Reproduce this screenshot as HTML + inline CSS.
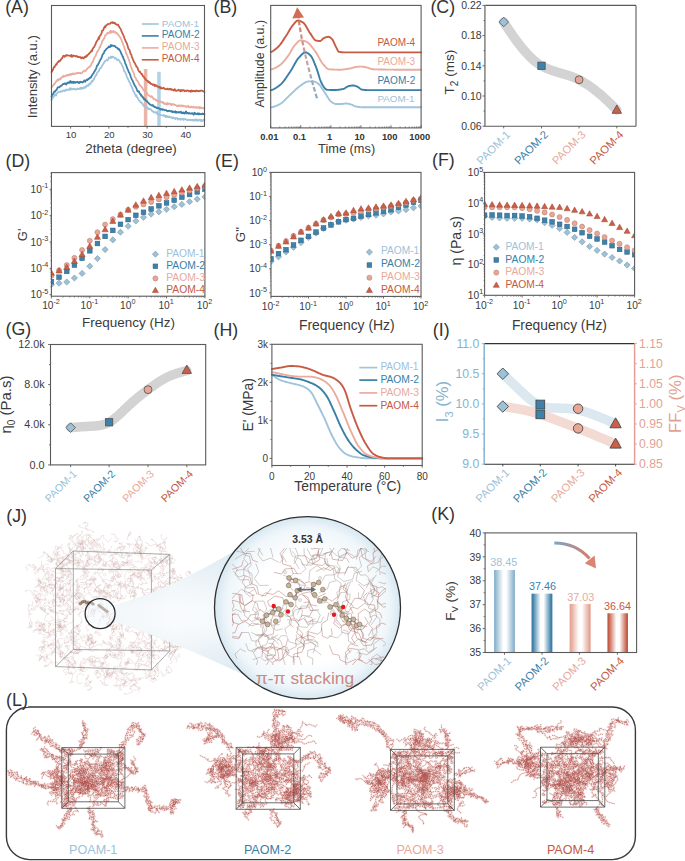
<!DOCTYPE html>
<html><head><meta charset="utf-8"><title>Figure</title>
<style>html,body{margin:0;padding:0;background:#fff;width:685px;height:861px;overflow:hidden;font-family:"Liberation Sans", sans-serif;}svg{display:block;}</style>
</head><body>
<svg width="685" height="861" viewBox="0 0 685 861" font-family='"Liberation Sans", sans-serif'>
<rect width="685" height="861" fill="#ffffff"/>
<text x="5.2" y="12.9" font-size="17.8" fill="#333" text-anchor="start">(A)</text>
<rect x="143.84" y="69" width="3.5" height="57" fill="#eab4a7"/>
<rect x="157.23" y="71.8" width="3.5" height="54" fill="#b1d2e4"/>
<path d="M51.5 100.42 L52.01 97.7 L52.52 98.39 L53.04 97.3 L53.55 96.73 L54.06 96.22 L54.57 94.82 L55.08 95.06 L55.59 94.24 L56.11 95.62 L56.62 93.76 L57.13 93.07 L57.64 92.71 L58.15 92.2 L58.66 91.74 L59.18 91.81 L59.69 92.01 L60.2 91.5 L60.71 91.85 L61.22 91.16 L61.73 91.1 L62.25 91.62 L62.76 91.03 L63.27 90.41 L63.78 90.42 L64.29 90.62 L64.8 91.13 L65.32 90.02 L65.83 89.92 L66.34 90.38 L66.85 89.44 L67.36 89.62 L67.87 90.06 L68.39 89.85 L68.9 89.55 L69.41 89.74 L69.92 88.11 L70.43 89.78 L70.94 88.83 L71.46 88.47 L71.97 89.3 L72.48 89.45 L72.99 88.9 L73.5 88.59 L74.02 89.06 L74.53 88.99 L75.04 89.63 L75.55 89.31 L76.06 89.04 L76.57 89.43 L77.09 88.81 L77.6 88.46 L78.11 89.11 L78.62 89.08 L79.13 88.69 L79.64 88.4 L80.16 88.81 L80.67 87.54 L81.18 88.92 L81.69 88.77 L82.2 87.75 L82.71 88.41 L83.23 87.81 L83.74 88.41 L84.25 86.93 L84.76 87.18 L85.27 87.63 L85.78 87.52 L86.3 85.7 L86.81 86.09 L87.32 86.09 L87.83 85.28 L88.34 85.86 L88.85 84.2 L89.37 84.48 L89.88 83.42 L90.39 84.05 L90.9 82.87 L91.41 82.11 L91.92 80.85 L92.44 81.68 L92.95 80.53 L93.46 79.75 L93.97 79.12 L94.48 77.94 L94.99 76.65 L95.51 75.73 L96.02 74.87 L96.53 74.99 L97.04 72.86 L97.55 72.42 L98.07 71.73 L98.58 71.18 L99.09 70.58 L99.6 69.02 L100.11 68.04 L100.62 68.02 L101.14 67.74 L101.65 66.71 L102.16 65.63 L102.67 64.57 L103.18 64.04 L103.69 63.02 L104.21 62.76 L104.72 61.34 L105.23 61.13 L105.74 60.46 L106.25 60.27 L106.76 59.73 L107.28 60.46 L107.79 59.68 L108.3 59.38 L108.81 57.51 L109.32 58 L109.83 57.64 L110.35 57.94 L110.86 56.49 L111.37 57.9 L111.88 57.75 L112.39 56.62 L112.9 56.76 L113.42 56.9 L113.93 57.4 L114.44 57.83 L114.95 58.68 L115.46 57.92 L115.97 58.64 L116.49 58.69 L117 59.75 L117.51 59.65 L118.02 60.31 L118.53 59.59 L119.05 60.46 L119.56 60.77 L120.07 62.51 L120.58 62.93 L121.09 63.39 L121.6 64.29 L122.12 65.75 L122.63 66.31 L123.14 67.35 L123.65 69.17 L124.16 71.27 L124.67 71.27 L125.19 72.36 L125.7 73.31 L126.21 74.44 L126.72 76.46 L127.23 77.75 L127.74 78.47 L128.26 79.68 L128.77 80.66 L129.28 81.79 L129.79 82.18 L130.3 83.81 L130.81 85.23 L131.33 85.98 L131.84 87.27 L132.35 88.26 L132.86 89.58 L133.37 91.2 L133.88 91.67 L134.4 92.77 L134.91 94.13 L135.42 94.92 L135.93 96.2 L136.44 95.27 L136.95 97.35 L137.47 97.48 L137.98 98.47 L138.49 99.48 L139 100.26 L139.51 100.88 L140.03 101.11 L140.54 102.37 L141.05 102.1 L141.56 102.72 L142.07 103.67 L142.58 103.58 L143.1 105.28 L143.61 105.24 L144.12 106.2 L144.63 105.64 L145.14 105.9 L145.65 106.55 L146.17 107.2 L146.68 106.98 L147.19 107.78 L147.7 107.95 L148.21 109.03 L148.72 108.34 L149.24 109.44 L149.75 108.99 L150.26 109.16 L150.77 109.58 L151.28 109.66 L151.79 110.56 L152.31 111.25 L152.82 111.15 L153.33 111.65 L153.84 112.39 L154.35 112.06 L154.86 112.31 L155.38 112.37 L155.89 112.04 L156.4 113.37 L156.91 112.49 L157.42 113.82 L157.93 113.77 L158.45 114.51 L158.96 114.2 L159.47 114.08 L159.98 114.82 L160.49 114.6 L161.01 114.96 L161.52 115.24 L162.03 115.32 L162.54 115.45 L163.05 115.31 L163.56 115.74 L164.08 115 L164.59 116.03 L165.1 115.7 L165.61 116.88 L166.12 117.08 L166.63 115.75 L167.15 116.82 L167.66 116.82 L168.17 116.53 L168.68 117.35 L169.19 117.02 L169.7 116.54 L170.22 117.32 L170.73 117.48 L171.24 117.69 L171.75 117.18 L172.26 118.11 L172.77 118.25 L173.29 117.49 L173.8 117.79 L174.31 118.13 L174.82 117.99 L175.33 119.1 L175.84 118.48 L176.36 117.99 L176.87 118.15 L177.38 118.54 L177.89 119.65 L178.4 118.59 L178.91 118.78 L179.43 119 L179.94 118.8 L180.45 119.9 L180.96 118.68 L181.47 119.31 L181.98 119.09 L182.5 119.35 L183.01 118.59 L183.52 119.96 L184.03 119.16 L184.54 119.27 L185.06 118.88 L185.57 119.02 L186.08 119.65 L186.59 119.88 L187.1 119.82 L187.61 120.07 L188.13 119.89 L188.64 119.62 L189.15 120.02 L189.66 119.95 L190.17 119.68 L190.68 120.09 L191.2 120.37 L191.71 119.94 L192.22 119.7 L192.73 120.22 L193.24 120.78 L193.75 119.87 L194.27 119.95 L194.78 119.96 L195.29 120.6 L195.8 119.25 L196.31 120.26 L196.82 120.66 L197.34 119.78 L197.85 120.83 L198.36 120.42 L198.87 119.95 L199.38 120.31 L199.89 119.54 L200.41 119.99 L200.92 121.08 L201.43 119.87 L201.94 121.11 L202.45 120.25 L202.96 120.74 L203.48 120.32 L203.99 119.29 L204.5 120.04" fill="none" stroke="#9fc4db" stroke-width="1.75" stroke-linejoin="round" stroke-linecap="round"/>
<path d="M51.5 96.59 L52.01 95.18 L52.52 94.3 L53.04 94.28 L53.55 93.06 L54.06 91.84 L54.57 91.57 L55.08 91.56 L55.59 90.29 L56.11 90.29 L56.62 89.96 L57.13 88.73 L57.64 87.7 L58.15 87.16 L58.66 87.32 L59.18 87.38 L59.69 86.78 L60.2 86.59 L60.71 85.83 L61.22 85.86 L61.73 85.21 L62.25 84.99 L62.76 84.27 L63.27 83.88 L63.78 84.11 L64.29 83.58 L64.8 83.41 L65.32 83.92 L65.83 83.37 L66.34 84.53 L66.85 83.46 L67.36 82.6 L67.87 83.09 L68.39 82.77 L68.9 82.2 L69.41 82.92 L69.92 82.01 L70.43 80.93 L70.94 82.64 L71.46 81.99 L71.97 82.91 L72.48 81.94 L72.99 81.68 L73.5 82.9 L74.02 81.71 L74.53 82.27 L75.04 82.83 L75.55 82.22 L76.06 82.12 L76.57 82.2 L77.09 82.52 L77.6 81.77 L78.11 82.4 L78.62 82.38 L79.13 83.16 L79.64 81.94 L80.16 81.67 L80.67 82.39 L81.18 81.86 L81.69 82.15 L82.2 82.05 L82.71 82.46 L83.23 81.54 L83.74 81.65 L84.25 80.36 L84.76 80.9 L85.27 81.74 L85.78 80.47 L86.3 80.16 L86.81 79.61 L87.32 80.07 L87.83 79.53 L88.34 78.54 L88.85 78.99 L89.37 78.42 L89.88 78.24 L90.39 77.14 L90.9 77.66 L91.41 76.43 L91.92 75.5 L92.44 74.55 L92.95 73.86 L93.46 73.49 L93.97 72.07 L94.48 71.73 L94.99 70.54 L95.51 69.89 L96.02 68.65 L96.53 67.25 L97.04 65.41 L97.55 65.4 L98.07 64.64 L98.58 63.4 L99.09 62.65 L99.6 61.27 L100.11 60.33 L100.62 59.03 L101.14 58.98 L101.65 57.32 L102.16 55.9 L102.67 54.39 L103.18 53.81 L103.69 53.47 L104.21 52.01 L104.72 50.53 L105.23 50.65 L105.74 49.9 L106.25 49.08 L106.76 48.5 L107.28 48.31 L107.79 47.69 L108.3 47.47 L108.81 46.46 L109.32 47.19 L109.83 46.36 L110.35 46.94 L110.86 44.91 L111.37 46 L111.88 46.01 L112.39 45.36 L112.9 45.71 L113.42 45.92 L113.93 45.98 L114.44 45.69 L114.95 46.14 L115.46 46.98 L115.97 47.46 L116.49 47.33 L117 47.75 L117.51 48.25 L118.02 49.09 L118.53 48.62 L119.05 49.05 L119.56 50.39 L120.07 50.64 L120.58 51.78 L121.09 53.08 L121.6 54.34 L122.12 54.79 L122.63 56.85 L123.14 56.95 L123.65 59.29 L124.16 59.66 L124.67 61.13 L125.19 63.34 L125.7 64.2 L126.21 65.34 L126.72 66.79 L127.23 68.44 L127.74 69.4 L128.26 70.56 L128.77 72.21 L129.28 72.59 L129.79 73.91 L130.3 75.1 L130.81 77.08 L131.33 78.21 L131.84 79.55 L132.35 80.15 L132.86 81.26 L133.37 82.85 L133.88 83.39 L134.4 85 L134.91 85.96 L135.42 86.28 L135.93 87.45 L136.44 88.31 L136.95 90 L137.47 91.22 L137.98 90.83 L138.49 91.68 L139 91.42 L139.51 93.3 L140.03 93.93 L140.54 94.16 L141.05 95.67 L141.56 95.27 L142.07 96.51 L142.58 97.27 L143.1 97.22 L143.61 98.71 L144.12 99.33 L144.63 98.75 L145.14 99.25 L145.65 100.65 L146.17 100.84 L146.68 100.77 L147.19 101.63 L147.7 102.14 L148.21 102.54 L148.72 103.37 L149.24 103.55 L149.75 104.53 L150.26 104.69 L150.77 104.7 L151.28 105.18 L151.79 105.58 L152.31 105.6 L152.82 105.01 L153.33 106.22 L153.84 106.14 L154.35 107.1 L154.86 106.67 L155.38 107.11 L155.89 107.26 L156.4 108.1 L156.91 107.65 L157.42 107.67 L157.93 108.14 L158.45 108.01 L158.96 108.48 L159.47 108.59 L159.98 108.89 L160.49 109.8 L161.01 108.92 L161.52 109.27 L162.03 109.31 L162.54 109.83 L163.05 109.13 L163.56 109.47 L164.08 109.89 L164.59 110.28 L165.1 110.13 L165.61 110.04 L166.12 109.99 L166.63 110.72 L167.15 111.24 L167.66 110.84 L168.17 110.88 L168.68 111.1 L169.19 110.57 L169.7 110.95 L170.22 111.06 L170.73 111.4 L171.24 111.34 L171.75 110.89 L172.26 112.02 L172.77 112.35 L173.29 111.55 L173.8 111.92 L174.31 111.93 L174.82 112.23 L175.33 111.27 L175.84 112.72 L176.36 111.85 L176.87 112.68 L177.38 112.2 L177.89 112.04 L178.4 112.2 L178.91 112.72 L179.43 111.98 L179.94 112.25 L180.45 112.25 L180.96 111.74 L181.47 113.15 L181.98 112.87 L182.5 112.65 L183.01 113.23 L183.52 112.32 L184.03 112.77 L184.54 113.62 L185.06 113.33 L185.57 111.93 L186.08 111.48 L186.59 112.56 L187.1 113.54 L187.61 112.9 L188.13 113.05 L188.64 113.46 L189.15 112.83 L189.66 113.37 L190.17 113.66 L190.68 113.56 L191.2 113.56 L191.71 113.15 L192.22 113.68 L192.73 113.29 L193.24 114.11 L193.75 114.71 L194.27 113.25 L194.78 112.63 L195.29 113.45 L195.8 113.83 L196.31 114.16 L196.82 114.2 L197.34 113.38 L197.85 113.4 L198.36 114.35 L198.87 113.31 L199.38 114.31 L199.89 113.73 L200.41 114.19 L200.92 114.18 L201.43 114.22 L201.94 114.25 L202.45 113.44 L202.96 114.03 L203.48 113.9 L203.99 114.04 L204.5 114.45" fill="none" stroke="#3a7fa8" stroke-width="1.75" stroke-linejoin="round" stroke-linecap="round"/>
<path d="M51.5 87.68 L52.01 86.74 L52.52 86.01 L53.04 85.47 L53.55 85.25 L54.06 83.85 L54.57 84.08 L55.08 83.04 L55.59 82.19 L56.11 81.11 L56.62 81.26 L57.13 80.94 L57.64 79.36 L58.15 80.25 L58.66 80.07 L59.18 79.14 L59.69 78.89 L60.2 79.46 L60.71 78.63 L61.22 77.39 L61.73 77.52 L62.25 77.2 L62.76 76.95 L63.27 75.71 L63.78 76.89 L64.29 76.04 L64.8 76.19 L65.32 75.85 L65.83 76.11 L66.34 75.4 L66.85 75 L67.36 75.43 L67.87 75.66 L68.39 74.73 L68.9 75.35 L69.41 74.71 L69.92 74.23 L70.43 75.03 L70.94 73.86 L71.46 74.58 L71.97 73.81 L72.48 74.15 L72.99 73.32 L73.5 73.42 L74.02 74.21 L74.53 73.76 L75.04 73.63 L75.55 73.36 L76.06 73.71 L76.57 72.82 L77.09 72.89 L77.6 73.26 L78.11 72.89 L78.62 72.88 L79.13 73.09 L79.64 72.98 L80.16 72.85 L80.67 73.6 L81.18 73.19 L81.69 73.16 L82.2 72.46 L82.71 72.06 L83.23 71.4 L83.74 71.61 L84.25 70.5 L84.76 70.81 L85.27 71 L85.78 70.95 L86.3 70.18 L86.81 68.85 L87.32 68.93 L87.83 67.81 L88.34 67.97 L88.85 66.98 L89.37 66.83 L89.88 67.01 L90.39 65.62 L90.9 65.53 L91.41 63.77 L91.92 62.69 L92.44 62.54 L92.95 61.77 L93.46 59.75 L93.97 59.02 L94.48 57.29 L94.99 56.78 L95.51 56.19 L96.02 54.66 L96.53 53.36 L97.04 51.9 L97.55 51.64 L98.07 50.78 L98.58 49.67 L99.09 48.53 L99.6 46.88 L100.11 47.23 L100.62 45.34 L101.14 44.19 L101.65 43.46 L102.16 41.03 L102.67 40.85 L103.18 39.72 L103.69 38.9 L104.21 38.34 L104.72 37.03 L105.23 35.15 L105.74 35.09 L106.25 34.72 L106.76 34.21 L107.28 33.21 L107.79 32.7 L108.3 33.37 L108.81 32.96 L109.32 32.51 L109.83 31.48 L110.35 32.83 L110.86 30.53 L111.37 31.52 L111.88 32.51 L112.39 31.44 L112.9 31.61 L113.42 31.05 L113.93 32.33 L114.44 31.35 L114.95 32.31 L115.46 32.57 L115.97 32.4 L116.49 33.67 L117 33.06 L117.51 33.84 L118.02 34.6 L118.53 34.91 L119.05 35.88 L119.56 36.81 L120.07 37.11 L120.58 37.96 L121.09 39.05 L121.6 40.28 L122.12 42.06 L122.63 42.92 L123.14 44.57 L123.65 45.77 L124.16 46.88 L124.67 49.13 L125.19 49.75 L125.7 51.7 L126.21 53.84 L126.72 54.11 L127.23 55.98 L127.74 56.64 L128.26 58.42 L128.77 59.32 L129.28 61.21 L129.79 62.56 L130.3 64.3 L130.81 66.41 L131.33 67.29 L131.84 68.91 L132.35 70.02 L132.86 71.33 L133.37 72.41 L133.88 73.28 L134.4 75.35 L134.91 77.21 L135.42 77.76 L135.93 78.29 L136.44 80.22 L136.95 80.19 L137.47 80.98 L137.98 81.57 L138.49 82.5 L139 83.62 L139.51 85.4 L140.03 85.15 L140.54 85.5 L141.05 86.39 L141.56 87.24 L142.07 87.22 L142.58 88.69 L143.1 89.57 L143.61 90.01 L144.12 90.73 L144.63 90.47 L145.14 90.87 L145.65 92.78 L146.17 93.25 L146.68 92.6 L147.19 93.91 L147.7 94.34 L148.21 95.05 L148.72 95.37 L149.24 95.49 L149.75 96.22 L150.26 96.59 L150.77 96.86 L151.28 96.38 L151.79 96.2 L152.31 97.51 L152.82 97.44 L153.33 98.6 L153.84 99.1 L154.35 99.19 L154.86 99.19 L155.38 99.66 L155.89 100.42 L156.4 99.82 L156.91 100.81 L157.42 100.95 L157.93 100.98 L158.45 101.74 L158.96 100.98 L159.47 101.93 L159.98 101.28 L160.49 101.54 L161.01 101.58 L161.52 102.43 L162.03 101.96 L162.54 102.56 L163.05 102.16 L163.56 103.29 L164.08 103.78 L164.59 103.18 L165.1 103.95 L165.61 103.59 L166.12 104.43 L166.63 103.62 L167.15 102.99 L167.66 104.48 L168.17 103.86 L168.68 103.56 L169.19 103.83 L169.7 103.5 L170.22 104.25 L170.73 103.94 L171.24 105.18 L171.75 104.91 L172.26 103.95 L172.77 104.1 L173.29 104.61 L173.8 104.08 L174.31 104.97 L174.82 105.08 L175.33 104.83 L175.84 105 L176.36 105.54 L176.87 106.03 L177.38 106.13 L177.89 105.54 L178.4 105.97 L178.91 105.32 L179.43 105.9 L179.94 105.35 L180.45 106.17 L180.96 105.35 L181.47 105.54 L181.98 106.03 L182.5 106.35 L183.01 105.51 L183.52 105.98 L184.03 106.34 L184.54 106.44 L185.06 106.02 L185.57 106.5 L186.08 106.4 L186.59 107.21 L187.1 106.88 L187.61 106.09 L188.13 105.76 L188.64 106.85 L189.15 107.39 L189.66 106.99 L190.17 107.36 L190.68 106.79 L191.2 106.45 L191.71 107.45 L192.22 107.2 L192.73 107.51 L193.24 106.63 L193.75 107.38 L194.27 107.06 L194.78 107.74 L195.29 107.16 L195.8 107.19 L196.31 107.24 L196.82 108.1 L197.34 107.58 L197.85 107.26 L198.36 107.18 L198.87 107.2 L199.38 108.36 L199.89 106.91 L200.41 107.37 L200.92 108.06 L201.43 108.33 L201.94 107.75 L202.45 108.19 L202.96 108.2 L203.48 108.32 L203.99 107.91 L204.5 108.64" fill="none" stroke="#e9ad9f" stroke-width="1.75" stroke-linejoin="round" stroke-linecap="round"/>
<path d="M51.5 72.1 L52.01 71.79 L52.52 69.71 L53.04 69.75 L53.55 67.91 L54.06 66.98 L54.57 67.07 L55.08 65.7 L55.59 65.52 L56.11 64.12 L56.62 64.64 L57.13 63.26 L57.64 62.13 L58.15 62.13 L58.66 61.9 L59.18 60.65 L59.69 60.73 L60.2 60.91 L60.71 59.87 L61.22 58.97 L61.73 58.22 L62.25 58.26 L62.76 56.86 L63.27 55.75 L63.78 56.43 L64.29 55.89 L64.8 56.87 L65.32 55.91 L65.83 55.22 L66.34 55.04 L66.85 55.75 L67.36 55.15 L67.87 55.27 L68.39 55.5 L68.9 55.59 L69.41 55.61 L69.92 55.64 L70.43 56.19 L70.94 56.39 L71.46 54.91 L71.97 56.84 L72.48 55.77 L72.99 56.3 L73.5 55.44 L74.02 55.95 L74.53 55.94 L75.04 55.95 L75.55 56.38 L76.06 56.42 L76.57 55.83 L77.09 56.41 L77.6 56.97 L78.11 57.15 L78.62 56.88 L79.13 57.09 L79.64 57.31 L80.16 57.04 L80.67 57.09 L81.18 58.47 L81.69 57.64 L82.2 57.88 L82.71 57.45 L83.23 58.26 L83.74 58.3 L84.25 57.2 L84.76 57.27 L85.27 56.39 L85.78 57.19 L86.3 56.44 L86.81 55.24 L87.32 55.76 L87.83 54.92 L88.34 54.49 L88.85 54 L89.37 53.08 L89.88 52.67 L90.39 52.67 L90.9 51.77 L91.41 50.69 L91.92 51.29 L92.44 49.49 L92.95 48.49 L93.46 47.54 L93.97 47.24 L94.48 46.42 L94.99 45.12 L95.51 44.42 L96.02 42.37 L96.53 41.89 L97.04 40.86 L97.55 40.12 L98.07 39.39 L98.58 37.35 L99.09 38.8 L99.6 36.16 L100.11 35.83 L100.62 35.13 L101.14 34.19 L101.65 32.96 L102.16 30.58 L102.67 30.45 L103.18 30.35 L103.69 28.71 L104.21 27.8 L104.72 26.42 L105.23 27.31 L105.74 26.36 L106.25 25.19 L106.76 25.1 L107.28 24.77 L107.79 23.99 L108.3 24.06 L108.81 24 L109.32 23.85 L109.83 23.92 L110.35 23.14 L110.86 22.73 L111.37 22.97 L111.88 22.4 L112.39 22.06 L112.9 23.13 L113.42 22.51 L113.93 22.88 L114.44 23.32 L114.95 22.79 L115.46 23.89 L115.97 24.16 L116.49 24.3 L117 24.93 L117.51 24.85 L118.02 24.65 L118.53 25.97 L119.05 26.23 L119.56 27.71 L120.07 28.23 L120.58 28.76 L121.09 30.01 L121.6 31.67 L122.12 32.71 L122.63 33.57 L123.14 34.85 L123.65 35.82 L124.16 37.21 L124.67 38.87 L125.19 39.9 L125.7 41.43 L126.21 42.12 L126.72 43.18 L127.23 44.43 L127.74 46.22 L128.26 48.19 L128.77 49.33 L129.28 49.59 L129.79 50.6 L130.3 52.95 L130.81 54.09 L131.33 54.56 L131.84 56.94 L132.35 57.81 L132.86 59.57 L133.37 60.35 L133.88 61.77 L134.4 62.64 L134.91 63.14 L135.42 64.47 L135.93 65.21 L136.44 66.81 L136.95 66.88 L137.47 67.52 L137.98 69.37 L138.49 70.41 L139 71.35 L139.51 71.97 L140.03 71.56 L140.54 72.66 L141.05 73.44 L141.56 74.36 L142.07 74.06 L142.58 75.66 L143.1 76.39 L143.61 76.43 L144.12 77.48 L144.63 78.53 L145.14 78.57 L145.65 79.56 L146.17 80.07 L146.68 80.31 L147.19 80.79 L147.7 80.92 L148.21 82.09 L148.72 81.75 L149.24 82.05 L149.75 83.06 L150.26 82.76 L150.77 83.59 L151.28 84.17 L151.79 84.01 L152.31 84.29 L152.82 84.92 L153.33 85.1 L153.84 84.32 L154.35 84.66 L154.86 86.08 L155.38 85.88 L155.89 84.99 L156.4 85.53 L156.91 86.35 L157.42 86.09 L157.93 86.92 L158.45 86.93 L158.96 87.28 L159.47 86.7 L159.98 87.66 L160.49 88.41 L161.01 87.31 L161.52 88.39 L162.03 88.36 L162.54 88.32 L163.05 88.12 L163.56 87.74 L164.08 87.97 L164.59 88.82 L165.1 89.02 L165.61 89.23 L166.12 89.22 L166.63 89.29 L167.15 88.78 L167.66 88.53 L168.17 89.26 L168.68 89.48 L169.19 89.38 L169.7 88.74 L170.22 89.27 L170.73 88.92 L171.24 89.72 L171.75 89.26 L172.26 89.72 L172.77 90.01 L173.29 89.99 L173.8 90.6 L174.31 89.54 L174.82 89.11 L175.33 90.57 L175.84 90.82 L176.36 90.87 L176.87 90.39 L177.38 90.54 L177.89 90.38 L178.4 89.77 L178.91 90.12 L179.43 90.63 L179.94 90.17 L180.45 91.31 L180.96 89.79 L181.47 90.31 L181.98 91.03 L182.5 90.28 L183.01 90.07 L183.52 89.99 L184.03 90.29 L184.54 91.32 L185.06 90.85 L185.57 90.92 L186.08 90.48 L186.59 91.11 L187.1 90.8 L187.61 90.36 L188.13 90.59 L188.64 90.9 L189.15 91.35 L189.66 90.82 L190.17 91.09 L190.68 91.79 L191.2 90.54 L191.71 90.35 L192.22 91.37 L192.73 91.14 L193.24 90.91 L193.75 91.09 L194.27 90.83 L194.78 91.23 L195.29 90.86 L195.8 91.38 L196.31 90.5 L196.82 90.67 L197.34 91.1 L197.85 90.85 L198.36 91.38 L198.87 91.06 L199.38 90.84 L199.89 91.18 L200.41 90.86 L200.92 90.4 L201.43 90.59 L201.94 90.75 L202.45 90.9 L202.96 91.16 L203.48 91.53 L203.99 91.37 L204.5 91.92" fill="none" stroke="#c75b43" stroke-width="1.75" stroke-linejoin="round" stroke-linecap="round"/>
<line x1="141.8" y1="24" x2="158.7" y2="24" stroke="#9fc4db" stroke-width="1.6"/>
<text x="161.81" y="26.5" font-size="9.9" fill="#9dc2d9" text-anchor="start">PAOM-1</text>
<line x1="141.8" y1="35.9" x2="158.7" y2="35.9" stroke="#3a7fa8" stroke-width="1.6"/>
<text x="161.79" y="38.4" font-size="10.08" fill="#3a7fa8" text-anchor="start">PAOM-2</text>
<line x1="141.8" y1="47.9" x2="158.7" y2="47.9" stroke="#e9ad9f" stroke-width="1.6"/>
<text x="161.8" y="50.4" font-size="10.05" fill="#e8aa9b" text-anchor="start">PAOM-3</text>
<line x1="141.8" y1="59.8" x2="158.7" y2="59.8" stroke="#c75b43" stroke-width="1.6"/>
<text x="161.8" y="62.3" font-size="10.03" fill="#c45a43" text-anchor="start">PAOM-4</text>
<rect x="51.5" y="5.5" width="153" height="120.9" fill="none" stroke="#5a5a5a" stroke-width="1.1"/>
<line x1="70.62" y1="126.4" x2="70.62" y2="128.6" stroke="#5a5a5a" stroke-width="0.9"/>
<text x="71.03" y="138.2" font-size="9.6" fill="#3a3a3a" text-anchor="middle">10</text>
<line x1="108.88" y1="126.4" x2="108.88" y2="128.6" stroke="#5a5a5a" stroke-width="0.9"/>
<text x="109.28" y="138.2" font-size="9.6" fill="#3a3a3a" text-anchor="middle">20</text>
<line x1="147.12" y1="126.4" x2="147.12" y2="128.6" stroke="#5a5a5a" stroke-width="0.9"/>
<text x="147.53" y="138.2" font-size="9.6" fill="#3a3a3a" text-anchor="middle">30</text>
<line x1="185.38" y1="126.4" x2="185.38" y2="128.6" stroke="#5a5a5a" stroke-width="0.9"/>
<text x="185.78" y="138.2" font-size="9.6" fill="#3a3a3a" text-anchor="middle">40</text>
<line x1="89.75" y1="126.4" x2="89.75" y2="127.9" stroke="#5a5a5a" stroke-width="0.8"/>
<line x1="128" y1="126.4" x2="128" y2="127.9" stroke="#5a5a5a" stroke-width="0.8"/>
<line x1="166.25" y1="126.4" x2="166.25" y2="127.9" stroke="#5a5a5a" stroke-width="0.8"/>
<text x="131.04" y="153.4" font-size="13.4" fill="#3a3a3a" text-anchor="middle">2theta (degree)</text>
<text transform="translate(36.8 76.64) rotate(-90)" font-size="13.11" fill="#3a3a3a" text-anchor="middle">Intensity (a.u.)</text>
<text x="213.5" y="12.9" font-size="17.8" fill="#333" text-anchor="start">(B)</text>
<path d="M270.7 107.4 L271.2 107.34 L271.71 107.25 L272.21 107.15 L272.71 107.03 L273.22 106.9 L273.72 106.75 L274.22 106.59 L274.72 106.41 L275.23 106.22 L275.73 106.02 L276.23 105.81 L276.74 105.59 L277.24 105.36 L277.74 105.13 L278.25 104.89 L278.75 104.64 L279.25 104.38 L279.75 104.13 L280.26 103.86 L280.76 103.56 L281.26 103.23 L281.77 102.87 L282.27 102.48 L282.77 102.06 L283.28 101.62 L283.78 101.16 L284.28 100.68 L284.78 100.19 L285.29 99.69 L285.79 99.18 L286.29 98.67 L286.8 98.15 L287.3 97.63 L287.8 97.12 L288.31 96.62 L288.81 96.12 L289.31 95.64 L289.81 95.17 L290.32 94.71 L290.82 94.25 L291.32 93.78 L291.83 93.3 L292.33 92.81 L292.83 92.33 L293.34 91.84 L293.84 91.35 L294.34 90.86 L294.84 90.38 L295.35 89.9 L295.85 89.43 L296.35 88.97 L296.86 88.51 L297.36 88.07 L297.86 87.64 L298.37 87.23 L298.87 86.83 L299.37 86.45 L299.87 86.09 L300.38 85.74 L300.88 85.38 L301.38 85.01 L301.89 84.63 L302.39 84.26 L302.89 83.9 L303.4 83.54 L303.9 83.2 L304.4 82.88 L304.9 82.58 L305.41 82.3 L305.91 82.06 L306.41 81.86 L306.92 81.69 L307.42 81.58 L307.92 81.51 L308.43 81.47 L308.93 81.44 L309.43 81.41 L309.93 81.38 L310.44 81.36 L310.94 81.34 L311.44 81.32 L311.95 81.31 L312.45 81.3 L312.95 81.3 L313.46 81.33 L313.96 81.42 L314.46 81.56 L314.96 81.75 L315.47 81.98 L315.97 82.24 L316.47 82.53 L316.98 82.84 L317.48 83.16 L317.98 83.49 L318.49 83.86 L318.99 84.32 L319.49 84.86 L319.99 85.47 L320.5 86.14 L321 86.85 L321.5 87.61 L322.01 88.39 L322.51 89.18 L323.01 89.99 L323.52 90.78 L324.02 91.56 L324.52 92.32 L325.03 93.03 L325.53 93.76 L326.03 94.54 L326.53 95.35 L327.04 96.17 L327.54 97 L328.04 97.81 L328.55 98.6 L329.05 99.33 L329.55 100.01 L330.06 100.62 L330.56 101.13 L331.06 101.54 L331.56 101.91 L332.07 102.27 L332.57 102.62 L333.07 102.95 L333.58 103.25 L334.08 103.51 L334.58 103.72 L335.09 103.88 L335.59 103.97 L336.09 104 L336.59 104 L337.1 104 L337.6 104 L338.1 104 L338.61 104 L339.11 104 L339.61 104 L340.12 104 L340.62 104 L341.12 104 L341.62 103.98 L342.13 103.94 L342.63 103.88 L343.13 103.8 L343.64 103.73 L344.14 103.66 L344.64 103.59 L345.15 103.54 L345.65 103.51 L346.15 103.5 L346.65 103.53 L347.16 103.58 L347.66 103.66 L348.16 103.76 L348.67 103.87 L349.17 104 L349.67 104.14 L350.18 104.27 L350.68 104.41 L351.18 104.55 L351.68 104.72 L352.19 104.93 L352.69 105.16 L353.19 105.4 L353.7 105.65 L354.2 105.88 L354.7 106.1 L355.21 106.29 L355.71 106.44 L356.21 106.54 L356.71 106.63 L357.22 106.72 L357.72 106.8 L358.22 106.88 L358.73 106.95 L359.23 107.02 L359.73 107.07 L360.24 107.12 L360.74 107.16 L361.24 107.18 L361.74 107.2 L362.25 107.2 L362.75 107.2 L363.25 107.2 L363.76 107.2 L364.26 107.2 L364.76 107.2 L365.27 107.2 L365.77 107.2 L366.27 107.2 L366.77 107.2 L367.28 107.2 L367.78 107.2 L368.28 107.2 L368.79 107.2 L369.29 107.2 L369.79 107.2 L370.3 107.2 L370.8 107.2 L371.3 107.2 L371.81 107.2 L372.31 107.2 L372.81 107.2 L373.31 107.2 L373.82 107.2 L374.32 107.2 L374.82 107.2 L375.33 107.2 L375.83 107.2 L376.33 107.2 L376.84 107.2 L377.34 107.2 L377.84 107.2 L378.34 107.2 L378.85 107.2 L379.35 107.2 L379.85 107.2 L380.36 107.2 L380.86 107.2 L381.36 107.2 L381.87 107.2 L382.37 107.2 L382.87 107.2 L383.37 107.2 L383.88 107.2 L384.38 107.2 L384.88 107.2 L385.39 107.2 L385.89 107.2 L386.39 107.2 L386.9 107.2 L387.4 107.2 L387.9 107.2 L388.4 107.2 L388.91 107.2 L389.41 107.2 L389.91 107.2 L390.42 107.2 L390.92 107.2 L391.42 107.2 L391.93 107.2 L392.43 107.2 L392.93 107.2 L393.43 107.2 L393.94 107.2 L394.44 107.2 L394.94 107.2 L395.45 107.2 L395.95 107.2 L396.45 107.2 L396.96 107.2 L397.46 107.2 L397.96 107.2 L398.46 107.2 L398.97 107.2 L399.47 107.2 L399.97 107.2 L400.48 107.2 L400.98 107.2 L401.48 107.2 L401.99 107.2 L402.49 107.2 L402.99 107.2 L403.49 107.2 L404 107.2 L404.5 107.2 L405 107.2 L405.51 107.2 L406.01 107.2 L406.51 107.2 L407.02 107.2 L407.52 107.2 L408.02 107.2 L408.52 107.2 L409.03 107.2 L409.53 107.2 L410.03 107.2 L410.54 107.2 L411.04 107.2 L411.54 107.2 L412.05 107.2 L412.55 107.2 L413.05 107.2 L413.55 107.2 L414.06 107.2 L414.56 107.2 L415.06 107.2 L415.57 107.2 L416.07 107.2 L416.57 107.2 L417.08 107.2 L417.58 107.2 L418.08 107.2 L418.58 107.2 L419.09 107.2 L419.59 107.2 L420.09 107.2 L420.6 107.2 L421.1 107.2" fill="none" stroke="#9fc4db" stroke-width="1.9" stroke-linejoin="round" stroke-linecap="round"/>
<path d="M270.7 90.2 L271.2 90.09 L271.71 89.94 L272.21 89.78 L272.71 89.59 L273.22 89.38 L273.72 89.15 L274.22 88.9 L274.72 88.63 L275.23 88.34 L275.73 88.04 L276.23 87.72 L276.74 87.39 L277.24 87.05 L277.74 86.69 L278.25 86.33 L278.75 85.96 L279.25 85.58 L279.75 85.19 L280.26 84.79 L280.76 84.36 L281.26 83.88 L281.77 83.37 L282.27 82.81 L282.77 82.23 L283.28 81.62 L283.78 80.98 L284.28 80.31 L284.78 79.63 L285.29 78.93 L285.79 78.21 L286.29 77.48 L286.8 76.74 L287.3 75.99 L287.8 75.24 L288.31 74.49 L288.81 73.75 L289.31 73 L289.81 72.27 L290.32 71.53 L290.82 70.75 L291.32 69.94 L291.83 69.08 L292.33 68.21 L292.83 67.31 L293.34 66.4 L293.84 65.49 L294.34 64.58 L294.84 63.68 L295.35 62.79 L295.85 61.93 L296.35 61.1 L296.86 60.3 L297.36 59.55 L297.86 58.85 L298.37 58.21 L298.87 57.64 L299.37 57.11 L299.87 56.57 L300.38 56.02 L300.88 55.48 L301.38 54.96 L301.89 54.45 L302.39 53.98 L302.89 53.55 L303.4 53.18 L303.9 52.87 L304.4 52.63 L304.9 52.47 L305.41 52.4 L305.91 52.43 L306.41 52.54 L306.92 52.73 L307.42 52.99 L307.92 53.3 L308.43 53.67 L308.93 54.07 L309.43 54.51 L309.93 54.97 L310.44 55.44 L310.94 55.99 L311.44 56.69 L311.95 57.54 L312.45 58.51 L312.95 59.58 L313.46 60.73 L313.96 61.94 L314.46 63.18 L314.96 64.44 L315.47 65.7 L315.97 66.93 L316.47 68.21 L316.98 69.63 L317.48 71.16 L317.98 72.76 L318.49 74.4 L318.99 76.05 L319.49 77.66 L319.99 79.2 L320.5 80.64 L321 81.95 L321.5 83.08 L322.01 84.01 L322.51 84.83 L323.01 85.66 L323.52 86.46 L324.02 87.21 L324.52 87.91 L325.03 88.53 L325.53 89.05 L326.03 89.44 L326.53 89.7 L327.04 89.8 L327.54 89.83 L328.04 89.85 L328.55 89.87 L329.05 89.89 L329.55 89.91 L330.06 89.93 L330.56 89.94 L331.06 89.95 L331.56 89.97 L332.07 89.98 L332.57 89.98 L333.07 89.99 L333.58 89.99 L334.08 90 L334.58 90 L335.09 90 L335.59 89.99 L336.09 89.98 L336.59 89.95 L337.1 89.91 L337.6 89.87 L338.1 89.82 L338.61 89.76 L339.11 89.69 L339.61 89.62 L340.12 89.54 L340.62 89.45 L341.12 89.37 L341.62 89.27 L342.13 89.18 L342.63 89.08 L343.13 88.97 L343.64 88.81 L344.14 88.6 L344.64 88.33 L345.15 88.04 L345.65 87.72 L346.15 87.39 L346.65 87.07 L347.16 86.76 L347.66 86.49 L348.16 86.26 L348.67 86.08 L349.17 85.97 L349.67 85.87 L350.18 85.78 L350.68 85.7 L351.18 85.63 L351.68 85.57 L352.19 85.53 L352.69 85.5 L353.19 85.5 L353.7 85.55 L354.2 85.63 L354.7 85.74 L355.21 85.89 L355.71 86.05 L356.21 86.22 L356.71 86.4 L357.22 86.59 L357.72 86.85 L358.22 87.18 L358.73 87.55 L359.23 87.96 L359.73 88.36 L360.24 88.74 L360.74 89.09 L361.24 89.36 L361.74 89.55 L362.25 89.64 L362.75 89.71 L363.25 89.77 L363.76 89.84 L364.26 89.89 L364.76 89.94 L365.27 89.99 L365.77 90.02 L366.27 90.05 L366.77 90.08 L367.28 90.09 L367.78 90.1 L368.28 90.1 L368.79 90.1 L369.29 90.1 L369.79 90.1 L370.3 90.1 L370.8 90.1 L371.3 90.1 L371.81 90.1 L372.31 90.1 L372.81 90.1 L373.31 90.1 L373.82 90.1 L374.32 90.1 L374.82 90.1 L375.33 90.1 L375.83 90.1 L376.33 90.1 L376.84 90.1 L377.34 90.1 L377.84 90.1 L378.34 90.1 L378.85 90.1 L379.35 90.1 L379.85 90.1 L380.36 90.1 L380.86 90.1 L381.36 90.1 L381.87 90.1 L382.37 90.1 L382.87 90.1 L383.37 90.1 L383.88 90.1 L384.38 90.1 L384.88 90.1 L385.39 90.1 L385.89 90.1 L386.39 90.1 L386.9 90.1 L387.4 90.1 L387.9 90.1 L388.4 90.1 L388.91 90.1 L389.41 90.1 L389.91 90.1 L390.42 90.1 L390.92 90.1 L391.42 90.1 L391.93 90.1 L392.43 90.1 L392.93 90.1 L393.43 90.1 L393.94 90.1 L394.44 90.1 L394.94 90.1 L395.45 90.1 L395.95 90.1 L396.45 90.1 L396.96 90.1 L397.46 90.1 L397.96 90.1 L398.46 90.1 L398.97 90.1 L399.47 90.1 L399.97 90.1 L400.48 90.1 L400.98 90.1 L401.48 90.1 L401.99 90.1 L402.49 90.1 L402.99 90.1 L403.49 90.1 L404 90.1 L404.5 90.1 L405 90.1 L405.51 90.1 L406.01 90.1 L406.51 90.1 L407.02 90.1 L407.52 90.1 L408.02 90.1 L408.52 90.1 L409.03 90.1 L409.53 90.1 L410.03 90.1 L410.54 90.1 L411.04 90.1 L411.54 90.1 L412.05 90.1 L412.55 90.1 L413.05 90.1 L413.55 90.1 L414.06 90.1 L414.56 90.1 L415.06 90.1 L415.57 90.1 L416.07 90.1 L416.57 90.1 L417.08 90.1 L417.58 90.1 L418.08 90.1 L418.58 90.1 L419.09 90.1 L419.59 90.1 L420.09 90.1 L420.6 90.1 L421.1 90.1" fill="none" stroke="#3a7fa8" stroke-width="1.9" stroke-linejoin="round" stroke-linecap="round"/>
<path d="M270.7 69.5 L271.2 69.42 L271.71 69.31 L272.21 69.18 L272.71 69.02 L273.22 68.84 L273.72 68.65 L274.22 68.43 L274.72 68.2 L275.23 67.95 L275.73 67.68 L276.23 67.4 L276.74 67.11 L277.24 66.81 L277.74 66.49 L278.25 66.17 L278.75 65.84 L279.25 65.51 L279.75 65.17 L280.26 64.82 L280.76 64.43 L281.26 64.01 L281.77 63.54 L282.27 63.05 L282.77 62.52 L283.28 61.97 L283.78 61.39 L284.28 60.8 L284.78 60.18 L285.29 59.55 L285.79 58.9 L286.29 58.25 L286.8 57.59 L287.3 56.92 L287.8 56.26 L288.31 55.58 L288.81 54.85 L289.31 54.06 L289.81 53.22 L290.32 52.36 L290.82 51.48 L291.32 50.59 L291.83 49.7 L292.33 48.83 L292.83 47.99 L293.34 47.2 L293.84 46.45 L294.34 45.77 L294.84 45.17 L295.35 44.63 L295.85 44.07 L296.35 43.51 L296.86 42.96 L297.36 42.42 L297.86 41.92 L298.37 41.46 L298.87 41.06 L299.37 40.73 L299.87 40.49 L300.38 40.34 L300.88 40.3 L301.38 40.32 L301.89 40.37 L302.39 40.45 L302.89 40.56 L303.4 40.69 L303.9 40.83 L304.4 41 L304.9 41.18 L305.41 41.37 L305.91 41.56 L306.41 41.76 L306.92 41.99 L307.42 42.28 L307.92 42.63 L308.43 43.03 L308.93 43.48 L309.43 43.98 L309.93 44.51 L310.44 45.08 L310.94 45.68 L311.44 46.3 L311.95 46.95 L312.45 47.6 L312.95 48.27 L313.46 48.95 L313.96 49.62 L314.46 50.29 L314.96 50.95 L315.47 51.64 L315.97 52.39 L316.47 53.19 L316.98 54.03 L317.48 54.91 L317.98 55.81 L318.49 56.73 L318.99 57.65 L319.49 58.57 L319.99 59.47 L320.5 60.35 L321 61.19 L321.5 61.99 L322.01 62.73 L322.51 63.41 L323.01 64.01 L323.52 64.59 L324.02 65.19 L324.52 65.78 L325.03 66.37 L325.53 66.94 L326.03 67.47 L326.53 67.96 L327.04 68.39 L327.54 68.75 L328.04 69.03 L328.55 69.22 L329.05 69.3 L329.55 69.34 L330.06 69.38 L330.56 69.41 L331.06 69.44 L331.56 69.47 L332.07 69.5 L332.57 69.52 L333.07 69.55 L333.58 69.57 L334.08 69.59 L334.58 69.61 L335.09 69.63 L335.59 69.64 L336.09 69.65 L336.59 69.66 L337.1 69.67 L337.6 69.68 L338.1 69.69 L338.61 69.69 L339.11 69.7 L339.61 69.7 L340.12 69.7 L340.62 69.69 L341.12 69.68 L341.62 69.65 L342.13 69.62 L342.63 69.58 L343.13 69.53 L343.64 69.48 L344.14 69.42 L344.64 69.36 L345.15 69.29 L345.65 69.22 L346.15 69.14 L346.65 69.06 L347.16 68.98 L347.66 68.9 L348.16 68.81 L348.67 68.73 L349.17 68.64 L349.67 68.55 L350.18 68.47 L350.68 68.37 L351.18 68.24 L351.68 68.11 L352.19 67.96 L352.69 67.81 L353.19 67.66 L353.7 67.51 L354.2 67.37 L354.7 67.24 L355.21 67.13 L355.71 67.04 L356.21 66.97 L356.71 66.92 L357.22 66.86 L357.72 66.8 L358.22 66.75 L358.73 66.71 L359.23 66.67 L359.73 66.64 L360.24 66.61 L360.74 66.6 L361.24 66.6 L361.74 66.62 L362.25 66.66 L362.75 66.71 L363.25 66.78 L363.76 66.86 L364.26 66.95 L364.76 67.04 L365.27 67.14 L365.77 67.25 L366.27 67.35 L366.77 67.45 L367.28 67.56 L367.78 67.7 L368.28 67.86 L368.79 68.05 L369.29 68.25 L369.79 68.45 L370.3 68.65 L370.8 68.83 L371.3 68.99 L371.81 69.13 L372.31 69.23 L372.81 69.29 L373.31 69.31 L373.82 69.32 L374.32 69.33 L374.82 69.35 L375.33 69.36 L375.83 69.37 L376.33 69.38 L376.84 69.4 L377.34 69.41 L377.84 69.42 L378.34 69.43 L378.85 69.44 L379.35 69.45 L379.85 69.46 L380.36 69.47 L380.86 69.48 L381.36 69.49 L381.87 69.5 L382.37 69.51 L382.87 69.52 L383.37 69.53 L383.88 69.54 L384.38 69.55 L384.88 69.56 L385.39 69.56 L385.89 69.57 L386.39 69.58 L386.9 69.59 L387.4 69.59 L387.9 69.6 L388.4 69.61 L388.91 69.62 L389.41 69.62 L389.91 69.63 L390.42 69.64 L390.92 69.64 L391.42 69.65 L391.93 69.66 L392.43 69.66 L392.93 69.67 L393.43 69.67 L393.94 69.68 L394.44 69.68 L394.94 69.69 L395.45 69.69 L395.95 69.7 L396.45 69.7 L396.96 69.71 L397.46 69.71 L397.96 69.72 L398.46 69.72 L398.97 69.73 L399.47 69.73 L399.97 69.73 L400.48 69.74 L400.98 69.74 L401.48 69.74 L401.99 69.75 L402.49 69.75 L402.99 69.75 L403.49 69.76 L404 69.76 L404.5 69.76 L405 69.76 L405.51 69.77 L406.01 69.77 L406.51 69.77 L407.02 69.77 L407.52 69.78 L408.02 69.78 L408.52 69.78 L409.03 69.78 L409.53 69.78 L410.03 69.78 L410.54 69.79 L411.04 69.79 L411.54 69.79 L412.05 69.79 L412.55 69.79 L413.05 69.79 L413.55 69.79 L414.06 69.79 L414.56 69.8 L415.06 69.8 L415.57 69.8 L416.07 69.8 L416.57 69.8 L417.08 69.8 L417.58 69.8 L418.08 69.8 L418.58 69.8 L419.09 69.8 L419.59 69.8 L420.09 69.8 L420.6 69.8 L421.1 69.8" fill="none" stroke="#e9ad9f" stroke-width="1.9" stroke-linejoin="round" stroke-linecap="round"/>
<path d="M270.7 52 L271.2 51.81 L271.71 51.58 L272.21 51.33 L272.71 51.06 L273.22 50.76 L273.72 50.44 L274.22 50.1 L274.72 49.73 L275.23 49.35 L275.73 48.96 L276.23 48.55 L276.74 48.12 L277.24 47.68 L277.74 47.23 L278.25 46.77 L278.75 46.26 L279.25 45.71 L279.75 45.11 L280.26 44.48 L280.76 43.81 L281.26 43.12 L281.77 42.4 L282.27 41.66 L282.77 40.91 L283.28 40.14 L283.78 39.37 L284.28 38.6 L284.78 37.83 L285.29 37.06 L285.79 36.31 L286.29 35.56 L286.8 34.78 L287.3 33.96 L287.8 33.12 L288.31 32.26 L288.81 31.39 L289.31 30.52 L289.81 29.67 L290.32 28.83 L290.82 28.01 L291.32 27.24 L291.83 26.5 L292.33 25.82 L292.83 25.19 L293.34 24.61 L293.84 24.01 L294.34 23.39 L294.84 22.79 L295.35 22.21 L295.85 21.69 L296.35 21.23 L296.86 20.87 L297.36 20.62 L297.86 20.51 L298.37 20.52 L298.87 20.58 L299.37 20.7 L299.87 20.86 L300.38 21.06 L300.88 21.3 L301.38 21.56 L301.89 21.84 L302.39 22.13 L302.89 22.43 L303.4 22.78 L303.9 23.26 L304.4 23.84 L304.9 24.51 L305.41 25.27 L305.91 26.08 L306.41 26.94 L306.92 27.83 L307.42 28.74 L307.92 29.64 L308.43 30.53 L308.93 31.38 L309.43 32.18 L309.93 32.91 L310.44 33.62 L310.94 34.38 L311.44 35.17 L311.95 35.97 L312.45 36.77 L312.95 37.54 L313.46 38.26 L313.96 38.92 L314.46 39.49 L314.96 39.96 L315.47 40.3 L315.97 40.49 L316.47 40.6 L316.98 40.7 L317.48 40.78 L317.98 40.86 L318.49 40.92 L318.99 40.96 L319.49 40.99 L319.99 41 L320.5 40.89 L321 40.6 L321.5 40.19 L322.01 39.69 L322.51 39.17 L323.01 38.68 L323.52 38.27 L324.02 37.99 L324.52 37.79 L325.03 37.6 L325.53 37.41 L326.03 37.24 L326.53 37.09 L327.04 36.97 L327.54 36.88 L328.04 36.82 L328.55 36.8 L329.05 36.88 L329.55 37.07 L330.06 37.35 L330.56 37.72 L331.06 38.13 L331.56 38.59 L332.07 39.07 L332.57 39.71 L333.07 40.59 L333.58 41.63 L334.08 42.77 L334.58 43.96 L335.09 45.13 L335.59 46.21 L336.09 47.16 L336.59 48.15 L337.1 49.18 L337.6 50.17 L338.1 51.01 L338.61 51.59 L339.11 51.82 L339.61 51.92 L340.12 52.01 L340.62 52.09 L341.12 52.16 L341.62 52.22 L342.13 52.27 L342.63 52.31 L343.13 52.35 L343.64 52.37 L344.14 52.39 L344.64 52.4 L345.15 52.4 L345.65 52.4 L346.15 52.4 L346.65 52.4 L347.16 52.4 L347.66 52.4 L348.16 52.4 L348.67 52.4 L349.17 52.4 L349.67 52.4 L350.18 52.4 L350.68 52.4 L351.18 52.4 L351.68 52.4 L352.19 52.4 L352.69 52.4 L353.19 52.4 L353.7 52.4 L354.2 52.4 L354.7 52.4 L355.21 52.4 L355.71 52.4 L356.21 52.4 L356.71 52.4 L357.22 52.4 L357.72 52.4 L358.22 52.4 L358.73 52.4 L359.23 52.4 L359.73 52.4 L360.24 52.4 L360.74 52.4 L361.24 52.4 L361.74 52.4 L362.25 52.4 L362.75 52.4 L363.25 52.4 L363.76 52.4 L364.26 52.4 L364.76 52.4 L365.27 52.4 L365.77 52.4 L366.27 52.4 L366.77 52.4 L367.28 52.4 L367.78 52.4 L368.28 52.4 L368.79 52.4 L369.29 52.4 L369.79 52.4 L370.3 52.4 L370.8 52.4 L371.3 52.4 L371.81 52.4 L372.31 52.4 L372.81 52.4 L373.31 52.4 L373.82 52.4 L374.32 52.4 L374.82 52.4 L375.33 52.4 L375.83 52.4 L376.33 52.4 L376.84 52.4 L377.34 52.4 L377.84 52.4 L378.34 52.4 L378.85 52.4 L379.35 52.4 L379.85 52.4 L380.36 52.4 L380.86 52.4 L381.36 52.4 L381.87 52.4 L382.37 52.4 L382.87 52.4 L383.37 52.4 L383.88 52.4 L384.38 52.4 L384.88 52.4 L385.39 52.4 L385.89 52.4 L386.39 52.4 L386.9 52.4 L387.4 52.4 L387.9 52.4 L388.4 52.4 L388.91 52.4 L389.41 52.4 L389.91 52.4 L390.42 52.4 L390.92 52.4 L391.42 52.4 L391.93 52.4 L392.43 52.4 L392.93 52.4 L393.43 52.4 L393.94 52.4 L394.44 52.4 L394.94 52.4 L395.45 52.4 L395.95 52.4 L396.45 52.4 L396.96 52.4 L397.46 52.4 L397.96 52.4 L398.46 52.4 L398.97 52.4 L399.47 52.4 L399.97 52.4 L400.48 52.4 L400.98 52.4 L401.48 52.4 L401.99 52.4 L402.49 52.4 L402.99 52.4 L403.49 52.4 L404 52.4 L404.5 52.4 L405 52.4 L405.51 52.4 L406.01 52.4 L406.51 52.4 L407.02 52.4 L407.52 52.4 L408.02 52.4 L408.52 52.4 L409.03 52.4 L409.53 52.4 L410.03 52.4 L410.54 52.4 L411.04 52.4 L411.54 52.4 L412.05 52.4 L412.55 52.4 L413.05 52.4 L413.55 52.4 L414.06 52.4 L414.56 52.4 L415.06 52.4 L415.57 52.4 L416.07 52.4 L416.57 52.4 L417.08 52.4 L417.58 52.4 L418.08 52.4 L418.58 52.4 L419.09 52.4 L419.59 52.4 L420.09 52.4 L420.6 52.4 L421.1 52.4" fill="none" stroke="#c75b43" stroke-width="1.9" stroke-linejoin="round" stroke-linecap="round"/>
<defs><linearGradient id="gB" x1="0" y1="1" x2="0" y2="0"><stop offset="0" stop-color="#86a9c4"/><stop offset="0.5" stop-color="#c7a6a3"/><stop offset="1" stop-color="#d27a66"/></linearGradient></defs>
<path d="M317 98.3 Q302.5 50 298.6 18.5" stroke="url(#gB)" stroke-width="2.2" stroke-dasharray="4.6 2.2" fill="none"/>
<path d="M297.2 7.2 L304 17.4 L292.4 18.4 Z" fill="#cf6d55"/>
<text x="377.41" y="101.9" font-size="9.9" fill="#9dc2d9" text-anchor="start">PAOM-1</text>
<text x="377.39" y="83.6" font-size="10.08" fill="#3a7fa8" text-anchor="start">PAOM-2</text>
<text x="377.4" y="64.8" font-size="10.05" fill="#e8aa9b" text-anchor="start">PAOM-3</text>
<text x="377.4" y="45.7" font-size="10.03" fill="#c45a43" text-anchor="start">PAOM-4</text>
<rect x="270.7" y="5.4" width="150.4" height="122.5" fill="none" stroke="#5a5a5a" stroke-width="1.1"/>
<line x1="270.7" y1="127.9" x2="270.7" y2="125.3" stroke="#5a5a5a" stroke-width="0.9"/>
<text x="269.4" y="140.2" font-size="9.4" fill="#333" text-anchor="middle" font-weight="bold">0.01</text>
<line x1="279.75" y1="127.9" x2="279.75" y2="126.4" stroke="#5a5a5a" stroke-width="0.7"/>
<line x1="285.05" y1="127.9" x2="285.05" y2="126.4" stroke="#5a5a5a" stroke-width="0.7"/>
<line x1="288.81" y1="127.9" x2="288.81" y2="126.4" stroke="#5a5a5a" stroke-width="0.7"/>
<line x1="291.73" y1="127.9" x2="291.73" y2="126.4" stroke="#5a5a5a" stroke-width="0.7"/>
<line x1="294.11" y1="127.9" x2="294.11" y2="126.4" stroke="#5a5a5a" stroke-width="0.7"/>
<line x1="296.12" y1="127.9" x2="296.12" y2="126.4" stroke="#5a5a5a" stroke-width="0.7"/>
<line x1="297.86" y1="127.9" x2="297.86" y2="126.4" stroke="#5a5a5a" stroke-width="0.7"/>
<line x1="299.4" y1="127.9" x2="299.4" y2="126.4" stroke="#5a5a5a" stroke-width="0.7"/>
<line x1="300.78" y1="127.9" x2="300.78" y2="125.3" stroke="#5a5a5a" stroke-width="0.9"/>
<text x="299.48" y="140.2" font-size="9.4" fill="#333" text-anchor="middle" font-weight="bold">0.1</text>
<line x1="309.83" y1="127.9" x2="309.83" y2="126.4" stroke="#5a5a5a" stroke-width="0.7"/>
<line x1="315.13" y1="127.9" x2="315.13" y2="126.4" stroke="#5a5a5a" stroke-width="0.7"/>
<line x1="318.89" y1="127.9" x2="318.89" y2="126.4" stroke="#5a5a5a" stroke-width="0.7"/>
<line x1="321.81" y1="127.9" x2="321.81" y2="126.4" stroke="#5a5a5a" stroke-width="0.7"/>
<line x1="324.19" y1="127.9" x2="324.19" y2="126.4" stroke="#5a5a5a" stroke-width="0.7"/>
<line x1="326.2" y1="127.9" x2="326.2" y2="126.4" stroke="#5a5a5a" stroke-width="0.7"/>
<line x1="327.94" y1="127.9" x2="327.94" y2="126.4" stroke="#5a5a5a" stroke-width="0.7"/>
<line x1="329.48" y1="127.9" x2="329.48" y2="126.4" stroke="#5a5a5a" stroke-width="0.7"/>
<line x1="330.86" y1="127.9" x2="330.86" y2="125.3" stroke="#5a5a5a" stroke-width="0.9"/>
<text x="329.56" y="140.2" font-size="9.4" fill="#333" text-anchor="middle" font-weight="bold">1</text>
<line x1="339.91" y1="127.9" x2="339.91" y2="126.4" stroke="#5a5a5a" stroke-width="0.7"/>
<line x1="345.21" y1="127.9" x2="345.21" y2="126.4" stroke="#5a5a5a" stroke-width="0.7"/>
<line x1="348.97" y1="127.9" x2="348.97" y2="126.4" stroke="#5a5a5a" stroke-width="0.7"/>
<line x1="351.89" y1="127.9" x2="351.89" y2="126.4" stroke="#5a5a5a" stroke-width="0.7"/>
<line x1="354.27" y1="127.9" x2="354.27" y2="126.4" stroke="#5a5a5a" stroke-width="0.7"/>
<line x1="356.28" y1="127.9" x2="356.28" y2="126.4" stroke="#5a5a5a" stroke-width="0.7"/>
<line x1="358.02" y1="127.9" x2="358.02" y2="126.4" stroke="#5a5a5a" stroke-width="0.7"/>
<line x1="359.56" y1="127.9" x2="359.56" y2="126.4" stroke="#5a5a5a" stroke-width="0.7"/>
<line x1="360.94" y1="127.9" x2="360.94" y2="125.3" stroke="#5a5a5a" stroke-width="0.9"/>
<text x="359.64" y="140.2" font-size="9.4" fill="#333" text-anchor="middle" font-weight="bold">10</text>
<line x1="369.99" y1="127.9" x2="369.99" y2="126.4" stroke="#5a5a5a" stroke-width="0.7"/>
<line x1="375.29" y1="127.9" x2="375.29" y2="126.4" stroke="#5a5a5a" stroke-width="0.7"/>
<line x1="379.05" y1="127.9" x2="379.05" y2="126.4" stroke="#5a5a5a" stroke-width="0.7"/>
<line x1="381.97" y1="127.9" x2="381.97" y2="126.4" stroke="#5a5a5a" stroke-width="0.7"/>
<line x1="384.35" y1="127.9" x2="384.35" y2="126.4" stroke="#5a5a5a" stroke-width="0.7"/>
<line x1="386.36" y1="127.9" x2="386.36" y2="126.4" stroke="#5a5a5a" stroke-width="0.7"/>
<line x1="388.1" y1="127.9" x2="388.1" y2="126.4" stroke="#5a5a5a" stroke-width="0.7"/>
<line x1="389.64" y1="127.9" x2="389.64" y2="126.4" stroke="#5a5a5a" stroke-width="0.7"/>
<line x1="391.02" y1="127.9" x2="391.02" y2="125.3" stroke="#5a5a5a" stroke-width="0.9"/>
<text x="389.72" y="140.2" font-size="9.4" fill="#333" text-anchor="middle" font-weight="bold">100</text>
<line x1="400.07" y1="127.9" x2="400.07" y2="126.4" stroke="#5a5a5a" stroke-width="0.7"/>
<line x1="405.37" y1="127.9" x2="405.37" y2="126.4" stroke="#5a5a5a" stroke-width="0.7"/>
<line x1="409.13" y1="127.9" x2="409.13" y2="126.4" stroke="#5a5a5a" stroke-width="0.7"/>
<line x1="412.05" y1="127.9" x2="412.05" y2="126.4" stroke="#5a5a5a" stroke-width="0.7"/>
<line x1="414.43" y1="127.9" x2="414.43" y2="126.4" stroke="#5a5a5a" stroke-width="0.7"/>
<line x1="416.44" y1="127.9" x2="416.44" y2="126.4" stroke="#5a5a5a" stroke-width="0.7"/>
<line x1="418.18" y1="127.9" x2="418.18" y2="126.4" stroke="#5a5a5a" stroke-width="0.7"/>
<line x1="419.72" y1="127.9" x2="419.72" y2="126.4" stroke="#5a5a5a" stroke-width="0.7"/>
<line x1="421.1" y1="127.9" x2="421.1" y2="125.3" stroke="#5a5a5a" stroke-width="0.9"/>
<text x="419.8" y="140.2" font-size="9.4" fill="#333" text-anchor="middle" font-weight="bold">1000</text>
<text x="346.62" y="153" font-size="12.81" fill="#3a3a3a" text-anchor="middle">Time (ms)</text>
<text transform="translate(264.1 63.75) rotate(-90)" font-size="12.42" fill="#3a3a3a" text-anchor="middle">Amplitude (a.u.)</text>
<text x="430.4" y="12.9" font-size="17.8" fill="#333" text-anchor="start">(C)</text>
<path d="M503.7 22.01 L504.27 22.89 L504.84 23.77 L505.41 24.64 L505.97 25.51 L506.54 26.38 L507.11 27.24 L507.68 28.1 L508.25 28.95 L508.82 29.8 L509.38 30.65 L509.95 31.49 L510.52 32.32 L511.09 33.15 L511.66 33.97 L512.23 34.79 L512.79 35.6 L513.36 36.41 L513.93 37.21 L514.5 38.01 L515.07 38.8 L515.64 39.58 L516.2 40.35 L516.77 41.12 L517.34 41.89 L517.91 42.64 L518.48 43.39 L519.05 44.13 L519.61 44.86 L520.18 45.59 L520.75 46.31 L521.32 47.02 L521.89 47.72 L522.46 48.41 L523.02 49.1 L523.59 49.77 L524.16 50.44 L524.73 51.1 L525.3 51.75 L525.87 52.39 L526.43 53.02 L527 53.64 L527.57 54.25 L528.14 54.86 L528.71 55.45 L529.28 56.03 L529.84 56.6 L530.41 57.16 L530.98 57.71 L531.55 58.25 L532.12 58.78 L532.69 59.3 L533.25 59.81 L533.82 60.3 L534.39 60.79 L534.96 61.26 L535.53 61.72 L536.1 62.17 L536.66 62.6 L537.23 63.03 L537.8 63.44 L538.37 63.84 L538.94 64.22 L539.51 64.6 L540.07 64.96 L540.64 65.3 L541.21 65.64 L541.78 65.96 L542.35 66.27 L542.92 66.57 L543.48 66.86 L544.05 67.15 L544.62 67.43 L545.19 67.7 L545.76 67.96 L546.33 68.22 L546.89 68.47 L547.46 68.71 L548.03 68.95 L548.6 69.18 L549.17 69.41 L549.74 69.63 L550.3 69.84 L550.87 70.05 L551.44 70.26 L552.01 70.46 L552.58 70.65 L553.15 70.85 L553.71 71.04 L554.28 71.22 L554.85 71.4 L555.42 71.58 L555.99 71.76 L556.56 71.93 L557.12 72.11 L557.69 72.28 L558.26 72.45 L558.83 72.61 L559.4 72.78 L559.97 72.94 L560.53 73.11 L561.1 73.27 L561.67 73.44 L562.24 73.6 L562.81 73.77 L563.38 73.93 L563.94 74.1 L564.51 74.27 L565.08 74.44 L565.65 74.61 L566.22 74.78 L566.79 74.95 L567.35 75.13 L567.92 75.31 L568.49 75.49 L569.06 75.68 L569.63 75.87 L570.2 76.06 L570.76 76.26 L571.33 76.46 L571.9 76.67 L572.47 76.88 L573.04 77.09 L573.61 77.31 L574.17 77.54 L574.74 77.77 L575.31 78.01 L575.88 78.25 L576.45 78.5 L577.02 78.76 L577.58 79.03 L578.15 79.3 L578.72 79.58 L579.29 79.86 L579.86 80.16 L580.43 80.46 L580.99 80.76 L581.56 81.08 L582.13 81.39 L582.7 81.72 L583.27 82.05 L583.84 82.39 L584.4 82.73 L584.97 83.08 L585.54 83.43 L586.11 83.79 L586.68 84.16 L587.25 84.53 L587.81 84.9 L588.38 85.28 L588.95 85.67 L589.52 86.06 L590.09 86.46 L590.66 86.86 L591.22 87.27 L591.79 87.69 L592.36 88.1 L592.93 88.53 L593.5 88.96 L594.07 89.39 L594.63 89.83 L595.2 90.27 L595.77 90.72 L596.34 91.17 L596.91 91.62 L597.48 92.08 L598.04 92.55 L598.61 93.02 L599.18 93.49 L599.75 93.97 L600.32 94.45 L600.89 94.94 L601.45 95.43 L602.02 95.92 L602.59 96.42 L603.16 96.92 L603.73 97.43 L604.3 97.94 L604.86 98.45 L605.43 98.97 L606 99.49 L606.57 100.01 L607.14 100.54 L607.71 101.07 L608.27 101.6 L608.84 102.14 L609.41 102.68 L609.98 103.22 L610.55 103.77 L611.12 104.32 L611.68 104.87 L612.25 105.43 L612.82 105.99 L613.39 106.55 L613.96 107.11 L614.53 107.68 L615.09 108.25 L615.66 108.82 L616.23 109.39 L616.8 109.97" fill="none" stroke="#d3d3d3" stroke-width="9.5" stroke-linejoin="round" stroke-linecap="round"/>
<path d="M503.7 17.2l4.81 4.81l-4.81 4.81l-4.81 -4.81z" fill="#9cc2da" stroke="#505050" stroke-width="0.8"/>
<rect x="537.86" y="62.16" width="7.29" height="7.29" fill="#3d82ab" stroke="#505050" stroke-width="0.8"/>
<circle cx="579.1" cy="79.77" r="3.95" fill="#e8a696" stroke="#505050" stroke-width="0.8"/>
<path d="M616.8 104.95l4.73 8.37h-9.46z" fill="#cd5f46" stroke="#505050" stroke-width="0.8"/>
<line x1="484.9" y1="5.4" x2="636" y2="5.4" stroke="#5a5a5a" stroke-width="1.1"/>
<line x1="636" y1="5.4" x2="636" y2="126.2" stroke="#5a5a5a" stroke-width="1.1"/>
<line x1="484.9" y1="126.2" x2="636" y2="126.2" stroke="#5a5a5a" stroke-width="1.1"/>
<line x1="484.9" y1="4.9" x2="484.9" y2="126.7" stroke="#8f8f8f" stroke-width="1.7"/>
<line x1="482.5" y1="5.4" x2="484.9" y2="5.4" stroke="#5a5a5a" stroke-width="0.9"/>
<text x="481.6" y="9.1" font-size="10.5" fill="#3a3a3a" text-anchor="end">0.22</text>
<line x1="482.5" y1="35.6" x2="484.9" y2="35.6" stroke="#5a5a5a" stroke-width="0.9"/>
<text x="481.6" y="39.3" font-size="10.5" fill="#3a3a3a" text-anchor="end">0.18</text>
<line x1="482.5" y1="65.8" x2="484.9" y2="65.8" stroke="#5a5a5a" stroke-width="0.9"/>
<text x="481.6" y="69.5" font-size="10.5" fill="#3a3a3a" text-anchor="end">0.14</text>
<line x1="482.5" y1="96" x2="484.9" y2="96" stroke="#5a5a5a" stroke-width="0.9"/>
<text x="481.6" y="99.7" font-size="10.5" fill="#3a3a3a" text-anchor="end">0.10</text>
<line x1="482.5" y1="126.2" x2="484.9" y2="126.2" stroke="#5a5a5a" stroke-width="0.9"/>
<text x="481.6" y="129.9" font-size="10.5" fill="#3a3a3a" text-anchor="end">0.06</text>
<line x1="483.4" y1="20.5" x2="484.9" y2="20.5" stroke="#5a5a5a" stroke-width="0.8"/>
<line x1="483.4" y1="50.7" x2="484.9" y2="50.7" stroke="#5a5a5a" stroke-width="0.8"/>
<line x1="483.4" y1="80.9" x2="484.9" y2="80.9" stroke="#5a5a5a" stroke-width="0.8"/>
<line x1="483.4" y1="111.1" x2="484.9" y2="111.1" stroke="#5a5a5a" stroke-width="0.8"/>
<line x1="503.7" y1="126.2" x2="503.7" y2="128.4" stroke="#5a5a5a" stroke-width="0.9"/>
<line x1="541.5" y1="126.2" x2="541.5" y2="128.4" stroke="#5a5a5a" stroke-width="0.9"/>
<line x1="579.1" y1="126.2" x2="579.1" y2="128.4" stroke="#5a5a5a" stroke-width="0.9"/>
<line x1="616.8" y1="126.2" x2="616.8" y2="128.4" stroke="#5a5a5a" stroke-width="0.9"/>
<text transform="translate(511 135.4) rotate(-45)" font-size="11.2" fill="#9dc2d9" text-anchor="end">PAOM-1</text>
<text transform="translate(548.8 135.4) rotate(-45)" font-size="11.2" fill="#3a7fa8" text-anchor="end">PAOM-2</text>
<text transform="translate(586.4 135.4) rotate(-45)" font-size="11.2" fill="#e8aa9b" text-anchor="end">PAOM-3</text>
<text transform="translate(624.1 135.4) rotate(-45)" font-size="11.2" fill="#c45a43" text-anchor="end">PAOM-4</text>
<text transform="translate(453.7 72.1) rotate(-90)" font-size="13.5" fill="#3a3a3a" text-anchor="middle"><tspan>T</tspan><tspan font-size="10" dy="3.8">2</tspan><tspan dy="-3.8"> (ms)</tspan></text>
<text x="5.5" y="166.7" font-size="17.8" fill="#333" text-anchor="start">(D)</text>
<clipPath id="clipD"><rect x="51.4" y="172.6" width="153.5" height="123.6"/></clipPath>
<g clip-path="url(#clipD)">
<path d="M51.4 281.6l3.1 3.1l-3.1 3.1l-3.1 -3.1z" fill="#9cc2da" stroke="#6f8797" stroke-width="0.5"/>
<path d="M59.07 280.1l3.1 3.1l-3.1 3.1l-3.1 -3.1z" fill="#9cc2da" stroke="#6f8797" stroke-width="0.5"/>
<path d="M66.75 278.9l3.1 3.1l-3.1 3.1l-3.1 -3.1z" fill="#9cc2da" stroke="#6f8797" stroke-width="0.5"/>
<path d="M74.42 274.9l3.1 3.1l-3.1 3.1l-3.1 -3.1z" fill="#9cc2da" stroke="#6f8797" stroke-width="0.5"/>
<path d="M82.1 270.3l3.1 3.1l-3.1 3.1l-3.1 -3.1z" fill="#9cc2da" stroke="#6f8797" stroke-width="0.5"/>
<path d="M89.78 263.1l3.1 3.1l-3.1 3.1l-3.1 -3.1z" fill="#9cc2da" stroke="#6f8797" stroke-width="0.5"/>
<path d="M97.45 255.5l3.1 3.1l-3.1 3.1l-3.1 -3.1z" fill="#9cc2da" stroke="#6f8797" stroke-width="0.5"/>
<path d="M105.12 246.5l3.1 3.1l-3.1 3.1l-3.1 -3.1z" fill="#9cc2da" stroke="#6f8797" stroke-width="0.5"/>
<path d="M112.8 236.8l3.1 3.1l-3.1 3.1l-3.1 -3.1z" fill="#9cc2da" stroke="#6f8797" stroke-width="0.5"/>
<path d="M120.47 229.1l3.1 3.1l-3.1 3.1l-3.1 -3.1z" fill="#9cc2da" stroke="#6f8797" stroke-width="0.5"/>
<path d="M128.15 223.1l3.1 3.1l-3.1 3.1l-3.1 -3.1z" fill="#9cc2da" stroke="#6f8797" stroke-width="0.5"/>
<path d="M135.82 217.9l3.1 3.1l-3.1 3.1l-3.1 -3.1z" fill="#9cc2da" stroke="#6f8797" stroke-width="0.5"/>
<path d="M143.5 214.2l3.1 3.1l-3.1 3.1l-3.1 -3.1z" fill="#9cc2da" stroke="#6f8797" stroke-width="0.5"/>
<path d="M151.18 211l3.1 3.1l-3.1 3.1l-3.1 -3.1z" fill="#9cc2da" stroke="#6f8797" stroke-width="0.5"/>
<path d="M158.85 208.7l3.1 3.1l-3.1 3.1l-3.1 -3.1z" fill="#9cc2da" stroke="#6f8797" stroke-width="0.5"/>
<path d="M166.53 206.2l3.1 3.1l-3.1 3.1l-3.1 -3.1z" fill="#9cc2da" stroke="#6f8797" stroke-width="0.5"/>
<path d="M174.2 203.6l3.1 3.1l-3.1 3.1l-3.1 -3.1z" fill="#9cc2da" stroke="#6f8797" stroke-width="0.5"/>
<path d="M181.88 201.3l3.1 3.1l-3.1 3.1l-3.1 -3.1z" fill="#9cc2da" stroke="#6f8797" stroke-width="0.5"/>
<path d="M189.55 198.6l3.1 3.1l-3.1 3.1l-3.1 -3.1z" fill="#9cc2da" stroke="#6f8797" stroke-width="0.5"/>
<path d="M197.22 196l3.1 3.1l-3.1 3.1l-3.1 -3.1z" fill="#9cc2da" stroke="#6f8797" stroke-width="0.5"/>
<path d="M204.9 193.8l3.1 3.1l-3.1 3.1l-3.1 -3.1z" fill="#9cc2da" stroke="#6f8797" stroke-width="0.5"/>
<rect x="49.05" y="279.35" width="4.7" height="4.7" fill="#3d82ab" stroke="#2d5f80" stroke-width="0.5"/>
<rect x="56.72" y="274.85" width="4.7" height="4.7" fill="#3d82ab" stroke="#2d5f80" stroke-width="0.5"/>
<rect x="64.4" y="269.05" width="4.7" height="4.7" fill="#3d82ab" stroke="#2d5f80" stroke-width="0.5"/>
<rect x="72.08" y="262.75" width="4.7" height="4.7" fill="#3d82ab" stroke="#2d5f80" stroke-width="0.5"/>
<rect x="79.75" y="255.95" width="4.7" height="4.7" fill="#3d82ab" stroke="#2d5f80" stroke-width="0.5"/>
<rect x="87.43" y="248.45" width="4.7" height="4.7" fill="#3d82ab" stroke="#2d5f80" stroke-width="0.5"/>
<rect x="95.1" y="241.15" width="4.7" height="4.7" fill="#3d82ab" stroke="#2d5f80" stroke-width="0.5"/>
<rect x="102.78" y="234.05" width="4.7" height="4.7" fill="#3d82ab" stroke="#2d5f80" stroke-width="0.5"/>
<rect x="110.45" y="228.05" width="4.7" height="4.7" fill="#3d82ab" stroke="#2d5f80" stroke-width="0.5"/>
<rect x="118.12" y="221.95" width="4.7" height="4.7" fill="#3d82ab" stroke="#2d5f80" stroke-width="0.5"/>
<rect x="125.8" y="217.25" width="4.7" height="4.7" fill="#3d82ab" stroke="#2d5f80" stroke-width="0.5"/>
<rect x="133.47" y="212.95" width="4.7" height="4.7" fill="#3d82ab" stroke="#2d5f80" stroke-width="0.5"/>
<rect x="141.15" y="209.95" width="4.7" height="4.7" fill="#3d82ab" stroke="#2d5f80" stroke-width="0.5"/>
<rect x="148.83" y="206.65" width="4.7" height="4.7" fill="#3d82ab" stroke="#2d5f80" stroke-width="0.5"/>
<rect x="156.5" y="203.45" width="4.7" height="4.7" fill="#3d82ab" stroke="#2d5f80" stroke-width="0.5"/>
<rect x="164.18" y="200.55" width="4.7" height="4.7" fill="#3d82ab" stroke="#2d5f80" stroke-width="0.5"/>
<rect x="171.85" y="197.85" width="4.7" height="4.7" fill="#3d82ab" stroke="#2d5f80" stroke-width="0.5"/>
<rect x="179.53" y="194.85" width="4.7" height="4.7" fill="#3d82ab" stroke="#2d5f80" stroke-width="0.5"/>
<rect x="187.2" y="192.15" width="4.7" height="4.7" fill="#3d82ab" stroke="#2d5f80" stroke-width="0.5"/>
<rect x="194.88" y="189.55" width="4.7" height="4.7" fill="#3d82ab" stroke="#2d5f80" stroke-width="0.5"/>
<rect x="202.55" y="186.95" width="4.7" height="4.7" fill="#3d82ab" stroke="#2d5f80" stroke-width="0.5"/>
<circle cx="51.4" cy="275.7" r="2.55" fill="#e8a696" stroke="#b57a6e" stroke-width="0.5"/>
<circle cx="59.07" cy="270.4" r="2.55" fill="#e8a696" stroke="#b57a6e" stroke-width="0.5"/>
<circle cx="66.75" cy="265.1" r="2.55" fill="#e8a696" stroke="#b57a6e" stroke-width="0.5"/>
<circle cx="74.42" cy="257.9" r="2.55" fill="#e8a696" stroke="#b57a6e" stroke-width="0.5"/>
<circle cx="82.1" cy="250" r="2.55" fill="#e8a696" stroke="#b57a6e" stroke-width="0.5"/>
<circle cx="89.78" cy="240.7" r="2.55" fill="#e8a696" stroke="#b57a6e" stroke-width="0.5"/>
<circle cx="97.45" cy="232.2" r="2.55" fill="#e8a696" stroke="#b57a6e" stroke-width="0.5"/>
<circle cx="105.12" cy="224.6" r="2.55" fill="#e8a696" stroke="#b57a6e" stroke-width="0.5"/>
<circle cx="112.8" cy="219.1" r="2.55" fill="#e8a696" stroke="#b57a6e" stroke-width="0.5"/>
<circle cx="120.47" cy="214.5" r="2.55" fill="#e8a696" stroke="#b57a6e" stroke-width="0.5"/>
<circle cx="128.15" cy="209.8" r="2.55" fill="#e8a696" stroke="#b57a6e" stroke-width="0.5"/>
<circle cx="135.82" cy="206.7" r="2.55" fill="#e8a696" stroke="#b57a6e" stroke-width="0.5"/>
<circle cx="143.5" cy="204.4" r="2.55" fill="#e8a696" stroke="#b57a6e" stroke-width="0.5"/>
<circle cx="151.18" cy="202" r="2.55" fill="#e8a696" stroke="#b57a6e" stroke-width="0.5"/>
<circle cx="158.85" cy="199.4" r="2.55" fill="#e8a696" stroke="#b57a6e" stroke-width="0.5"/>
<circle cx="166.53" cy="197.2" r="2.55" fill="#e8a696" stroke="#b57a6e" stroke-width="0.5"/>
<circle cx="174.2" cy="194.9" r="2.55" fill="#e8a696" stroke="#b57a6e" stroke-width="0.5"/>
<circle cx="181.88" cy="192.6" r="2.55" fill="#e8a696" stroke="#b57a6e" stroke-width="0.5"/>
<circle cx="189.55" cy="190.4" r="2.55" fill="#e8a696" stroke="#b57a6e" stroke-width="0.5"/>
<circle cx="197.22" cy="188.1" r="2.55" fill="#e8a696" stroke="#b57a6e" stroke-width="0.5"/>
<circle cx="204.9" cy="186.2" r="2.55" fill="#e8a696" stroke="#b57a6e" stroke-width="0.5"/>
<path d="M51.4 269.86l3.05 5.4h-6.1z" fill="#cd5f46" stroke="#9a4634" stroke-width="0.5"/>
<path d="M59.07 267.56l3.05 5.4h-6.1z" fill="#cd5f46" stroke="#9a4634" stroke-width="0.5"/>
<path d="M66.75 264.16l3.05 5.4h-6.1z" fill="#cd5f46" stroke="#9a4634" stroke-width="0.5"/>
<path d="M74.42 258.06l3.05 5.4h-6.1z" fill="#cd5f46" stroke="#9a4634" stroke-width="0.5"/>
<path d="M82.1 251.26l3.05 5.4h-6.1z" fill="#cd5f46" stroke="#9a4634" stroke-width="0.5"/>
<path d="M89.78 242.96l3.05 5.4h-6.1z" fill="#cd5f46" stroke="#9a4634" stroke-width="0.5"/>
<path d="M97.45 233.96l3.05 5.4h-6.1z" fill="#cd5f46" stroke="#9a4634" stroke-width="0.5"/>
<path d="M105.12 226.36l3.05 5.4h-6.1z" fill="#cd5f46" stroke="#9a4634" stroke-width="0.5"/>
<path d="M112.8 218.06l3.05 5.4h-6.1z" fill="#cd5f46" stroke="#9a4634" stroke-width="0.5"/>
<path d="M120.47 211.76l3.05 5.4h-6.1z" fill="#cd5f46" stroke="#9a4634" stroke-width="0.5"/>
<path d="M128.15 206.76l3.05 5.4h-6.1z" fill="#cd5f46" stroke="#9a4634" stroke-width="0.5"/>
<path d="M135.82 201.76l3.05 5.4h-6.1z" fill="#cd5f46" stroke="#9a4634" stroke-width="0.5"/>
<path d="M143.5 197.76l3.05 5.4h-6.1z" fill="#cd5f46" stroke="#9a4634" stroke-width="0.5"/>
<path d="M151.18 194.36l3.05 5.4h-6.1z" fill="#cd5f46" stroke="#9a4634" stroke-width="0.5"/>
<path d="M158.85 192.16l3.05 5.4h-6.1z" fill="#cd5f46" stroke="#9a4634" stroke-width="0.5"/>
<path d="M166.53 190.16l3.05 5.4h-6.1z" fill="#cd5f46" stroke="#9a4634" stroke-width="0.5"/>
<path d="M174.2 188.36l3.05 5.4h-6.1z" fill="#cd5f46" stroke="#9a4634" stroke-width="0.5"/>
<path d="M181.88 186.66l3.05 5.4h-6.1z" fill="#cd5f46" stroke="#9a4634" stroke-width="0.5"/>
<path d="M189.55 184.86l3.05 5.4h-6.1z" fill="#cd5f46" stroke="#9a4634" stroke-width="0.5"/>
<path d="M197.22 183.36l3.05 5.4h-6.1z" fill="#cd5f46" stroke="#9a4634" stroke-width="0.5"/>
<path d="M204.9 181.86l3.05 5.4h-6.1z" fill="#cd5f46" stroke="#9a4634" stroke-width="0.5"/>
</g>
<rect x="51.4" y="172.6" width="153.5" height="123.6" fill="none" stroke="#5a5a5a" stroke-width="1.1"/>
<line x1="51.4" y1="296.2" x2="51.4" y2="298.4" stroke="#5a5a5a" stroke-width="0.9"/>
<text x="51" y="308.8" font-size="10.2" fill="#3a3a3a" text-anchor="middle">10<tspan font-size="7.2" dy="-4.6">-2</tspan></text>
<line x1="62.95" y1="296.2" x2="62.95" y2="297.6" stroke="#5a5a5a" stroke-width="0.7"/>
<line x1="69.71" y1="296.2" x2="69.71" y2="297.6" stroke="#5a5a5a" stroke-width="0.7"/>
<line x1="74.5" y1="296.2" x2="74.5" y2="297.6" stroke="#5a5a5a" stroke-width="0.7"/>
<line x1="78.22" y1="296.2" x2="78.22" y2="297.6" stroke="#5a5a5a" stroke-width="0.7"/>
<line x1="81.26" y1="296.2" x2="81.26" y2="297.6" stroke="#5a5a5a" stroke-width="0.7"/>
<line x1="83.83" y1="296.2" x2="83.83" y2="297.6" stroke="#5a5a5a" stroke-width="0.7"/>
<line x1="86.06" y1="296.2" x2="86.06" y2="297.6" stroke="#5a5a5a" stroke-width="0.7"/>
<line x1="88.02" y1="296.2" x2="88.02" y2="297.6" stroke="#5a5a5a" stroke-width="0.7"/>
<line x1="89.78" y1="296.2" x2="89.78" y2="298.4" stroke="#5a5a5a" stroke-width="0.9"/>
<text x="89.38" y="308.8" font-size="10.2" fill="#3a3a3a" text-anchor="middle">10<tspan font-size="7.2" dy="-4.6">-1</tspan></text>
<line x1="101.33" y1="296.2" x2="101.33" y2="297.6" stroke="#5a5a5a" stroke-width="0.7"/>
<line x1="108.08" y1="296.2" x2="108.08" y2="297.6" stroke="#5a5a5a" stroke-width="0.7"/>
<line x1="112.88" y1="296.2" x2="112.88" y2="297.6" stroke="#5a5a5a" stroke-width="0.7"/>
<line x1="116.6" y1="296.2" x2="116.6" y2="297.6" stroke="#5a5a5a" stroke-width="0.7"/>
<line x1="119.64" y1="296.2" x2="119.64" y2="297.6" stroke="#5a5a5a" stroke-width="0.7"/>
<line x1="122.21" y1="296.2" x2="122.21" y2="297.6" stroke="#5a5a5a" stroke-width="0.7"/>
<line x1="124.43" y1="296.2" x2="124.43" y2="297.6" stroke="#5a5a5a" stroke-width="0.7"/>
<line x1="126.39" y1="296.2" x2="126.39" y2="297.6" stroke="#5a5a5a" stroke-width="0.7"/>
<line x1="128.15" y1="296.2" x2="128.15" y2="298.4" stroke="#5a5a5a" stroke-width="0.9"/>
<text x="127.75" y="308.8" font-size="10.2" fill="#3a3a3a" text-anchor="middle">10<tspan font-size="7.2" dy="-4.6">0</tspan></text>
<line x1="139.7" y1="296.2" x2="139.7" y2="297.6" stroke="#5a5a5a" stroke-width="0.7"/>
<line x1="146.46" y1="296.2" x2="146.46" y2="297.6" stroke="#5a5a5a" stroke-width="0.7"/>
<line x1="151.25" y1="296.2" x2="151.25" y2="297.6" stroke="#5a5a5a" stroke-width="0.7"/>
<line x1="154.97" y1="296.2" x2="154.97" y2="297.6" stroke="#5a5a5a" stroke-width="0.7"/>
<line x1="158.01" y1="296.2" x2="158.01" y2="297.6" stroke="#5a5a5a" stroke-width="0.7"/>
<line x1="160.58" y1="296.2" x2="160.58" y2="297.6" stroke="#5a5a5a" stroke-width="0.7"/>
<line x1="162.81" y1="296.2" x2="162.81" y2="297.6" stroke="#5a5a5a" stroke-width="0.7"/>
<line x1="164.77" y1="296.2" x2="164.77" y2="297.6" stroke="#5a5a5a" stroke-width="0.7"/>
<line x1="166.53" y1="296.2" x2="166.53" y2="298.4" stroke="#5a5a5a" stroke-width="0.9"/>
<text x="166.12" y="308.8" font-size="10.2" fill="#3a3a3a" text-anchor="middle">10<tspan font-size="7.2" dy="-4.6">1</tspan></text>
<line x1="178.08" y1="296.2" x2="178.08" y2="297.6" stroke="#5a5a5a" stroke-width="0.7"/>
<line x1="184.83" y1="296.2" x2="184.83" y2="297.6" stroke="#5a5a5a" stroke-width="0.7"/>
<line x1="189.63" y1="296.2" x2="189.63" y2="297.6" stroke="#5a5a5a" stroke-width="0.7"/>
<line x1="193.35" y1="296.2" x2="193.35" y2="297.6" stroke="#5a5a5a" stroke-width="0.7"/>
<line x1="196.39" y1="296.2" x2="196.39" y2="297.6" stroke="#5a5a5a" stroke-width="0.7"/>
<line x1="198.96" y1="296.2" x2="198.96" y2="297.6" stroke="#5a5a5a" stroke-width="0.7"/>
<line x1="201.18" y1="296.2" x2="201.18" y2="297.6" stroke="#5a5a5a" stroke-width="0.7"/>
<line x1="203.14" y1="296.2" x2="203.14" y2="297.6" stroke="#5a5a5a" stroke-width="0.7"/>
<line x1="204.9" y1="296.2" x2="204.9" y2="298.4" stroke="#5a5a5a" stroke-width="0.9"/>
<text x="204.5" y="308.8" font-size="10.2" fill="#3a3a3a" text-anchor="middle">10<tspan font-size="7.2" dy="-4.6">2</tspan></text>
<line x1="49.6" y1="189.3" x2="51.4" y2="189.3" stroke="#5a5a5a" stroke-width="0.9"/>
<text x="48.3" y="193" font-size="10.2" fill="#3a3a3a" text-anchor="end">10<tspan font-size="7.2" dy="-4.6">-1</tspan></text>
<line x1="50.3" y1="181.37" x2="51.4" y2="181.37" stroke="#5a5a5a" stroke-width="0.6"/>
<line x1="50.3" y1="176.73" x2="51.4" y2="176.73" stroke="#5a5a5a" stroke-width="0.6"/>
<line x1="50.3" y1="173.44" x2="51.4" y2="173.44" stroke="#5a5a5a" stroke-width="0.6"/>
<line x1="49.6" y1="215.65" x2="51.4" y2="215.65" stroke="#5a5a5a" stroke-width="0.9"/>
<text x="48.3" y="219.35" font-size="10.2" fill="#3a3a3a" text-anchor="end">10<tspan font-size="7.2" dy="-4.6">-2</tspan></text>
<line x1="50.3" y1="207.72" x2="51.4" y2="207.72" stroke="#5a5a5a" stroke-width="0.6"/>
<line x1="50.3" y1="203.08" x2="51.4" y2="203.08" stroke="#5a5a5a" stroke-width="0.6"/>
<line x1="50.3" y1="199.79" x2="51.4" y2="199.79" stroke="#5a5a5a" stroke-width="0.6"/>
<line x1="50.3" y1="197.23" x2="51.4" y2="197.23" stroke="#5a5a5a" stroke-width="0.6"/>
<line x1="50.3" y1="195.15" x2="51.4" y2="195.15" stroke="#5a5a5a" stroke-width="0.6"/>
<line x1="50.3" y1="193.38" x2="51.4" y2="193.38" stroke="#5a5a5a" stroke-width="0.6"/>
<line x1="50.3" y1="191.85" x2="51.4" y2="191.85" stroke="#5a5a5a" stroke-width="0.6"/>
<line x1="50.3" y1="190.51" x2="51.4" y2="190.51" stroke="#5a5a5a" stroke-width="0.6"/>
<line x1="49.6" y1="242" x2="51.4" y2="242" stroke="#5a5a5a" stroke-width="0.9"/>
<text x="48.3" y="245.7" font-size="10.2" fill="#3a3a3a" text-anchor="end">10<tspan font-size="7.2" dy="-4.6">-3</tspan></text>
<line x1="50.3" y1="234.07" x2="51.4" y2="234.07" stroke="#5a5a5a" stroke-width="0.6"/>
<line x1="50.3" y1="229.43" x2="51.4" y2="229.43" stroke="#5a5a5a" stroke-width="0.6"/>
<line x1="50.3" y1="226.14" x2="51.4" y2="226.14" stroke="#5a5a5a" stroke-width="0.6"/>
<line x1="50.3" y1="223.58" x2="51.4" y2="223.58" stroke="#5a5a5a" stroke-width="0.6"/>
<line x1="50.3" y1="221.5" x2="51.4" y2="221.5" stroke="#5a5a5a" stroke-width="0.6"/>
<line x1="50.3" y1="219.73" x2="51.4" y2="219.73" stroke="#5a5a5a" stroke-width="0.6"/>
<line x1="50.3" y1="218.2" x2="51.4" y2="218.2" stroke="#5a5a5a" stroke-width="0.6"/>
<line x1="50.3" y1="216.86" x2="51.4" y2="216.86" stroke="#5a5a5a" stroke-width="0.6"/>
<line x1="49.6" y1="268.35" x2="51.4" y2="268.35" stroke="#5a5a5a" stroke-width="0.9"/>
<text x="48.3" y="272.05" font-size="10.2" fill="#3a3a3a" text-anchor="end">10<tspan font-size="7.2" dy="-4.6">-4</tspan></text>
<line x1="50.3" y1="260.42" x2="51.4" y2="260.42" stroke="#5a5a5a" stroke-width="0.6"/>
<line x1="50.3" y1="255.78" x2="51.4" y2="255.78" stroke="#5a5a5a" stroke-width="0.6"/>
<line x1="50.3" y1="252.49" x2="51.4" y2="252.49" stroke="#5a5a5a" stroke-width="0.6"/>
<line x1="50.3" y1="249.93" x2="51.4" y2="249.93" stroke="#5a5a5a" stroke-width="0.6"/>
<line x1="50.3" y1="247.85" x2="51.4" y2="247.85" stroke="#5a5a5a" stroke-width="0.6"/>
<line x1="50.3" y1="246.08" x2="51.4" y2="246.08" stroke="#5a5a5a" stroke-width="0.6"/>
<line x1="50.3" y1="244.55" x2="51.4" y2="244.55" stroke="#5a5a5a" stroke-width="0.6"/>
<line x1="50.3" y1="243.21" x2="51.4" y2="243.21" stroke="#5a5a5a" stroke-width="0.6"/>
<line x1="49.6" y1="294.7" x2="51.4" y2="294.7" stroke="#5a5a5a" stroke-width="0.9"/>
<text x="48.3" y="298.4" font-size="10.2" fill="#3a3a3a" text-anchor="end">10<tspan font-size="7.2" dy="-4.6">-5</tspan></text>
<line x1="50.3" y1="286.77" x2="51.4" y2="286.77" stroke="#5a5a5a" stroke-width="0.6"/>
<line x1="50.3" y1="282.13" x2="51.4" y2="282.13" stroke="#5a5a5a" stroke-width="0.6"/>
<line x1="50.3" y1="278.84" x2="51.4" y2="278.84" stroke="#5a5a5a" stroke-width="0.6"/>
<line x1="50.3" y1="276.28" x2="51.4" y2="276.28" stroke="#5a5a5a" stroke-width="0.6"/>
<line x1="50.3" y1="274.2" x2="51.4" y2="274.2" stroke="#5a5a5a" stroke-width="0.6"/>
<line x1="50.3" y1="272.43" x2="51.4" y2="272.43" stroke="#5a5a5a" stroke-width="0.6"/>
<line x1="50.3" y1="270.9" x2="51.4" y2="270.9" stroke="#5a5a5a" stroke-width="0.6"/>
<line x1="50.3" y1="269.56" x2="51.4" y2="269.56" stroke="#5a5a5a" stroke-width="0.6"/>
<path d="M155.4 251.1l3.1 3.1l-3.1 3.1l-3.1 -3.1z" fill="#9cc2da" stroke="#6f8797" stroke-width="0.5"/>
<text x="166.19" y="256.7" font-size="10.18" fill="#9dc2d9" text-anchor="start">PAOM-1</text>
<rect x="153.05" y="263.95" width="4.7" height="4.7" fill="#3d82ab" stroke="#2d5f80" stroke-width="0.5"/>
<text x="166.17" y="268.8" font-size="10.36" fill="#3a7fa8" text-anchor="start">PAOM-2</text>
<circle cx="155.4" cy="278.4" r="2.55" fill="#e8a696" stroke="#b57a6e" stroke-width="0.5"/>
<text x="166.17" y="281" font-size="10.33" fill="#e8aa9b" text-anchor="start">PAOM-3</text>
<path d="M155.4 287.16l3.05 5.4h-6.1z" fill="#cd5f46" stroke="#9a4634" stroke-width="0.5"/>
<text x="166.18" y="293" font-size="10.3" fill="#c45a43" text-anchor="start">PAOM-4</text>
<text x="128.47" y="327.2" font-size="13.51" fill="#3a3a3a" text-anchor="middle">Frequency (Hz)</text>
<text transform="translate(27 234.86) rotate(-90)" font-size="12.99" fill="#3a3a3a" text-anchor="middle">G'</text>
<text x="215.1" y="166.7" font-size="17.8" fill="#333" text-anchor="start">(E)</text>
<clipPath id="clipE"><rect x="271" y="172.4" width="150" height="124"/></clipPath>
<g clip-path="url(#clipE)">
<path d="M271 258.4l3.1 3.1l-3.1 3.1l-3.1 -3.1z" fill="#9cc2da" stroke="#6f8797" stroke-width="0.5"/>
<path d="M278.5 253.7l3.1 3.1l-3.1 3.1l-3.1 -3.1z" fill="#9cc2da" stroke="#6f8797" stroke-width="0.5"/>
<path d="M286 248.9l3.1 3.1l-3.1 3.1l-3.1 -3.1z" fill="#9cc2da" stroke="#6f8797" stroke-width="0.5"/>
<path d="M293.5 244.2l3.1 3.1l-3.1 3.1l-3.1 -3.1z" fill="#9cc2da" stroke="#6f8797" stroke-width="0.5"/>
<path d="M301 239.5l3.1 3.1l-3.1 3.1l-3.1 -3.1z" fill="#9cc2da" stroke="#6f8797" stroke-width="0.5"/>
<path d="M308.5 234.4l3.1 3.1l-3.1 3.1l-3.1 -3.1z" fill="#9cc2da" stroke="#6f8797" stroke-width="0.5"/>
<path d="M316 230.1l3.1 3.1l-3.1 3.1l-3.1 -3.1z" fill="#9cc2da" stroke="#6f8797" stroke-width="0.5"/>
<path d="M323.5 225.4l3.1 3.1l-3.1 3.1l-3.1 -3.1z" fill="#9cc2da" stroke="#6f8797" stroke-width="0.5"/>
<path d="M331 221.5l3.1 3.1l-3.1 3.1l-3.1 -3.1z" fill="#9cc2da" stroke="#6f8797" stroke-width="0.5"/>
<path d="M338.5 218.4l3.1 3.1l-3.1 3.1l-3.1 -3.1z" fill="#9cc2da" stroke="#6f8797" stroke-width="0.5"/>
<path d="M346 217.1l3.1 3.1l-3.1 3.1l-3.1 -3.1z" fill="#9cc2da" stroke="#6f8797" stroke-width="0.5"/>
<path d="M353.5 216l3.1 3.1l-3.1 3.1l-3.1 -3.1z" fill="#9cc2da" stroke="#6f8797" stroke-width="0.5"/>
<path d="M361 214.4l3.1 3.1l-3.1 3.1l-3.1 -3.1z" fill="#9cc2da" stroke="#6f8797" stroke-width="0.5"/>
<path d="M368.5 212.9l3.1 3.1l-3.1 3.1l-3.1 -3.1z" fill="#9cc2da" stroke="#6f8797" stroke-width="0.5"/>
<path d="M376 212.1l3.1 3.1l-3.1 3.1l-3.1 -3.1z" fill="#9cc2da" stroke="#6f8797" stroke-width="0.5"/>
<path d="M383.5 210.8l3.1 3.1l-3.1 3.1l-3.1 -3.1z" fill="#9cc2da" stroke="#6f8797" stroke-width="0.5"/>
<path d="M391 208.9l3.1 3.1l-3.1 3.1l-3.1 -3.1z" fill="#9cc2da" stroke="#6f8797" stroke-width="0.5"/>
<path d="M398.5 207.9l3.1 3.1l-3.1 3.1l-3.1 -3.1z" fill="#9cc2da" stroke="#6f8797" stroke-width="0.5"/>
<path d="M406 206.6l3.1 3.1l-3.1 3.1l-3.1 -3.1z" fill="#9cc2da" stroke="#6f8797" stroke-width="0.5"/>
<path d="M413.5 204.7l3.1 3.1l-3.1 3.1l-3.1 -3.1z" fill="#9cc2da" stroke="#6f8797" stroke-width="0.5"/>
<path d="M421 203l3.1 3.1l-3.1 3.1l-3.1 -3.1z" fill="#9cc2da" stroke="#6f8797" stroke-width="0.5"/>
<rect x="268.65" y="256.45" width="4.7" height="4.7" fill="#3d82ab" stroke="#2d5f80" stroke-width="0.5"/>
<rect x="276.15" y="251.25" width="4.7" height="4.7" fill="#3d82ab" stroke="#2d5f80" stroke-width="0.5"/>
<rect x="283.65" y="247.35" width="4.7" height="4.7" fill="#3d82ab" stroke="#2d5f80" stroke-width="0.5"/>
<rect x="291.15" y="242.65" width="4.7" height="4.7" fill="#3d82ab" stroke="#2d5f80" stroke-width="0.5"/>
<rect x="298.65" y="237.95" width="4.7" height="4.7" fill="#3d82ab" stroke="#2d5f80" stroke-width="0.5"/>
<rect x="306.15" y="234.05" width="4.7" height="4.7" fill="#3d82ab" stroke="#2d5f80" stroke-width="0.5"/>
<rect x="313.65" y="229.75" width="4.7" height="4.7" fill="#3d82ab" stroke="#2d5f80" stroke-width="0.5"/>
<rect x="321.15" y="225.65" width="4.7" height="4.7" fill="#3d82ab" stroke="#2d5f80" stroke-width="0.5"/>
<rect x="328.65" y="222.55" width="4.7" height="4.7" fill="#3d82ab" stroke="#2d5f80" stroke-width="0.5"/>
<rect x="336.15" y="219.45" width="4.7" height="4.7" fill="#3d82ab" stroke="#2d5f80" stroke-width="0.5"/>
<rect x="343.65" y="217.25" width="4.7" height="4.7" fill="#3d82ab" stroke="#2d5f80" stroke-width="0.5"/>
<rect x="351.15" y="215.95" width="4.7" height="4.7" fill="#3d82ab" stroke="#2d5f80" stroke-width="0.5"/>
<rect x="358.65" y="213.65" width="4.7" height="4.7" fill="#3d82ab" stroke="#2d5f80" stroke-width="0.5"/>
<rect x="366.15" y="212.05" width="4.7" height="4.7" fill="#3d82ab" stroke="#2d5f80" stroke-width="0.5"/>
<rect x="373.65" y="210.45" width="4.7" height="4.7" fill="#3d82ab" stroke="#2d5f80" stroke-width="0.5"/>
<rect x="381.15" y="208.95" width="4.7" height="4.7" fill="#3d82ab" stroke="#2d5f80" stroke-width="0.5"/>
<rect x="388.65" y="207.35" width="4.7" height="4.7" fill="#3d82ab" stroke="#2d5f80" stroke-width="0.5"/>
<rect x="396.15" y="204.95" width="4.7" height="4.7" fill="#3d82ab" stroke="#2d5f80" stroke-width="0.5"/>
<rect x="403.65" y="202.65" width="4.7" height="4.7" fill="#3d82ab" stroke="#2d5f80" stroke-width="0.5"/>
<rect x="411.15" y="199.95" width="4.7" height="4.7" fill="#3d82ab" stroke="#2d5f80" stroke-width="0.5"/>
<rect x="418.65" y="197.95" width="4.7" height="4.7" fill="#3d82ab" stroke="#2d5f80" stroke-width="0.5"/>
<circle cx="271" cy="250.5" r="2.55" fill="#e8a696" stroke="#b57a6e" stroke-width="0.5"/>
<circle cx="278.5" cy="245.8" r="2.55" fill="#e8a696" stroke="#b57a6e" stroke-width="0.5"/>
<circle cx="286" cy="241.1" r="2.55" fill="#e8a696" stroke="#b57a6e" stroke-width="0.5"/>
<circle cx="293.5" cy="235.9" r="2.55" fill="#e8a696" stroke="#b57a6e" stroke-width="0.5"/>
<circle cx="301" cy="231.7" r="2.55" fill="#e8a696" stroke="#b57a6e" stroke-width="0.5"/>
<circle cx="308.5" cy="227.7" r="2.55" fill="#e8a696" stroke="#b57a6e" stroke-width="0.5"/>
<circle cx="316" cy="223.8" r="2.55" fill="#e8a696" stroke="#b57a6e" stroke-width="0.5"/>
<circle cx="323.5" cy="219.9" r="2.55" fill="#e8a696" stroke="#b57a6e" stroke-width="0.5"/>
<circle cx="331" cy="217.5" r="2.55" fill="#e8a696" stroke="#b57a6e" stroke-width="0.5"/>
<circle cx="338.5" cy="214.4" r="2.55" fill="#e8a696" stroke="#b57a6e" stroke-width="0.5"/>
<circle cx="346" cy="214" r="2.55" fill="#e8a696" stroke="#b57a6e" stroke-width="0.5"/>
<circle cx="353.5" cy="212.8" r="2.55" fill="#e8a696" stroke="#b57a6e" stroke-width="0.5"/>
<circle cx="361" cy="211.3" r="2.55" fill="#e8a696" stroke="#b57a6e" stroke-width="0.5"/>
<circle cx="368.5" cy="209.7" r="2.55" fill="#e8a696" stroke="#b57a6e" stroke-width="0.5"/>
<circle cx="376" cy="208.6" r="2.55" fill="#e8a696" stroke="#b57a6e" stroke-width="0.5"/>
<circle cx="383.5" cy="207.3" r="2.55" fill="#e8a696" stroke="#b57a6e" stroke-width="0.5"/>
<circle cx="391" cy="206.1" r="2.55" fill="#e8a696" stroke="#b57a6e" stroke-width="0.5"/>
<circle cx="398.5" cy="204.5" r="2.55" fill="#e8a696" stroke="#b57a6e" stroke-width="0.5"/>
<circle cx="406" cy="202.6" r="2.55" fill="#e8a696" stroke="#b57a6e" stroke-width="0.5"/>
<circle cx="413.5" cy="200.3" r="2.55" fill="#e8a696" stroke="#b57a6e" stroke-width="0.5"/>
<circle cx="421" cy="198.7" r="2.55" fill="#e8a696" stroke="#b57a6e" stroke-width="0.5"/>
<path d="M271 247.76l3.05 5.4h-6.1z" fill="#cd5f46" stroke="#9a4634" stroke-width="0.5"/>
<path d="M278.5 242.96l3.05 5.4h-6.1z" fill="#cd5f46" stroke="#9a4634" stroke-width="0.5"/>
<path d="M286 238.66l3.05 5.4h-6.1z" fill="#cd5f46" stroke="#9a4634" stroke-width="0.5"/>
<path d="M293.5 233.56l3.05 5.4h-6.1z" fill="#cd5f46" stroke="#9a4634" stroke-width="0.5"/>
<path d="M301 228.86l3.05 5.4h-6.1z" fill="#cd5f46" stroke="#9a4634" stroke-width="0.5"/>
<path d="M308.5 224.76l3.05 5.4h-6.1z" fill="#cd5f46" stroke="#9a4634" stroke-width="0.5"/>
<path d="M316 220.56l3.05 5.4h-6.1z" fill="#cd5f46" stroke="#9a4634" stroke-width="0.5"/>
<path d="M323.5 216.66l3.05 5.4h-6.1z" fill="#cd5f46" stroke="#9a4634" stroke-width="0.5"/>
<path d="M331 213.16l3.05 5.4h-6.1z" fill="#cd5f46" stroke="#9a4634" stroke-width="0.5"/>
<path d="M338.5 210.36l3.05 5.4h-6.1z" fill="#cd5f46" stroke="#9a4634" stroke-width="0.5"/>
<path d="M346 209.76l3.05 5.4h-6.1z" fill="#cd5f46" stroke="#9a4634" stroke-width="0.5"/>
<path d="M353.5 207.26l3.05 5.4h-6.1z" fill="#cd5f46" stroke="#9a4634" stroke-width="0.5"/>
<path d="M361 205.66l3.05 5.4h-6.1z" fill="#cd5f46" stroke="#9a4634" stroke-width="0.5"/>
<path d="M368.5 204.86l3.05 5.4h-6.1z" fill="#cd5f46" stroke="#9a4634" stroke-width="0.5"/>
<path d="M376 203.76l3.05 5.4h-6.1z" fill="#cd5f46" stroke="#9a4634" stroke-width="0.5"/>
<path d="M383.5 202.86l3.05 5.4h-6.1z" fill="#cd5f46" stroke="#9a4634" stroke-width="0.5"/>
<path d="M391 201.76l3.05 5.4h-6.1z" fill="#cd5f46" stroke="#9a4634" stroke-width="0.5"/>
<path d="M398.5 200.16l3.05 5.4h-6.1z" fill="#cd5f46" stroke="#9a4634" stroke-width="0.5"/>
<path d="M406 198.16l3.05 5.4h-6.1z" fill="#cd5f46" stroke="#9a4634" stroke-width="0.5"/>
<path d="M413.5 196.56l3.05 5.4h-6.1z" fill="#cd5f46" stroke="#9a4634" stroke-width="0.5"/>
<path d="M421 194.66l3.05 5.4h-6.1z" fill="#cd5f46" stroke="#9a4634" stroke-width="0.5"/>
</g>
<rect x="271" y="172.4" width="150" height="124" fill="none" stroke="#5a5a5a" stroke-width="1.1"/>
<line x1="271" y1="296.4" x2="271" y2="298.6" stroke="#5a5a5a" stroke-width="0.9"/>
<text x="270.6" y="310.4" font-size="10.2" fill="#3a3a3a" text-anchor="middle">10<tspan font-size="7.2" dy="-4.6">-2</tspan></text>
<line x1="282.29" y1="296.4" x2="282.29" y2="297.8" stroke="#5a5a5a" stroke-width="0.7"/>
<line x1="288.89" y1="296.4" x2="288.89" y2="297.8" stroke="#5a5a5a" stroke-width="0.7"/>
<line x1="293.58" y1="296.4" x2="293.58" y2="297.8" stroke="#5a5a5a" stroke-width="0.7"/>
<line x1="297.21" y1="296.4" x2="297.21" y2="297.8" stroke="#5a5a5a" stroke-width="0.7"/>
<line x1="300.18" y1="296.4" x2="300.18" y2="297.8" stroke="#5a5a5a" stroke-width="0.7"/>
<line x1="302.69" y1="296.4" x2="302.69" y2="297.8" stroke="#5a5a5a" stroke-width="0.7"/>
<line x1="304.87" y1="296.4" x2="304.87" y2="297.8" stroke="#5a5a5a" stroke-width="0.7"/>
<line x1="306.78" y1="296.4" x2="306.78" y2="297.8" stroke="#5a5a5a" stroke-width="0.7"/>
<line x1="308.5" y1="296.4" x2="308.5" y2="298.6" stroke="#5a5a5a" stroke-width="0.9"/>
<text x="308.1" y="310.4" font-size="10.2" fill="#3a3a3a" text-anchor="middle">10<tspan font-size="7.2" dy="-4.6">-1</tspan></text>
<line x1="319.79" y1="296.4" x2="319.79" y2="297.8" stroke="#5a5a5a" stroke-width="0.7"/>
<line x1="326.39" y1="296.4" x2="326.39" y2="297.8" stroke="#5a5a5a" stroke-width="0.7"/>
<line x1="331.08" y1="296.4" x2="331.08" y2="297.8" stroke="#5a5a5a" stroke-width="0.7"/>
<line x1="334.71" y1="296.4" x2="334.71" y2="297.8" stroke="#5a5a5a" stroke-width="0.7"/>
<line x1="337.68" y1="296.4" x2="337.68" y2="297.8" stroke="#5a5a5a" stroke-width="0.7"/>
<line x1="340.19" y1="296.4" x2="340.19" y2="297.8" stroke="#5a5a5a" stroke-width="0.7"/>
<line x1="342.37" y1="296.4" x2="342.37" y2="297.8" stroke="#5a5a5a" stroke-width="0.7"/>
<line x1="344.28" y1="296.4" x2="344.28" y2="297.8" stroke="#5a5a5a" stroke-width="0.7"/>
<line x1="346" y1="296.4" x2="346" y2="298.6" stroke="#5a5a5a" stroke-width="0.9"/>
<text x="345.6" y="310.4" font-size="10.2" fill="#3a3a3a" text-anchor="middle">10<tspan font-size="7.2" dy="-4.6">0</tspan></text>
<line x1="357.29" y1="296.4" x2="357.29" y2="297.8" stroke="#5a5a5a" stroke-width="0.7"/>
<line x1="363.89" y1="296.4" x2="363.89" y2="297.8" stroke="#5a5a5a" stroke-width="0.7"/>
<line x1="368.58" y1="296.4" x2="368.58" y2="297.8" stroke="#5a5a5a" stroke-width="0.7"/>
<line x1="372.21" y1="296.4" x2="372.21" y2="297.8" stroke="#5a5a5a" stroke-width="0.7"/>
<line x1="375.18" y1="296.4" x2="375.18" y2="297.8" stroke="#5a5a5a" stroke-width="0.7"/>
<line x1="377.69" y1="296.4" x2="377.69" y2="297.8" stroke="#5a5a5a" stroke-width="0.7"/>
<line x1="379.87" y1="296.4" x2="379.87" y2="297.8" stroke="#5a5a5a" stroke-width="0.7"/>
<line x1="381.78" y1="296.4" x2="381.78" y2="297.8" stroke="#5a5a5a" stroke-width="0.7"/>
<line x1="383.5" y1="296.4" x2="383.5" y2="298.6" stroke="#5a5a5a" stroke-width="0.9"/>
<text x="383.1" y="310.4" font-size="10.2" fill="#3a3a3a" text-anchor="middle">10<tspan font-size="7.2" dy="-4.6">1</tspan></text>
<line x1="394.79" y1="296.4" x2="394.79" y2="297.8" stroke="#5a5a5a" stroke-width="0.7"/>
<line x1="401.39" y1="296.4" x2="401.39" y2="297.8" stroke="#5a5a5a" stroke-width="0.7"/>
<line x1="406.08" y1="296.4" x2="406.08" y2="297.8" stroke="#5a5a5a" stroke-width="0.7"/>
<line x1="409.71" y1="296.4" x2="409.71" y2="297.8" stroke="#5a5a5a" stroke-width="0.7"/>
<line x1="412.68" y1="296.4" x2="412.68" y2="297.8" stroke="#5a5a5a" stroke-width="0.7"/>
<line x1="415.19" y1="296.4" x2="415.19" y2="297.8" stroke="#5a5a5a" stroke-width="0.7"/>
<line x1="417.37" y1="296.4" x2="417.37" y2="297.8" stroke="#5a5a5a" stroke-width="0.7"/>
<line x1="419.28" y1="296.4" x2="419.28" y2="297.8" stroke="#5a5a5a" stroke-width="0.7"/>
<line x1="421" y1="296.4" x2="421" y2="298.6" stroke="#5a5a5a" stroke-width="0.9"/>
<text x="420.6" y="310.4" font-size="10.2" fill="#3a3a3a" text-anchor="middle">10<tspan font-size="7.2" dy="-4.6">2</tspan></text>
<line x1="269.2" y1="172.4" x2="271" y2="172.4" stroke="#5a5a5a" stroke-width="0.9"/>
<text x="267" y="176.1" font-size="10.2" fill="#3a3a3a" text-anchor="end">10<tspan font-size="7.2" dy="-4.6">0</tspan></text>
<line x1="269.2" y1="196.48" x2="271" y2="196.48" stroke="#5a5a5a" stroke-width="0.9"/>
<text x="267" y="200.18" font-size="10.2" fill="#3a3a3a" text-anchor="end">10<tspan font-size="7.2" dy="-4.6">-1</tspan></text>
<line x1="269.9" y1="189.23" x2="271" y2="189.23" stroke="#5a5a5a" stroke-width="0.6"/>
<line x1="269.9" y1="184.99" x2="271" y2="184.99" stroke="#5a5a5a" stroke-width="0.6"/>
<line x1="269.9" y1="181.98" x2="271" y2="181.98" stroke="#5a5a5a" stroke-width="0.6"/>
<line x1="269.9" y1="179.65" x2="271" y2="179.65" stroke="#5a5a5a" stroke-width="0.6"/>
<line x1="269.9" y1="177.74" x2="271" y2="177.74" stroke="#5a5a5a" stroke-width="0.6"/>
<line x1="269.9" y1="176.13" x2="271" y2="176.13" stroke="#5a5a5a" stroke-width="0.6"/>
<line x1="269.9" y1="174.73" x2="271" y2="174.73" stroke="#5a5a5a" stroke-width="0.6"/>
<line x1="269.9" y1="173.5" x2="271" y2="173.5" stroke="#5a5a5a" stroke-width="0.6"/>
<line x1="269.2" y1="220.56" x2="271" y2="220.56" stroke="#5a5a5a" stroke-width="0.9"/>
<text x="267" y="224.26" font-size="10.2" fill="#3a3a3a" text-anchor="end">10<tspan font-size="7.2" dy="-4.6">-2</tspan></text>
<line x1="269.9" y1="213.31" x2="271" y2="213.31" stroke="#5a5a5a" stroke-width="0.6"/>
<line x1="269.9" y1="209.07" x2="271" y2="209.07" stroke="#5a5a5a" stroke-width="0.6"/>
<line x1="269.9" y1="206.06" x2="271" y2="206.06" stroke="#5a5a5a" stroke-width="0.6"/>
<line x1="269.9" y1="203.73" x2="271" y2="203.73" stroke="#5a5a5a" stroke-width="0.6"/>
<line x1="269.9" y1="201.82" x2="271" y2="201.82" stroke="#5a5a5a" stroke-width="0.6"/>
<line x1="269.9" y1="200.21" x2="271" y2="200.21" stroke="#5a5a5a" stroke-width="0.6"/>
<line x1="269.9" y1="198.81" x2="271" y2="198.81" stroke="#5a5a5a" stroke-width="0.6"/>
<line x1="269.9" y1="197.58" x2="271" y2="197.58" stroke="#5a5a5a" stroke-width="0.6"/>
<line x1="269.2" y1="244.64" x2="271" y2="244.64" stroke="#5a5a5a" stroke-width="0.9"/>
<text x="267" y="248.34" font-size="10.2" fill="#3a3a3a" text-anchor="end">10<tspan font-size="7.2" dy="-4.6">-3</tspan></text>
<line x1="269.9" y1="237.39" x2="271" y2="237.39" stroke="#5a5a5a" stroke-width="0.6"/>
<line x1="269.9" y1="233.15" x2="271" y2="233.15" stroke="#5a5a5a" stroke-width="0.6"/>
<line x1="269.9" y1="230.14" x2="271" y2="230.14" stroke="#5a5a5a" stroke-width="0.6"/>
<line x1="269.9" y1="227.81" x2="271" y2="227.81" stroke="#5a5a5a" stroke-width="0.6"/>
<line x1="269.9" y1="225.9" x2="271" y2="225.9" stroke="#5a5a5a" stroke-width="0.6"/>
<line x1="269.9" y1="224.29" x2="271" y2="224.29" stroke="#5a5a5a" stroke-width="0.6"/>
<line x1="269.9" y1="222.89" x2="271" y2="222.89" stroke="#5a5a5a" stroke-width="0.6"/>
<line x1="269.9" y1="221.66" x2="271" y2="221.66" stroke="#5a5a5a" stroke-width="0.6"/>
<line x1="269.2" y1="268.72" x2="271" y2="268.72" stroke="#5a5a5a" stroke-width="0.9"/>
<text x="267" y="272.42" font-size="10.2" fill="#3a3a3a" text-anchor="end">10<tspan font-size="7.2" dy="-4.6">-4</tspan></text>
<line x1="269.9" y1="261.47" x2="271" y2="261.47" stroke="#5a5a5a" stroke-width="0.6"/>
<line x1="269.9" y1="257.23" x2="271" y2="257.23" stroke="#5a5a5a" stroke-width="0.6"/>
<line x1="269.9" y1="254.22" x2="271" y2="254.22" stroke="#5a5a5a" stroke-width="0.6"/>
<line x1="269.9" y1="251.89" x2="271" y2="251.89" stroke="#5a5a5a" stroke-width="0.6"/>
<line x1="269.9" y1="249.98" x2="271" y2="249.98" stroke="#5a5a5a" stroke-width="0.6"/>
<line x1="269.9" y1="248.37" x2="271" y2="248.37" stroke="#5a5a5a" stroke-width="0.6"/>
<line x1="269.9" y1="246.97" x2="271" y2="246.97" stroke="#5a5a5a" stroke-width="0.6"/>
<line x1="269.9" y1="245.74" x2="271" y2="245.74" stroke="#5a5a5a" stroke-width="0.6"/>
<line x1="269.2" y1="292.8" x2="271" y2="292.8" stroke="#5a5a5a" stroke-width="0.9"/>
<text x="267" y="296.5" font-size="10.2" fill="#3a3a3a" text-anchor="end">10<tspan font-size="7.2" dy="-4.6">-5</tspan></text>
<line x1="269.9" y1="285.55" x2="271" y2="285.55" stroke="#5a5a5a" stroke-width="0.6"/>
<line x1="269.9" y1="281.31" x2="271" y2="281.31" stroke="#5a5a5a" stroke-width="0.6"/>
<line x1="269.9" y1="278.3" x2="271" y2="278.3" stroke="#5a5a5a" stroke-width="0.6"/>
<line x1="269.9" y1="275.97" x2="271" y2="275.97" stroke="#5a5a5a" stroke-width="0.6"/>
<line x1="269.9" y1="274.06" x2="271" y2="274.06" stroke="#5a5a5a" stroke-width="0.6"/>
<line x1="269.9" y1="272.45" x2="271" y2="272.45" stroke="#5a5a5a" stroke-width="0.6"/>
<line x1="269.9" y1="271.05" x2="271" y2="271.05" stroke="#5a5a5a" stroke-width="0.6"/>
<line x1="269.9" y1="269.82" x2="271" y2="269.82" stroke="#5a5a5a" stroke-width="0.6"/>
<path d="M369.4 249l3.1 3.1l-3.1 3.1l-3.1 -3.1z" fill="#9cc2da" stroke="#6f8797" stroke-width="0.5"/>
<text x="380.99" y="253.9" font-size="10.18" fill="#9dc2d9" text-anchor="start">PAOM-1</text>
<rect x="367.05" y="262.75" width="4.7" height="4.7" fill="#3d82ab" stroke="#2d5f80" stroke-width="0.5"/>
<text x="380.97" y="267" font-size="10.36" fill="#3a7fa8" text-anchor="start">PAOM-2</text>
<circle cx="369.4" cy="277.7" r="2.55" fill="#e8a696" stroke="#b57a6e" stroke-width="0.5"/>
<text x="380.97" y="279.9" font-size="10.33" fill="#e8aa9b" text-anchor="start">PAOM-3</text>
<path d="M369.4 287.06l3.05 5.4h-6.1z" fill="#cd5f46" stroke="#9a4634" stroke-width="0.5"/>
<text x="380.98" y="292.7" font-size="10.3" fill="#c45a43" text-anchor="start">PAOM-4</text>
<text x="346.77" y="329.8" font-size="13.9" fill="#3a3a3a" text-anchor="middle">Frequency (Hz)</text>
<text transform="translate(245 234.63) rotate(-90)" font-size="13.3" fill="#3a3a3a" text-anchor="middle">G"</text>
<text x="432" y="166.3" font-size="17.8" fill="#333" text-anchor="start">(F)</text>
<clipPath id="clipF"><rect x="484.6" y="172.4" width="150" height="122.9"/></clipPath>
<g clip-path="url(#clipF)">
<path d="M484.6 213.3l3.1 3.1l-3.1 3.1l-3.1 -3.1z" fill="#9cc2da" stroke="#6f8797" stroke-width="0.5"/>
<path d="M492.1 214.4l3.1 3.1l-3.1 3.1l-3.1 -3.1z" fill="#9cc2da" stroke="#6f8797" stroke-width="0.5"/>
<path d="M499.6 214.9l3.1 3.1l-3.1 3.1l-3.1 -3.1z" fill="#9cc2da" stroke="#6f8797" stroke-width="0.5"/>
<path d="M507.1 215.2l3.1 3.1l-3.1 3.1l-3.1 -3.1z" fill="#9cc2da" stroke="#6f8797" stroke-width="0.5"/>
<path d="M514.6 215.2l3.1 3.1l-3.1 3.1l-3.1 -3.1z" fill="#9cc2da" stroke="#6f8797" stroke-width="0.5"/>
<path d="M522.1 215.2l3.1 3.1l-3.1 3.1l-3.1 -3.1z" fill="#9cc2da" stroke="#6f8797" stroke-width="0.5"/>
<path d="M529.6 216l3.1 3.1l-3.1 3.1l-3.1 -3.1z" fill="#9cc2da" stroke="#6f8797" stroke-width="0.5"/>
<path d="M537.1 216.8l3.1 3.1l-3.1 3.1l-3.1 -3.1z" fill="#9cc2da" stroke="#6f8797" stroke-width="0.5"/>
<path d="M544.6 219.6l3.1 3.1l-3.1 3.1l-3.1 -3.1z" fill="#9cc2da" stroke="#6f8797" stroke-width="0.5"/>
<path d="M552.1 222.3l3.1 3.1l-3.1 3.1l-3.1 -3.1z" fill="#9cc2da" stroke="#6f8797" stroke-width="0.5"/>
<path d="M559.6 225.4l3.1 3.1l-3.1 3.1l-3.1 -3.1z" fill="#9cc2da" stroke="#6f8797" stroke-width="0.5"/>
<path d="M567.1 229.3l3.1 3.1l-3.1 3.1l-3.1 -3.1z" fill="#9cc2da" stroke="#6f8797" stroke-width="0.5"/>
<path d="M574.6 234.3l3.1 3.1l-3.1 3.1l-3.1 -3.1z" fill="#9cc2da" stroke="#6f8797" stroke-width="0.5"/>
<path d="M582.1 238.7l3.1 3.1l-3.1 3.1l-3.1 -3.1z" fill="#9cc2da" stroke="#6f8797" stroke-width="0.5"/>
<path d="M589.6 243.4l3.1 3.1l-3.1 3.1l-3.1 -3.1z" fill="#9cc2da" stroke="#6f8797" stroke-width="0.5"/>
<path d="M597.1 247.3l3.1 3.1l-3.1 3.1l-3.1 -3.1z" fill="#9cc2da" stroke="#6f8797" stroke-width="0.5"/>
<path d="M604.6 251l3.1 3.1l-3.1 3.1l-3.1 -3.1z" fill="#9cc2da" stroke="#6f8797" stroke-width="0.5"/>
<path d="M612.1 254.4l3.1 3.1l-3.1 3.1l-3.1 -3.1z" fill="#9cc2da" stroke="#6f8797" stroke-width="0.5"/>
<path d="M619.6 257.9l3.1 3.1l-3.1 3.1l-3.1 -3.1z" fill="#9cc2da" stroke="#6f8797" stroke-width="0.5"/>
<path d="M627.1 261.9l3.1 3.1l-3.1 3.1l-3.1 -3.1z" fill="#9cc2da" stroke="#6f8797" stroke-width="0.5"/>
<path d="M634.6 265.4l3.1 3.1l-3.1 3.1l-3.1 -3.1z" fill="#9cc2da" stroke="#6f8797" stroke-width="0.5"/>
<rect x="482.25" y="212.85" width="4.7" height="4.7" fill="#3d82ab" stroke="#2d5f80" stroke-width="0.5"/>
<rect x="489.75" y="212.55" width="4.7" height="4.7" fill="#3d82ab" stroke="#2d5f80" stroke-width="0.5"/>
<rect x="497.25" y="212.85" width="4.7" height="4.7" fill="#3d82ab" stroke="#2d5f80" stroke-width="0.5"/>
<rect x="504.75" y="213.15" width="4.7" height="4.7" fill="#3d82ab" stroke="#2d5f80" stroke-width="0.5"/>
<rect x="512.25" y="213.15" width="4.7" height="4.7" fill="#3d82ab" stroke="#2d5f80" stroke-width="0.5"/>
<rect x="519.75" y="213.65" width="4.7" height="4.7" fill="#3d82ab" stroke="#2d5f80" stroke-width="0.5"/>
<rect x="527.25" y="214.35" width="4.7" height="4.7" fill="#3d82ab" stroke="#2d5f80" stroke-width="0.5"/>
<rect x="534.75" y="215.95" width="4.7" height="4.7" fill="#3d82ab" stroke="#2d5f80" stroke-width="0.5"/>
<rect x="542.25" y="217.85" width="4.7" height="4.7" fill="#3d82ab" stroke="#2d5f80" stroke-width="0.5"/>
<rect x="549.75" y="219.45" width="4.7" height="4.7" fill="#3d82ab" stroke="#2d5f80" stroke-width="0.5"/>
<rect x="557.25" y="221.95" width="4.7" height="4.7" fill="#3d82ab" stroke="#2d5f80" stroke-width="0.5"/>
<rect x="564.75" y="224.15" width="4.7" height="4.7" fill="#3d82ab" stroke="#2d5f80" stroke-width="0.5"/>
<rect x="572.25" y="226.95" width="4.7" height="4.7" fill="#3d82ab" stroke="#2d5f80" stroke-width="0.5"/>
<rect x="579.75" y="230.35" width="4.7" height="4.7" fill="#3d82ab" stroke="#2d5f80" stroke-width="0.5"/>
<rect x="587.25" y="233.95" width="4.7" height="4.7" fill="#3d82ab" stroke="#2d5f80" stroke-width="0.5"/>
<rect x="594.75" y="236.65" width="4.7" height="4.7" fill="#3d82ab" stroke="#2d5f80" stroke-width="0.5"/>
<rect x="602.25" y="239.75" width="4.7" height="4.7" fill="#3d82ab" stroke="#2d5f80" stroke-width="0.5"/>
<rect x="609.75" y="243.35" width="4.7" height="4.7" fill="#3d82ab" stroke="#2d5f80" stroke-width="0.5"/>
<rect x="617.25" y="247.05" width="4.7" height="4.7" fill="#3d82ab" stroke="#2d5f80" stroke-width="0.5"/>
<rect x="624.75" y="249.65" width="4.7" height="4.7" fill="#3d82ab" stroke="#2d5f80" stroke-width="0.5"/>
<rect x="632.25" y="252.35" width="4.7" height="4.7" fill="#3d82ab" stroke="#2d5f80" stroke-width="0.5"/>
<circle cx="484.6" cy="207" r="2.55" fill="#e8a696" stroke="#b57a6e" stroke-width="0.5"/>
<circle cx="492.1" cy="207.3" r="2.55" fill="#e8a696" stroke="#b57a6e" stroke-width="0.5"/>
<circle cx="499.6" cy="207.3" r="2.55" fill="#e8a696" stroke="#b57a6e" stroke-width="0.5"/>
<circle cx="507.1" cy="207.3" r="2.55" fill="#e8a696" stroke="#b57a6e" stroke-width="0.5"/>
<circle cx="514.6" cy="207.3" r="2.55" fill="#e8a696" stroke="#b57a6e" stroke-width="0.5"/>
<circle cx="522.1" cy="208.1" r="2.55" fill="#e8a696" stroke="#b57a6e" stroke-width="0.5"/>
<circle cx="529.6" cy="209.2" r="2.55" fill="#e8a696" stroke="#b57a6e" stroke-width="0.5"/>
<circle cx="537.1" cy="210.8" r="2.55" fill="#e8a696" stroke="#b57a6e" stroke-width="0.5"/>
<circle cx="544.6" cy="212.4" r="2.55" fill="#e8a696" stroke="#b57a6e" stroke-width="0.5"/>
<circle cx="552.1" cy="214.5" r="2.55" fill="#e8a696" stroke="#b57a6e" stroke-width="0.5"/>
<circle cx="559.6" cy="217.1" r="2.55" fill="#e8a696" stroke="#b57a6e" stroke-width="0.5"/>
<circle cx="567.1" cy="219.9" r="2.55" fill="#e8a696" stroke="#b57a6e" stroke-width="0.5"/>
<circle cx="574.6" cy="223.3" r="2.55" fill="#e8a696" stroke="#b57a6e" stroke-width="0.5"/>
<circle cx="582.1" cy="226.6" r="2.55" fill="#e8a696" stroke="#b57a6e" stroke-width="0.5"/>
<circle cx="589.6" cy="230.1" r="2.55" fill="#e8a696" stroke="#b57a6e" stroke-width="0.5"/>
<circle cx="597.1" cy="233.5" r="2.55" fill="#e8a696" stroke="#b57a6e" stroke-width="0.5"/>
<circle cx="604.6" cy="237.1" r="2.55" fill="#e8a696" stroke="#b57a6e" stroke-width="0.5"/>
<circle cx="612.1" cy="240.6" r="2.55" fill="#e8a696" stroke="#b57a6e" stroke-width="0.5"/>
<circle cx="619.6" cy="243.7" r="2.55" fill="#e8a696" stroke="#b57a6e" stroke-width="0.5"/>
<circle cx="627.1" cy="247.3" r="2.55" fill="#e8a696" stroke="#b57a6e" stroke-width="0.5"/>
<circle cx="634.6" cy="250.4" r="2.55" fill="#e8a696" stroke="#b57a6e" stroke-width="0.5"/>
<path d="M484.6 200.96l3.05 5.4h-6.1z" fill="#cd5f46" stroke="#9a4634" stroke-width="0.5"/>
<path d="M492.1 201.46l3.05 5.4h-6.1z" fill="#cd5f46" stroke="#9a4634" stroke-width="0.5"/>
<path d="M499.6 201.76l3.05 5.4h-6.1z" fill="#cd5f46" stroke="#9a4634" stroke-width="0.5"/>
<path d="M507.1 201.96l3.05 5.4h-6.1z" fill="#cd5f46" stroke="#9a4634" stroke-width="0.5"/>
<path d="M514.6 202.06l3.05 5.4h-6.1z" fill="#cd5f46" stroke="#9a4634" stroke-width="0.5"/>
<path d="M522.1 202.26l3.05 5.4h-6.1z" fill="#cd5f46" stroke="#9a4634" stroke-width="0.5"/>
<path d="M529.6 202.56l3.05 5.4h-6.1z" fill="#cd5f46" stroke="#9a4634" stroke-width="0.5"/>
<path d="M537.1 202.86l3.05 5.4h-6.1z" fill="#cd5f46" stroke="#9a4634" stroke-width="0.5"/>
<path d="M544.6 203.26l3.05 5.4h-6.1z" fill="#cd5f46" stroke="#9a4634" stroke-width="0.5"/>
<path d="M552.1 203.76l3.05 5.4h-6.1z" fill="#cd5f46" stroke="#9a4634" stroke-width="0.5"/>
<path d="M559.6 204.06l3.05 5.4h-6.1z" fill="#cd5f46" stroke="#9a4634" stroke-width="0.5"/>
<path d="M567.1 205.36l3.05 5.4h-6.1z" fill="#cd5f46" stroke="#9a4634" stroke-width="0.5"/>
<path d="M574.6 206.96l3.05 5.4h-6.1z" fill="#cd5f46" stroke="#9a4634" stroke-width="0.5"/>
<path d="M582.1 208.46l3.05 5.4h-6.1z" fill="#cd5f46" stroke="#9a4634" stroke-width="0.5"/>
<path d="M589.6 210.66l3.05 5.4h-6.1z" fill="#cd5f46" stroke="#9a4634" stroke-width="0.5"/>
<path d="M597.1 213.16l3.05 5.4h-6.1z" fill="#cd5f46" stroke="#9a4634" stroke-width="0.5"/>
<path d="M604.6 216.36l3.05 5.4h-6.1z" fill="#cd5f46" stroke="#9a4634" stroke-width="0.5"/>
<path d="M612.1 220.06l3.05 5.4h-6.1z" fill="#cd5f46" stroke="#9a4634" stroke-width="0.5"/>
<path d="M619.6 224.16l3.05 5.4h-6.1z" fill="#cd5f46" stroke="#9a4634" stroke-width="0.5"/>
<path d="M627.1 227.96l3.05 5.4h-6.1z" fill="#cd5f46" stroke="#9a4634" stroke-width="0.5"/>
<path d="M634.6 232.36l3.05 5.4h-6.1z" fill="#cd5f46" stroke="#9a4634" stroke-width="0.5"/>
</g>
<rect x="484.6" y="172.4" width="150" height="122.9" fill="none" stroke="#5a5a5a" stroke-width="1.1"/>
<line x1="484.6" y1="295.3" x2="484.6" y2="297.5" stroke="#5a5a5a" stroke-width="0.9"/>
<text x="484.2" y="309" font-size="10.2" fill="#3a3a3a" text-anchor="middle">10<tspan font-size="7.2" dy="-4.6">-2</tspan></text>
<line x1="495.89" y1="295.3" x2="495.89" y2="296.7" stroke="#5a5a5a" stroke-width="0.7"/>
<line x1="502.49" y1="295.3" x2="502.49" y2="296.7" stroke="#5a5a5a" stroke-width="0.7"/>
<line x1="507.18" y1="295.3" x2="507.18" y2="296.7" stroke="#5a5a5a" stroke-width="0.7"/>
<line x1="510.81" y1="295.3" x2="510.81" y2="296.7" stroke="#5a5a5a" stroke-width="0.7"/>
<line x1="513.78" y1="295.3" x2="513.78" y2="296.7" stroke="#5a5a5a" stroke-width="0.7"/>
<line x1="516.29" y1="295.3" x2="516.29" y2="296.7" stroke="#5a5a5a" stroke-width="0.7"/>
<line x1="518.47" y1="295.3" x2="518.47" y2="296.7" stroke="#5a5a5a" stroke-width="0.7"/>
<line x1="520.38" y1="295.3" x2="520.38" y2="296.7" stroke="#5a5a5a" stroke-width="0.7"/>
<line x1="522.1" y1="295.3" x2="522.1" y2="297.5" stroke="#5a5a5a" stroke-width="0.9"/>
<text x="521.7" y="309" font-size="10.2" fill="#3a3a3a" text-anchor="middle">10<tspan font-size="7.2" dy="-4.6">-1</tspan></text>
<line x1="533.39" y1="295.3" x2="533.39" y2="296.7" stroke="#5a5a5a" stroke-width="0.7"/>
<line x1="539.99" y1="295.3" x2="539.99" y2="296.7" stroke="#5a5a5a" stroke-width="0.7"/>
<line x1="544.68" y1="295.3" x2="544.68" y2="296.7" stroke="#5a5a5a" stroke-width="0.7"/>
<line x1="548.31" y1="295.3" x2="548.31" y2="296.7" stroke="#5a5a5a" stroke-width="0.7"/>
<line x1="551.28" y1="295.3" x2="551.28" y2="296.7" stroke="#5a5a5a" stroke-width="0.7"/>
<line x1="553.79" y1="295.3" x2="553.79" y2="296.7" stroke="#5a5a5a" stroke-width="0.7"/>
<line x1="555.97" y1="295.3" x2="555.97" y2="296.7" stroke="#5a5a5a" stroke-width="0.7"/>
<line x1="557.88" y1="295.3" x2="557.88" y2="296.7" stroke="#5a5a5a" stroke-width="0.7"/>
<line x1="559.6" y1="295.3" x2="559.6" y2="297.5" stroke="#5a5a5a" stroke-width="0.9"/>
<text x="559.2" y="309" font-size="10.2" fill="#3a3a3a" text-anchor="middle">10<tspan font-size="7.2" dy="-4.6">0</tspan></text>
<line x1="570.89" y1="295.3" x2="570.89" y2="296.7" stroke="#5a5a5a" stroke-width="0.7"/>
<line x1="577.49" y1="295.3" x2="577.49" y2="296.7" stroke="#5a5a5a" stroke-width="0.7"/>
<line x1="582.18" y1="295.3" x2="582.18" y2="296.7" stroke="#5a5a5a" stroke-width="0.7"/>
<line x1="585.81" y1="295.3" x2="585.81" y2="296.7" stroke="#5a5a5a" stroke-width="0.7"/>
<line x1="588.78" y1="295.3" x2="588.78" y2="296.7" stroke="#5a5a5a" stroke-width="0.7"/>
<line x1="591.29" y1="295.3" x2="591.29" y2="296.7" stroke="#5a5a5a" stroke-width="0.7"/>
<line x1="593.47" y1="295.3" x2="593.47" y2="296.7" stroke="#5a5a5a" stroke-width="0.7"/>
<line x1="595.38" y1="295.3" x2="595.38" y2="296.7" stroke="#5a5a5a" stroke-width="0.7"/>
<line x1="597.1" y1="295.3" x2="597.1" y2="297.5" stroke="#5a5a5a" stroke-width="0.9"/>
<text x="596.7" y="309" font-size="10.2" fill="#3a3a3a" text-anchor="middle">10<tspan font-size="7.2" dy="-4.6">1</tspan></text>
<line x1="608.39" y1="295.3" x2="608.39" y2="296.7" stroke="#5a5a5a" stroke-width="0.7"/>
<line x1="614.99" y1="295.3" x2="614.99" y2="296.7" stroke="#5a5a5a" stroke-width="0.7"/>
<line x1="619.68" y1="295.3" x2="619.68" y2="296.7" stroke="#5a5a5a" stroke-width="0.7"/>
<line x1="623.31" y1="295.3" x2="623.31" y2="296.7" stroke="#5a5a5a" stroke-width="0.7"/>
<line x1="626.28" y1="295.3" x2="626.28" y2="296.7" stroke="#5a5a5a" stroke-width="0.7"/>
<line x1="628.79" y1="295.3" x2="628.79" y2="296.7" stroke="#5a5a5a" stroke-width="0.7"/>
<line x1="630.97" y1="295.3" x2="630.97" y2="296.7" stroke="#5a5a5a" stroke-width="0.7"/>
<line x1="632.88" y1="295.3" x2="632.88" y2="296.7" stroke="#5a5a5a" stroke-width="0.7"/>
<line x1="634.6" y1="295.3" x2="634.6" y2="297.5" stroke="#5a5a5a" stroke-width="0.9"/>
<text x="634.2" y="309" font-size="10.2" fill="#3a3a3a" text-anchor="middle">10<tspan font-size="7.2" dy="-4.6">2</tspan></text>
<line x1="482.8" y1="172.4" x2="484.6" y2="172.4" stroke="#5a5a5a" stroke-width="0.9"/>
<text x="483.2" y="176.1" font-size="10.2" fill="#3a3a3a" text-anchor="end">10<tspan font-size="7.2" dy="-4.6">5</tspan></text>
<line x1="482.8" y1="203.1" x2="484.6" y2="203.1" stroke="#5a5a5a" stroke-width="0.9"/>
<text x="483.2" y="206.8" font-size="10.2" fill="#3a3a3a" text-anchor="end">10<tspan font-size="7.2" dy="-4.6">4</tspan></text>
<line x1="483.5" y1="193.86" x2="484.6" y2="193.86" stroke="#5a5a5a" stroke-width="0.6"/>
<line x1="483.5" y1="188.45" x2="484.6" y2="188.45" stroke="#5a5a5a" stroke-width="0.6"/>
<line x1="483.5" y1="184.62" x2="484.6" y2="184.62" stroke="#5a5a5a" stroke-width="0.6"/>
<line x1="483.5" y1="181.64" x2="484.6" y2="181.64" stroke="#5a5a5a" stroke-width="0.6"/>
<line x1="483.5" y1="179.21" x2="484.6" y2="179.21" stroke="#5a5a5a" stroke-width="0.6"/>
<line x1="483.5" y1="177.16" x2="484.6" y2="177.16" stroke="#5a5a5a" stroke-width="0.6"/>
<line x1="483.5" y1="175.38" x2="484.6" y2="175.38" stroke="#5a5a5a" stroke-width="0.6"/>
<line x1="483.5" y1="173.8" x2="484.6" y2="173.8" stroke="#5a5a5a" stroke-width="0.6"/>
<line x1="482.8" y1="233.8" x2="484.6" y2="233.8" stroke="#5a5a5a" stroke-width="0.9"/>
<text x="483.2" y="237.5" font-size="10.2" fill="#3a3a3a" text-anchor="end">10<tspan font-size="7.2" dy="-4.6">3</tspan></text>
<line x1="483.5" y1="224.56" x2="484.6" y2="224.56" stroke="#5a5a5a" stroke-width="0.6"/>
<line x1="483.5" y1="219.15" x2="484.6" y2="219.15" stroke="#5a5a5a" stroke-width="0.6"/>
<line x1="483.5" y1="215.32" x2="484.6" y2="215.32" stroke="#5a5a5a" stroke-width="0.6"/>
<line x1="483.5" y1="212.34" x2="484.6" y2="212.34" stroke="#5a5a5a" stroke-width="0.6"/>
<line x1="483.5" y1="209.91" x2="484.6" y2="209.91" stroke="#5a5a5a" stroke-width="0.6"/>
<line x1="483.5" y1="207.86" x2="484.6" y2="207.86" stroke="#5a5a5a" stroke-width="0.6"/>
<line x1="483.5" y1="206.08" x2="484.6" y2="206.08" stroke="#5a5a5a" stroke-width="0.6"/>
<line x1="483.5" y1="204.5" x2="484.6" y2="204.5" stroke="#5a5a5a" stroke-width="0.6"/>
<line x1="482.8" y1="264.5" x2="484.6" y2="264.5" stroke="#5a5a5a" stroke-width="0.9"/>
<text x="483.2" y="268.2" font-size="10.2" fill="#3a3a3a" text-anchor="end">10<tspan font-size="7.2" dy="-4.6">2</tspan></text>
<line x1="483.5" y1="255.26" x2="484.6" y2="255.26" stroke="#5a5a5a" stroke-width="0.6"/>
<line x1="483.5" y1="249.85" x2="484.6" y2="249.85" stroke="#5a5a5a" stroke-width="0.6"/>
<line x1="483.5" y1="246.02" x2="484.6" y2="246.02" stroke="#5a5a5a" stroke-width="0.6"/>
<line x1="483.5" y1="243.04" x2="484.6" y2="243.04" stroke="#5a5a5a" stroke-width="0.6"/>
<line x1="483.5" y1="240.61" x2="484.6" y2="240.61" stroke="#5a5a5a" stroke-width="0.6"/>
<line x1="483.5" y1="238.56" x2="484.6" y2="238.56" stroke="#5a5a5a" stroke-width="0.6"/>
<line x1="483.5" y1="236.78" x2="484.6" y2="236.78" stroke="#5a5a5a" stroke-width="0.6"/>
<line x1="483.5" y1="235.2" x2="484.6" y2="235.2" stroke="#5a5a5a" stroke-width="0.6"/>
<line x1="482.8" y1="295.2" x2="484.6" y2="295.2" stroke="#5a5a5a" stroke-width="0.9"/>
<text x="483.2" y="298.9" font-size="10.2" fill="#3a3a3a" text-anchor="end">10<tspan font-size="7.2" dy="-4.6">1</tspan></text>
<line x1="483.5" y1="285.96" x2="484.6" y2="285.96" stroke="#5a5a5a" stroke-width="0.6"/>
<line x1="483.5" y1="280.55" x2="484.6" y2="280.55" stroke="#5a5a5a" stroke-width="0.6"/>
<line x1="483.5" y1="276.72" x2="484.6" y2="276.72" stroke="#5a5a5a" stroke-width="0.6"/>
<line x1="483.5" y1="273.74" x2="484.6" y2="273.74" stroke="#5a5a5a" stroke-width="0.6"/>
<line x1="483.5" y1="271.31" x2="484.6" y2="271.31" stroke="#5a5a5a" stroke-width="0.6"/>
<line x1="483.5" y1="269.26" x2="484.6" y2="269.26" stroke="#5a5a5a" stroke-width="0.6"/>
<line x1="483.5" y1="267.48" x2="484.6" y2="267.48" stroke="#5a5a5a" stroke-width="0.6"/>
<line x1="483.5" y1="265.9" x2="484.6" y2="265.9" stroke="#5a5a5a" stroke-width="0.6"/>
<path d="M496.3 244.1l3.1 3.1l-3.1 3.1l-3.1 -3.1z" fill="#9cc2da" stroke="#6f8797" stroke-width="0.5"/>
<text x="505.39" y="249.7" font-size="10.18" fill="#9dc2d9" text-anchor="start">PAOM-1</text>
<rect x="493.95" y="257.65" width="4.7" height="4.7" fill="#3d82ab" stroke="#2d5f80" stroke-width="0.5"/>
<text x="505.37" y="262.5" font-size="10.36" fill="#3a7fa8" text-anchor="start">PAOM-2</text>
<circle cx="496.3" cy="272.6" r="2.55" fill="#e8a696" stroke="#b57a6e" stroke-width="0.5"/>
<text x="505.37" y="275.2" font-size="10.33" fill="#e8aa9b" text-anchor="start">PAOM-3</text>
<path d="M496.3 281.96l3.05 5.4h-6.1z" fill="#cd5f46" stroke="#9a4634" stroke-width="0.5"/>
<text x="505.38" y="288" font-size="10.3" fill="#c45a43" text-anchor="start">PAOM-4</text>
<text x="559.42" y="330" font-size="13.79" fill="#3a3a3a" text-anchor="middle">Frequency (Hz)</text>
<text transform="translate(461.3 240.82) rotate(-90)" font-size="14.1" fill="#3a3a3a" text-anchor="middle">η (Pa.s)</text>
<text x="5.5" y="335.1" font-size="17.8" fill="#333" text-anchor="start">(G)</text>
<path d="M70.6 427.58 L71.18 427.53 L71.77 427.49 L72.35 427.44 L72.94 427.4 L73.52 427.35 L74.1 427.31 L74.69 427.27 L75.27 427.22 L75.86 427.18 L76.44 427.14 L77.02 427.09 L77.61 427.05 L78.19 427.01 L78.77 426.97 L79.36 426.93 L79.94 426.88 L80.53 426.84 L81.11 426.8 L81.69 426.76 L82.28 426.72 L82.86 426.69 L83.45 426.65 L84.03 426.61 L84.61 426.57 L85.2 426.54 L85.78 426.5 L86.37 426.47 L86.95 426.43 L87.53 426.4 L88.12 426.36 L88.7 426.33 L89.29 426.3 L89.87 426.27 L90.45 426.24 L91.04 426.21 L91.62 426.18 L92.21 426.15 L92.79 426.12 L93.37 426.09 L93.96 426.05 L94.54 426.01 L95.12 425.96 L95.71 425.92 L96.29 425.86 L96.88 425.8 L97.46 425.74 L98.04 425.67 L98.63 425.59 L99.21 425.5 L99.8 425.4 L100.38 425.3 L100.96 425.19 L101.55 425.06 L102.13 424.92 L102.72 424.78 L103.3 424.62 L103.88 424.45 L104.47 424.26 L105.05 424.06 L105.64 423.85 L106.22 423.62 L106.8 423.38 L107.39 423.12 L107.97 422.84 L108.55 422.55 L109.14 422.24 L109.72 421.91 L110.31 421.56 L110.89 421.2 L111.47 420.81 L112.06 420.42 L112.64 420.01 L113.23 419.58 L113.81 419.14 L114.39 418.69 L114.98 418.23 L115.56 417.75 L116.15 417.27 L116.73 416.77 L117.31 416.26 L117.9 415.75 L118.48 415.23 L119.07 414.7 L119.65 414.17 L120.23 413.62 L120.82 413.08 L121.4 412.53 L121.98 411.97 L122.57 411.42 L123.15 410.86 L123.74 410.3 L124.32 409.73 L124.9 409.17 L125.49 408.61 L126.07 408.05 L126.66 407.49 L127.24 406.94 L127.82 406.38 L128.41 405.84 L128.99 405.29 L129.58 404.75 L130.16 404.22 L130.74 403.69 L131.33 403.16 L131.91 402.64 L132.5 402.13 L133.08 401.62 L133.66 401.11 L134.25 400.6 L134.83 400.1 L135.42 399.61 L136 399.12 L136.58 398.63 L137.17 398.14 L137.75 397.66 L138.33 397.18 L138.92 396.71 L139.5 396.23 L140.09 395.76 L140.67 395.3 L141.25 394.83 L141.84 394.37 L142.42 393.92 L143.01 393.46 L143.59 393.01 L144.17 392.56 L144.76 392.11 L145.34 391.66 L145.93 391.22 L146.51 390.77 L147.09 390.33 L147.68 389.89 L148.26 389.45 L148.85 389.02 L149.43 388.58 L150.01 388.15 L150.6 387.72 L151.18 387.29 L151.76 386.87 L152.35 386.45 L152.93 386.03 L153.52 385.61 L154.1 385.2 L154.68 384.79 L155.27 384.38 L155.85 383.98 L156.44 383.58 L157.02 383.19 L157.6 382.8 L158.19 382.41 L158.77 382.03 L159.36 381.66 L159.94 381.29 L160.52 380.93 L161.11 380.57 L161.69 380.21 L162.28 379.87 L162.86 379.53 L163.44 379.19 L164.03 378.86 L164.61 378.54 L165.19 378.23 L165.78 377.92 L166.36 377.62 L166.95 377.33 L167.53 377.05 L168.11 376.77 L168.7 376.5 L169.28 376.24 L169.87 375.98 L170.45 375.73 L171.03 375.49 L171.62 375.26 L172.2 375.03 L172.79 374.8 L173.37 374.58 L173.95 374.37 L174.54 374.16 L175.12 373.96 L175.71 373.76 L176.29 373.57 L176.87 373.38 L177.46 373.2 L178.04 373.02 L178.63 372.84 L179.21 372.66 L179.79 372.49 L180.38 372.32 L180.96 372.16 L181.54 371.99 L182.13 371.83 L182.71 371.67 L183.3 371.51 L183.88 371.36 L184.46 371.2 L185.05 371.05 L185.63 370.89 L186.22 370.74 L186.8 370.59" fill="none" stroke="#d3d3d3" stroke-width="9.5" stroke-linejoin="round" stroke-linecap="round"/>
<path d="M70.6 422.77l4.81 4.81l-4.81 4.81l-4.81 -4.81z" fill="#9cc2da" stroke="#505050" stroke-width="0.8"/>
<rect x="105.46" y="418.62" width="7.29" height="7.29" fill="#3d82ab" stroke="#505050" stroke-width="0.8"/>
<circle cx="148" cy="389.65" r="3.95" fill="#e8a696" stroke="#505050" stroke-width="0.8"/>
<path d="M186.8 365.06l4.73 8.37h-9.46z" fill="#cd5f46" stroke="#505050" stroke-width="0.8"/>
<rect x="50.5" y="344.5" width="155.2" height="120.4" fill="none" stroke="#5a5a5a" stroke-width="1.1"/>
<line x1="48.1" y1="464.9" x2="50.5" y2="464.9" stroke="#5a5a5a" stroke-width="0.9"/>
<text x="44.6" y="468.6" font-size="10.8" fill="#3a3a3a" text-anchor="end">0.0</text>
<line x1="48.1" y1="424.77" x2="50.5" y2="424.77" stroke="#5a5a5a" stroke-width="0.9"/>
<text x="44.6" y="428.47" font-size="10.8" fill="#3a3a3a" text-anchor="end">4.0k</text>
<line x1="48.1" y1="384.63" x2="50.5" y2="384.63" stroke="#5a5a5a" stroke-width="0.9"/>
<text x="44.6" y="388.33" font-size="10.8" fill="#3a3a3a" text-anchor="end">8.0k</text>
<line x1="48.1" y1="344.5" x2="50.5" y2="344.5" stroke="#5a5a5a" stroke-width="0.9"/>
<text x="44.6" y="348.2" font-size="10.8" fill="#3a3a3a" text-anchor="end">12.0k</text>
<line x1="49" y1="444.83" x2="50.5" y2="444.83" stroke="#5a5a5a" stroke-width="0.8"/>
<line x1="49" y1="404.7" x2="50.5" y2="404.7" stroke="#5a5a5a" stroke-width="0.8"/>
<line x1="49" y1="364.57" x2="50.5" y2="364.57" stroke="#5a5a5a" stroke-width="0.8"/>
<line x1="70.6" y1="464.9" x2="70.6" y2="467.1" stroke="#5a5a5a" stroke-width="0.9"/>
<line x1="109.1" y1="464.9" x2="109.1" y2="467.1" stroke="#5a5a5a" stroke-width="0.9"/>
<line x1="148" y1="464.9" x2="148" y2="467.1" stroke="#5a5a5a" stroke-width="0.9"/>
<line x1="186.8" y1="464.9" x2="186.8" y2="467.1" stroke="#5a5a5a" stroke-width="0.9"/>
<text transform="translate(77.4 474.5) rotate(-45)" font-size="10.6" fill="#9dc2d9" text-anchor="end">PAOM-1</text>
<text transform="translate(115.9 474.5) rotate(-45)" font-size="10.6" fill="#3a7fa8" text-anchor="end">PAOM-2</text>
<text transform="translate(154.8 474.5) rotate(-45)" font-size="10.6" fill="#e8aa9b" text-anchor="end">PAOM-3</text>
<text transform="translate(193.6 474.5) rotate(-45)" font-size="10.6" fill="#c45a43" text-anchor="end">PAOM-4</text>
<text transform="translate(11.3 404.5) rotate(-90)" font-size="15" fill="#3a3a3a" text-anchor="middle"><tspan>η</tspan><tspan font-size="10" dy="3.8">0</tspan><tspan dy="-3.8"> (Pa.s)</tspan></text>
<text x="213.6" y="335.7" font-size="17.8" fill="#333" text-anchor="start">(H)</text>
<path d="M271.9 374.73 L272.4 375.12 L272.91 375.5 L273.41 375.87 L273.91 376.23 L274.41 376.59 L274.92 376.94 L275.42 377.28 L275.92 377.61 L276.42 377.93 L276.93 378.24 L277.43 378.54 L277.93 378.83 L278.43 379.11 L278.94 379.37 L279.44 379.62 L279.94 379.86 L280.45 380.09 L280.95 380.3 L281.45 380.5 L281.95 380.69 L282.46 380.86 L282.96 381.03 L283.46 381.19 L283.96 381.35 L284.47 381.5 L284.97 381.64 L285.47 381.78 L285.97 381.91 L286.48 382.04 L286.98 382.17 L287.48 382.3 L287.99 382.42 L288.49 382.55 L288.99 382.67 L289.49 382.8 L290 382.92 L290.5 383.05 L291 383.18 L291.5 383.31 L292.01 383.43 L292.51 383.55 L293.01 383.66 L293.52 383.77 L294.02 383.88 L294.52 383.99 L295.02 384.1 L295.53 384.22 L296.03 384.33 L296.53 384.44 L297.03 384.56 L297.54 384.68 L298.04 384.81 L298.54 384.94 L299.04 385.08 L299.55 385.22 L300.05 385.37 L300.55 385.53 L301.06 385.69 L301.56 385.86 L302.06 386.04 L302.56 386.22 L303.07 386.42 L303.57 386.62 L304.07 386.84 L304.57 387.08 L305.08 387.32 L305.58 387.59 L306.08 387.87 L306.58 388.19 L307.09 388.53 L307.59 388.9 L308.09 389.3 L308.6 389.73 L309.1 390.19 L309.6 390.68 L310.1 391.2 L310.61 391.74 L311.11 392.32 L311.61 392.93 L312.11 393.65 L312.62 394.46 L313.12 395.34 L313.62 396.3 L314.12 397.31 L314.63 398.35 L315.13 399.41 L315.63 400.47 L316.14 401.53 L316.64 402.56 L317.14 403.55 L317.64 404.53 L318.15 405.52 L318.65 406.51 L319.15 407.5 L319.65 408.5 L320.16 409.5 L320.66 410.51 L321.16 411.52 L321.66 412.54 L322.17 413.57 L322.67 414.61 L323.17 415.65 L323.68 416.71 L324.18 417.77 L324.68 418.85 L325.18 419.96 L325.69 421.1 L326.19 422.27 L326.69 423.46 L327.19 424.66 L327.7 425.87 L328.2 427.08 L328.7 428.28 L329.21 429.47 L329.71 430.64 L330.21 431.78 L330.71 432.89 L331.22 433.96 L331.72 434.99 L332.22 435.97 L332.72 436.94 L333.23 437.9 L333.73 438.86 L334.23 439.8 L334.73 440.73 L335.24 441.65 L335.74 442.53 L336.24 443.4 L336.75 444.23 L337.25 445.03 L337.75 445.79 L338.25 446.51 L338.76 447.18 L339.26 447.81 L339.76 448.39 L340.26 448.95 L340.77 449.5 L341.27 450.04 L341.77 450.56 L342.27 451.06 L342.78 451.55 L343.28 452.01 L343.78 452.45 L344.29 452.87 L344.79 453.25 L345.29 453.61 L345.79 453.94 L346.3 454.23 L346.8 454.48 L347.3 454.71 L347.8 454.92 L348.31 455.12 L348.81 455.31 L349.31 455.5 L349.81 455.67 L350.32 455.84 L350.82 456 L351.32 456.15 L351.83 456.3 L352.33 456.44 L352.83 456.56 L353.33 456.69 L353.84 456.8 L354.34 456.9 L354.84 457 L355.34 457.09 L355.85 457.17 L356.35 457.25 L356.85 457.31 L357.35 457.38 L357.86 457.45 L358.36 457.52 L358.86 457.58 L359.37 457.64 L359.87 457.71 L360.37 457.77 L360.87 457.83 L361.38 457.88 L361.88 457.94 L362.38 457.99 L362.88 458.04 L363.39 458.09 L363.89 458.13 L364.39 458.18 L364.89 458.21 L365.4 458.25 L365.9 458.28 L366.4 458.31 L366.91 458.34 L367.41 458.36 L367.91 458.37 L368.41 458.39 L368.92 458.4 L369.42 458.4 L369.92 458.4 L370.42 458.4 L370.93 458.4 L371.43 458.4 L371.93 458.4 L372.44 458.4 L372.94 458.4 L373.44 458.4 L373.94 458.4 L374.45 458.4 L374.95 458.4 L375.45 458.4 L375.95 458.4 L376.46 458.4 L376.96 458.4 L377.46 458.4 L377.96 458.4 L378.47 458.4 L378.97 458.4 L379.47 458.4 L379.98 458.4 L380.48 458.4 L380.98 458.4 L381.48 458.4 L381.99 458.4 L382.49 458.4 L382.99 458.4 L383.49 458.4 L384 458.4 L384.5 458.4 L385 458.4 L385.5 458.4 L386.01 458.4 L386.51 458.4 L387.01 458.4 L387.52 458.4 L388.02 458.4 L388.52 458.4 L389.02 458.4 L389.53 458.4 L390.03 458.4 L390.53 458.4 L391.03 458.4 L391.54 458.4 L392.04 458.4 L392.54 458.4 L393.04 458.4 L393.55 458.4 L394.05 458.4 L394.55 458.4 L395.06 458.4 L395.56 458.4 L396.06 458.4 L396.56 458.4 L397.07 458.4 L397.57 458.4 L398.07 458.4 L398.57 458.4 L399.08 458.4 L399.58 458.4 L400.08 458.4 L400.58 458.4 L401.09 458.4 L401.59 458.4 L402.09 458.4 L402.6 458.4 L403.1 458.4 L403.6 458.4 L404.1 458.4 L404.61 458.4 L405.11 458.4 L405.61 458.4 L406.11 458.4 L406.62 458.4 L407.12 458.4 L407.62 458.4 L408.13 458.4 L408.63 458.4 L409.13 458.4 L409.63 458.4 L410.14 458.4 L410.64 458.4 L411.14 458.4 L411.64 458.4 L412.15 458.4 L412.65 458.4 L413.15 458.4 L413.65 458.4 L414.16 458.4 L414.66 458.4 L415.16 458.4 L415.67 458.4 L416.17 458.4 L416.67 458.4 L417.17 458.4 L417.68 458.4 L418.18 458.4 L418.68 458.4 L419.18 458.4 L419.69 458.4 L420.19 458.4 L420.69 458.4 L421.19 458.4 L421.7 458.4 L422.2 458.4" fill="none" stroke="#9fc4db" stroke-width="1.9" stroke-linejoin="round" stroke-linecap="round"/>
<path d="M271.9 374.73 L272.4 374.82 L272.91 374.91 L273.41 375 L273.91 375.09 L274.41 375.18 L274.92 375.26 L275.42 375.35 L275.92 375.44 L276.42 375.52 L276.93 375.61 L277.43 375.69 L277.93 375.78 L278.43 375.86 L278.94 375.95 L279.44 376.03 L279.94 376.11 L280.45 376.2 L280.95 376.28 L281.45 376.36 L281.95 376.44 L282.46 376.52 L282.96 376.6 L283.46 376.68 L283.96 376.76 L284.47 376.84 L284.97 376.91 L285.47 376.99 L285.97 377.07 L286.48 377.14 L286.98 377.22 L287.48 377.29 L287.99 377.37 L288.49 377.44 L288.99 377.52 L289.49 377.59 L290 377.67 L290.5 377.75 L291 377.83 L291.5 377.9 L292.01 377.98 L292.51 378.05 L293.01 378.12 L293.52 378.19 L294.02 378.27 L294.52 378.34 L295.02 378.41 L295.53 378.49 L296.03 378.57 L296.53 378.64 L297.03 378.73 L297.54 378.81 L298.04 378.9 L298.54 378.99 L299.04 379.08 L299.55 379.19 L300.05 379.29 L300.55 379.4 L301.06 379.52 L301.56 379.65 L302.06 379.78 L302.56 379.92 L303.07 380.06 L303.57 380.22 L304.07 380.37 L304.57 380.53 L305.08 380.7 L305.58 380.87 L306.08 381.05 L306.58 381.23 L307.09 381.42 L307.59 381.6 L308.09 381.8 L308.6 381.99 L309.1 382.19 L309.6 382.39 L310.1 382.59 L310.61 382.8 L311.11 383.01 L311.61 383.23 L312.11 383.45 L312.62 383.68 L313.12 383.92 L313.62 384.16 L314.12 384.41 L314.63 384.67 L315.13 384.94 L315.63 385.21 L316.14 385.5 L316.64 385.8 L317.14 386.11 L317.64 386.44 L318.15 386.78 L318.65 387.13 L319.15 387.49 L319.65 387.89 L320.16 388.31 L320.66 388.77 L321.16 389.25 L321.66 389.76 L322.17 390.29 L322.67 390.85 L323.17 391.43 L323.68 392.03 L324.18 392.66 L324.68 393.31 L325.18 393.98 L325.69 394.67 L326.19 395.37 L326.69 396.11 L327.19 396.9 L327.7 397.76 L328.2 398.67 L328.7 399.63 L329.21 400.64 L329.71 401.67 L330.21 402.74 L330.71 403.83 L331.22 404.94 L331.72 406.05 L332.22 407.18 L332.72 408.29 L333.23 409.4 L333.73 410.5 L334.23 411.58 L334.73 412.7 L335.24 413.84 L335.74 415.01 L336.24 416.19 L336.75 417.39 L337.25 418.59 L337.75 419.79 L338.25 420.98 L338.76 422.16 L339.26 423.32 L339.76 424.46 L340.26 425.57 L340.77 426.65 L341.27 427.69 L341.77 428.69 L342.27 429.68 L342.78 430.67 L343.28 431.64 L343.78 432.61 L344.29 433.55 L344.79 434.49 L345.29 435.4 L345.79 436.29 L346.3 437.16 L346.8 438.01 L347.3 438.83 L347.8 439.62 L348.31 440.39 L348.81 441.12 L349.31 441.82 L349.81 442.51 L350.32 443.18 L350.82 443.84 L351.32 444.49 L351.83 445.12 L352.33 445.73 L352.83 446.32 L353.33 446.9 L353.84 447.46 L354.34 447.99 L354.84 448.51 L355.34 449.01 L355.85 449.49 L356.35 449.95 L356.85 450.39 L357.35 450.83 L357.86 451.27 L358.36 451.7 L358.86 452.12 L359.37 452.53 L359.87 452.92 L360.37 453.3 L360.87 453.66 L361.38 454.01 L361.88 454.33 L362.38 454.62 L362.88 454.89 L363.39 455.13 L363.89 455.33 L364.39 455.52 L364.89 455.69 L365.4 455.86 L365.9 456.03 L366.4 456.18 L366.91 456.33 L367.41 456.48 L367.91 456.61 L368.41 456.74 L368.92 456.87 L369.42 456.98 L369.92 457.09 L370.42 457.19 L370.93 457.29 L371.43 457.38 L371.93 457.46 L372.44 457.53 L372.94 457.59 L373.44 457.65 L373.94 457.7 L374.45 457.76 L374.95 457.81 L375.45 457.86 L375.95 457.91 L376.46 457.96 L376.96 458 L377.46 458.05 L377.96 458.09 L378.47 458.13 L378.97 458.17 L379.47 458.21 L379.98 458.24 L380.48 458.27 L380.98 458.3 L381.48 458.32 L381.99 458.35 L382.49 458.36 L382.99 458.38 L383.49 458.39 L384 458.4 L384.5 458.4 L385 458.4 L385.5 458.4 L386.01 458.4 L386.51 458.4 L387.01 458.4 L387.52 458.4 L388.02 458.4 L388.52 458.4 L389.02 458.4 L389.53 458.4 L390.03 458.4 L390.53 458.4 L391.03 458.4 L391.54 458.4 L392.04 458.4 L392.54 458.4 L393.04 458.4 L393.55 458.4 L394.05 458.4 L394.55 458.4 L395.06 458.4 L395.56 458.4 L396.06 458.4 L396.56 458.4 L397.07 458.4 L397.57 458.4 L398.07 458.4 L398.57 458.4 L399.08 458.4 L399.58 458.4 L400.08 458.4 L400.58 458.4 L401.09 458.4 L401.59 458.4 L402.09 458.4 L402.6 458.4 L403.1 458.4 L403.6 458.4 L404.1 458.4 L404.61 458.4 L405.11 458.4 L405.61 458.4 L406.11 458.4 L406.62 458.4 L407.12 458.4 L407.62 458.4 L408.13 458.4 L408.63 458.4 L409.13 458.4 L409.63 458.4 L410.14 458.4 L410.64 458.4 L411.14 458.4 L411.64 458.4 L412.15 458.4 L412.65 458.4 L413.15 458.4 L413.65 458.4 L414.16 458.4 L414.66 458.4 L415.16 458.4 L415.67 458.4 L416.17 458.4 L416.67 458.4 L417.17 458.4 L417.68 458.4 L418.18 458.4 L418.68 458.4 L419.18 458.4 L419.69 458.4 L420.19 458.4 L420.69 458.4 L421.19 458.4 L421.7 458.4 L422.2 458.4" fill="none" stroke="#3a7fa8" stroke-width="1.9" stroke-linejoin="round" stroke-linecap="round"/>
<path d="M271.9 372.07 L272.4 372.17 L272.91 372.28 L273.41 372.38 L273.91 372.48 L274.41 372.58 L274.92 372.68 L275.42 372.78 L275.92 372.89 L276.42 372.99 L276.93 373.09 L277.43 373.19 L277.93 373.29 L278.43 373.39 L278.94 373.5 L279.44 373.6 L279.94 373.7 L280.45 373.8 L280.95 373.9 L281.45 374.01 L281.95 374.11 L282.46 374.22 L282.96 374.33 L283.46 374.45 L283.96 374.56 L284.47 374.68 L284.97 374.79 L285.47 374.91 L285.97 375.02 L286.48 375.13 L286.98 375.24 L287.48 375.35 L287.99 375.45 L288.49 375.54 L288.99 375.63 L289.49 375.71 L290 375.79 L290.5 375.85 L291 375.91 L291.5 375.97 L292.01 376.03 L292.51 376.09 L293.01 376.14 L293.52 376.2 L294.02 376.25 L294.52 376.31 L295.02 376.36 L295.53 376.4 L296.03 376.45 L296.53 376.49 L297.03 376.52 L297.54 376.56 L298.04 376.58 L298.54 376.61 L299.04 376.62 L299.55 376.63 L300.05 376.64 L300.55 376.64 L301.06 376.64 L301.56 376.64 L302.06 376.64 L302.56 376.64 L303.07 376.64 L303.57 376.64 L304.07 376.64 L304.57 376.64 L305.08 376.64 L305.58 376.64 L306.08 376.64 L306.58 376.64 L307.09 376.64 L307.59 376.64 L308.09 376.64 L308.6 376.64 L309.1 376.64 L309.6 376.64 L310.1 376.65 L310.61 376.67 L311.11 376.71 L311.61 376.76 L312.11 376.82 L312.62 376.89 L313.12 376.97 L313.62 377.06 L314.12 377.16 L314.63 377.26 L315.13 377.36 L315.63 377.47 L316.14 377.58 L316.64 377.7 L317.14 377.81 L317.64 377.94 L318.15 378.09 L318.65 378.26 L319.15 378.44 L319.65 378.64 L320.16 378.86 L320.66 379.09 L321.16 379.33 L321.66 379.59 L322.17 379.85 L322.67 380.13 L323.17 380.41 L323.68 380.7 L324.18 381 L324.68 381.31 L325.18 381.63 L325.69 381.99 L326.19 382.36 L326.69 382.76 L327.19 383.19 L327.7 383.63 L328.2 384.1 L328.7 384.6 L329.21 385.12 L329.71 385.66 L330.21 386.22 L330.71 386.83 L331.22 387.5 L331.72 388.22 L332.22 388.98 L332.72 389.78 L333.23 390.62 L333.73 391.5 L334.23 392.4 L334.73 393.32 L335.24 394.25 L335.74 395.2 L336.24 396.17 L336.75 397.2 L337.25 398.27 L337.75 399.38 L338.25 400.52 L338.76 401.7 L339.26 402.9 L339.76 404.11 L340.26 405.34 L340.77 406.58 L341.27 407.83 L341.77 409.07 L342.27 410.31 L342.78 411.53 L343.28 412.73 L343.78 413.94 L344.29 415.17 L344.79 416.41 L345.29 417.66 L345.79 418.92 L346.3 420.18 L346.8 421.45 L347.3 422.71 L347.8 423.96 L348.31 425.19 L348.81 426.42 L349.31 427.61 L349.81 428.79 L350.32 429.93 L350.82 431.05 L351.32 432.15 L351.83 433.25 L352.33 434.36 L352.83 435.47 L353.33 436.56 L353.84 437.65 L354.34 438.71 L354.84 439.75 L355.34 440.76 L355.85 441.73 L356.35 442.67 L356.85 443.56 L357.35 444.4 L357.86 445.18 L358.36 445.9 L358.86 446.59 L359.37 447.26 L359.87 447.92 L360.37 448.57 L360.87 449.19 L361.38 449.79 L361.88 450.37 L362.38 450.92 L362.88 451.44 L363.39 451.93 L363.89 452.39 L364.39 452.82 L364.89 453.21 L365.4 453.56 L365.9 453.87 L366.4 454.16 L366.91 454.44 L367.41 454.7 L367.91 454.95 L368.41 455.19 L368.92 455.42 L369.42 455.64 L369.92 455.84 L370.42 456.03 L370.93 456.21 L371.43 456.37 L371.93 456.53 L372.44 456.66 L372.94 456.79 L373.44 456.9 L373.94 457 L374.45 457.11 L374.95 457.21 L375.45 457.31 L375.95 457.41 L376.46 457.5 L376.96 457.6 L377.46 457.69 L377.96 457.77 L378.47 457.85 L378.97 457.93 L379.47 458 L379.98 458.07 L380.48 458.14 L380.98 458.19 L381.48 458.24 L381.99 458.29 L382.49 458.33 L382.99 458.36 L383.49 458.38 L384 458.39 L384.5 458.4 L385 458.4 L385.5 458.4 L386.01 458.4 L386.51 458.4 L387.01 458.4 L387.52 458.4 L388.02 458.4 L388.52 458.4 L389.02 458.4 L389.53 458.4 L390.03 458.4 L390.53 458.4 L391.03 458.4 L391.54 458.4 L392.04 458.4 L392.54 458.4 L393.04 458.4 L393.55 458.4 L394.05 458.4 L394.55 458.4 L395.06 458.4 L395.56 458.4 L396.06 458.4 L396.56 458.4 L397.07 458.4 L397.57 458.4 L398.07 458.4 L398.57 458.4 L399.08 458.4 L399.58 458.4 L400.08 458.4 L400.58 458.4 L401.09 458.4 L401.59 458.4 L402.09 458.4 L402.6 458.4 L403.1 458.4 L403.6 458.4 L404.1 458.4 L404.61 458.4 L405.11 458.4 L405.61 458.4 L406.11 458.4 L406.62 458.4 L407.12 458.4 L407.62 458.4 L408.13 458.4 L408.63 458.4 L409.13 458.4 L409.63 458.4 L410.14 458.4 L410.64 458.4 L411.14 458.4 L411.64 458.4 L412.15 458.4 L412.65 458.4 L413.15 458.4 L413.65 458.4 L414.16 458.4 L414.66 458.4 L415.16 458.4 L415.67 458.4 L416.17 458.4 L416.67 458.4 L417.17 458.4 L417.68 458.4 L418.18 458.4 L418.68 458.4 L419.18 458.4 L419.69 458.4 L420.19 458.4 L420.69 458.4 L421.19 458.4 L421.7 458.4 L422.2 458.4" fill="none" stroke="#e9ad9f" stroke-width="1.9" stroke-linejoin="round" stroke-linecap="round"/>
<path d="M271.9 369.03 L272.4 368.95 L272.91 368.87 L273.41 368.79 L273.91 368.7 L274.41 368.62 L274.92 368.54 L275.42 368.46 L275.92 368.38 L276.42 368.3 L276.93 368.22 L277.43 368.13 L277.93 368.05 L278.43 367.97 L278.94 367.89 L279.44 367.81 L279.94 367.73 L280.45 367.65 L280.95 367.56 L281.45 367.48 L281.95 367.39 L282.46 367.3 L282.96 367.2 L283.46 367.09 L283.96 366.99 L284.47 366.88 L284.97 366.77 L285.47 366.66 L285.97 366.56 L286.48 366.46 L286.98 366.37 L287.48 366.28 L287.99 366.2 L288.49 366.13 L288.99 366.08 L289.49 366.03 L290 366 L290.5 365.99 L291 365.99 L291.5 365.99 L292.01 366 L292.51 366.02 L293.01 366.03 L293.52 366.05 L294.02 366.08 L294.52 366.11 L295.02 366.14 L295.53 366.17 L296.03 366.2 L296.53 366.24 L297.03 366.28 L297.54 366.31 L298.04 366.35 L298.54 366.4 L299.04 366.45 L299.55 366.52 L300.05 366.59 L300.55 366.68 L301.06 366.77 L301.56 366.88 L302.06 366.98 L302.56 367.1 L303.07 367.22 L303.57 367.34 L304.07 367.47 L304.57 367.59 L305.08 367.72 L305.58 367.85 L306.08 367.99 L306.58 368.13 L307.09 368.28 L307.59 368.44 L308.09 368.6 L308.6 368.78 L309.1 368.95 L309.6 369.14 L310.1 369.33 L310.61 369.52 L311.11 369.71 L311.61 369.91 L312.11 370.11 L312.62 370.31 L313.12 370.51 L313.62 370.71 L314.12 370.92 L314.63 371.14 L315.13 371.36 L315.63 371.6 L316.14 371.83 L316.64 372.07 L317.14 372.32 L317.64 372.56 L318.15 372.8 L318.65 373.04 L319.15 373.28 L319.65 373.51 L320.16 373.74 L320.66 373.96 L321.16 374.18 L321.66 374.38 L322.17 374.57 L322.67 374.75 L323.17 374.92 L323.68 375.07 L324.18 375.22 L324.68 375.35 L325.18 375.48 L325.69 375.61 L326.19 375.73 L326.69 375.85 L327.19 375.97 L327.7 376.09 L328.2 376.21 L328.7 376.34 L329.21 376.47 L329.71 376.61 L330.21 376.76 L330.71 376.92 L331.22 377.09 L331.72 377.28 L332.22 377.48 L332.72 377.69 L333.23 377.93 L333.73 378.18 L334.23 378.44 L334.73 378.73 L335.24 379.03 L335.74 379.34 L336.24 379.68 L336.75 380.03 L337.25 380.41 L337.75 380.8 L338.25 381.21 L338.76 381.64 L339.26 382.08 L339.76 382.56 L340.26 383.09 L340.77 383.67 L341.27 384.32 L341.77 385.02 L342.27 385.77 L342.78 386.58 L343.28 387.43 L343.78 388.34 L344.29 389.29 L344.79 390.36 L345.29 391.59 L345.79 392.96 L346.3 394.43 L346.8 395.99 L347.3 397.62 L347.8 399.3 L348.31 400.99 L348.81 402.68 L349.31 404.35 L349.81 405.98 L350.32 407.53 L350.82 409 L351.32 410.41 L351.83 411.82 L352.33 413.22 L352.83 414.62 L353.33 416 L353.84 417.37 L354.34 418.73 L354.84 420.08 L355.34 421.4 L355.85 422.7 L356.35 423.98 L356.85 425.24 L357.35 426.46 L357.86 427.66 L358.36 428.82 L358.86 429.97 L359.37 431.11 L359.87 432.23 L360.37 433.34 L360.87 434.44 L361.38 435.52 L361.88 436.58 L362.38 437.61 L362.88 438.62 L363.39 439.61 L363.89 440.56 L364.39 441.49 L364.89 442.38 L365.4 443.23 L365.9 444.05 L366.4 444.85 L366.91 445.66 L367.41 446.46 L367.91 447.25 L368.41 448.02 L368.92 448.77 L369.42 449.51 L369.92 450.21 L370.42 450.88 L370.93 451.5 L371.43 452.09 L371.93 452.63 L372.44 453.11 L372.94 453.53 L373.44 453.9 L373.94 454.23 L374.45 454.54 L374.95 454.84 L375.45 455.13 L375.95 455.4 L376.46 455.66 L376.96 455.9 L377.46 456.13 L377.96 456.34 L378.47 456.53 L378.97 456.72 L379.47 456.88 L379.98 457.03 L380.48 457.17 L380.98 457.28 L381.48 457.4 L381.99 457.51 L382.49 457.62 L382.99 457.73 L383.49 457.83 L384 457.93 L384.5 458.02 L385 458.11 L385.5 458.18 L386.01 458.25 L386.51 458.3 L387.01 458.35 L387.52 458.38 L388.02 458.4 L388.52 458.4 L389.02 458.4 L389.53 458.4 L390.03 458.4 L390.53 458.4 L391.03 458.4 L391.54 458.4 L392.04 458.4 L392.54 458.4 L393.04 458.4 L393.55 458.4 L394.05 458.4 L394.55 458.4 L395.06 458.4 L395.56 458.4 L396.06 458.4 L396.56 458.4 L397.07 458.4 L397.57 458.4 L398.07 458.4 L398.57 458.4 L399.08 458.4 L399.58 458.4 L400.08 458.4 L400.58 458.4 L401.09 458.4 L401.59 458.4 L402.09 458.4 L402.6 458.4 L403.1 458.4 L403.6 458.4 L404.1 458.4 L404.61 458.4 L405.11 458.4 L405.61 458.4 L406.11 458.4 L406.62 458.4 L407.12 458.4 L407.62 458.4 L408.13 458.4 L408.63 458.4 L409.13 458.4 L409.63 458.4 L410.14 458.4 L410.64 458.4 L411.14 458.4 L411.64 458.4 L412.15 458.4 L412.65 458.4 L413.15 458.4 L413.65 458.4 L414.16 458.4 L414.66 458.4 L415.16 458.4 L415.67 458.4 L416.17 458.4 L416.67 458.4 L417.17 458.4 L417.68 458.4 L418.18 458.4 L418.68 458.4 L419.18 458.4 L419.69 458.4 L420.19 458.4 L420.69 458.4 L421.19 458.4 L421.7 458.4 L422.2 458.4" fill="none" stroke="#c75b43" stroke-width="1.9" stroke-linejoin="round" stroke-linecap="round"/>
<rect x="271.9" y="344.3" width="150.3" height="121.2" fill="none" stroke="#5a5a5a" stroke-width="1.1"/>
<line x1="269.5" y1="458.4" x2="271.9" y2="458.4" stroke="#5a5a5a" stroke-width="0.9"/>
<text x="268" y="462" font-size="10" fill="#3a3a3a" text-anchor="end">0</text>
<line x1="269.5" y1="420.37" x2="271.9" y2="420.37" stroke="#5a5a5a" stroke-width="0.9"/>
<text x="268" y="423.97" font-size="10" fill="#3a3a3a" text-anchor="end">1k</text>
<line x1="269.5" y1="382.34" x2="271.9" y2="382.34" stroke="#5a5a5a" stroke-width="0.9"/>
<text x="268" y="385.94" font-size="10" fill="#3a3a3a" text-anchor="end">2k</text>
<line x1="269.5" y1="344.3" x2="271.9" y2="344.3" stroke="#5a5a5a" stroke-width="0.9"/>
<text x="268" y="347.9" font-size="10" fill="#3a3a3a" text-anchor="end">3k</text>
<line x1="270.4" y1="439.38" x2="271.9" y2="439.38" stroke="#5a5a5a" stroke-width="0.8"/>
<line x1="270.4" y1="401.35" x2="271.9" y2="401.35" stroke="#5a5a5a" stroke-width="0.8"/>
<line x1="270.4" y1="363.32" x2="271.9" y2="363.32" stroke="#5a5a5a" stroke-width="0.8"/>
<line x1="271.9" y1="465.5" x2="271.9" y2="467.7" stroke="#5a5a5a" stroke-width="0.9"/>
<text x="271.9" y="479.5" font-size="10" fill="#3a3a3a" text-anchor="middle">0</text>
<line x1="309.47" y1="465.5" x2="309.47" y2="467.7" stroke="#5a5a5a" stroke-width="0.9"/>
<text x="309.47" y="479.5" font-size="10" fill="#3a3a3a" text-anchor="middle">20</text>
<line x1="347.05" y1="465.5" x2="347.05" y2="467.7" stroke="#5a5a5a" stroke-width="0.9"/>
<text x="347.05" y="479.5" font-size="10" fill="#3a3a3a" text-anchor="middle">40</text>
<line x1="384.62" y1="465.5" x2="384.62" y2="467.7" stroke="#5a5a5a" stroke-width="0.9"/>
<text x="384.62" y="479.5" font-size="10" fill="#3a3a3a" text-anchor="middle">60</text>
<line x1="422.2" y1="465.5" x2="422.2" y2="467.7" stroke="#5a5a5a" stroke-width="0.9"/>
<text x="422.2" y="479.5" font-size="10" fill="#3a3a3a" text-anchor="middle">80</text>
<line x1="290.69" y1="465.5" x2="290.69" y2="466.9" stroke="#5a5a5a" stroke-width="0.8"/>
<line x1="328.26" y1="465.5" x2="328.26" y2="466.9" stroke="#5a5a5a" stroke-width="0.8"/>
<line x1="365.84" y1="465.5" x2="365.84" y2="466.9" stroke="#5a5a5a" stroke-width="0.8"/>
<line x1="403.41" y1="465.5" x2="403.41" y2="466.9" stroke="#5a5a5a" stroke-width="0.8"/>
<line x1="359.3" y1="367.6" x2="377.3" y2="367.6" stroke="#9fc4db" stroke-width="1.7"/>
<text x="380.39" y="370.4" font-size="10.12" fill="#9dc2d9" text-anchor="start">PAOM-1</text>
<line x1="359.3" y1="380.1" x2="377.3" y2="380.1" stroke="#3a7fa8" stroke-width="1.7"/>
<text x="380.38" y="382.9" font-size="10.3" fill="#3a7fa8" text-anchor="start">PAOM-2</text>
<line x1="359.3" y1="392.9" x2="377.3" y2="392.9" stroke="#e9ad9f" stroke-width="1.7"/>
<text x="380.38" y="395.7" font-size="10.27" fill="#e8aa9b" text-anchor="start">PAOM-3</text>
<line x1="359.3" y1="405.7" x2="377.3" y2="405.7" stroke="#c75b43" stroke-width="1.7"/>
<text x="380.38" y="408.5" font-size="10.25" fill="#c45a43" text-anchor="start">PAOM-4</text>
<text x="347.71" y="491.3" font-size="13.9" fill="#3a3a3a" text-anchor="middle">Temperature (°C)</text>
<text transform="translate(253.2 404.87) rotate(-90)" font-size="13.86" fill="#3a3a3a" text-anchor="middle">E' (MPa)</text>
<text x="432.8" y="335.6" font-size="17.8" fill="#333" text-anchor="start">(I)</text>
<path d="M502.8 373.75 L503.37 374.31 L503.93 374.86 L504.5 375.42 L505.07 375.98 L505.63 376.53 L506.2 377.09 L506.77 377.65 L507.33 378.2 L507.9 378.76 L508.47 379.31 L509.04 379.87 L509.6 380.42 L510.17 380.97 L510.74 381.52 L511.3 382.08 L511.87 382.63 L512.44 383.18 L513 383.72 L513.57 384.27 L514.14 384.82 L514.7 385.36 L515.27 385.91 L515.84 386.45 L516.4 386.99 L516.97 387.53 L517.54 388.07 L518.1 388.61 L518.67 389.14 L519.24 389.68 L519.81 390.21 L520.37 390.74 L520.94 391.27 L521.51 391.8 L522.07 392.32 L522.64 392.85 L523.21 393.37 L523.77 393.89 L524.34 394.4 L524.91 394.91 L525.47 395.41 L526.04 395.92 L526.61 396.41 L527.17 396.9 L527.74 397.39 L528.31 397.86 L528.87 398.33 L529.44 398.8 L530.01 399.25 L530.57 399.7 L531.14 400.14 L531.71 400.57 L532.28 400.99 L532.84 401.4 L533.41 401.8 L533.98 402.2 L534.54 402.57 L535.11 402.94 L535.68 403.3 L536.24 403.64 L536.81 403.97 L537.38 404.29 L537.94 404.6 L538.51 404.89 L539.08 405.16 L539.64 405.43 L540.21 405.67 L540.78 405.9 L541.34 406.12 L541.91 406.32 L542.48 406.51 L543.05 406.68 L543.61 406.84 L544.18 406.99 L544.75 407.12 L545.31 407.25 L545.88 407.36 L546.45 407.46 L547.01 407.55 L547.58 407.64 L548.15 407.71 L548.71 407.78 L549.28 407.83 L549.85 407.88 L550.41 407.93 L550.98 407.96 L551.55 408 L552.11 408.02 L552.68 408.04 L553.25 408.06 L553.82 408.07 L554.38 408.08 L554.95 408.09 L555.52 408.1 L556.08 408.1 L556.65 408.11 L557.22 408.11 L557.78 408.11 L558.35 408.11 L558.92 408.12 L559.48 408.12 L560.05 408.13 L560.62 408.14 L561.18 408.15 L561.75 408.17 L562.32 408.18 L562.88 408.2 L563.45 408.22 L564.02 408.25 L564.58 408.27 L565.15 408.3 L565.72 408.33 L566.29 408.37 L566.85 408.41 L567.42 408.45 L567.99 408.49 L568.55 408.54 L569.12 408.59 L569.69 408.65 L570.25 408.7 L570.82 408.77 L571.39 408.83 L571.95 408.9 L572.52 408.97 L573.09 409.05 L573.65 409.13 L574.22 409.22 L574.79 409.31 L575.35 409.4 L575.92 409.5 L576.49 409.61 L577.06 409.72 L577.62 409.83 L578.19 409.95 L578.76 410.07 L579.32 410.2 L579.89 410.33 L580.46 410.47 L581.02 410.61 L581.59 410.76 L582.16 410.91 L582.72 411.07 L583.29 411.23 L583.86 411.39 L584.42 411.56 L584.99 411.73 L585.56 411.9 L586.12 412.08 L586.69 412.26 L587.26 412.45 L587.83 412.63 L588.39 412.83 L588.96 413.02 L589.53 413.22 L590.09 413.42 L590.66 413.62 L591.23 413.82 L591.79 414.03 L592.36 414.24 L592.93 414.45 L593.49 414.66 L594.06 414.88 L594.63 415.09 L595.19 415.31 L595.76 415.53 L596.33 415.75 L596.89 415.98 L597.46 416.2 L598.03 416.43 L598.59 416.65 L599.16 416.88 L599.73 417.11 L600.3 417.34 L600.86 417.57 L601.43 417.8 L602 418.03 L602.56 418.27 L603.13 418.5 L603.7 418.74 L604.26 418.97 L604.83 419.21 L605.4 419.45 L605.96 419.69 L606.53 419.92 L607.1 420.16 L607.66 420.4 L608.23 420.64 L608.8 420.88 L609.36 421.13 L609.93 421.37 L610.5 421.61 L611.07 421.85 L611.63 422.09 L612.2 422.34 L612.77 422.58 L613.33 422.82 L613.9 423.07 L614.47 423.31 L615.03 423.56 L615.6 423.8" fill="none" stroke="#dbe8f0" stroke-width="9.5" stroke-linejoin="round" stroke-linecap="round"/>
<path d="M502.8 406.51 L503.37 406.59 L503.93 406.67 L504.5 406.75 L505.07 406.84 L505.63 406.92 L506.2 407 L506.77 407.08 L507.33 407.16 L507.9 407.25 L508.47 407.33 L509.04 407.41 L509.6 407.5 L510.17 407.58 L510.74 407.67 L511.3 407.75 L511.87 407.84 L512.44 407.93 L513 408.02 L513.57 408.11 L514.14 408.2 L514.7 408.29 L515.27 408.39 L515.84 408.48 L516.4 408.58 L516.97 408.68 L517.54 408.78 L518.1 408.88 L518.67 408.98 L519.24 409.09 L519.81 409.19 L520.37 409.3 L520.94 409.41 L521.51 409.52 L522.07 409.63 L522.64 409.75 L523.21 409.86 L523.77 409.98 L524.34 410.1 L524.91 410.23 L525.47 410.35 L526.04 410.48 L526.61 410.61 L527.17 410.74 L527.74 410.87 L528.31 411.01 L528.87 411.14 L529.44 411.28 L530.01 411.42 L530.57 411.57 L531.14 411.71 L531.71 411.86 L532.28 412.01 L532.84 412.16 L533.41 412.31 L533.98 412.47 L534.54 412.63 L535.11 412.79 L535.68 412.95 L536.24 413.11 L536.81 413.28 L537.38 413.45 L537.94 413.62 L538.51 413.79 L539.08 413.97 L539.64 414.14 L540.21 414.32 L540.78 414.51 L541.34 414.69 L541.91 414.88 L542.48 415.06 L543.05 415.25 L543.61 415.45 L544.18 415.64 L544.75 415.83 L545.31 416.03 L545.88 416.23 L546.45 416.43 L547.01 416.63 L547.58 416.84 L548.15 417.04 L548.71 417.25 L549.28 417.45 L549.85 417.66 L550.41 417.87 L550.98 418.08 L551.55 418.29 L552.11 418.5 L552.68 418.71 L553.25 418.93 L553.82 419.14 L554.38 419.35 L554.95 419.57 L555.52 419.78 L556.08 420 L556.65 420.22 L557.22 420.43 L557.78 420.65 L558.35 420.86 L558.92 421.08 L559.48 421.29 L560.05 421.51 L560.62 421.72 L561.18 421.94 L561.75 422.16 L562.32 422.37 L562.88 422.59 L563.45 422.8 L564.02 423.02 L564.58 423.23 L565.15 423.45 L565.72 423.66 L566.29 423.88 L566.85 424.09 L567.42 424.31 L567.99 424.52 L568.55 424.74 L569.12 424.95 L569.69 425.17 L570.25 425.39 L570.82 425.6 L571.39 425.82 L571.95 426.04 L572.52 426.26 L573.09 426.47 L573.65 426.69 L574.22 426.91 L574.79 427.13 L575.35 427.35 L575.92 427.57 L576.49 427.79 L577.06 428.01 L577.62 428.23 L578.19 428.46 L578.76 428.68 L579.32 428.9 L579.89 429.13 L580.46 429.35 L581.02 429.58 L581.59 429.8 L582.16 430.03 L582.72 430.25 L583.29 430.48 L583.86 430.71 L584.42 430.94 L584.99 431.17 L585.56 431.4 L586.12 431.63 L586.69 431.86 L587.26 432.09 L587.83 432.32 L588.39 432.55 L588.96 432.78 L589.53 433.01 L590.09 433.25 L590.66 433.48 L591.23 433.71 L591.79 433.95 L592.36 434.18 L592.93 434.42 L593.49 434.65 L594.06 434.89 L594.63 435.13 L595.19 435.36 L595.76 435.6 L596.33 435.84 L596.89 436.08 L597.46 436.32 L598.03 436.56 L598.59 436.8 L599.16 437.04 L599.73 437.28 L600.3 437.52 L600.86 437.76 L601.43 438 L602 438.24 L602.56 438.48 L603.13 438.72 L603.7 438.97 L604.26 439.21 L604.83 439.45 L605.4 439.7 L605.96 439.94 L606.53 440.18 L607.1 440.43 L607.66 440.67 L608.23 440.92 L608.8 441.16 L609.36 441.4 L609.93 441.65 L610.5 441.89 L611.07 442.14 L611.63 442.38 L612.2 442.63 L612.77 442.87 L613.33 443.12 L613.9 443.36 L614.47 443.61 L615.03 443.85 L615.6 444.1" fill="none" stroke="#f3dbd4" stroke-width="9.5" stroke-linejoin="round" stroke-linecap="round"/>
<path d="M502.8 368.01l5.74 5.74l-5.74 5.74l-5.74 -5.74z" fill="#9cc2da" stroke="#4a4a4a" stroke-width="0.9"/>
<path d="M502.8 400.78l5.74 5.74l-5.74 5.74l-5.74 -5.74z" fill="#9cc2da" stroke="#4a4a4a" stroke-width="0.9"/>
<rect x="535.95" y="400.16" width="8.7" height="8.7" fill="#3d82ab" stroke="#4a4a4a" stroke-width="0.9"/>
<rect x="535.95" y="410" width="8.7" height="8.7" fill="#3d82ab" stroke="#4a4a4a" stroke-width="0.9"/>
<circle cx="578.1" cy="408.72" r="4.72" fill="#e8a696" stroke="#4a4a4a" stroke-width="0.9"/>
<circle cx="578.1" cy="428.42" r="4.72" fill="#e8a696" stroke="#4a4a4a" stroke-width="0.9"/>
<path d="M615.6 417.8l5.64 9.99h-11.29z" fill="#cd5f46" stroke="#4a4a4a" stroke-width="0.9"/>
<path d="M615.6 438.11l5.64 9.99h-11.29z" fill="#cd5f46" stroke="#4a4a4a" stroke-width="0.9"/>
<line x1="484.2" y1="343.6" x2="634.6" y2="343.6" stroke="#333" stroke-width="1.1"/>
<line x1="484.2" y1="464.2" x2="634.6" y2="464.2" stroke="#333" stroke-width="1.1"/>
<line x1="484.2" y1="343.6" x2="484.2" y2="464.2" stroke="#86b3cf" stroke-width="1.5"/>
<line x1="634.6" y1="343.6" x2="634.6" y2="464.2" stroke="#e2a293" stroke-width="1.5"/>
<line x1="481.8" y1="464.2" x2="484.2" y2="464.2" stroke="#86b3cf" stroke-width="0.9"/>
<text x="479.3" y="468.3" font-size="12.2" fill="#86b3cf" text-anchor="end">9.0</text>
<line x1="481.8" y1="434.05" x2="484.2" y2="434.05" stroke="#86b3cf" stroke-width="0.9"/>
<text x="479.3" y="438.15" font-size="12.2" fill="#86b3cf" text-anchor="end">9.5</text>
<line x1="481.8" y1="403.9" x2="484.2" y2="403.9" stroke="#86b3cf" stroke-width="0.9"/>
<text x="479.3" y="408" font-size="12.2" fill="#86b3cf" text-anchor="end">10.0</text>
<line x1="481.8" y1="373.75" x2="484.2" y2="373.75" stroke="#86b3cf" stroke-width="0.9"/>
<text x="479.3" y="377.85" font-size="12.2" fill="#86b3cf" text-anchor="end">10.5</text>
<line x1="481.8" y1="343.6" x2="484.2" y2="343.6" stroke="#86b3cf" stroke-width="0.9"/>
<text x="479.3" y="347.7" font-size="12.2" fill="#86b3cf" text-anchor="end">11.0</text>
<line x1="482.7" y1="449.12" x2="484.2" y2="449.12" stroke="#86b3cf" stroke-width="0.8"/>
<line x1="482.7" y1="418.98" x2="484.2" y2="418.98" stroke="#86b3cf" stroke-width="0.8"/>
<line x1="482.7" y1="388.83" x2="484.2" y2="388.83" stroke="#86b3cf" stroke-width="0.8"/>
<line x1="482.7" y1="358.68" x2="484.2" y2="358.68" stroke="#86b3cf" stroke-width="0.8"/>
<line x1="634.6" y1="464.2" x2="637" y2="464.2" stroke="#e2a293" stroke-width="0.9"/>
<text x="639" y="468.3" font-size="12.2" fill="#e2a293" text-anchor="start">0.85</text>
<line x1="634.6" y1="444.1" x2="637" y2="444.1" stroke="#e2a293" stroke-width="0.9"/>
<text x="639" y="448.2" font-size="12.2" fill="#e2a293" text-anchor="start">0.90</text>
<line x1="634.6" y1="424" x2="637" y2="424" stroke="#e2a293" stroke-width="0.9"/>
<text x="639" y="428.1" font-size="12.2" fill="#e2a293" text-anchor="start">0.95</text>
<line x1="634.6" y1="403.9" x2="637" y2="403.9" stroke="#e2a293" stroke-width="0.9"/>
<text x="639" y="408" font-size="12.2" fill="#e2a293" text-anchor="start">1.00</text>
<line x1="634.6" y1="383.8" x2="637" y2="383.8" stroke="#e2a293" stroke-width="0.9"/>
<text x="639" y="387.9" font-size="12.2" fill="#e2a293" text-anchor="start">1.05</text>
<line x1="634.6" y1="363.7" x2="637" y2="363.7" stroke="#e2a293" stroke-width="0.9"/>
<text x="639" y="367.8" font-size="12.2" fill="#e2a293" text-anchor="start">1.10</text>
<line x1="634.6" y1="343.6" x2="637" y2="343.6" stroke="#e2a293" stroke-width="0.9"/>
<text x="639" y="347.7" font-size="12.2" fill="#e2a293" text-anchor="start">1.15</text>
<line x1="502.8" y1="464.2" x2="502.8" y2="466.4" stroke="#333" stroke-width="0.9"/>
<line x1="540.3" y1="464.2" x2="540.3" y2="466.4" stroke="#333" stroke-width="0.9"/>
<line x1="578.1" y1="464.2" x2="578.1" y2="466.4" stroke="#333" stroke-width="0.9"/>
<line x1="615.6" y1="464.2" x2="615.6" y2="466.4" stroke="#333" stroke-width="0.9"/>
<text transform="translate(510.1 473.4) rotate(-45)" font-size="11.2" fill="#9dc2d9" text-anchor="end">PAOM-1</text>
<text transform="translate(547.6 473.4) rotate(-45)" font-size="11.2" fill="#3a7fa8" text-anchor="end">PAOM-2</text>
<text transform="translate(585.4 473.4) rotate(-45)" font-size="11.2" fill="#e8aa9b" text-anchor="end">PAOM-3</text>
<text transform="translate(622.9 473.4) rotate(-45)" font-size="11.2" fill="#c45a43" text-anchor="end">PAOM-4</text>
<text transform="translate(447.9 401.6) rotate(-90)" font-size="16.6" fill="#86b3cf" text-anchor="middle"><tspan>I</tspan><tspan font-size="11" dy="4.6">3</tspan><tspan dy="-4.6"> (%)</tspan></text>
<text transform="translate(680.6 403.8) rotate(-90)" font-size="16.8" fill="#e2a293" text-anchor="middle"><tspan>FF</tspan><tspan font-size="11" dy="4.6">V</tspan><tspan dy="-4.6"> (%)</tspan></text>
<text x="6.3" y="522.1" font-size="17.8" fill="#333" text-anchor="start">(J)</text>
<path transform="scale(0.25)" d="M203 2439l6 2 6 2 3 6 2-6 4 4 5 4 0 7 1 6 4 5 1 7-6 3-4 5-3 5-7 1M433 2346l5-5 6 2 6 1 4-5 6-2 5 3 7 1 4 5-4 5-2 6 4 5 1 6 0 6-7 1M423 2700l7 0-2 6-6 2-6-4-3-5 5-5-5-4-1-6 4-5-7 0-6-2-6 0-3-6-6-2M202 2593l6 0 5-4 5 4 1 7 2 6-4 5-5-3 6-2-4-4 3-6 5-3 6-4-3-6 6-2M340 2399l5 4-6 3 4-5-7 0-4 5-6 0 3-6 6-3 1-6 3-6 3-5 1-6-4-5-2-6M699 2606l6-2-3-5 6-3 6 2-6 1-7 0-5 4 5 3-4 5 5-4 0-6-6-4 0-6-7-2M533 2328l1 6-2 6 4-5-6-2-1-6-5-4-2-6 3-6 5 4 0 7-7 0-6 2-2 6 3 5M640 2580l-5 4-5 5-6 2-3-5 0-6-4-5-6 1 5-4 6 2-6 3 4-5-1-6 1-6 5-4M479 2550l-4 6 3 6 2 6 5 4 1 6-5 4-7 1-6-1-6-2-6 1-6 3-3 6-5 4-5 3M567 2596l-6 2-6 0-5 4 3 6 6-1 0 7-1 6 6 1 6 2-1-6 5 3 1-7 4-4 6-1M672 2208l-6 0-6-2-5-5-5-3-1-6-7-2-2-6-5-3-4 5-6 2 1-6 7 0 4-5 7 1M470 2304l-2 7 7-1-3-6-7 1-3-5 6 0 6-1 2 7 3 5 1-6 2-7 4-4 2-6 4-5M149 2409l-5-4 6-1 5-5 6 2 2 6-5 5-5-4-7 0-3-5 6 3 0 6 5 4 0 7-6 0M238 2307l0 6-6 0-6-3-3 5-7 2-4 4 6 0 4-6 5-4 6 1 6 2 6 3 3 5 5 5M498 2452l5 4 2 6 5 4 2 6 5 4 4 5 6 1 6 3 0-6 6 1 6-4-6-3-6-2-6 1M129 2499l-1-7 0-6-5 4 4 5 0 7 1 6-6-3-6 3-6 1 6 3 5-3-1-7-1-6-2-6M326 2369l-5 4-4 5 3 6-2 6 0 7-4-6 4-5 6 2 6 3 6 2 4 5-6 4-6-1-6 2M404 2448l-6 1-3-5 2-6 0-7 6-1 6 2 4 5-4-4-6-3-2-6 6 1-5 3-2-6-6 2M500 2317l-2-6 2-6-1-6 2-6 4-5 4-5 6-3 6-3 5 3 3 6 6 3 6-2-2 6-2 6M578 2694l6 0 0-6-4-5-5-4 6-2-6 2-6-2-6 2-6-1-6 3-6 0 2-5 5-4 7-1M638 2179l4-6 6 0 6-1 5-5 3 6-5 4-4-4 1-7-1-6-4-5-5-4 2-6 2-6-6 0M446 2358l0 6 6-4 6 2-7 0 2 6-5-2-6 2-3 6-2 6 7 0-1 6-4 5 2 6 4 5M428 2700l0-6 3-6 1-6-2-6 5-3-1 6-3 6-1 6-5 4 6 0 6 1 2-7-1 7-6 2M368 2463l-6 2-5-4-1 7-6 1 0-7 2-6 1-6 6-2-4-5-4-5 5-4-5-5 2-5 0-7M277 2452l-3 5-5 4-1 6 2 7-6 1-7 0-5 4 3 5-5 4-6-2-6 1-6-2-3 6 5 4M554 2147l7 0 1 7 3 5 4 5 0 7 1 6-5 4 4 5-6 2-1 7 1 6 6-2 6 3-4 5M565 2318l-2-6-1-6-1-7 4-5-4-5-7 2 0 6-5 5-6 2-6-2 2-7-7 0-4 5-6 3M274 2236l-1-6 5-3 4-5 6-3 2 6 5 5 6 0 6-1 5 5 1 6 0 6-4 5 6 2 4-5M532 2589l-6-2-5-3 6-2 5-3 3 5 0 7 7 0 6-2 0-6 5-3-3-6 6-2 6 2-4-5M244 2261l-3-5 0-7 1 7 5 4-2 6-2 6 1 6-4 5-2-6-6 2-6-3-4-5-4 6-3-6M356 2557l-5-5-3-5 7-1-1 7-6 2 4 5 3-5 6 2 4-4 5-4-2-6-4-5-5 5-1-7M353 2219l-2-6 3-6 6-3 2-6 5-4 1-6 5-5 5-4-1-7-1-6 2-6-1 6 3 6 1 6M344 2344l3 6-6 2-6 4 5-4-5 3-5-4-3-6-5 4-5-4-2 6-6-1 3-6-3-6-6 2M681 2331l-6-2-5 5-5 3 7 1 6-2 4-4 7 1 0-7 5 4 6 2 2-6 6 4-6 2-6 4M643 2442l-6 1-6-1-6-1-2-6 4-5 2-6 3-5-2 5-6 4-4 4 1-6 2-6-5-3-2-6M618 2249l6 0-5 3-3 6-4-5 4-4 5-5-6-2-4-6 2-6 7 0 6 1-1 6-6-2-3 6M182 2370l-3-6-1-7-3-5-3-6-7-1 1 6-6 3 1 7 4 5 6 1 5-5 6 1 5 4 6-1M489 2490l-6 1-6-2 3 5-6 1-3 5 1 7-6 0-6-1-6-2-6 3 5 4 4 5-4 4 2 6M414 2256l4 5 5-2-6-2-2 6 6 3 1-6 4-6-2-6-2 6 2-6-4-4-4 4-5-5 5-4M428 2495l5 3-3 6 6 2 6-1-2-6 4 4-6 0-2-6-3-6 3-6-5 5-6 2 4 6 4-5M179 2555l0 6 0 6-6 1-2 6-1-6-5-5 6 3 3 6 5 4-2 6-6 3-6 0-5 4-6 3M540 2381l-5 3-7 0 6 2 5 3-2 6-1-6-1-6 2-7 6 0-4 6-6 3-6 0-6 0-1 6M397 2215l-3 6 5 4-4 5 6 3 5 4 0 6-6-1-1-7 1-6 2-6 1-6 6 0 5-4 7 0M614 2697l5 4 1 6-3 6-6 3-4-4-3 6-2 5 5 3 5 4 5-4-3-6-3-6 6-1 6 3M471 2339l6-3-4 5 5 3-5-4 6-3 5 4 3 6-3-6-2-6-5-4-4-5-4 5-6 1-6 3M342 2487l6-2 3-6-4 5 4 5 3 5-2 7 6-1-6-2-4 4-4 6 2 6 6 2 1 6-6 3M693 2585l-4 5-6-2 2-6 6-2-3-6-5-4 2-6-3-5-3-6 0-6 6 2-3 6-6-1-6 0M335 2250l-5-4-6-3-2-6-5 4-4 5 2 6 6-1-5-3 6 1 7 1 5 2-1 7-1 6-5 4M496 2457l6 3 3 6 0-7 2 6 6 3 6 0 5-5 6-2 6-3-4-5-6 0-6-1-6-1-7-1M672 2479l3 5 4 5 2 6 1 7 3-6 3 6-4-5 3-6 1-6-6 2 3 6-6 2 5-5 2-6M726 2447l-2 7-3 5-4-5-4-5 3-5 0-7-6 0 1-6 5 4-6 3-3 6 5 3 4-5 3-6M652 2380l-4-4-6-3-2-7 0-6 1-6-4-5-1-6-2-6-1 6-4 5-2 6-6 0-6 2-6 2M511 2514l3 5-2 6-6-3-4-4 0 6 7 1 6 3 6 0 5-4 6-3 0 7 5 3 6-1 5 3M480 2501l6 0-2-7-2-6-3-5-5-4-6-1 4-5 7 1 1 6 6 4 4-5 3-6 4-4 2-7M615 2653l-1-6-7 1-6 2-5-3-5-4-6 4-1 6-2 6-5 3-6-3-6-1-1 6-6-3-4-4M640 2537l6 3-6 3-4 4-6 3-2-7 4-5-4 5-3-6 6-2 4 5 4-5 6 2 3 5 7 2M207 2526l-2-6-3 6 0 6-3 6-4 5-3 6-3 5-4-6-6 3-4-4-3 6 2 6 0 6 6 3M213 2318l6 3 5-3 2 6 7 0-4 5-1 7-3-6 1-6 4-5 6 1 1 6-6 0 4-5 2-6M566 2598l-2-6-6-2-7 0-5-3 1 6-4 5 6 3 6 1 5-4 3-6-5-4-4 5-3 6 5 3M600 2566l6-2 6 0-2-6-3-6-6 2-5 3-7 0-5-4-2-6-6-2-2-6-4-4-2-7 4-5M682 2424l2-6 6-1 6-2-6 1-5-4 6 1-5 4-2 6-3 6-6 3-5-4-5-4-4 4-7-1M471 2282l5-5 6-1-1 7-3-6-3-6-3-5 6-2 0 7-3 5-6 2-2 6-6 2 0 7 1 6M529 2471l6 2 4 5-1 6-6 3-1 6-1 6 2 6 7 1-2-6-3-6-6 0 6-2 5-3 5-5M709 2340l0-7 7 0-2-6-3-6 6 1 6-4 4-5-3-5 4 4 5 4-3 6 0 6 4-5 5-3M290 2653l6-1 7-1 1 7-6 2-4 5-3 6 3 5-1-7-2-5-2-7-6 1-4-5-4-5-1-6M409 2266l4-5 2-6-2-6-1 6-6 3 5 4 6 2 6 0 6 1-2-6 6-2 6 3 0 7-6 0M604 2269l7 1 5 3-2-6-5-2-6 2 0-6-5-4 6-3 6-2-5-3 6 2 4-5 7-1-4 6M195 2534l-2-6-4 5-5-4-3-6-4-5-5 3 5 4 4-5 4-5-4-4-6 1-3 6-7 2-5 3M293 2168l6 2 5 4 6-1 2-6-2-6-4-5 3-5 6 1 1-7 5-3 3-6 5-4 2-6-7 0M262 2232l1 6-5 5-3-6-5-4 5-4 4 5 7 1-3-6 5-5 6 0-6 1 1-6 6-3-2 7M522 2611l2-6-6-3 1-7-4-5-1-6 3-6 5-4-2-6 6 0 6 2 6 3 1 6 5 5-6-1M544 2214l-5-3 4-5 7-1 0-6 4-5 6 1 0 7-3 6 6 2-3 6 3 6-2 6 6-1 5 5M570 2514l4-5 5-4 6 2 4 5-7-1-6 0-6-2 3 5 5-3 1-7-7 0-6-3 2-6-2-7M549 2647l1-6 6-2 6-3 6 0-3 5-4 5-6 1-6-1-6 3-3 6 4 5 4 6 6 1 6-3M303 2409l7 2 5 3 0 6 7 1 3-6 6-3 5 4 6 0 7-1 4-4 4-6-5-3-2 6-1 6M185 2404l2-6-6-3-6 3-6-1-5-3-7 1-6-3-5-3-5-5 6-2 4-5 6-2 6 1 7-2M653 2372l-6-3-7 1-4 4-7 1-5 3-3 6 1 6-6-1-4-5 0-7-6 1-5-4-3 6-6 3M307 2340l3 5 7 0-4 5-5 4-3 6 0 6-4 5-6 0-2 6-6-3-3 6-1 6-4 5-2-6M382 2657l-6-1 3-6 5-4-1-7 3-6 6 1 5-4 6 2 7 0 6-1 6-3 4 6 5-4 3-6M650 2262l-1 6 5 3-3-6-6 2-4 5 6 2 6-2 0 6 1 7-4 5 1 6-5-3-5-5-4 6M483 2323l-2 6 6-1 3 6 5 5 2 5 6 3-4-5-4 5-4-4-6 1-5 5 6 2 6-3 3-5M227 2604l6-4 0-6 6-2-1-6-5 4 4 6-1 6 6 1-1 6-1 7 6-3 5-4 1 6 6 1M248 2253l6-1 2 6-4-4-6-4 4-5 0-7 5-4-4-6-6 1-6-2-4 5-7-1-5 3-5 4M564 2422l-6 1-2 6 0 6-6 1 6 2 5 4 3 5 6-1 6 2 5 4 6 1 0 7 6-1 6 3M233 2408l-6-2-6 1 1-6-7-1-1-6-3 5-6 3-4 5-5 3-1 7 4-6-7 0 1-6 1-7M239 2485l-4 5 4 5 2 6-4 5 1-7-1 7-2 6-5 3 6 4 4 5 3 5-2 6 3 6 1 6M731 2473l3-6 7 0 3-6-1-6 6 2 2 6 6 0 7 0 6 0 6-2-1-7 6-1 6 3 7 0M667 2226l-5 3 0 6-4-5-5 4 6 3 6 1 6 3-4 5-3 5 6 3-6-1-6-4-6-1-6 2M282 2256l6 2 6 0 5-4 4-4-5-4-6-2-6 1-6-4-5-3 3 6 3 5-6 2 6 3 5-5M284 2193l-7 1 3 6 2 6-5 4-4 5-6 3-6-3-6 0-2-6 0-6-6-2-4-5 3-6 6-1M259 2324l-6 3-6-2-6 0-2-6-2-6-6-2-7-2-6-1-5-4-2-6-6 2-2 6-5 4-6 1M258 2623l-2-6 6-3 5-3 3-6 2-6-3-6-3-5 6-2-2-6-4 5-4 4-2-6 6-2 2 6M195 2327l1-6-4 5 6 4 4 4-4 5 5-3 2 6 5-3-6 2-6 1-2-6-5 4-1 7 3 5M619 2621l-6-1-3 6 5 4 1 7-5-5-3-6 6-3 4-4 6 2 6-1 5 4 2 6-2 6-5-4M192 2485l-7 0-4-5-4-5 4-5 1-7 6-2 5-4 4-5 5-4 5-4-6-2 7 1 5 3 0-7M337 2286l-5-4-2-6 5-3 2-6 1-7 4-4 4-6 2-6 5-4-2-6 6 2 5-3 6-3 5-4M249 2382l4-6-6-3-5-4 0-6 5-4-3-6-5 4 0-6-2-6-4 5 4 4 4 6-6 3-5 2M420 2467l5 4 6 0 4 5 7-1 6 1 5-4 4-4 2-7 6 2 6 2 5 4-6 2 4-5-3-5M397 2398l5-3 6 0 6-3 3-6 5-4 5-3 1-6 6 1 4-5-5-4-3-6-2-6 0-7-4-5M561 2565l5 3 6-3 6-3 1 7 3 5 5-4 4 5 6-3 5-4 6 3 6-2 4-5 6-1 6-3M225 2259l6 3-1 6 6 3 6 2 6 1 0-6 3-5-2-6-4-6-3 6-6-2-2-6 2-7-5-3M644 2250l-1 7 4-5 5-4 5-4-6-2-4-5-1-6-1-6-5-3-4-6 6-3 6-3-3 6-6 1M159 2398l-6 3-4-5-2-6-1-6-3-6-5-3-7-1-2-6-5-4-6-1-6-3-6 2-6 3 6-1M335 2381l-6-1-6-2 2 6-4 6-6 2-5 4-6 2 0-7-2-6-6-1 4-6 5-3 6-3-6 3M453 2521l3 6 4 5 1 7-4 5-7 0-2-6 1-6 5-4 4-5 3-6 6 3-3-6 2-6-7 1M404 2484l-2-6-6 2 3 6-3 5 0 7-1 6-4 5-5 3-6-2-6-4-1 6-5-3 6 1-2 6M561 2286l-2-6 5-4 1-6 6 2 6 1 5-4 7 0 2 6 7 0 6-2 0 6 6 2 4-4 6-3M624 2642l-2-6-5-3 1-7-2-6 0-6 4-6-6-1 3-5-2-6-3-6-6-3-3-5 1-7 2-6M186 2620l-3-5 6 2-2 6 2 6 1 6 6-1 5 4 2 6 5 4 6 2 6 2 5-4 3 6 3-5M503 2724l-5-5-5-4 0-6-1-7 4-4-4-5-5-3 5-4-3-6-6-3 4-5 6-2 3 6-1-7M376 2260l5-4 2-6 1-6-7 0 7-1 4 4 7 2 6-3-6 3 5-4 2-6 5-4 4 6 5-3M197 2275l-2-6-6-1-1 6 4 5-7-1-5-2-7 2-6 0-6-3-4-4 0 7-2 6-1 6-6 2M510 2645l0 7 2 6-6 2-3-5 5-4 6 2-1-6-4 5-6 3 2 6-2 6-4 6 6 2 3-6M516 2502l-2 6-4-5 2-6 4-4-4 4 3 6 2 6 6 2-6 1-7 0-5-3-4 6 5 4 7-1M304 2229l0 7-2 6-4-5-6-3-3-5-7 1-6-3-4-5-6 0-6 3-5 3-6-2-2 7-6 0M392 2594l-5 5-6 0-6 4-4 4-6-2-3-5-7 0 1-7 3-6-5-4 3-6 2-6 6-1 4-6M562 2185l0 6-5 5-6 0-1-6-6-1 3-5 3 6 6-3 0-7-4-5-4-4-4-6 4 5-1 7M705 2331l-4-4 5-5 6 2 6-2-5-4-6 0-5-4-6-2 6-3 6-1 6 1 5 4 6-3 5-3M711 2432l6-2 3-5 6-1 7 1 5-4 1 7 2 6 4 5-5 4 7 1 4 4 5-4-1-6-5-3M288 2290l-6 0-4-6-5-3-4 5-6 1-7 0-3-5-1 6 3-5-6-3-5-3 1-6-6 0-5 4M179 2353l-7 1 1-6 0-6-1-7-4-5-6-2 4-6 5-4 2-6 1-6 4-5 2-6 4-5 4-5M439 2234l0-7 2-5 6-3 6-3 6 0 6 4 1-6-5-4-5 4 0-7 2-6 5-4 6-3 2-6M242 2393l5 3 6 4 5 3-5 4 5-4-3-6-2-6 4-5-3-6-6-1-6 2 6-2 6 3 5 3M512 2289l7 2 3-6-3-5 1-7 6-3 6 2 5-4 6-2-6 2-4-4-4-5-3-6 6-3 4-5M570 2303l-5-3-7 2-5 4-6 1 6 2 6-4-6 0-5 5 6 2 6-3 6-2 0-6-4-4 0 6M369 2273l1-7 3-5 5-4 6 1 2 6 3-5 6-3 2-6 4-5-1-6-6-2 1-6 1-7-2-6M566 2460l-3 6-4-5-6 3 3-5 5-5 7 0 5-4 1-6 5 4 6 2 6 3-2 6-3-6-5 4M613 2536l1 6-7 1-6 3-4-5-6 0 6-1-2-7 1-6 6-2-7 0 4 5 4 6-7 0-4-4M126 2435l-5 4-5 4 4 5-1 6-2 6-2-6 0-6 0-7-4-5 3-6 2-6-2-6 6 3-6 1M545 2719l-4 5 5 4 4 5-6 4-6-1-6 2 6 0 3 5 4 5 6 3 6 1-3 5 1 7 0 6M719 2413l-4 5-6-3-4 4-6-2-3 6-2 6-6 2 1 6-3 5 0 7-6 2-6 1-1 7-6-1M305 2643l-5 4-5 4-1 6-5 4-5 3-6 4-3-5-6-4-5-3-2-6 6-2 6-1 6 0 6 3M661 2205l-6 1-7 0-5-3-7 0 5-4 2-6 1-6 6 1 1 7 0 6-5 5-5-3-6-4 1-6M585 2318l5-4 6 0 3-6 3-6 1-6-4-5 3-5-6-1-3-6 0 6 4 5 4 5 4-5 4-5M186 2244l6-3 2 6 4-5 3-6 6 3 0-6-5 4 4 5 6-3 5-3 2-6-1-6-5-5-5-3M236 2351l5-3 5 5-6 2-1 6 5-4 6-1 3-6-6-1 6 2-5 3-6 3-5-3 4-5 6-3M248 2284l7 1 4-5 4 5 2 6-1 6-3 6-6-2-6-2 4 6 1 6-6-3 3 5-6-1 0-6M460 2360l5 4 3 5 1 7 3 5-3 6 4 5 4 4 7 0 2-6 6 3 6 2 3-6 4-5-4-6M628 2676l-2-6 6-1-2 6 6 1-2 6-6 1-3-5 6 1 4 6 2 6-3 5-1 7-5 3 6 0M347 2333l-2 6 6 0 5-4 3 5 6-2 0-6 2 6-6 1 2-6 4-6 5-3 6 3 1 6 1 7M322 2246l-1-6 0-6 4-5 0-7-6 3 2-6-3-6-5-3-6 3-3 6-3 5-6 0-2 6-4 5M713 2518l-4-5-3-5-7-1-6 2-3-6 0-7-3-5-5-4-1-7 6 0 3 6-2 5-4-5-3 5M263 2437l6-3 2-6 0-7 5-3-6-4-3-5 2-6 3-5 5-5 4 5 3 6 2 5 5 4 0 7M469 2380l1-6-5-3-1 7-6 3-3 5-5 4-5 5-4-5 5-4-4-5-1-6-4-6-5 5-6-1M695 2537l-6-2 2-6-1-6 0-6-3-6-3-6 3 6 4 4 6 3 5 4 4 5 5-3-6-2-6 3M390 2648l-6-2-6 3-6 0-6 1 2 6 5 4 6 4 0 6 5-3 6 1 6-2 7-1 4 5 6-3M225 2355l3-6 2-6 0-6-7-2-6 2-6 0-6 1-7 0-1 6 4 6 6-1 2 7-6 0-6-2M268 2618l-2 6-5 4-4 5 6 4 5 3 6 2 6 3 3 5 4 5 6 3-6 3-4-5-5-4-6 4M350 2540l3 5 2 7 4 4 6-4 5 4 4 5-5 4-1 6-3 5-7 2 6 3 2-6 7-1 6-1M351 2630l6 0 5-4-2 6 0 7 5 3-6 3-4-4 5-4-2 6-6-1 1-6-6 2-1 7-4 4M136 2394l7-2 5 3 0 7-3 5 1 7-2 6-2 6 6 0 6 3 6 3 4 5 6 1 4 5-1 6M389 2648l6-1 1-6-1 6 4 5 6-1 5 4 7 1-7-2-6-1-2 6 1 7 5-5-2-6-4-5M498 2230l-6 0-7 1-5-3-4-6-2-5-2-7-6 3-5 4 6-2-7 1-5 3-3 6-5-5 1-7M179 2627l3 5 6-1 1-7-6 1-6-1-7 0-3 6-5 4-1 6-6 1 4-5 6-2 2-6-6 0M682 2409l0-6-3-6-6 3 5-3 3-6 5-4 6-3-6-3-6 2-7 0-2-6-6-4-2-5-6-4M413 2650l0 7-5 4 4-5-2-6-7-2-3-5-2-6-5-4-7-2-6 2-5-4 0-6 5 4-2 6M414 2366l3-6-4-5 4-5 5-2 6-4 0-6-6-3 6-2 2 6 2 6-1 6 5 4-1-6-4 5M602 2632l-4-5 3 6-6-2-3-6-5-4 6-3 4 6-1 6-2 6-6 1 0-6 2-6-1-7 4-5M272 2527l3 6 3 6 4 5 0 6 4 5-4 5 7 0 6 2 5 4 4-5 1-6 6 2 6 1 4-5M600 2567l-1 7 4 4 5 5 5 4-1 7-5 4 1 6 4 5-6 3 2 6-5 5-1-6 3-6 5-4M532 2355l6-3 6 0 4-5 6 2 5 4 5-3-2 6 6-3 1 6 2 6 0 7 4 5 1 6 3-5M600 2703l-6-2-6-2-6 3-1 6 3 5 5-4 6-2 5-3 5 4 0-6 6-1 7-1 5-3 1-6M237 2427l-6-3-6-1-6 2-3-5-3-6-1-7 5-4 4-5-1 6 5 3-3 6-5-5-5 4-6-3M305 2248l5 4 6 2-5-3-2 6 5 2-1 7 4 4 3-5 6 1 5 4 3 6 7 0-2 6-1 6M402 2396l-3-6-6-3-6-3-2 6-6 3-5-4-6 0-2-7-3-5-2-6-6-2-5 4 6 3 4 4M454 2530l0-7-5-4-3-5 7 1 6 2-7 1-6-2 4-6-1-6 6-1-1-7 1-6-1-6-2 6M496 2578l-3 6-4 5 0 6 3 5 6 2 5-3-2-6 7-2 6 2 5-4 3-6 6 1 5 4 4 5M678 2580l0 6-4 5-6-2-2 6-3 6-5 4-2-6-3-6-6 1-7 1-4 4-3-5 2-6 5-5M207 2572l-1 7-5 3-6 3 1-6-6-2 1-6-4-5-7 0 0 6-2 6 2 6-3 6 3 6 5-4M321 2427l6 1-1 7-4 5 3 5-4 5-3 6-7 1 3 6 6 2 5 5 3 6-2 6-1 6 0 6M557 2485l-7 1 2 6-3 6 6-2 2-6-3-6-5-4-6 0-4 5-2 6 0 6 4-5-6-2-6 1M390 2166l-2 6-3 6 5 3 6 3 6 3 1-7-7 0 1-7-2 7-3 5-1 7-6-2-3-6-6 1M489 2401l-1-7-6-1-1-6 3-6 7 0 1 6-6 0-2-6-2-6-2-6 2-6 1-7-2-6 6 4M307 2423l1 6 3 6 5 4-7 1-5-4-6 2-3 5-7 1-5-4-6 0-3-5-5 4-1 6-4-4M195 2217l-6-1-1 6-1 6 4 6 3 5 5 4 3 6 3-5 1-6-1-7-4-5-7 2 7 0 4 5M665 2479l4 5 6-4 3 6-5 4-6 0-4-5 7 0 6-2-3-6-6 1-4-5-3-6-4 4-4-5M568 2199l-5 4-4 5-5 3-2-7-6-1-2-6-3-6-3-5 4-4 3-6 5 4 6 1 4-5 7 1M429 2660l-6-3-2-6 2-6-5-4-3-6-1-6 6-3 1-6 6 3 6 2-4 5-6-1-3 5-1 7M545 2386l-6-3-4-5 3-5 3-6-1 6-7-1 2-7 5 4 0 6 5-3 1 7-2 6-6-1-7 1M393 2715l1-7-6-1-4-5-4-5-3-5 5-4 6 2 6 2 5 4 4 5-1 6-6 2-6 1-3 6M473 2253l-5-4 2-6-3-6-6-1-1-6-6-1-3 6-1 6-5 4-7-2-5 3-5 4-5 4-3 6M350 2678l-6 4-5 4-6 0-6-2-3-6 0-6 0-7 4-4-3 6 0 6 3 6-3 5-5-3 0-6M278 2363l7 1-4-5 2-6-2-6 0 6-4 6-2 6 1 6 6-1 1-6-1-6-6 3-5 3-6 3M693 2460l-7 1-6 1-5 3-6 3 6 2 4-5 1-6 1-6-2-6-4-5-5 3-1 6-4 6 6-2M601 2378l-7 0-6 0 0 7-6 0-5-5 1-6 5-4 6 0 7 1 5 3-4 6 3 6 7-2 6-1M356 2291l1-6-4 5-2 6 1 6-3 6 0-6-4-5-5-5-6-2 7-1 2-6-3-5 0-7-6-2M306 2178l-6-2-6-2-4-5 3-5-4-6 3-5-6-2-6 1-2 6-4-5 7-1 4 5 0 7 4 4M443 2693l5-4 6-2-1 6-6 2 3-6 5-4 7 1-2 6-6 2-6 0-6 3 5 4-6 3-3 5M481 2347l-2-6 2-6 6 1 7 0 5 3 6 3 6-3 6 2 5 4-7 0-3-5-7 0-4-6-5-3M346 2569l-6 3 6 2 5 5-6 3-1-7-3-5 1-7-5-3-3 5-6-3 0-6-3-6-6-4 3-6M292 2608l4 5 6 1 3-6 2 6-6 2-6-3-5-3-5-5-3 6-4 5-6 3-5 4-6 0-4 6M294 2578l6-1 4-5 6 2 6-3 4 5-1 6 4 5-6 2 2 6-3 6-3 5-6 1 3 6 6-3M248 2285l3 6 5 3 2 6-5 3-3 6-6-1 0 6-6 3 2 7 0 6 6 3 4-5 0-6 6 2M437 2650l-2 5-3 6-5 4-2 6-4 5 4 6-2 6 3 5 5 4-1 6-6 1-5 4 0 7-6 1M263 2252l3 5-2-5-6-4-6-2-6 1-5 4-3 6 0-7-1-6-6-3-5-3-7 1-6 2-6-1M415 2733l6-3-5-4 2-6 5-5 0-6-5-4-1-7 1-6 5-4 5-3 3-6 5-4-3-5 4-5M478 2503l1 6-3 6 5 4-3-5-3 5-6-3-4-5-4 4-7-1-6 2-2 6 1 6 5 4-6 2M271 2558l-3-6 3-6-6-3 2 6-5 4-7 1-6 1-6 0-7 0-6 3 2 6-3 6-4 5-1 7M506 2693l-7-1-6 2-6 2-5-4-1-6-2-6 4 5 3 5 2 6 1-6-5-4 1-6 5-4-5-4M568 2477l-3 6 2 6 6 3 6-3 4-5 6 0 7 1-6 3-6-1-6-4 6 2 7 1 4-4 5-4M508 2238l5 4-4 5-1 6 2 6-5 3-7 2-6-1-4-5-6 1-6 2-4-5-4-5-6-3-3-5M218 2585l-2-6-5 3-5-4 2-6 6-2 6-2 6 0 7 0 3 5 3 6-3 5 6 3 6-1-5 4M196 2491l4 5 6-3-4 5-2 6-6 1 1 6 1 6-2 6-2 6 3 6 4 5 4 5-3 6-6-3M363 2174l-4-5 4-5 6-4 6-1-4-5-6-3-5-4-5-3-1-7 6 0-2 6-6-2-6-2 5-4M685 2513l5 4 0-7 2-6 4-4 3-6-2-6-4 4-5 5 2 6-3 6-6 0-5 4-6 1-7-1M408 2576l3-5 5-4 4 5-5 3 4-4-3-5-4-6-2 6 3 6 4-5 5 4 0 6 6 1 6 4M643 2190l-6 0-4-5-2-6-5-4-4 5-6-3-6 3-4 4-6-1-6-1 0-7-6-1-3-6-5 4M424 2327l-2 6-1 7-3 5 1 7-2 6-5 2-6 4-4-4-7-1-1 7-3 5 4 5 2 6 3 6M641 2305l5 5 6-1 1-6 1-6 6-3-6 0 2 6 6 3-7-2-5 3-6-3-4 5-5 3 1 7M483 2273l-3-6 6 0 4-5 6-4-6 4-5-4-6 4-6 1-4 5-3 6 7 0 5 3 0-7 3-5M421 2195l-6 2-4-5-6-2-6 2 2 7 5 3 7-1 6-2-3-5-4-5 1-7 3-5-6-3 0-7M646 2549l-6-3 1-7 6-2 6 3-4 6-6-2-2 6-7-1-6-3-3-5 6-1 6 3-5 4-5 4M622 2226l-2 6 3-5-5 4-6-1-3 6-5-4-6 1-6-1 0 6 5 4 6 2 3 6-6-1-1-6M441 2201l5 4-4 6-4-5-5 3 1-7 4 5 2 6-6-2-5-4 4-5 6-1 2-6 4-5 2-6M448 2710l-6 2-6-1-7 0-4-4 3-6-1-6-1-7 6 4 6-1-4 5-1 6 4 5 2-6-4-4M585 2198l4-4-3-6-7 0 2 6 6-2-4 5-5 4 1 6-4 5-3-6-6-1-7 0 0 6 6-3M577 2516l1-7 6 3 6 1 6 2 1 6 3 6-1 6 2 7-2 6-4 5 6-3 6-2-4-5-6 1M190 2548l5-3-6 1-5-5-6-2-6 1-4-5-7 0-6 0-3-6 1-6-3-5 6-2 2 6-5-3M155 2385l-4 5-2 6 6 0 6 1-4 5-4-5 1 6 6 3 1 6 0 6 0 7 1 6 0 6 6 2M347 2351l6 0 5-4 1-6-1-7 6 1 6-4 6 2 5 4 1 7 4 5-3 6-3 5-4 5-1 6M192 2330l4 5-1 6-6 2-5-4 2-6-5 3-7-1-6 2-2-6 5-3 6 3 6 2-4-5-4-5M579 2418l4 6-1 6 7 0 4-5 7 0 6-1 6 2 6-3 0-7 4-5 6 0 6 0 3-6-6 1M315 2503l-6-1-1 7 0 6-5 4-4 5 2 5 6 4 6 3 4 4-3-5-2 6-5 4-5 4-5 5M486 2552l-5 3-7 1-6 1-2-7 5-4 7 0 5-3 6-3 4-5 1 6-2 6 3 6 6 0 0 7M594 2706l-2-7 4-4 4 5 3 5 5 5-2 6 6 0 6 3 4-5-5-4-1 6 6-2 4 4-2 6M529 2428l6-1 0 7 6 3 6 1 0-7 7 0 4 4 0 7 1 6 1 6 5 5-5 5 1 6-6 3M551 2175l-6 0-6 3-6-2-7 0-4 5-6-3-6 1-4-5 6 0 7 0-5 4 6 4-2 6-2 6M280 2373l-2 6-5-4-6-3 1-6 0-7-7-1 6 3-6 2-7-1-1 7 1 6-6 3 5 4-5-3M536 2455l6 2-2 6 5 4 5-4 6 0 6-3-6 1-5 5-6 0-4 6-5-5-6 0-6 0 3 6M720 2549l-6 0-7 1 0 6 0 7 5 4 3 5 5 5 1 6 6 1-2 6-4 5 0-7-2-6-5-4M288 2302l-4-5-6 2-6 2 3 6-7-2-6-2 0-6-7 0-6-2-6-1 0-7 5-3-5-3 2-6M600 2505l-3-5-6-1-5-5-3 6 3 5-6-1-5 4-6 2-6-3 0-6 6-2-5 3-3 6-6-2M268 2511l-6-3-2-6-6-1-5 4-6 3-6-1-5-4-4-5 4 5 6-3-7-2-3-5-2-6-5 4M198 2313l3 6 6-4 3-5 1-6 0-7-6-3-1 6 3 6-3 5-7 0-4 5-6 1-6-2-6 1M616 2686l7 1-1 6 2-6-5-3 0-7 4-5 4-5 6 0-1-6 3-6-6-3-2 6-6 4 0 6M166 2350l-2 6-1 7 3-6 4-5 6-3 6 1 5 4-5 4-3 6-5-5-1-6 4-5 3-6 6 1M729 2393l1 6-1 6-7 1 5-4 1 6-1 6 1 6 6-1 5 5-1 6 2 6 4 6 3 5-4-4M364 2454l-2-6 5-3 6 2 7 2 0-6-2-6-5 4-5 4-5-4 3-5 7 1 6 1 0 7 2 6M442 2223l7 0 0 6 4 5-5 3-6 2-3 6 6-2 5 3 1 7 6-3 3-5 6 4 6-2 6 1M261 2419l0 6-6-3-6 0 3-5 6-2 6-3 6 2-4 5-3-6 4-5 3-6 6 0 6 2 5 4M291 2669l6-2 1 6 3 6 3 5-4 6-5 4-6 2-6-1-6-2-6-2-4-5-4 5 0 7 6-1M451 2405l6 1-3 6-7 0-5-4-5-3-7 0-5-4-2-6 0-6-5-5-2 6 5 5 6 2 3-6M540 2153l-1 6 5 4 5 3-1-7 6-1 5 4 6-2-5-4-3-5-2-6 7-1-4 4-6 4-4 4M372 2580l1 6-6 1-3 5-7 0 0-7 0-6 6-3 5-4-1-6-2-6-1-6 0-7 1-6-2-6M721 2458l-2-5-2-7 7 1 6-2 4-4 4-6-1-6-4-6-5-3 0-6 4-5 2-6-4-6-3 6M372 2192l1 6 2 7 6 2 6 1 6 2 0 7-1 6-4 5-4-5 6-3 4-4-6 0-2 6-6-1M500 2732l-7 0-2 6 6-4 2-6 4-4-4 5-4 5 3 6 4 5 6-1 4-5 4-5 6-3 2-6M596 2602l-6 2-2 6-6 3-3 5-4 5-7-1 4-5 1-7-6-2-5-3 4-5 2-6-3 6 6-3M243 2598l-5-4-5-3-7-1 3-6 5-4 3-5-3-6 0-6-6 1-6-4-3-5-4 6-6 2-1-6M376 2350l2 6 4 5 6 1 2 6-6-2-4-5-5 4 6 2 7 1-4-5-4-5 4-5-2 6-1 6M413 2301l5 3 6-4-3-6-6 2-5-4-2-6 2-6 3-5 3 6-6 2-4-5-6 0-6 1 2 6M381 2207l-2-7-6 2-6 2-4-5-5-4 3-6 5-4-3-6 5-4 2-6 2 7 5 3 6 4 6-1M654 2485l7 1-2 6-6-2-6-2 5 3-5 3-7-1-6 0-6-1-7 1-6-2-3 6-4 5 0 6M201 2464l6 3 1 6 6 2 5 3-5 4-6 0-6 2-6 1-3 6 1 6 6-3 3 6-5 3-6 3M197 2367l5 3 4-5 5-3 0-7-2-6-6 2-5-4-7 0-5 4-4-5-1-6 1 6-4 6-4 4M617 2354l-3 6 0 6 4 5 0 7-6-2 0-7 6-3 6-2-7 2-6 2-5 3-6-2 5-3 6 4M597 2284l-6-2-6 0 5 3 6 3 6 2-1 6 0 6 4 5 4 5 4 5-4 5 3 6-2-7-2 7M353 2124l-3-6-6-2-1-7-3-5 6-2 6 3-1-7 0-6-7 0-6 1-6 0 6-1 6-3-6-4M617 2306l1 6-1 6 6 1 3-6-4-6-4-5-3 6 5-4 2 6 5 4 6 3 2 6-2 6 3 5M296 2430l0 7 2 6 2-6 5-4 6 2 5 3 0-6-2-6 0-6-1-7 1-6 5-4 2 7-1 6M678 2614l3 6 0-7-5 4 3-5 7 1 4 5 1 6-2 6 5 5 5 2 5-5 4 5-1 6-3 6M316 2524l1-6 6 2-3 6-6 0-3-5-4-5 6-2 3 5-4 5 4 4 0 6-6 3-5-4 6 3M681 2461l0-6-6-2-4-5-4-4-5 4 6-1-4-5-5-3-6-2 4 5 6-3 5-3 6-1 4 6M428 2616l-5 3 5 5-1 6 1 6-5-3-5-4 2-6 6-3 6-1 1-6 5 4 4 4 0-6-5-4M500 2182l-5 4 2 6-2 6-1-6-5-4 2-6-4-5-5-4-6 3 3-6 0 6 6 1 4-5 6-3M174 2516l6 1 1 6-5 4-1-7 6 1-6-2-5 2-7 0-2-6 6-3 4-5-6-2-6-1-5 3M365 2176l-6 3-6 3-6-1 2 6 4 5 6 0 6 2 7 0 3-5-4-5-1-6-6-3 4-5 5-4M372 2664l5 2 5-4-6 0-7-1-4-4-4 5 0-6 0-7-7 0 6-3 4-4 3 5-6-3 6 2M680 2499l-6 2-4-5-3-6-4-5-6-1-3-6 7 1 6-1 2-6-3 5 6 1 6 3 6 2-4 5M699 2514l-3-5-3 5 6 1 5-3 1-6 0-7-6 0 3-5-6 1-3-6 1-6 4 5-6 2 4 6M562 2316l2 6 5 4 3 6 6 3 6-2 6 0-6-3-3-5-3-6-5-3-3-6-6 2-6-3-4-5M264 2643l6-1 6-2 1 6-2 6-3 6 5 4 0 6-4 6-5 4-6 1-6-1-4 5 5 4-1 6M534 2351l-3-5-7-1 7-1 3 6-2 6-3 5-5 5-5-4 2-6 4-5 3-5 7-1 3 5-4-5M341 2184l0-6-4-6 4-5 2-6-6 2-7 1-2-6-3-6 0-7-5-4-6 3-6 3 2 6 4 5M668 2612l2-6-5-4-3-6-6 3-5-3-3 6 7 1 4-5-7 0-6-2-5 4-2 6-6 2 6-1M245 2175l5 3-5 5-6 2 1 6-5 4-3-6 2 6-6 1-2 6-4-6-1-6 1-6 6 3 6 0M281 2421l2 6-4 5-5-5 2-6 6 2-1 6 0 6 5 4 5-3 6 3 6-2 1-6-6-4-6-1M295 2530l-6 1-6-2 2-6 2-6 6-3 6-2 4-5 5-3 5 4-2-6-6-1 5 3 5-5-6-3M246 2612l-6-3-6 4-2 5 5-3 6 2 6 3 4-5-5-3-4 6-5 3-2 6 6 1 6-2 5 4M678 2652l6 3 4-4-1-7-4-4 0-7-3-5-6 1-3-6 7 0 2-7 0-6 6 0 6-4 5 4M684 2289l7 0 3-5 6 0 4 4-4 5-7 0-4 5-2 6 6 4 0 6 6-1 6 0 7 1-2 7M405 2291l-7 2-2 6 2 5 7 2-2 6 6 3 5 4-1 6 7 1-6-2-4-6-2 6 4 5 6 4M466 2396l-3-6-4-5-4-4-1-7 2-6 1-6 2 6 4 4 1 7 0 6 5 5-1 6 4-5 5 4M680 2543l1 6-6 3-6 1-3 6 4 5-5 4-6-3 4-5 6 2-3 6 2 6 6 1 3-6 1-6M631 2446l2-6 3-6-1-6 5-3 5-5 6 0 6-3 6-2 3 6 5 4 4 5 2 6-2 6-1 7M542 2267l6 2 4 5 2 6-1 6-2 6-2 6-6 0-3 6 7 0 1 7 6 2 2 6 7 1 2-6M281 2206l5-3-3-6-5-4-2-6 2-6 2-6-4-5 1 7-6-1-1 7 4 5 3 5 1 7 1 6M470 2527l7 2 5 3 2 6 4 5-7-1-2-6 2-6 0 7 5 4 0 6 3 6 1-7-4-5 6-2M352 2550l4 5-3 5-5 4-3 6 6-2 3-6 2-6-5-4 5-4 5 3 7 1 1 7 3 6 0 6M221 2438l-5-5-5 4-5 4 1 6 6 3 6 1 7-2 2 7 3-6 6 2 7 0 4 5 6 1-6-1M644 2245l-6-4 5-4 0-6 3 5-6 3-4 4-6 3-1 6-3 6-7-1-1-6 1-6-4-6-6-1M483 2623l-3 6 1 7 5-4 4 5-4 5-4 5-1 6-2 7 6 3-1 6-6-3 1-6 3-6 5-4M355 2423l-7-2 1-6-6-2-1-6 5-4 6-1 0 6 5 4-6 2-5 5-6 1 3 5-4 5-4 5M156 2485l-4-4-5 4-3 6 6 0 6-4 4 4 5 4 6 3 6-2 5 3 2 6-7 0-3 5 4 5M251 2574l-3 6-7 1-3 5-3 6-5 4-6-1-6 2 3 6 0 6 7 1 6-2 4-4 6 2 6-2M469 2290l5 3-1-6-4 5-2-6 0-6 1-7-2-5-6-3-7 1-3 5-4 5-2 6 4 5-5 3M195 2658l-4 4-6-2-6 0 4 5-6 2 4-5 3 5 4-5 6 0 3-6 2-6 6-2 0 6 5 4M146 2321l6 3 6 2 5 5-2 6-6-3-3 6 7 0 5 3 1 6-6 0-3-6 6 1 5 5 6-1M502 2723l5 3-6 1 0 7-5 4-2 6-5-3-6 2-5-4 6-2 2-6 4 4 3 6 2 6-4 5M666 2237l-4 5 6 2 2 6 0 6-6 4 6 3 5-4 1-6 6-2 7 2 6 0 2-6 3-5 0-7M600 2435l4 5 3 5 3 6 1 7-1 6 7-2 2-6 2-6 2-6 5-4 6-2-6-3-4 4 0 7M591 2297l1-6 1-7-2-6 7-1 1-6-1-6-5-4-1-7 2-6 6 0 5 5 0 6 0 6-6 3M381 2292l0 7-6-3 2-6 5-3 1 6 5-4 4 5-1-6 1-7 1-6 5-4 7 2 2 5 6 2M329 2654l-6 2-3 6 3 6 6 1 4 5 6 0-2-6-5-3-4 5 6 1 1 7-6 1 4 6-6 1M496 2652l6 0 6-3 6 1 2 6-1-6-3-6-2-7 3-5 6 2 2 6 6 2 2 6 6 2 2 6M737 2458l0-6 6 0-2-6 1 6-1 6 3 6 6-1-6 2-4 5 5 5 5 3 5 5-7 1-6-1M271 2283l6 1 5 5 3 6-5 4-6 2-2-6-1-6 6-3 3-5 2 6-7 1-4-5-6 4-6 2M270 2572l-6-1-7-2 1 6 0-6-2-7 5-3 5 4 3 6 7 0 4-4 4-5 5-5 6 0 6 2M606 2618l4 5 6 1-2-6-6 3-6 0-5-4-2-6 5-5 4 5 6 0-6-1 5 3 0 6 2 7M712 2588l-6-3-5 3-6 1-5 4-1-6 6-2-4-5-6 2-6-1-5 4-7 0-6-1-2 6 0 7M239 2204l-4 5-6 1-4 5-6 2-5-5 1-6 6-3 6 3 1 6 3 6-2 6-7-2-1-6 2-6M389 2181l1-6-6-2-3-5 4-5 6 1 5-4-3-6-6 1-1 6-7 0-6-2 7 1-4 5-6-3M655 2263l-5-4-1-6-6 0 5-4 0-6 6-2 5 4 6-2 6-2 6-2 4-5 7 1 6 2-3-6M452 2316l3-6-1-6 6 3 1 6 2 6 2 6 5 4 5 5 5-3-2 6-6-2 6 3 5-4 5-4M327 2173l-4-5-7 2 4-6-5-3 5-4 4 5 2 6 6 0-3 5-6 0 3 6-5-5-6 1-2 6M422 2367l-2-6 2 6-3 6 1 6 4-6-3-5-6-3 0-7-2 7 2 6-4 5-7 1-4-5 6 2M661 2477l6 2 2 6 0 7 6 2 6-2 0-6 5-4 4-5 4 5-5 2-7 0 1-6 7 0-3 5M294 2626l-1 6 2 6 5 4-2 6 1 6 6-3-5-4-4-5-6-1 3-5 0-7-6 1-3 6 5 4M249 2511l-6-2-6 4 4 5 3 6-6 1-7 1 3-6 1-6-1-6-3-6-4-5-6 0-7 0-3 5M383 2321l-5 4-6 1 0-6-3-6 5 4-4 5-6-3-5 3-4-5 5-4 7-2-4 5-6 2 6 0M164 2505l-6 1 5 4 5 3 7-1-5-4 1-6 5-4-1-7-2 6-6 2-5 5-6-2 2-6 0-7M656 2561l6-2 4 5 4-5-6-1-7 0 1 7-5 3 0 7 5-4 2-6-3 5-4-5-5-5 1-6M313 2617l-4-5 6-3 4-5 1-6-5 4-5-3-6-2 1-7 0-6-5-3-1-7-5 4 6 3 6 2M577 2646l-7-1-4-5-6-2-6 1 0-7 2-6-2-6 3-5 3-6 6-2 2-6-5-4-3 5-6-2M358 2174l-6-1-3 6-6-1-2-6 3-6 3-6-1-6 0-7 2-6-6-2-6 2 0 6-6 1 2 6M337 2701l-7-1-5-3-4-5-5 4-4 5-5 5 1 6 1 6-2 7 3 5 4 6 5-3 6 1 5-4M573 2198l-3-6-6 1-2 6 0 6 5 4-4 5-6 0-6-2-6-1-7 0-2-6-2-6-2-6 5 3M530 2292l6 0 0 7-6-2-4 5-6 2-3 6-5 4 5 3 7 1-1 7-2 6 2-6 6 0 6 3M373 2441l-6-3 5-4 4 5-2 6 4 5 0 7-7 1-6 0-4-5 5-4 5 4 2 6-1 6 6 1M621 2400l-2-6 0-6 5-5-3-6-6 0-6-1-6 3-6-1 0 6-6 3-2 6-5 5 6 2 0 6M239 2418l5 3 2 6-5 4-2-6-1-6-5 3 6 0-6 3-6-2 0-6-3-6-4-5-5-4-6 4M185 2363l1-6 6 2-3 6 1 6-6-1-3 6-2 6 2 6 0 6 1 7-6-1-6 1-6-2-6-2M633 2187l5 4 5-3 1-7-5-4-4 4-7 1-3-5-2-6-5-5-3-5-7 0-1-6 2 6-4-5M592 2287l-5-5-4 5-4 5-3-6-3-5-6 0 1 6-4 6 2 6-3 5 2 6 6 3 6 3-1-6M169 2496l-6 2-4 5-2 6-3 6-6-2-4 6-6 2 7 1 3-5-6 2-4 5-3 6-3-6 1-6M277 2237l-6-1-6-3-1 6 4-4 4 5 2 6 4 6-2-7 6-2 6 1 5-4 6-1 7 2 6 0M254 2260l7 0 5-4 6-1 6 0 6-3 5-4 6 3 3 5 7 0 4-5 6-3-1-6 1-6 0-7M490 2418l6 0 6-1 6 3 6 0-4 5 0 6 5 4 7-1 0 7 4 5 6-1 5 5-4 4-2 7M347 2651l-5-3-5-4-1-6-6-2 6-2 6 1 6 3 6-2 5-3 5 4 6-4 0-6-5-4-3 6M243 2600l3 6 3 5 6-1-6-1-5 4-5 4 2 6 0 6 4-5 6-2-4 5-6-3 1-6-2-6M540 2586l4-5-5 4-4 5-7 0-5-4-2-5 6-3 5-2 1-6 7-2-6 4-3 5-4-5-5-4M346 2271l-4-5 6-2 6-4 0-6 4-5-3-6 1-6 6-1 6 1 6-3 6-2-3-5 6-1-6 1M283 2277l-5-4-6 0-1-6-2-6-6-1-5-4-3 6-1 6 5 4 3 5 5 4 7-1 6 2 4 4M621 2356l6-3 4 4 6 3 2 6-1 7-5 4-4-6-3-5 4-6-6-3-5 4-4 5-2-6-7 0M316 2137l-5-3-5 4-5 4-6 2-6 1-5-4-7 0 3 6 6-3 4 5 6-4 3-5 5-4 5-5M517 2252l4-5-6 2-7 1-6 1-6-2-6-3-4 5 7 1 6-1 4-5 3 6 5 4 2 6 1 6M606 2301l-6 2-4-6-2-6 1-6 4-4-1 6-2 6-5 3-6 2 4 5 6-1 5 4 2 6-1 6M332 2536l1 7 5 3 6-2 2-6 6 1-1 6 6 2 2-6 2-6 6 3 4 5 0 6-4 5-6 2M692 2232l-6-1-4 5-6-2 1-6-5-4-4-5-7-1 1 7 6 2 4 5 1 6 5 3 6 3 0 7M355 2250l-6-1-5 4 0 6-2 7-6 3 0 6-4-5 5-3 4-5 6-3 1 6 6 2 6-4 1-6M260 2507l-6 2-6 3 0 6 6-2 3-6 4-5 4-4 6-2 4-5 6-3 6 1 2-6 4-5 6-2M329 2158l6 2-1 7-6-2 3 6-2 6 6-1 1-7-6-2-4-5-2 6-3 6 7 0-6 3-2 6M527 2488l-6 2-5 3 1-6 0-7 4-5 6 2-6-2-3-5-6 1 0 7-6-4-2-6-2 6 3 6M470 2614l4 5 5 5 5-4 5 2 2-6-6 0 3-6 5-3 6 4-4 5 5 3-4 5-5 4-6 0M525 2131l-5 4-6 1 4-5 2-6 3 5 0 7-4 5-6 2 6-3-5-4-1 6-2 6-1 7-5 2M538 2593l-7-1-6 1-2 6 3 6 6-1 0-6-3 5-3 6 5 2 7 1 6 1-1-6 6-3-1-6M596 2468l-6 3 3 5-6-1-6 1 2 6-5 3-7-1-2 6 6 3 6 1 4-5 7-1 6 1 1-6M646 2376l6 0 5-4 7-1 0-7-5-3 7-1 3 6 5-4 4 5 5 3-4 5 6 3 7 1 5-3M240 2493l3 6-6 3-4 5 6 2 2 6 4 5 3-5-1 7-5 3 2 6 6 1 3 5-5 4-7-2M478 2713l7-1 4 5-6 1 6 0 6-2 2 6-7 0-5 3-6-2-5-3-5-4-7 0-1-6 6-2M161 2430l7-1 2 6-6 0 1-6 6-1 1 7 6 3-3 6 5 4 2-7 0-6-7 1 0 6 4 5M720 2310l-6 0-4-5-5-4-3-6-6 1-6-2 0-6-5-5 5-4 2-6 6 1-5 4-5 3-4 6M762 2516l3 6 6 0 1 6 5 5-6 0-5 4 6-3-7-2-6-2-6-2-6-1-6 2-7-2-4 5M760 2405l-6-3-4 5 2 6-5 3-4-5-6 2-3-6-7 1-6-1-3-6 0 6-4 5-2 6 6 0M294 2240l6 2 7-1 3 6-6 3-2 6 2 6 6 0 6-2 3-6 0 7-6-1 0 6-5 4-3 5M322 2226l5-3 6-3 0-7-6 4 5-5-2-6-2-6 1-6 6-2-4-6 4 5 4 5 3-5 1-6M683 2349l-1 7 2 6 7 0 4-5 2-6 3-6 3-5-4-5-6-1 6-2 4-5 4 5 6 2 5 4M325 2245l5-3 6 2 6 3 5-4 6-2 6-2 6 2 7-2 6 0 2-6-4-4 6 2 5 3 5 4M250 2507l-6 3-4-5 5-3-1-6-4-5 2 6 3 5-2 6-6 2 5-3 6 3 6-1 2-7 4-5M688 2374l3 5-6 3 4 5 1-6-6 1-5 5-5 4-6 0-6-2-6-2 3 5 6 1 5 4 3-5M333 2301l5-5 6 1 5-4 3-5-2-6-5-4 7 1-7 1-5-3-6 3-5 4 6 3 5 3 6-3M380 2316l5 3-4-5-2 7-6 0 3-5 2-6-6 0-1-7-6 3-1 6 5 5 6-1 6 4 4-5M533 2715l-5 4-6 3-7 1-4 4-7 1 1 6-6 4 1-6 1-7 2-6 5-3 6 0 5 5 3 5M237 2407l6-2 1 7 5 3 6-2-1-6-2-7-3-5 2-7-4-4-5 4-3 6-6-1-4-5-6 2M624 2377l6 3 0 7 5 4 4-4-2-6 4-6 4-5 6 1 6-3 6 2 6-1 2-6 2-6 1-7M295 2440l-1 6-6 0 0 6-3 6-6-1-1-7 5 4 0 6-3-5 1-7-5-4-5 4 6 1 0-6M141 2269l5 4-7 0-5-4-7 0-3-6-6 1 2-6-6-1-6 3-3 6-3 6 7 1 2 6-3 6M395 2225l3 6-6-1 1 7 4-5 6-2 2 6-5 3-5 4-3 6-1 6-4-5-6-3-3-6-5 4M579 2364l5-5 6 1 4-5-5-3 4 5 7 0 6 1 5 4 2-7 6-3 2-5 6 2 6 0 7 0M231 2473l1 6 3 5 6 3 4 5-3 5 3 5 0 7-6-2-2-6-7-2 1 7 0 6-6-1-2-7M230 2250l-3 5-7-1 7 1 2 6 6 0 0 7 5 3 5-4 6 1 6-3 6-1 4-5 4-6-7 0M334 2190l3 6 6-2 4 4 5 5-2 6-1 6-1-6 5 3 6 4 1 6-1 6-3 5-6-2-5 4M574 2585l4 5 2-6 4-5 6-2 3-6 6 2 1 6-1 6 4 5 6 1 4-5-6 2-7 1-4-4M525 2740l2 6-4 5-1 6 0-6 3 5 2 6 5 5-6 3-6 0-5 4-6 2-7-1-6 1 6 0M292 2339l6-1-2-6-4 5-2 7-6 1-6-1-5-4 3-5 6-2 3-6-4-4-6-3-4-5-5-3M536 2255l1 6-6 0-7-1-6 0-3-6-5-4 3-5 4-5 7 1 4-4 0 6-2 6-6 3-1 6M345 2397l-3 6 4 5-1 6-3 6-7 0-3 6-3 5 3 6 5 4-2 6-6-3-5 4-4 5-3 6M712 2394l-2-6 3-6 6-2 2-6-6 2-7 0 1 7-6 1-7 1-6 1-6 0-4-5-4-5 0-7M243 2241l4 5 6-3 0-6-6-3-6 2-5-4-6 3-2 6 6-1 4-5-7 0-3-5-4-5 3-6M493 2548l1-6-4-4-6 3-1 6-2 6-5 4 1 6 6-2 4 5-1 6-6 3-4 5 5 3-3 5M583 2713l7-1 6-2 3-6 3-5-2-6 2-6 4-5 2-6-5-4-5-4-6-2-4-5-6 2-6-3M194 2428l6-2 3 6 0 7-7 1-5-2 4-4 4-6-5-5-6 0-6-2-4 5-5 5-3 5-2 7M527 2697l-6-3-6-1 4 5-6-2-1 6-7 1-4-5 6-4 2-6-2 6-6 2-6 2-5-4-6-3M685 2378l-2-6 0-7-6-3-6 0-3-6-6-3 0-6-1-6 0-7-2-6 6-2 6 0 4-5 5-4M453 2593l6-1-6-3-6-1-6 1-3 5-5 5 5 4 6 3-6-2-6 0-5 5-1-6 1-7 5-4M602 2380l-6 2-6 2-7 1-5-3-2-6-3-6-6-1 4-5 1-6-5-5 5 4 5 4 6 3 2-6M575 2183l-5-3-7 0 4 5-6 3-6 1-6 0-3-6-6 0 2-6 6 0 5 4-1 7 4 5 4 5M549 2225l6-2 4-5 0-6-2-6 6 1 5 4 0 7-6 1-1-7 6 0 2 6-2 6-5 3 3 6M369 2239l-6-2-6 0 1-6-6-4-1-6-4-5-3 5-2 6 3-5 6 2 6 0 6 3 5 3 1-6M716 2296l6 3 0 6 0 6 5 4 5 5 5 3 5 5-4 5-2 6 6-2 6 3 5-5 5 5-3 6M527 2306l5 4 6-2 1-6-5-4-6 2-6 1 2 6-3 6 6 2-7-1-6 0-6-1 2 6 1 7M579 2512l5 4-3 6-7 0-4 5 4 4-1 7-4 5 1 6 0 7-5 3-5-4-7 0 2 7 3-6M525 2686l2 6 6 1 2 6 4 6-1 6-3 6-2 6-6 0-5-5-6-2-3-5-7-1-6-1-4-6M665 2675l0 6 7 1 2 6-1 7 4-6 6 2 5-4-2-5-1-7-5-3-5-5-3-5 3 5-4 5M537 2364l5-3 2-6 2-6 6-1 3 6-5-3 2-6 3-5 3-6 4 5 7 0 1-7-5 5 4 5M325 2318l-6 0-6-3-6 2-3 6-2 6 6-3 4-5-7 0 1 7 4 4 4 6 5 3-2 6-2 6M308 2546l-6-1-4-5-4 5-7 1-6-1 6 3 6-2 5 3 0 6-3 6 3 6 3 6 5-4-3-6M373 2124l-1 7 0-7-6-2-5-3-7 1-6-2-3-6-6 1-7-1-6-2-6-1-6-4 5-4 6-1M421 2734l0 6 6 2 5-4-5 4-6 0-7-2-5-2 0-7-5-4-4-5 5 4 4 4 7 2 3 6M725 2538l-3 6 4 5 5 3 5-5-6 3-7 0-5-3-2-6-6-1-7 0 0 6 6-2 6 2-3-6M622 2505l0 6-3-5-5-5-6 0-5-4-5-5 5-4-1-7-6-2-6 1 2-6 6-1 6 2 6 2M707 2571l-6-3-6 1-4-5 0-6-6-4-3-5-5-4-3-6 4-5 0-6 0-7 0-6 1-6 3 6M144 2349l4-6 6 0 5-4 2-6 1-6-4-5-6-2 5 4 5 3 1 7-5-4-4-5 2-6-4-5M591 2678l6-1 1 6 6 2 4-4 6-3 6 4-1 6-6-3-4 4-5 5-6-3-5-4 4-5 4-5M425 2350l3-5 6-2 6-3-4-5 0 7 2 6-6-2 1-6 5-4 6 2 0 7 2 6-7 1-6-2M305 2598l3 6 6-3-3-6 6 4 1 6 6 0-2-6-3-5-6 1-1-6-4 5-5-4-5 4 4 5M705 2515l6 2 3-6 7 0 6 1 1-6 4-4 5-5-1-6-6-1 3 6-1 6-4 5-2 6 1 7M331 2603l-6 1-5 4-4 5-5 4-2-6-5 4 4-5-4-4-6-3-5 4-6 3-6-1 6 1 0 6M566 2528l-6 3-1 6-6 3-5 4-4-5 3-6-6-3 5 5 3 5 7 0 1-6-4-5 6-2 5-4M279 2399l4-5 3-6-2-6 6 3 5-5 0 7 6-2 1-7 3-5 6-3 7 0-3 5-2-5 5 3M448 2574l-6-2-6 1 2-6-7 0-3 6 5 3 6 3 5-4 5 4-1 6 4-5-6 3-5-3-4-5M417 2440l2 6 2 6-6 3-6 0 2 6 0 6 6 1-3 6-3-5 5-4-4 5-7-1 3-6 7 2M746 2325l6 3-5 4-4 5 3 6 7 0 5 4 5 3-3 6-2 6-6 1-1 6-6 4 6 2 7 0M701 2444l0-6-1-6-3-6 1-6 4 5 5 4 6 0 6 4-6-4-5 3 1 7 4 5 4-5 6 1M399 2375l-4-5 7-1 6-2 6 0 6 4 6 1 6 0-2-5-6 2 0 6 6 1 5 4 2 6-1 6M471 2261l5-5-6-1-1 6-7-1-6-2-6 3 6-2 6-4-2-6-1 6-6 0-7 0 2-6 2-6M145 2319l6-3 5-4 5 4-4 5-4 5 5-4 6 2-6 2-5 4 0 6-1 7-4 5-6-1-6 3M417 2318l6 0 7 1 5 4 6 1 5-5 2-6 1-6 4-5 5-4-5-2 0-7-1-6 6-3 6 3M314 2672l1 7 4 5 5-3 0-7-5-4 1-6 0-6 3-6 0-6 7 1 6 2 5 4-6 2-6 0M222 2552l2-6-5 5 3 6 2-7 1-6 1-6-1-7-5-4-5 3-5-4 2 7-5 4-5 3-6 3M336 2331l-6-1-7 0 6 1 7-1 6 0 3-6 6-3 6 1 6-1 5-5 6 2 4-5 6-1 0 6M688 2290l5-4 1-6 6-1-1 7-5 3-3-5-6-3-6 1 3 5-5 4-6-1-7-1 1 6 6 2M213 2522l-1-7 6 3-6 1-4 5-6 2-2 6-4 5 1-6-4-5-1 6-5-2-7 0-5-4-5-4M310 2401l-3-6-6-1-2-6 6-1 6-1 3 5-2-5 0-7-7 0-1-7 6-1 1 7-4 4-5-5M195 2539l6-1 6 3 6-3 5 4 6 2-5-3-3-6 0-6-3-6 3-6 3 6 6 2 6 0-5-5M525 2336l-6-1-6 2 0 6-1 6-7 0-3-5-1 6-6-2-1-7 6-1 2-6-3-6 3-6 2 7M190 2227l6-2-5-4-3-6-5-3-6-4-5 4 2-6 5 4-1 6-5 5-4 5-6 2-5 4-6 2M189 2383l0-7 5-4 6 2 6 3 5-5-2-6 0-6 4 4 1-6 1-6 4-5 1-6 3-6 2-6M181 2415l2-6-5 4-5 4 2 6 5 4 2 6-3 6 0 6 3 6 5 4 5-4 1 7-5-4-6-2M651 2191l5 5 6 2 3-5-5-3 4-5-6-3-2-6 0-6 6 0-3-6-2-6 6-2 5-3-4-5M682 2642l0-7 5-4-2-6 5-5-3-5-2-6 4-5 5 3 6 3-2 6-5-5 3-5 4-6 5-3M123 2371l5 4 3 6 6-2 6 3 7 1 4 4-3 6-6 0-4-5-6-2 1 6 3 6 3 5 1 7M749 2309l6-2-4-5-6-2-4-4 4-5 4-5 6 2 6 3-1-6-6-1 3 6 3 5 0-7-7 3M558 2396l-6 1 4 5-1-7-3 6 6 2 6-1 4 5 5 4 6 2 6 1 6 2 4-4 7-1 6-1M532 2299l-4 5 5-3 3-6 5-4 7 0 6 2 1 6 4-6-1-6-4-5-6 0-6-2-4-5-2-6M529 2357l4 5 6-3 2 6-6 3-5-3-7-1-3-5-4 5 4 4-5 3 3 6 4 4 0 7-2 6M242 2499l-1 6 0 7 6-1 5 4 5 3 4 6 6 1 4-5-5-5-5-4 1-6-2-6-6 2-1 6M198 2594l6-3 2 6 2 6 1 6 6 2-2-6-4 5 0 7-4 5 2-6-1-7-5 3-4 6-5 3M281 2698l0-6 6 0 3 6 1 6-2 6-2 6-1 6-4 5-5 4 5-3 6-3 6 2-6 1-1 7M286 2338l-7 1-2-7 3-5 0-7 7 0 2-6-5-4 1-7 4-5-5-4-7 1-5 4-2 6-3 5M452 2744l4-5 6 1 6 3 6-1 7 0 0 6 2 6 2 7-7-2-3-5 2-6-5-5-6 3-6 0M332 2393l1-6-3-6-1-6-6-3-4 5 2 6-1 6-7 0-4 5 3 5 1 7-6 2-4 5-3-6M320 2334l4 5 6 0 7 0 4-4 5-4 5 4-4 4-6-3 1-7 4-5 3-6-6-3 2-6-2-6M372 2652l-2-7 0-6-4-5 5 4 3 6-1 6-5 4-1-6 5-4 7 0 4-5-6 3 3 5 5 4M712 2397l2 6 6 3 3-5 5-4 1-7 1-6 3-5-4-5-4-5 5-4 4-5 3-6-2-6 1-6M556 2717l6 2 0-7-6 4-2 6-5-3-6 2-7 2-6 0-6 2 4-5 6-3-2-6 0-6 4-4M510 2208l-3 5 6 0 5 5 5 3-6 1-1 6 2-6-4-6 2 7-5-5-3-6-6 0-1 7 5 4M410 2419l-6 3-4-4 0-7 6-1 2-6-1-6 0-7 2-6 6-2 4 5 6 2 4-5 0-7-1-6M382 2417l-3 6 1 6 3 6 1 6 4-5 5-4-6 0 4-5 7 1 5-5 4-4 2-6 5 4-3 5M452 2628l5 4 3-6-2-6-4 5 3 6-7-2-6-2-1-6-6-3 4-5 5-4 6 2-1 6-5 5M599 2212l5 3-4 4-5 5-4-5-5 4-3 6-3 6-6 1-6 0-5-3 5-4-3-6-3-5 0-7M406 2696l-6 0-3-6-4-5-5-4 2 6-4 5-3 5 6-2 0-7 5-4-6-2-6 2 6 0 5-4M693 2598l-1 6-7-1 0 7 5 3 5 4 0 7 5 4 5 3 5-4 1-7 4-5 4 5 0 7-6 2M287 2235l0-7 3-5-2-6-5-4-5-5 6 4 5-3 3-6-3-6-6 1-1 6 2 7 6 2-3 6M287 2526l-2 6 0 6 6-1 4-5 6-2-5-4-6-2-6-1 1 6-6 1-6 4 5 3 5-4 7-1M337 2371l0-6 1-6 4-5 3-6 6-3 6 2 4-4 5 4 3 6-4 4-6 3-5 4-3-6 0-6M504 2210l3 6 4 4 0 7-6-3-6-1-6-2-4-5-5-4-3-6-1-6 7 0 4-5 5-4 6-2M361 2432l-6-3 3-6 6 0 3-6 5-4-5-5 0-6 4-5 3-5 2-6 7-1 4 4 7 0 4-5M448 2154l-5 2-3 6-5 4-6 0-4-5-6-4-4-5-3-5 4-5-7 0-5 3-2 6-1 6-7 1M696 2283l-2-6-5-4 3 6 4 5 1 6-2 6-3 6-2 6-5 3-7-1 4 5 6 0 7 1 6 0M646 2489l-7-1 6-3 6 2 4 5 4 5-5 5 6-2 6 1 7-2 2 6-6-3-4-4-6 1-7-1M559 2293l6-3 6 0-2-6 6-2 3-5 6-3 3-6 1-6-3-6-4 5 1 6-6 1 0 7-1 6M184 2606l-3-5-7-1-5-3 3-6-2 6-6-1 2 6-6 2-3-6-1-6 4-5 5 3 6 1 2-6M215 2232l-5 4-3 6 2 5-6 2-4-5 5 4 6 0 2-6 3-6-5-3-7 1-4-4-5-4 2-6M193 2305l4-5 0-6-3-5-4-6-4 5 3 6 3-6 5-4 6-3 0-6 6-2 6-1 6-3 6 4M524 2494l-5-3-6-2 0-7-5-4-5 5-5-4 1-6-6 1-3-6-6-2 4-5 6-2 4-5 2-7M150 2279l6-1-6 3-6-2-6-2-3 5 0-6 5-4-2-6-6-2-2-6 6 1 4 5 6 3-6 3M547 2405l6-3 2 6 2 6 6 1-2 6-6 0-6-1 1-7 3-5 2 6 3 6 6 1 6-2 6 0M430 2493l-2 6 2 6 6 1 7 1 3-6 6 3 5-3 5-5 3 6 4 5-6 3-4 5-6-1 6-1M241 2392l1-6-4 5-6 1-7 0 0-6 2-6 2-6-4-5-4 5-5 4 4 5-6 3-1-6 3-6M434 2695l-6 2 3 5 7 1 6-3 6-2 1-6-4-5-5 3 1 6-2 6 3 6 6-2-1-6-6-2M487 2608l-6-3-6 3-3 5 3 5 6-2 3-6-7 1-2-6 1-7 3-5-7-1-2 6-6 2-6 2M370 2748l-4 4-5 5-6 1-6 1 5 3 6-2 3-6 1-6-4-5-6-2-1-7 4-4 4 5 3-6M663 2244l6-1 1 6-6-2-6 4-5-4-6-3 5-4-5 3-7-1-3-6 4 5 0 7 5-4 2-6M638 2427l6-1 3-6 3-6-4 6-6-2-3-6-4-4-7-2-2 6 3 5 1 7-1 6-6 3-3-6M745 2569l4-5 6-2-4-5-5-4-1 7 5 3 3-5-7 0-2-6-6-2-3 6 6 0 4 6 6 2M444 2484l1 6-7-1 0-6 3-6-2-5-2-6 6-3 6 2 6 2 4 5 4 5-2 6-1 6-5-4M469 2300l2 6 6 3 4-4 6 1-4-4-4-6-5 5 3-6-6 2-6 3-5 4-4 5 3 5 4 6M138 2441l-7 0-6-1-1-7 6 2 6 3 6-2-1-7-5 5-1-6-4-5-6-1 5-4 0-6 0-7M198 2296l-6 1 1 7 2 6-6 2-3 6 5 3 4-5-4 4-5-5-1-6-3-6-1-6 7-1 5-3M700 2577l1 7 2 6-7 0-5-3 6-3 6 3 6 0 6-3-5 4 0 7-7 1-1 6-5 4-3 6M395 2345l4-5 6-2-6 3-6 3 5-5-5 5-3 5-6 0 6-4 3 6 5 3-6 3 1-6-3-6M704 2346l4 5 0 7 4 4-1 6 0 7 1 6 5-4 5-3 3-6 6 1 7 1 6 1 6-3 1-6M713 2548l6 1 6-1-5 3-7 1-4 5-5 4-5-4-6-1-3-6-5-4-4-4-3-6 3 5-6 3M414 2645l-2 6 6-3-3 6-4 5-5 4 3 5 6-1 6 2-3 5-6-3-5 3 1 7 1 6-5-3M308 2579l0 7 6 3 6-1 5-3 7 1 4 5 6 0 5 4 6 3 6 2 3-6 6-2 4-5 6 3M247 2404l-6-3 2 6-5 5 2-6 5-4-5-2-3-6-4-5-3-6-4-5 4-5 2 6 1 6-7-1M215 2354l6 1-2-6-1-6 2-6-3 5-1 7 7-2-5-4-6-2-3-6-2-6-3-6-6 0-7 0M282 2335l-7 0-6 0-6 0-7-1-2 5 0 7-2 6-6 2-7-1 1 6-4 5-3-6-4-4 5 3M627 2335l6-3 4-4 6-3 4 5 3 5 6-2 2-6 4-6 6-2 2-6 7-1 3-5 6 2-5 3M434 2445l-4 6 0 6 7 1 6 0 6-3 4-5 6 4 3 5 7 0 6-3-1-6 5-4-4-5-6-1M710 2587l6 0 6 0 5-5 4-4-6-3-5 4-6 2-2 6-5 4-3-6-2-6-3-5 2-7-6-2M196 2256l-7 1-6 0-6 3-6 0-6 3-3 6-1 6-5-4-4 6-1 6-5 4-6 0-1 7 7 1M453 2321l4-5-6-2 0 6 2 6-6-2-5-4 1 7 6-1 6-3-1-6-1-7-6-2-5 4 6 4M130 2452l-4 5-6 1-5 5 0 6 5 4 2 6 1 6-5 3 0 6 0 7 6 2 4 5-6 3 1 6M642 2334l0 6 0 7 5 5-3 5 3 6 5 4 6 1 4-5 6 3-5 3 1 7-6-1 0-7-4-5M641 2512l3-6-3-6-4-4 0-7-1-6 6-2 6-1 1 6-1 6-4 6 1 6-2 6-7 1 3 5M408 2588l-2-6-3-6-7 2-6 1-5 4-4 5-5-5-3-6 3-5-6-1-4-5-6 0 3-5-6-3M346 2288l-6 2-3 5 4 6-2 6 1 6-5 4-5 4-3-6-3-5-2-6 6-4 6 0-1 6 2 6M476 2572l-6 2-6 3 2 6 5 3 3 6-6 3-1-7-5-3-5 3-6-1-6 0-4-5 3-5 0-6M595 2600l3-5 5 4-3-6-6 3-6-2 1-7-5-4 1-6 6-2-2-6-4-5-6-1-6 1-7-1M428 2502l6-2 2-6-3-6 3-6 2-6 1-6-3-5-5-5-6-2 1-7 1-6 6 0 6 3 4 4M427 2613l-4 5-2 6 6 3 6-3 5-4 6-3 4 5 6 0 3-5 7 1 0 6 6 1 5-5 5-3M512 2248l-3 5-7 2-4-4 0 6-5-4-5 5 5 4 6-3 5-4 4-5-7 0-6-1-5-3-6 3M468 2677l2 6-6 3-3-6-3-6-5 4 7 0 2-6-2-6-6 2 5 4 6 1 5-3 1-6 5 4M243 2191l-6 0-6 1 0 7 3 6-3 6-2 6 1 6 7 0 3-5-6-1-7 0-6-3-4-4-5-4M509 2478l4-5 2-6 0-7-3-6 6-1 4-5-4-6-2-6-4-5 6-3 4 5 2 6 4 5 4 5M334 2748l5-4 7 0 6 1-4-5-3-5-7 1 7 0 2-6-2-6-1-6 4-5 4-5 4-5 0-6M289 2245l-5-3-7-2-6 0-6-1 6-1 1-6 3 5 4 6-7 2-3 5 7 0 6-2 3-5-2-6M675 2569l-6 3-6-1-7 0 3 6 0 6 5 4-6 1 0 7 6-3 6 0 1-6 6 3 4-5 7 1M433 2379l-3 6-6-1 3 6-6-3-4-5-6 1-6-1-7-2-1-6 5-4 4 5 5-5 6-2 2-6M258 2264l-5-4-4-5 0-7-6-3-6-1-6-1-5 4 2 6 1 7-5 4 0-6 2-6 3-6-5-4M287 2197l2-6 6-2 4-5 5-3 4 5 6 2 6 2 5-4 1-7-7 1 0-6-6-4-4-4-1-7M496 2445l5 3-1-6-5-5 4-6 6 1-1 7 2 6 5 4 5 4 5 3 4 5-3 6-7-1-4 5M269 2359l0-6-6-4-1-6-6 1-7 1-6-1-1-6-6 1 6 0-4 6 4 5 6 3 6 1-2 6M238 2398l7-1 6 2 6-2 4 6-3-6-1-7 1-6 6-2-3 6 5-4 1-6 6 2 6 2-2-6M461 2590l6 3 6 1 6-2 3-6-1-6-6-1-2-6 5-3 0-6-6 1-4-5 5-4 7 1-1 6M190 2582l6-1 5-4 6 1 3 6 5-4 5-4-6-1-7 0-6 0 1 6-7-1 1 7-6 0 4 5M195 2585l-6-1-6-3-4 5-6 2 6 2-7 2-2-6-5 4 3 6 5 4 2 6-4 6-6-3 1-6M600 2296l-5 4 5-4 4-5 5 3 6 3 6 0 7 0 5-3 6 4 6-1-5-3 0-7 4-4 1-7M455 2561l-5-4-5 4-5-4 4-4-2-6-4 5 5 3 7-2-2-6-5-4-6 0 4 5 2 6-6 2M261 2338l6-1 5-4-4-5-3-6-3-5 6-3 6-3 2-6 3 5 4 6 1 6-6 1-2 6-1 7M270 2490l-3-6-7 1-1 6-1-6-6-3-6-1-4 5 3-6-4-4-2 6-3 6-2 5 1 7 6 1M360 2259l-6 2-7 0 0-6 6-1-3-6 1-6-6-2 5 4-1 6 6 3 4 5 3-6 7 1 4 5M324 2500l-3 6-4 5-6-2-1-7-6 2-6 3 0 6 6-3 6-3 3-5 6-3 2-6 5-4 4-5M697 2470l-3 5-3-5 3-6 4 4 7 2 5-4 3 5-2 6-5 4-6-1-7 0 4 5-5 5-5 3M567 2571l6 2 5-3 0 6 4 5 2 6-5 5 5 5 4-5 4 5-4 5 6 1 6 2-3 6 4 5M203 2284l7 0 6 1-5 4 5-4 4 5 2 6 6-2 5-4 5 3 6 3 5 4-4 5 4 5 6 0M750 2300l5-4 6-1 6 4 2 6 6-2 6 3 1-6 5-5 1-6 5 3 6-2 6-2 5-4-6 0M614 2450l1-7 6 0 2 6 4 5 1 7 2 6 6 3 6-1 0-6 1-6 7-2 4-4 1-7-6-2M558 2670l-6 2-2 6-7 0-5 4 2-6 0-6 4-6-4-5 4-5 7-1 6 2-5 4 1 6 3-6M598 2632l3 5-5 4-1 6 6 3 1 6-4 4-7 0-2 6-5-4-4-5-6 0-7 0-6-2-6-1M323 2175l-3 6-1-6 6 1 7 0 0 7 0 6-5 3-6 4 6 3 6-2 3-5-2-6-1 6 1 6M243 2458l4-5-3-5-1-7-7 0-1 6 5-4 6-3 6 2 6 1 6-2 5-4 6 2 7-2 5-2M647 2289l3-6 3-5 5-5 4-4-4-5-4-5-6 2-6 4-6 0-4-6-4-5-6-1 7-2 6-2M511 2651l-6-4-6 0 3 6-5 4 3 5 5-4 1-6 7 0-1-7 0-6 5 4 2 6 4 5 6 0M279 2678l-6 0-1-7-1-6 6-1 2 6-6 0 2 7-1 6 0 6 1 7 4-5 4-5 5 4-1 6M744 2487l3 5-1 7-6 2 1 6-3 6-4-5 3-6 2-6-4-5-7 0 0-6-5-4-5-5-3-5M313 2175l4-5-6 3 3 6-4 5 4 6-2 5-7 0 0-7 5 3 3-5-4-5-6-2-6 2-5-5M482 2277l-6 1-5-4-6-3-6-1-2-6-2-6 7-2 6 0-6 1-5-4-5 4 2 6 5 4-6 1M723 2329l5-4 1-7 4 5-3 6 4-6 6-2 3 5 6-2 7-1 2-6-3-6 6 1 1 6 6 3M165 2244l2 6-1 7 2 5 5 5-2 6 1 6 2 7 6 2-6-3-1-6-2-6 5-5-7-1-6 2M591 2618l-4 4-6 2-4 5-6-2-5 4-6-2-5-3-7 0-5-4 4-6 6 0-5-5 0 7 0 6M539 2242l4 5 6 0 6-3 6 3 4 6 3-5-2-7 3-5 4-5-1-7-4-5-4-5-6-3-2-6M144 2364l-6-3-6 2 5 4 6 1 4-5 5 4 1 6 7 2-1 6 2 7 2-6 3-6 5 4 4 5M590 2439l-7-1 4-5 6-3 4 5 3-6 6 0-3-5 6 2 4 5-3 6 2 6 2 6 6 0 2-6M631 2304l2 7 3 5 6 3 5 4-2 6 6 1 4 6 4 4 1 7-3 6 0 6 4 4 6 4-3 6M443 2291l-7 0 1-6 0-7 2 6 3-5 3 5 6 4 4-5-3-6-5-4-4-5-4-5 5-3 5-4M370 2724l-6 0-3 6 5-5-7 0-1 6 0-6-6-3-4-5-2-6-3 5 6 1 4-5-2-6 0-6M364 2138l0 6-4 5-6 3-4 5 2 7 6 0 6 1 5 5-6 2-7 0-2-6 0-6-2-7 3-5M493 2531l0 7-1-7-3-5 0-7 3-6-7 2 2-7-3-5 5-4 2 6-5 4 3-6-5-3-7-1M681 2521l5-5 6 2 6 1 4-6 3 6-7-2 3-6 7 1 6-3 6 1 2-6 4 4 6-3 1-6M291 2215l6-1-1 6 6-1 4-5-4-6-2-6 5-3 5-5-4 5 4 6 2 6 6 2 1-6-2-6M529 2382l-2-6-1-6 6-2-6 0-2 6-6-3-5 3-5-4-1-6 0-7-1-6-6 1 2 5 3-5M363 2576l4-5 5 4 6-2 5-4 1-7 1 7-6 1 5-4-7 2-5 3-6 1 6-1 6 1 6-3M209 2447l-6-3-1-6-5-4 4-4 7-1 6-1 0-7-6-2 2-6 0-7 2-6 4-5 6 0 4 5M476 2693l3-6-6-2-4 5-6 3 5 5 4 4 4 6-2 6-3 6-4 5 0 6-1 6-3 6-5 4M572 2707l-2 6-6-1-6 2-6-1-7 0-6 2 2 6 4 5-1 7-4 5-6 0-4 5 5-5 6 0M372 2563l-5 4-2-6-6-1-6 2-3-5-1 6 5 4 2-6-6-2-5-4-4-4-6-2-7-1-5 3M616 2459l-5-4-1-6 5-3 2-6-1-6 1-7-3-6 2-6 0-6-6 1 0 6-2 6 2-6 2-6M192 2620l-3 5-3 6 0 7-6 3-5-4 2-6-5-3-7 0-2-6-2-6-5 4-5 4-5-4 4 5M291 2574l2-6-6 1-1 7-5 4-4 5-4 5-1 6 6 1 3 5-3 6 6 3 7-1 6 2 2-6M243 2635l2-6 3 6 6 1 6 1 2-6 6-3 6 3-6 3-5 4-6-3-5-4 7-1 6 0 7-1M710 2434l4 5-3 6-7-1-6 2 4 6 4 4 4 5-2 6 6-4 1 7-4 5-3 6 6 3 6-1M255 2492l3-5-2-6 0-7 6 0-1-6 7 0 2-6-6-4-5 4-5-3-4-5 5-4 0-6-7 0M400 2209l-3-5-5-4-6-1-1 7 6 3 6 0 5 4 3-6 4 5 6 2 1 6 7 1 1-6 6 0M471 2194l-3 6 1 7 1 6 2 6 7 1 5 4 6-1-5-4-2-6 6 2-2 7 0 6 5 4 7-1M332 2196l3 5-2 6-6 2-1-7-1-6-3-5-1-6-6 0 5 3 7 1 5-4-2-6-1-7 5-4M163 2493l4-5-1 6 5 4-2 6-1 6-3 6 0 6-6 1-3-6 6 0-6 2 3 6 3 6-5 4M508 2248l0-6-1-6 5-3 1-7 6-1 7 0 2-6 2-6 5-4 6 2-2 6 6 1 5-4 0-7M263 2575l5-4 6-3 1-6 0-7 3-5 6-3 5 3-5 5-2 6 6 4 6 0 6 2 6-3 6 0M420 2681l6 3 6-2 5-3 6 2 4-4 5-4 2 7-1 6 3 5 6 3 5 4 2 6-2 6-2 6M441 2387l-6-3 6-3 6 0 2 6 6 4 5-4 6 0 6 3-2 6 1 6 6 1 2-6 4-5-6 2M310 2324l-1 6 2 6-2 6-2 6 2 7-3 6 7-1 0 7-6-2 1-6 5-3 0 6 6-2-1-6M536 2604l1 6-1-6-5-5-6 2 4 5-3 6 6 3-3-6-5-3 6-2 7-1-4 5-6 1 3-5M388 2363l7 2 6 1 5 4 5-3-3-5-6-3-4 5-5 4 6 2 6-3-4-5 5 3-3-6-6-1M244 2395l4-5 1 6 5 4 4 5-5 4-7-2-5-4-5-4 3-6-2-6 1-6-5-4 1-7 5-3M526 2426l-5 4 3 6 4 5-4 5-7 0-4 4 1-6 2 6 5-5 5 3-4 5-1-6-7-1 2 6M188 2645l-7 0-6-1 3-6-3-6-3-5-6 0-4-6-5 4 3 6-3 6 4-5 0 7-4 4-3 6M491 2207l-2-6-4-5-6-2-6 0 2-6 5 4 6-3-6 2-5-4 6 0 6-2 6 0 7 1 5 3M238 2281l4-5 4-4 6-4 1-6-4 5-2 6 1 7-2-7 6-2-1 7 2 6-2 6-5-4 0-7M599 2421l4 5 6 3 6 1-6-3 4-5 3-5 2-6 1-7 2-6 6 3 6 0 4-5 6-2 7 0M465 2165l-5 4-3-6 6 1 6 3 3-6 2-6-5-4-6 3-3-6 2-6-3-6-6 2-6 0 0-6M542 2528l6 2 2 6 1 7 2 6-6 2-1 6-4 6-3 5 6 2 6-1 6 1 1 6-4 6-3 5M654 2223l1 7 7-2 6 3 4-5 1-6 6-3 5 4 6 2-2 6-1 7-1 6 0 6-2 7-6-1M270 2382l-5 4 4 5 2 7 5 3 5-5 4-5 2-6 5-3 7 0 6-1 5 4 4 6 4 5 6-1M668 2351l-6 1-7 1-2-6-6 1-5-4 1 6 6 2 4-6 6-1 3-6 3-6 6 1 5-4 6 3M421 2460l-5 3 4 5 6-3 6 1-6-3 2-6 3 5 5-4-4-5 2-6-4-5 1-6-3-6-5-3M463 2561l-4 4 5 4 6-2 6-3 6 1-2 6 3 5-6 3 3 6 0 6 3 6 5 4-4 5-1 6M521 2740l0 6 7-1 6-2 6 1 6 0 6 4 6 2 6 3-5 4-6-1-6 2-4 5-5-3-6-4M158 2501l-5-4-4-5-6-3-2 6 2 6 3 6 6-2 5-3 7 0 4-4 4 5 6-2-1-6 6-2M669 2665l-3 5 1 7-5 4 4 5 3 6-4 5-5 4-6 2-4 4 4-4-2-7-6-1-1-6 0-7M267 2646l4-5 4-5 3-6 4-4 6 0 6-4-1-6 4-5 5-3-3-6 6-2 5-4-1 6-5-3M462 2624l-6-3-1-7 5-4 4 5-3 5 1 7 1 6 6 3 6 3-2-6-7-1 3-6 3-6-2-6M403 2531l-1 6-1 6-5-3-6-3-4-5 5-3 6 3-4-5-4-5-6 4 1 6-6 2 1-6 4-5" fill="none" stroke="#c29a96" stroke-width="1.68" opacity="0.55" stroke-linejoin="round"/>
<path d="M55.5 568.6 L151.4 570 L151.4 670 L55.5 666.6 Z M73.3 551 L169.8 554.4 L169.8 650.9 L73.3 649.5 Z M55.5 568.6 L73.3 551 M151.4 570 L169.8 554.4 M151.4 670 L169.8 650.9 M55.5 666.6 L73.3 649.5" fill="none" stroke="#8e8e8e" stroke-width="0.75"/>
<circle cx="80.5" cy="603.5" r="1.35" fill="#a58c76" stroke="#5e4a3a" stroke-width="0.4"/>
<circle cx="82.5" cy="602" r="1.35" fill="#a58c76" stroke="#5e4a3a" stroke-width="0.4"/>
<circle cx="84.5" cy="601.5" r="1.35" fill="#a58c76" stroke="#5e4a3a" stroke-width="0.4"/>
<circle cx="86.5" cy="602.5" r="1.35" fill="#a58c76" stroke="#5e4a3a" stroke-width="0.4"/>
<circle cx="89" cy="603" r="1.35" fill="#a58c76" stroke="#5e4a3a" stroke-width="0.4"/>
<circle cx="91" cy="602.5" r="1.35" fill="#a58c76" stroke="#5e4a3a" stroke-width="0.4"/>
<circle cx="93" cy="604" r="1.35" fill="#a58c76" stroke="#5e4a3a" stroke-width="0.4"/>
<circle cx="99" cy="605.5" r="1.35" fill="#a58c76" stroke="#5e4a3a" stroke-width="0.4"/>
<circle cx="101" cy="607" r="1.35" fill="#a58c76" stroke="#5e4a3a" stroke-width="0.4"/>
<circle cx="103" cy="608.5" r="1.35" fill="#a58c76" stroke="#5e4a3a" stroke-width="0.4"/>
<circle cx="105" cy="610" r="1.35" fill="#a58c76" stroke="#5e4a3a" stroke-width="0.4"/>
<circle cx="107" cy="611.5" r="1.35" fill="#a58c76" stroke="#5e4a3a" stroke-width="0.4"/>
<defs><linearGradient id="cone" x1="0" y1="0" x2="1" y2="0"><stop offset="0" stop-color="#c9dde9"/><stop offset="0.45" stop-color="#e6eff5"/><stop offset="1" stop-color="#d8e7f1"/></linearGradient><linearGradient id="cone2" x1="0" y1="0" x2="0" y2="1"><stop offset="0" stop-color="#fff" stop-opacity="0"/><stop offset="0.45" stop-color="#fff" stop-opacity="0.75"/><stop offset="0.6" stop-color="#fff" stop-opacity="0.75"/><stop offset="1" stop-color="#fff" stop-opacity="0"/></linearGradient><radialGradient id="bigc" cx="0.5" cy="0.5" r="0.5"><stop offset="0.6" stop-color="#ffffff"/><stop offset="0.88" stop-color="#eff6fa"/><stop offset="1" stop-color="#d6e7f1"/></radialGradient><clipPath id="bigclip"><ellipse cx="307.5" cy="607.8" rx="92.5" ry="90.7"/></clipPath><clipPath id="wclip"><rect x="232" y="548" width="154" height="117"/></clipPath></defs>
<path d="M113 606 Q170 590 236.7 549.6 L246.6 676 Q170 640 113 621 Z" fill="url(#cone)"/><path d="M113 606 Q170 590 236.7 549.6 L246.6 676 Q170 640 113 621 Z" fill="url(#cone2)"/>
<circle cx="100.1" cy="613.6" r="15" fill="#eef5f9" fill-opacity="0.4" stroke="#2c2c2c" stroke-width="1.3"/>
<ellipse cx="307.5" cy="607.8" rx="93" ry="91.2" fill="url(#bigc)"/>
<g clip-path="url(#bigclip)"><g clip-path="url(#wclip)">
<path transform="scale(0.25)" d="M1056 2449l-23-14-3-20-21-13-28 21M1119 2462l2 24-23 14-5 36-38 10M1212 2380l25 25-11 27-32 3M1140 2421l-9-30-31-7-30 21 7 19 29 10M1286 2182l-2-26-20-16-35 9-4 29 24 18 29-7M1105 2667l-18 27-23-5-15 14M1474 2637l28 22 35-10 23 15-6 31M1141 2594l5 22 31 17-2 36 27 9M1482 2351l5 28 28 10 27-25 25 5 24-27M1233 2524l-1 37 30 21-9 29M1307 2211l-18 12-30-7-13 17 7 23 37 6 15-13M1515 2176l-34-9-9-30 15-26 27 0 10 19M1034 2456l-33 4-12 21-22 4-16-28-30 0M957 2183l18 31 26 0 10 27 20 7M1421 2576l-15-24 15-23-7-22M1470 2570l-22-5-12-32-38-13-7-20 23-24 22 5M1504 2225l-18 21-35-15-8-34 23-23 30 7 2 28M1341 2471l-6 24 23 18 31-21 39 10M1208 2374l33-7 15 24 21 1M1095 2289l31 7 13-20 36-3 15 24M1434 2600l24-5 15 15 34-20M1425 2636l-36 16-28-12-6-20-24-4-13-35M1173 2296l-9-31-33-9-4-34M1546 2623l-16 20-38-10-26 22-31-17 3-26M1450 2642l-22-4-24 29-21-9-2-34 26-24M1118 2252l14-14-12-23 22-27M933 2202l-13-35-22-4-9-34M1059 2622l16 24-22 31-22 1-13 25M1303 2373l-28 14-25-22 4-24-16-15-21 7-33-19M1085 2546l12 16-16 30-35 1-13-33 19-21-2-25M967 2528l-12 27-35-6-6-28-34-5M1220 2363l-20-10-4-21-31-3-13-22M1203 2179l-22-4-13-21-34 0M1187 2223l34 0 10 26 22 6 26-17-6-35M975 2301l25 9 7 26 20 7 8 35 26 6 24-31M1192 2488l17-27 29 4 14-27-16-31-22 4M1201 2537l17 29-5 19-22 7-1 38M1172 2362l-20-25 11-19 37-1 22 23-12 25-21 0M1406 2457l-2 38 23 24 25-3 20-26-14-23M1262 2475l-34 15-14-16-21 9-17-11-6-31 14-19M1142 2437l-22 28-28-2-12 34-20 0-20-25-25 0M1265 2286l29-15 27 11 20-12M941 2450l-15 17 9 24-15 26-28-7-3-26M1485 2557l23-27-3-25 23-13 31 12 22-28M1433 2584l-31-9-12 17 10 18M973 2241l-6 23-36 13-17-15-21 6-20-13 4-21M1325 2514l4 24-18 15-21-8-4-34M1261 2550l-28-10-24 12-22-21 8-35-26-24M1174 2509l-18-15 7-22-21-18M1473 2286l-3-22 26-17-4-36 18-12M1089 2650l27-16-6-35 34-16 6-26M957 2497l-26-8-3-36-23-18-36 17M918 2534l22-3 11-32 29-13 26 17 30-8M1414 2425l-28-22 4-28-18-20 10-23M993 2369l20 12-5 23-29 17-19-11-5-35M1235 2527l36 10 15-13 1-30 22-13 6-31M1474 2543l16-30-15-16 12-20-10-25 24-21M1029 2379l-13-29-31 2-16-23 12-25M1000 2447l-32-5-11-34-26-7-19 19 2 28-25 12M1006 2602l25-11 37 15 27-19 33 10 6 34-18 15M1528 2473l-7-20-19-10-5-23-33-4-10-29 15-16M1184 2392l20-16 27 12 12 31 26 5M1282 2411l27-18 19 12 28-22 4-37 25-6M1390 2638l-9-28 18-17 32 5 14 22-9 19M1281 2190l-23 2-16-21-26 3M1484 2390l24-14-1-30-21-5-14-25M1325 2216l5 21 40 5 18-30-15-25-37 4-19 33M1306 2671l18 15-4 39-25 6-28-20 2-25 23-6M1167 2381l-22 5-31-23-22 15-30-7-16 17M1513 2380l26-26 25 3 21-32 28-1 21 23M974 2416l-7-37-23-3-19 21 11 27-17 34M1155 2613l-27-21-20 8-28-14-30 18-2 23M1395 2263l-13 28-37 1-10-28-30-5-7-23-26-11M1440 2516l15 21-12 30 12 16 31-3 12-24 36-2M1556 2422l-21 7-24-19 5-39-24-14-19 16M1367 2528l26 9 18-26-8-21-34-6M1186 2508l25 26-9 33 17 16-12 26-31 7-4 34M1397 2455l-17-16 14-31-13-19 9-30-21-14M1348 2480l17 22 29-10 23 24M1392 2483l-3-29-33-5-15-24 14-22M1074 2602l-6 28 24 25-6 24 26 24 33-8 22 27M1460 2412l-30 23-22-7-14 19-26 2-8 19 18 24M1413 2455l-14-30 20-32 25 2 14-33-24-26M1479 2180l18-21-15-35-20 2M1142 2606l-16 31-20 6-18-22-20 2-19-18 1-23M1086 2640l17-27-9-37-20-4M973 2452l6-29-18-16 0-27M1509 2396l3 38-30 18-24-16-25 19 0 34 26 20M1501 2635l32-8 20 24 22-9M1385 2485l19 30 40 2 10 37 27 7 28-22M1520 2273l1-36 26-22 21 14 1 22M1229 2559l-23-12-24 12 3 27-32 16M1469 2507l-32-9-22 17 12 38 34 14 17-17 40 3M1386 2209l23 24 23-11 12-34 20-1M927 2506l-12-23 13-25-21-24-29 0-18-19-21 7" fill="none" stroke="#a85e56" stroke-width="2" opacity="0.85" stroke-linejoin="round"/>
<path transform="scale(0.25)" d="M1207 2248l16 27-19 20-31-1-16 16-25-10M1295 2466l-13 24-39-6-14 26-30-3-15-25-36-4M1522 2288l24 9 7 21-13 18-25-8M1477 2469l23-9 20 16-1 29-30 15 4 27M1228 2194l16 31 36-5 12-30-17-30 17-21 22 0M923 2216l-1 34 28 26-10 21 20 23 34-2 8 23M1034 2475l-27 11-29-24 3-28M1019 2356l-23 16-31-15-17 17-40 0M1175 2256l19-31-13-34-32-1-21 28 17 30M1304 2258l29 19 6 39 25 17 0 23-17 13 6 26M1205 2467l5-25-27-17 0-26-19-12M1092 2230l-10-39 21-14 3-21M947 2635l-7-19 21-20 22 11M1524 2662l0-33-17-12-20 14 1 26-33 12-3 28M1021 2429l14 27-7 19 29 23M1197 2276l-21-35 8-18-15-18M1226 2263l14-23 27-7 9-38 33-12 20 22-12 18M1223 2466l25 4 5 32-25 26 4 29 35 12 7 20M1024 2663l7-19-17-33 18-23M944 2282l34-5 14-21-17-22 14-27 30-2M1351 2293l11-20-12-19 5-22 28-14 8-29M1277 2439l-36 3-9-18-27 0-16 34M1551 2240l24 0 25-28 38 4 10 33-21 17-23-8M1158 2190l10 33 35 15 7 22 39 0 12-16-12-26M1021 2539l28 0 11-18-14-22-39-7-14 15M1477 2424l16-27-6-20 12-16-13-31 19-31M1460 2406l12-30 22-3 5-23-18-22 14-20M922 2544l36 5 10-19 27 0 12 33 30 2M1341 2263l20 16-11 27 25 20 36-9 6-24 31-8M1557 2217l17 19-15 32-30-4-26 26M1142 2589l11 27-20 19 10 32-19 31M1401 2332l-16 37-22 1-15 32 14 26M1473 2289l18-22 27 11 3 22M1504 2361l-28-27-21 9-31-22 7-29-18-11M1559 2392l20 2 17-31-17-29 9-25M1171 2626l25 0 11 37-20 14-23-17M1023 2253l12 35-18 26 22 28 36-1M1216 2193l1 28 24 18 25-8 9-32-19-24M1273 2572l-20-16-36 8-4 34M1427 2534l7-19-13-26-32-6M1209 2431l-29 9-11 23-21 4-24-19 13-38 27-2M1404 2267l25 15 17-17-10-35 31-22-5-25-23-14M1209 2567l-17 11-35-11-11-24-22 0-14 20M1028 2453l-18-13 12-35 33-1 12 32-18 30M1307 2232l7 35-19 15-27-20-29 21-3 39M1112 2540l-29 15-34-17-26 28 2 21M1185 2538l1 20 27 20 35-10 22 20M1476 2207l-23-15-22 9-5 37M1519 2192l9 22-15 35-26 7-23-17-5-36-24-16M1005 2529l32 17 21-12 18 15-10 29-34 14M1484 2500l23-32-6-26-26-9-6-24-35-18 0-22M1118 2498l-33 3-21-22 3-22 31-10 4-23M1089 2545l34 18 7 23 19 3 8 22M1149 2348l10-28 24-4 12 23 27 3M1412 2324l-22 9-8 27 13 19M983 2573l10 28 21 6 20-19 29 4 12 23 30 8M1400 2203l-33-10-15 16 5 20 29 4 11 18M1217 2466l12 31 37-3 15-33-13-20-28 0M1054 2485l0-23 29-24 28 9 24-15M1289 2325l12-24 39-2 18-27M1043 2551l24-30-7-37-37-9-3-23 23-14M1507 2404l19 14 24-7 5-37-24-27-24 5M1315 2543l34 9 19-18-3-28-22-17 6-29-23-32M967 2449l-24-11-21 10-34-19M1090 2632l-32 11-17-15-30 11M1020 2379l-22 6-20-17 3-20 28-14-1-39-32-18M1004 2250l-29 20 0 32-21 6-21-24M1344 2323l-26 7-8 25-35 17M1289 2217l38-11 28 21 35-17 29 16M1147 2420l-5 35 25 21-4 22-24 17 8 23M1323 2207l-22 6-2 37 23 18M940 2237l31-20 27 8 7 35-14 15 10 30M1115 2578l-20-22-21 2-10-20-33 3M1407 2452l-19 6-21-14 4-37 28-9 1-24M1041 2190l-9 29 19 25 32-12 31 17M1532 2584l33-17 0-28-18-16-1-25 26-14M1051 2221l-20-31-28-5-26 26-32-7M1430 2610l38 9 27-19 0-25 27-19 28 22M1464 2354l17-35-18-20-21 2-18-32-35 1-12 32M1544 2337l14-32 22-7 9-26M1285 2620l-31-24-23 6-1 23 22 10-4 35 25 13M1322 2460l8-34-22-18-23 6M1131 2515l-25 7-18-13-5-33M1466 2596l-4-26-30-13-19 17-19-9-2-39-21-7M1224 2349l22 5 1 23 29 21" fill="none" stroke="#8c8580" stroke-width="2" opacity="0.8" stroke-linejoin="round"/>
</g></g>
<path d="M289 578L295.6 580.4M297.2 590.7L295.2 597.8M290 594.7L295.2 597.8M286 601.9L291.1 604.6M278.8 609L272.7 612.7M278.8 609L280.9 614.8M278.8 609L273.7 606M272.7 612.7L266.6 615.2M272.7 612.7L273.7 606M266.6 615.2L262.5 621.3M262.5 621.3L267.6 624.4M313.6 584.5L318.7 582.5M319.7 600.9L324.8 598.8M330 607L336 604.6M336 604.6L340.1 609M340.1 609L342.2 615.2M340.1 609L343.2 607M342.2 615.2L346.3 618.2M346.3 618.2L353.4 619.3M346.3 618.2L348.3 623.4M353.4 619.3L348.3 623.4M353.4 619.3L356.5 625.4M356.5 625.4L359.6 624.4" stroke="#8d8078" stroke-width="1.3" fill="none"/>
<circle cx="285" cy="572" r="1.5" fill="#f4f4f4" stroke="#9a9a9a" stroke-width="0.4"/>
<circle cx="300" cy="600" r="1.5" fill="#f4f4f4" stroke="#9a9a9a" stroke-width="0.4"/>
<circle cx="262" cy="626" r="1.5" fill="#f4f4f4" stroke="#9a9a9a" stroke-width="0.4"/>
<circle cx="320" cy="578" r="1.5" fill="#f4f4f4" stroke="#9a9a9a" stroke-width="0.4"/>
<circle cx="332" cy="612" r="1.5" fill="#f4f4f4" stroke="#9a9a9a" stroke-width="0.4"/>
<circle cx="362" cy="628" r="1.5" fill="#f4f4f4" stroke="#9a9a9a" stroke-width="0.4"/>
<circle cx="309" cy="606" r="1.5" fill="#f4f4f4" stroke="#9a9a9a" stroke-width="0.4"/>
<circle cx="289" cy="578" r="2.4" fill="#c8b39b" stroke="#6e5a48" stroke-width="0.5"/>
<circle cx="295.6" cy="580.4" r="2.4" fill="#c8b39b" stroke="#6e5a48" stroke-width="0.5"/>
<circle cx="288.6" cy="585.5" r="2.4" fill="#c8b39b" stroke="#6e5a48" stroke-width="0.5"/>
<circle cx="297.2" cy="590.7" r="2.4" fill="#c8b39b" stroke="#6e5a48" stroke-width="0.5"/>
<circle cx="290" cy="594.7" r="2.4" fill="#c8b39b" stroke="#6e5a48" stroke-width="0.5"/>
<circle cx="295.2" cy="597.8" r="2.4" fill="#c8b39b" stroke="#6e5a48" stroke-width="0.5"/>
<circle cx="286" cy="601.9" r="2.4" fill="#c8b39b" stroke="#6e5a48" stroke-width="0.5"/>
<circle cx="291.1" cy="604.6" r="2.4" fill="#c8b39b" stroke="#6e5a48" stroke-width="0.5"/>
<circle cx="278.8" cy="609" r="2.4" fill="#c8b39b" stroke="#6e5a48" stroke-width="0.5"/>
<circle cx="272.7" cy="612.7" r="2.4" fill="#c8b39b" stroke="#6e5a48" stroke-width="0.5"/>
<circle cx="280.9" cy="614.8" r="2.4" fill="#c8b39b" stroke="#6e5a48" stroke-width="0.5"/>
<circle cx="266.6" cy="615.2" r="2.4" fill="#c8b39b" stroke="#6e5a48" stroke-width="0.5"/>
<circle cx="262.5" cy="621.3" r="2.4" fill="#c8b39b" stroke="#6e5a48" stroke-width="0.5"/>
<circle cx="267.6" cy="624.4" r="2.4" fill="#c8b39b" stroke="#6e5a48" stroke-width="0.5"/>
<circle cx="275.8" cy="621.3" r="2.4" fill="#c8b39b" stroke="#6e5a48" stroke-width="0.5"/>
<circle cx="313.6" cy="584.5" r="2.4" fill="#c8b39b" stroke="#6e5a48" stroke-width="0.5"/>
<circle cx="318.7" cy="582.5" r="2.4" fill="#c8b39b" stroke="#6e5a48" stroke-width="0.5"/>
<circle cx="314.6" cy="594.7" r="2.4" fill="#c8b39b" stroke="#6e5a48" stroke-width="0.5"/>
<circle cx="322.8" cy="589.6" r="2.4" fill="#c8b39b" stroke="#6e5a48" stroke-width="0.5"/>
<circle cx="319.7" cy="600.9" r="2.4" fill="#c8b39b" stroke="#6e5a48" stroke-width="0.5"/>
<circle cx="324.8" cy="598.8" r="2.4" fill="#c8b39b" stroke="#6e5a48" stroke-width="0.5"/>
<circle cx="330" cy="607" r="2.4" fill="#c8b39b" stroke="#6e5a48" stroke-width="0.5"/>
<circle cx="336" cy="604.6" r="2.4" fill="#c8b39b" stroke="#6e5a48" stroke-width="0.5"/>
<circle cx="340.1" cy="609" r="2.4" fill="#c8b39b" stroke="#6e5a48" stroke-width="0.5"/>
<circle cx="342.2" cy="615.2" r="2.4" fill="#c8b39b" stroke="#6e5a48" stroke-width="0.5"/>
<circle cx="346.3" cy="618.2" r="2.4" fill="#c8b39b" stroke="#6e5a48" stroke-width="0.5"/>
<circle cx="353.4" cy="619.3" r="2.4" fill="#c8b39b" stroke="#6e5a48" stroke-width="0.5"/>
<circle cx="348.3" cy="623.4" r="2.4" fill="#c8b39b" stroke="#6e5a48" stroke-width="0.5"/>
<circle cx="356.5" cy="625.4" r="2.4" fill="#c8b39b" stroke="#6e5a48" stroke-width="0.5"/>
<circle cx="359.6" cy="624.4" r="2.4" fill="#c8b39b" stroke="#6e5a48" stroke-width="0.5"/>
<circle cx="273.7" cy="606" r="2.2" fill="#e3191b"/>
<circle cx="288" cy="611.5" r="2.2" fill="#e3191b"/>
<circle cx="343.2" cy="607" r="2.2" fill="#e3191b"/>
<circle cx="334" cy="614.8" r="2.2" fill="#e3191b"/>
<path d="M298.5 589.6 L314 589.6" stroke="#6d6d6d" stroke-width="1.6"/><path d="M296.5 589.6 L301.5 586.6 L301.5 592.6Z M316 589.6 L311 586.6 L311 592.6Z" fill="#6d6d6d"/>
<ellipse cx="307.5" cy="607.8" rx="93" ry="91.2" fill="none" stroke="#2e2e2e" stroke-width="1.3"/>
<text x="307.66" y="542.6" font-size="10.47" fill="#333" text-anchor="middle" font-weight="bold">3.53 Å</text>
<text x="255.8" y="683.7" font-size="17.39" fill="#c98a84" text-anchor="start">π-π stacking</text>
<text x="431.3" y="520.2" font-size="17.8" fill="#333" text-anchor="start">(K)</text>
<defs><linearGradient id="bk0" x1="0" y1="0" x2="1" y2="0"><stop offset="0" stop-color="#8fb6cf"/><stop offset="0.06" stop-color="#8fb6cf"/><stop offset="0.44" stop-color="#ffffff"/><stop offset="0.58" stop-color="#ffffff"/><stop offset="0.94" stop-color="#8fb6cf"/><stop offset="1" stop-color="#8fb6cf"/></linearGradient><linearGradient id="bk1" x1="0" y1="0" x2="1" y2="0"><stop offset="0" stop-color="#3c7fa7"/><stop offset="0.06" stop-color="#3c7fa7"/><stop offset="0.44" stop-color="#ffffff"/><stop offset="0.58" stop-color="#ffffff"/><stop offset="0.94" stop-color="#3c7fa7"/><stop offset="1" stop-color="#3c7fa7"/></linearGradient><linearGradient id="bk2" x1="0" y1="0" x2="1" y2="0"><stop offset="0" stop-color="#e4a595"/><stop offset="0.06" stop-color="#e4a595"/><stop offset="0.44" stop-color="#ffffff"/><stop offset="0.58" stop-color="#ffffff"/><stop offset="0.94" stop-color="#e4a595"/><stop offset="1" stop-color="#e4a595"/></linearGradient><linearGradient id="bk3" x1="0" y1="0" x2="1" y2="0"><stop offset="0" stop-color="#c55b45"/><stop offset="0.06" stop-color="#c55b45"/><stop offset="0.44" stop-color="#ffffff"/><stop offset="0.58" stop-color="#ffffff"/><stop offset="0.94" stop-color="#c55b45"/><stop offset="1" stop-color="#c55b45"/></linearGradient><linearGradient id="ark" x1="0" y1="0" x2="1" y2="0"><stop offset="0" stop-color="#7aa7c4"/><stop offset="1" stop-color="#d87c68"/></linearGradient></defs>
<rect x="494" y="569.98" width="21" height="82.52" fill="url(#bk0)"/>
<text x="503.68" y="565.9" font-size="10.8" fill="#9dc2d9" text-anchor="middle">38.45</text>
<rect x="531.5" y="593.66" width="20.9" height="58.84" fill="url(#bk1)"/>
<text x="542.48" y="590" font-size="10.8" fill="#3a7fa8" text-anchor="middle">37.46</text>
<rect x="569.6" y="603.94" width="21.1" height="48.56" fill="url(#bk2)"/>
<text x="580.78" y="601" font-size="10.8" fill="#e8aa9b" text-anchor="middle">37.03</text>
<rect x="607.4" y="613.27" width="20.6" height="39.23" fill="url(#bk3)"/>
<text x="617.58" y="610" font-size="10.8" fill="#c45a43" text-anchor="middle">36.64</text>
<path d="M554.3 542.9 Q576 543 589.5 558.5" stroke="url(#ark)" stroke-width="3.0" fill="none"/>
<path d="M596 568.5 L584.8 563.2 L594.6 555.6 Z" fill="#d98571"/>
<rect x="485.1" y="532.9" width="151.5" height="119.6" fill="none" stroke="#5a5a5a" stroke-width="1.1"/>
<line x1="482.7" y1="652.5" x2="485.1" y2="652.5" stroke="#5a5a5a" stroke-width="0.9"/>
<text x="481.1" y="656.2" font-size="10.5" fill="#3a3a3a" text-anchor="end">35</text>
<line x1="482.7" y1="628.58" x2="485.1" y2="628.58" stroke="#5a5a5a" stroke-width="0.9"/>
<text x="481.1" y="632.28" font-size="10.5" fill="#3a3a3a" text-anchor="end">36</text>
<line x1="482.7" y1="604.66" x2="485.1" y2="604.66" stroke="#5a5a5a" stroke-width="0.9"/>
<text x="481.1" y="608.36" font-size="10.5" fill="#3a3a3a" text-anchor="end">37</text>
<line x1="482.7" y1="580.74" x2="485.1" y2="580.74" stroke="#5a5a5a" stroke-width="0.9"/>
<text x="481.1" y="584.44" font-size="10.5" fill="#3a3a3a" text-anchor="end">38</text>
<line x1="482.7" y1="556.82" x2="485.1" y2="556.82" stroke="#5a5a5a" stroke-width="0.9"/>
<text x="481.1" y="560.52" font-size="10.5" fill="#3a3a3a" text-anchor="end">39</text>
<line x1="482.7" y1="532.9" x2="485.1" y2="532.9" stroke="#5a5a5a" stroke-width="0.9"/>
<text x="481.1" y="536.6" font-size="10.5" fill="#3a3a3a" text-anchor="end">40</text>
<line x1="483.6" y1="640.54" x2="485.1" y2="640.54" stroke="#5a5a5a" stroke-width="0.8"/>
<line x1="483.6" y1="616.62" x2="485.1" y2="616.62" stroke="#5a5a5a" stroke-width="0.8"/>
<line x1="483.6" y1="592.7" x2="485.1" y2="592.7" stroke="#5a5a5a" stroke-width="0.8"/>
<line x1="483.6" y1="568.78" x2="485.1" y2="568.78" stroke="#5a5a5a" stroke-width="0.8"/>
<line x1="483.6" y1="544.86" x2="485.1" y2="544.86" stroke="#5a5a5a" stroke-width="0.8"/>
<line x1="504.5" y1="652.5" x2="504.5" y2="654.7" stroke="#5a5a5a" stroke-width="0.9"/>
<line x1="542" y1="652.5" x2="542" y2="654.7" stroke="#5a5a5a" stroke-width="0.9"/>
<line x1="579.4" y1="652.5" x2="579.4" y2="654.7" stroke="#5a5a5a" stroke-width="0.9"/>
<line x1="617.4" y1="652.5" x2="617.4" y2="654.7" stroke="#5a5a5a" stroke-width="0.9"/>
<text transform="translate(511.8 661.7) rotate(-45)" font-size="11.2" fill="#9dc2d9" text-anchor="end">PAOM-1</text>
<text transform="translate(549.3 661.7) rotate(-45)" font-size="11.2" fill="#3a7fa8" text-anchor="end">PAOM-2</text>
<text transform="translate(586.7 661.7) rotate(-45)" font-size="11.2" fill="#e8aa9b" text-anchor="end">PAOM-3</text>
<text transform="translate(624.7 661.7) rotate(-45)" font-size="11.2" fill="#c45a43" text-anchor="end">PAOM-4</text>
<text transform="translate(454.8 601) rotate(-90)" font-size="13.7" fill="#3a3a3a" text-anchor="middle"><tspan>F</tspan><tspan font-size="9" dy="3.5">V</tspan><tspan dy="-3.5"> (%)</tspan></text>
<rect x="6.4" y="707" width="629" height="152.6" rx="23" ry="23" fill="none" stroke="#3a3a3a" stroke-width="1.4"/>
<rect x="5" y="693" width="23" height="14" fill="#fff"/>
<text x="6.1" y="705.5" font-size="17.8" fill="#333" text-anchor="start">(L)</text>
<defs><path id="cl0" transform="scale(0.25)" d="M212 3038l-4 0 5-1 5 0 1-2-4 0 0-2 5 8 3 9 6 0-3-3 6 5 5 7-2-3-3-3-5 5-2 9 3 8 6 2 3 7 4 6 5 1 4 4-2 7 4-3 3-4M208 3102l0-5-1-5-3-4-3 5-1 7 6 3 2-6 4-4-5-2 4-4 7 1-5-1-4-2-3 6-3 5-3 5 7-2 5-3 4-5 6 3 2-5 5-1-2-5-4-2-5 4M257 3144l3-6 4 2-2 4 2 3 3 2-7 1-4 4-6 2-4 3-7-3-6 1-5 2-5 0-6 0 0 3-5-1 4 3 5-6-4-6 4-8 0-7-5-3-1 5-4 3 5 3M203 3146l1 5 1 4 5 2 5 2-5 1-1 3 7-1-4-7-4-5-5-2-5-4-4 0-2 3 4 4 7 1 6 1 7-1 6 0-5-1-5-5 2 5-4-6-2-7-5-1-1-7M228 3078l5 5 4 6-5 6-2 6-5 5 3-6-6 0-5-3-5 0-1 6 6 3 7 2 3 6 6 1 6 2 0 5-1 6-6 0-6-4-2-6 5 3 1 6-1 5-5 2 2 5M221 3156l5 3 4 2 2-8 0 4-6-2 0 4-6-5-5-4 4 3 6 0 6-3-2 3 4 3 5 0 6-2 4-5-2-7 0-8 5 0 2 3 5-3-4-7-3-6-6-3-6 3M194 3221l-1 0-4-7 5-10 0 1 4 1 6-2 2 2 2 1 4 0 5 0-5-7 6-2 6-7-1-10-2 2 5 0 6-5 6-4 5 0-4 3-5 0 1 2-3 2-5 1 2-9M228 3037l-4-1-6 3 6 6 6 0 5 1 2 9 5 2 4 6-2 9 3 6 4 5-7 2 3-3 5 4 2 6-6 5-4 5-4 6 3 5 3 4 3 5-1-7-3-6 5 0-2 6M224 3177l-4 1-5-7 6-1 2-8 6-2 6-3-1-8-4-7-6-2-2-7 1-7 0-7-5-3-5-2 4-5 6-2 6 3 5 2 0-6-5-3 0-6 0-5-5-2 2 7 1 7M221 3092l-5-2-2-4 4-3 6 4-4 6-5-1-5 2-5 2-4-2-5 1-3-3 7-3-1-5-1 7-3-2-4-2 2-4-4 3 4-4 8 1 7 1 6-3 6-2 4-2 3-4M206 3183l6-7 6-7-5 1-5-3-4 0-3 1-4 1 5 3-3 1 3 3 8-3 3-9 4-7 7-2 4-6-6-4 2-7-6-3 3-7 2-6-4-6-5 0-4-4 3-5 0-6M247 3229l5-6 0-11-7-4-4 1 3 0 3-9 5-5-6-1 4 0-7-7 1-9 4-7 5-3-6 1-7-3-7-5 0 4 0 3 5 1 4-6 0-9 0-8-3-7 3-5-6-4M225 3216l6-3-3 0-5-7 4-10 6-3-2-10-3-8-6-6 1 3 5 1 3-8-6-2-6-3-5-3-3 3 4 2 7-1 6-5 3-7 3-7-1-8 3-6 5-3 5 0 3-5M216 3136l-6-1 7-3-3 4-5 1-5-2 4-6 7-2 6 0 6 1-1-7 5-4 1-6 4-4 5-2 6 0 1 6 4 3 5 0 1-6-3-6 4 4 4 1-3 6-7 2-6-5M244 3055l-7 2-4 7-4 7 1 8-1 8 6 2-5 5-3 6 6 0-4 5-5-3-2-5 3-5 0-5-3-4 4-3 6 3-1 8-2 6 2 7 3 5-6 4 0-6-4-5-5-1M253 3153l-2 3 1 4 4 0 3 2-2-9 5-1 3 2 0 3 4-5 3-4-1 4 2-7 3-4 3 2 3-3 2 2 2 1-5 3-8 1-9-1 4-4 2 2-7 2 2 3 4-2M245 3163l1 3 5-5 5-3-2-8 1-8-3-7-7-3-6-4 5-2 0-6-6-5 4-5-1-5 3 5 1 6 0 6-3 5-3-7 3-5 5-2 5 0-4-5-7 2 1-6 5 0M238 3148l6-1 1-8 4-4-1-7-3-7 1-6-2-6 4-4 5-1 4 2-5 5 5 1-5-5 1-5 5 1-8 2-5-4 2-5-6-4 1-4 5-2-3-4-7 2-6 2-6 0M169 3116l-1-5 2-6 5-5-3-2 0-5-2-3-2 4-2 3 4-5-3 2 8 5 2-6 5 6 7 5 7 4 7-3 0-6 1 7-1 6-2 5 6-4-1-5-5 0-5 0-4-3M251 3188l-6-8-5 1 0 3-7-4-6-6-5-6 4 2-1-9 5-7 6-3 4-6 1-7-6 1-6-1-1-7 5 2 4 3 6 1 1-7 5 2-7 1-4 4-5 2-6 2-1 4M178 3092l-2-3-3 4 1-5 8 0 8 5 7 4 7 2 6-3 5-3 3-5 0-5 1-4 1-5 5 6 2-4 3-3-1-4-6 4 6-1 5 5 3-3-3-4 1-4-6 1-6 1M226 3156l-6-3 0-8-1-7 0-8-2-6 4-5-5-4-3-4 5-4 4-5-1 6 5 5 3 5 6 1 4-3-3-6-7-1-6-1-3 6-5-2 5-4-6-1 0-6 0-5 3-5M277 3179l0 2-4-9 2-7-4-9-2-8-2-8 4-2-7 1-5-6 4-3 2-5 5-1 1 4 1-6-4 6 2 3 1-6-1 6-4-7-8-2-6 4 4 2 3 3-4-6-8-2M268 3149l-2-8 3-5 1-6-8 0-7-4-4 5-4 4-2-7 2-6 2-5 3-5 5 0-1 6 4-2 5-2-6 5-7-1-5 4 1 5-2-6-6-3 5-3 4-4-2-5-7-3M226 3106l6-1 4 5-6 1-3 6 1 5-6 1 4 4 6 0 6-3 5-2 4-4-2-6 0-6-7 0 4 5-3-6 3-4-7 2-6-2-2-5 5-3 3-4-1-5-1-5-4-2M335 3132l-2 6-5 4-3 5-5 4-4-5-4 4 3 6 6-1 6 0 6 3 5 3 6-2 3-6 6 3-2 6-3 6 6 2 2 6 0 6-2 6-4-5 3-6-4-4-6 2-1-6 0-6 6-3 6-3-1-6 1-6 5 4 1 7 7-1 6-3 3-5 6-4 4 5-6-2-5-4-6-2M437 2997l-4 5-5 4 3 5-2 6 0 7 5 2 3 6 5 4-6 1-6-4-4-5-6 0-6 2-4-4-7 0-2-6-1 6-3 6-6 0-5-4-5-4 3-5-3-6-7 1-6-1 1-6 5-4 4-5 6-2 6 1 3 6-5-4-6 3 5 4 6 2 2-6-4-5-1 6-2 6-2 6M491 3032l3 6-7-1 2 6-7 0-5-3-1-7 5-4 5 3 7 1-7 1 0 6-3 6-5 4-3 6-6 1 5 4 5-4 5 4-2 6-6-3-6 3-2-6 4-5 4-5 2-6 5-4 5 4-3 6 3-6 1-6 6-2-5-4 3-6-5-5-6-2-2 6 3 6 0 6-5-3 1-6M479 3021l6 2 6 4-2 6-3 5 1 6 3-5 2-6-6 2-6 2-7 0 1 6 1 7 4 5-6-2-4-5 0 7-3 5-5 4-4 5-1 6-5 4-6 0-6-4-4 5-3 6 7-1-4-5-6-1-2 6 3 6-3-6 1-6-6-2 5 3 5-4-6-3 6 4 1 6 5 4 3 5M281 3143l6 2 7-1 0-7-2-6 6-3 3-6-7-1 1 7 6 0 7-1 6 2 4 5-4 5-1 6-6 2-7 0-4-4 1 6-7 2 5 4 5-4 6 2 6-2-2 6-4 6 5 4 4 5 6 2-5 5-1-6 4-5 0-7 2-6 6 0 3-6-3-5 3-6 6 0 6-3 5-4M364 3134l-6 1 1 6 6 2-5 4-7-2 0 7-4-5 6-3-2-6 3 5-3 5 0 6 2 6 6 4-4 5-3-5 2-6 2-6 4-6 6 0-4-6 6-3 3-6 5-3 6-3 5 4-3 5 1-6-1-6-6-1-6-3-6 3-4-5-7 2-6 1-3-6 5-4 6-2 1 6-7 0M491 3182l2 6-6 3-6 3-6 0-6-3 5-5 5 3 7-1 2-6 7 0-5-5-2-6 1-6 6 0-4 5-3-6-5-4 0-6-5-5-3-5-2-6-6-1 6-1 2 6-1 7-2 6 3 5 4 5 2 6 0 6-6 1-6-1-4 6-7 0-4 5-5 3 6 2 6 0 5 4 6-1M435 3050l-7-1-6 2-6 3-5 3 6 0-2-6 2-6 0-6 6 1 6 1 7 0 1 6-1 7-5-5-5 4-6 0-4-5 0-6 7 0 1 7 0 6 4 5-4 5-4 5-6-3 5-5 5-3 0-6-2-6 5-5 4-5 5 4 4 5 3 6 5 2 6 3-2 6 0 6 1 6 6 3M461 3023l-6 3-1-6-2-6 5-4-6 0-3-6 0-6-6-1 3 6 6 2 4 5 2 6-1 6-5 3-6-3-2 6 0 6 4 6-5 4-1 6-6 0-7-1 7 1 6 1 6 2 7 1 5 3-5-3-7 0-2 6-2 6-6 2 0 7-6 3-5-4-6-3-6-1-5 5-3 6 3 5M461 3100l4 6 1-7-3-5 0-7 2-5 4-6 6 2 6 2 7-1-3 6 6-3-2-6-6-2-6 3 0 7 1 6 6 3 6 2 2 6 2 7 1 6-6 2 1 6 3 5-4 5-6 3-3-6 4-5 5 5 6-3-2 7-6 1 5-4-6 0-6-2-7-1-5-3 0 6 3 6 2 6M494 3167l1-7-3-5 3-6-1-6-1-6 2-6-6 0-5 3 2 6-7 0-6-2-1-6 6-4 5 3 7 0-7 0 3 6 0 6 4 5 4 5-6-1-3-5-3-6-5 3-6-2 4-4-1-7 1-6-2-6-3-5-6-4 0 7 3 5 3-5 5 4-3 6-4 5-5 3-6 3-6 2M472 3122l-3-5-6 2-3 6-5 4-2 7-2-6-4-6-5-3-3-6 5-4-1 7-6 1-4 5-3 6-6-2-5-3 0-6 0-7 5 3-4 5-5-4-4-5-3 6 6 2 5 4 0 6-3-5-6-3 3-6 6 1 6-3 6 2 6 3 6 1-1 6-6 0-5 4 1 6 6-1-3-6M362 3072l5 5 7-1 6-1 3 5 1 7 0 6 5-3-4-5-6-2-6 2-6 3-3 6-1 6-2 6-5 3-6 3-3 6-2 6-6 1-6 2 0 7 6 2 5 4 0 7-6 0-6 2-1-6-4-5-5-5-6 0-5-4 4-6 3-5 0-7-6 3-7 1-5 3-5 5 0 6 6 3M352 3131l-6-2-4-5-5-4-6-3-2 6-7 0-4-4 5-3 2-7 3-5-4-5-2-6-3-6 2-6 2-6 6-3 3-6 6-1 5-4 2-6 4-6 5-3-4-5-3 6-5 4-4 5 6-2-4-4-7 0-6-2-5-4 2-6 6 2-6-1 0 7 1 6-6 2 1 6 6-3 6-1M274 3197l-4 4-4 5 0 7-3 5-4 5-1-6-2-6 0-7 1-6 7 0 1-6 4-5-1-6-6 2-2-6 2-6 5 4 4 5-1 6-3 6-6 2-4 5-1-6 6-2-2 6-1 6-7 2 7 0 5 4-6 3-6 2-1 6 3 6-2-6 2 6 5-3 4 5 2-6 1-7 6-2M356 3118l-4-5 5-4 4-5 6-3 5 4 1 6 1 6-6 0 1 7-1 6 3 6 5 4 4 5 3 5-3-6 3-5 5-4 0 6-6 2 5 3 5 5-2 6 3 6 0 6 3 6 0 6 6-3-6-1-6 2-7 0 1-6-1-6-5-3 1-7 2-6 3 6 3 5 1-6-5-4-6 3M372 3104l7 1 5-3 7 1 5 3 4 5 2 6 3-6-7 1-2 6-4 5 6 3 7-1 6 2-6 2-7-1-5 4-4-5-3-5-5-5 4-5-3-5-2-7-1-6 6-3-3-6-5 3-4 6-1 6-2 6 1 6-2 6-6 2-7 0-1 7-6-1 2 6 3 5-3 6 1 6-6 1M301 3163l5-4 0-7 4-5 5-3 7-2 6-1 6-2-6-1-5-4-3-6 5 3 0 7 1 6-6 3-6-2-6-2-7 1 4 6 2 6-6-1 4 5 6-3 5 4 5 4 1 7 3-6-2-6 3-6 6-3 6 0 2-6 6-4-4-5-6 1 1 6-6-1-6 3-6 2 6-1 1 7M350 3170l3-6-4-4 6 0 5-3-5 3-4-4-1-6 4-5 0-7-2-6 6-3-1-7-3 6-6 0-5 4-4-5-6-1-6 2-5 5 5-4 4 5 6 0 7-2-1 7-1 6-6 1-7-1-2-6 0-6 6-1 6-3 6 1 4-5 5 5-3-6-2-6 0-6 4-6 3-5 5 4M465 3034l6 1 4-6 2-6 2-6 6 1 6-3-6-4-5-4-5 3-4 5 5-3 6-3-3-6 1 6-6 2-5 4 0 6 0-6 6 2-2-6-5-4 3-6 6-1 0 7-5-4 7-1 0-6-5 4 5 4 1 6-6 2-6 1-4 5-3 5-7 2 3 6 3-5 3-6 5 3 6 3M490 3039l-3-6-3 6-2 6 3 5 4 5 6-2-6 4-4 4-1 6-4 5-3 6 1 6 5 4 0 6 7 2-7 0-6 2-6 0-6 2 5-4-7-1-4-5-4-4 3-5-6-1 0-6-6 2-6-3-3-6-2-6-6-1-4 5-4 5 2 6 1-6-5 4-6-2-1-7 3-5 2-6M408 3080l0 6 5 3 4-5 4-5-4-5-4-4 4-5 2-6 7 0-3 6 6-3-4-4-1-7-6-3-3-5 3-6-1-6 5-5 0 7-6 2 0 7 1 6 5 4-6 3-5 4 0 6 0 6-4 5-1 7-3 6-2 6-6 1-3-5-2-7-4-4-2-6-6-1 0-7 3-5 5-5M490 3188l-5-4-3-6 2-6-5 4-1 7-5 3-6-2-6-4-3-5-6 0-5-4-4 5 0-6 6-3 0-7-3 6-5 4-6 1-2 6-4-5-1-7-3-5-5 5-4 5-3 5-7 1-1-6 0-7 4-5 3 6-2 6-1 6-6 3-2 6-6 3-6 1 0 7-5 4-6 3-5-4M425 3136l6 1 6 1 6 2 6 3 0 6 5 5 5-4 4-5-1 6 2 6 7 0 3-5 4-5 5 4 6 0 6 1-5 3-7-1-6-2 2-7 6-2 3-6-3 6 6 2 1-6-6 1-6-2-7 1-6-1-2-6-5-4-7 0-1 7 5 4 6-3 3 6 0 7-5 4 0 7-7 0M369 3036l6-1 1-6 5-4 0-7-6-2-6-3-3 6-3 6 0-7-4-5 4-5-5-5-3-5-6 4-4 4-6-1 6-1 6-1 1 6-2 6-6 1-5 5 1 6 2 6 7 2 6 1 3-5 3-6 4-5 0 7-5-4-1-7-5-4 0-6 5-3 5-5-1 6 5-3 6-3-3 6M447 3125l4-5 7 2-5-5-5-4-2-6-3-5 6-3 4-5 6 2-6 3-4 4-5 4-4 6-6 0 6 2 0-6-1-6 5-4 7 2 4-5 2 6 0 7 4 4 1 6-7 0-6-1 2 6 5 4 4 5-3 5 4 5 2 6 6-1 6 0-1-7-4-5-3 6 4 5 3-6-6 3M461 3019l4-5 3 5 5 4 1 7-6 1-7-1 4-5 2-6 2-6 4-5-5-5-5 4-6-3 1 6-6 1-7-2 3-6 6-1 5 5-7 0-6 0-6 1-1-7-5-4 4 5-1 6 1 6 6-1-6-2 7-2-4-6-6 3-4-4-1-6 1 6 0 6 3 6 7 0 3-5 7-1M263 3139l5-3 7 2 6 1-6 1 0-7 3-5 3-6 5-5 5-3 6-1 7 0 6 1 4 5 0 7 0-7 2-6-2-6-5-3-3-6-1-7 2-6 0-6 0-7 6-3 1 6-2 7-2 6 6 2 4-5 4-4 3-6 4-5-5-5-5-3 1 6 6-1 3-6 6-2 4-5-4-5M378 3084l-6 0-6-2-7-1-3-6-6 0 1 6-5 4-1 6-3 6-6 2-3-5 6 2 3-5 5 3 0-6 3-6 1-6-6-3-6-2 2 6-1 6-7-1 1 6 5 4-3 5-5 4-4 5-4-5-2 6 1 6 0 7 2 6-4 5 7 0 6 0 4-5 5 4-3 6 4 5 6-3M252 3098l2-6-2-6 5 2 6 4 6-1 0-7-4-4 4-5 6-2-1 7-6-2-4-5-6 0-6 1 6 1-3-6-1-6 7-1 6-2 4-5 6-1-6-1-1 7 0 6-3-6-6 1-6 2 5 4 4 5 3-6 4-5 6 0-6-1-6 0-5 4-6 3 5-5 6-2-1 6 0 7M282 3013l-6 0 3-6-1-6-4-5 7 0 6-1 5 4-5 2-7 1-3-6-6 3 6 3 5 4-6 3-3 6-5 3-6-2-4-4-4-6 2-5 4-5 0 6-6 1 4-5 6-2 5 4-6-3-4 5-5 4 6-1-6 3 7 0 5-4 3-5 6-4 5 4 1 6 3 5 0 7-5 4M388 3107l5 4 6 0 6 3 5-4 6 1 6 2 3 6 2 6 6 2 2-6 3-5-1-6-5 2-3 6-7 0 1-6 6-2 1 6 2 6 3 6 6-1 4-5 2 6-2 6-6 2 6 0-6 3-1 6-6 0-4 5-6-3 2 6 6 2 4-5-2 6 6-2 3 6-6 2-7 1-3-6M308 3000l-6 3-5-4-5 4-6 2-6-2-3 6 5 5 6 1 1-7 6-3 6-1-6-1-7 1-6-1 0 6 2 7-2 6 6-2 5-4-5 3-6-3-6 2 4 5 1-6-6 2-1-6-6-3-6 2-5 5 6 2 1 7-1-6 5-4 0-7 0-6 3-6 6 0 0 7-5 4-4 5M315 3123l-1 6-6-2-1-6-3 5-2 6-6-1-4 6 7-1-7 0 6-3-1-6 0-7-6-1-5-4 6-2-4-5-4-5-6 1 6 3 5-4 5-4 3 5-5 3-6 3 6 3 1 6 2 7 2 6 6-2 6-3-4 6-3-6 6-3 5 3 7-1 6 0 7 0 5 4 6 1 4-5M300 3206l3 5-3 6-6 3-5-4-1-6-6-1 0 6 1 7-6-4-5 3 1 7-2-6-5 4 0-6-3-6-6 0-5 4 5-4 6-3 6-1-5-4 2-6 3-6 4-5 6 1 5 4 6 4 2 5 6 2 4-5-6-3 1-6-5-5-3-5 5-4-1 6 2 6 0 7-1 6 7 0M415 3196l5 4-2 7-3-6 6-2 6 0 0-7 6 2 2 6-2 6-6 1-2 6-4 5-3 6 6 1 1-6 0-7-1 6-6 3-5-4-6-4-4-5 0 6-2 6-7 2-5-3 0-6 0-6 3 5 0 6-6 3-4-5-6 1 0 6-5 4 3-6-1-6 6-3-2-6-6 1 1 6M481 3021l-5 4-5-3 3 6-4-6-5 3-4-4 4-5-6 2 6 3 1 6-1 7-5 5-6 0-1 6-3 6 1 6-7 0-5 3 6 1-2 6-3-5 4-5 2-6-6-3 2-7-3-5 1-7 6-2 5-4-6 1-6-3-4 5 6 1 7 1 6 1 7 0 4 5-1-7 3-5 3 6M437 3111l-6-2-7 1-2 6 6-2 0 6-6-1-6-1 6-2 4-4 7 0-1-6-6-1-6-1-5-4-1-6-6-2-6 3-5 4-3 5-1 7-6 2-3-6-2 6-6-3-5-4-3-5 0-6 6-3 5 3 0-7 6-2-2-6 1-7 2-6-6 1-7 0-6 3-1 6-2-6 0-7M288 3164l-5-4 3 6-3 6-6-1 6-3-2-6 5-3 2 6-4 5-5 5 7 0 6 3 5-2-5-3-2-7-3-5-5-5 7 2 5-3-6 0 6 1 5 5 5 3 6-3-6 1-2 6 6 2 6 2 4-5-4-6-4-5-6 1-6-2 3-6-6-2 2-6 3-5-5-4-6-2-6 2M258 3037l-5-3 5 3 6-2-6-4-6 2 4 5 6 2 6 3 5 3 2 7 3 5-6 3-6-2 4-6 2-6 6 3 6 3-1-6-2-7-3-5-4 5 4 5 6 0-6 1-6-2 5-3 5 4-3 6-6 0 3 6-6 2 1 6-3 6-1 7-5-5 4-5 1 7-4 5-4 5-6 0M279 3102l4-4-1-6-2-7 4-5 6-1 6-2 6-1-1 6-3-6 5-3 1 7-7 0 5-5-5-4-6-1-6-2-4-5 6-3-7-2-6-2-4-5-6 1-7 2-3-6 1-6-1-7 1-6 1-6 6-2 6-3 4 5 6 1 6 1 2-6 0-6 6-3-1-7-4-5-3 6 0 6M394 3153l3-6 3 6 3 6 6 0-2-6 3-6 6 1 6 2 4 5-2 7 2 6 5-3-4-5-7 2-1 6 6-2 5-5-4-5 2-6 1-6 6-2-2-6-6 1 4 5 2 6 4-5 5-4 3-6 4-4 4-5 6 2 5 3 5-4-6 0-5-3 1-6 3-6-3-5-6-3-6 0M329 3112l6 3 6-2-4 6 5 5 6-1-5 3-7 1 4-5-3 5-5-4-5-4-4-5-1-6 3 5 7 0 5 4 1-7-5-4 5 4 0 7-6 1-2 6-5 3 1 7 6-1 0 7 4 4 7 1 3 5 6 0 0-6 2-6 4-5 3 6 6-2 5 3-1 7 4 5 4 5 4 5M486 3078l4-5-4-6 3-5-1-7-4-4-4 5 6 3 2-6-7 0 1-7-6-3 6 4 4-5 6 0 0-7 0-6-6-2 3 6 6 2-3-6-1-6 3-6-3-5 2 6-7-1 2-6 4-5-4 5-6 2 6-1 6-3-5 4-5 4 5 4 6-1-6 1-1-6-6-3-5-4-5 5M272 3152l-4 5-1 6 0 6-4 5-2 6 1 7 5 4 0 7 4 5-2 6 5-4-2-7-5-3-2-7-6 1-4 4 5 4 6 2 5-4 2-7-5-3-1-6 2-6 6-2-5 4-4-6 0-6-2-6 3 5 2 6 4 6-6 3-6 0-6 2 6-1-5 4 6 4 3 6 6 0 6-3M386 3114l-1 6 2 7-6-2-6 2-2 6 4 5 4-5 6 0 7 1-3 6 3 5-4 5-4-5-5-4-5-4 5 4-6-1-7 0-3-5-6-3-4-5-6 4-5-4-5-4-6-2-3-5-2 6-3 5-1 7-6-3 0-6-2-6-4-6-1 7 6 3-7 0-2-5 3-6-6 2-4-5M357 3112l-3-6 3-6-3-6 2-6-5-4-1-6 3-6-3-5-7 2-2 5 1 7 6 3-6 1-6-2-7 1-5 3 0 7-1 6-2 6 5 5 6-1 5-3-3-6-2-6-6 0-5-4-6-2-4-5-6-1 4 5 4-5 2-7 4-4 7-2 5 3 2 6-1 6-5 5-3 5-6 2M254 3175l6-1-2-5-6-4 7-1 6 2 6 2-6 4 6 3-6 1 1 7 6 2 3 6 1 6 2 6 1 7-3 5-6 0-5-4-4 5 2 6-7 0 6-4 5 4-3 6-6-4 7 1 5-3 4-5-2-6 7 1 5-2 7 1 0-6-6 1-3-5 3-6 6 0 6 2 6 0 6-2M295 3091l8-2-2-4-3-3-3 5 7 5 6 5 7-1 0-5 7 2-4 3-4 2 3-5 0-5-1-5 8 0 7 4 1 6-3-4 0-5-3-3-4-3 1 7 6 4 2 7-3 5-5-1 1-6 7 0 7 3 7 1M330 3087l7-1 6-1-5 3 4 6 7 0 5 5-3 5-5 3-4 3-2 6-4-2-1-6-4-3-5-2-1-5 5-4 3-5 5 5-4 4-1 6 0 6 6 3 6-4 6-2 0 6-5-4-2-5-5-2-5 2-4-2M341 3159l6-3 5-6-3 5-4-5-4-5-4 1-5-4 2-7-5-2-4-3 7 1 6 2 7 1 3 4-4-4-5-1-5 1-4 3-4 1 0-6 4-6-2 4-5 1-4-4 1-6 5-6 4-5 7-2 3-5-5 1M352 3051l6 0-2 7 6 3 2-4 5-2-6 1-5 4 6 2 5 5-1-5-1-4-3 7-5 3-2-4 0-5-6 1-4-3 5-3 6 3-2 7 0-5 3-4 0-4-4-2-4-3-5-1-5 3-5 0 7 2 4-3M337 3092l2-6 1-5 5-3-5 0-3-4-3-3-1 7-5 0 0-4 2-5 5-3-2-4 6-2 4-4 6 0 6 5 3 7 6 3 5 4 4 6-5 5 1 6-6 3-6-2-5-2 7 1 3 6 5 2 5 5 5-1M290 3082l-1 6-3 1 8-1 8-1 3-6 2-5 3-4 4-5 6-2 1-5 7 4 7 1 0 8 0 7-4 5 5 6-5 4-5 1-3 4-5 1-3-3 2 7 6 3 5-5 7 2 7 3 6-2 2-6 1-5 0 6M357 3208l6-5-2-8 2-8-4-7 6 0 6-2 5-6-4-6 2-8 6 1 5 1-5 3-4-6-1-8 0-7-5-5-3-6-5-4 6-3 5 3 5 2 6-1 5 2-4 5-5 4-4-5-7-2-5-3-1-6 2-7M396 3176l-4 3-1 4-5 2-2 4 0 3-4 2-4-7-4-8-2-7 6-2 3-7 5 1 2-7-6 1-6-1-6 0-4 3 4-7 5-3 4-5-4-5-5-5-4 4 2 5 6 0-2 5 0 5-6-4-4 3 3 3M491 3031l-6-3 1-2-5-4 2 5-9 2-4-3 1-2-2-4 3 2-9 4-7 8 2 6-9 1-8 2-5-4-2-3 0-4-1-3-1-4-7 6-4 8 3 7-7 5-5 7-6 5 5 3 4 4-7 4-7 1-3-4M353 3080l-4-4-5 4-4 4-3 5-4-3 3-5-5 2-4-3-2 6-3 4-4-1-5 2-2 6-4-1-4 1 2 6-2-4 6-5 7 0 7 4-1 5-3 5-4-2-2-5-4-1 3-5 6-5-1-5-2-3 6 5M262 3029l2-3 9 2 8 6-4 2-2 6 2 8 8 4 7 6 8 2 4-4 1-4 1-5-4 3-4 3-4 3 6-3 7-2-2-3-1-3 2-4-4 3 3-3 8 0 7-1 2-4 1-3 7 3-4 5-1 8-2-4M366 3114l-6 0-6 1-2 5-2 5 5 3 1 6 5 3 2 5 3 4 1-7 6 2 4 3 4 3 6 0-6 1-5 3-5-5-4-6-4 4-5-1 2 4 0 5-4 3-5 1 0 5-5-4 6-3 1-7-2-6 6 0M339 3171l-2 3-4 2-5-1 4 3 7-4 6 0-2 3-5 0-5-3-3-6-3 3-4 1-2-7 2-7-5-2 0 4-4-3 2 4 7-1-2 3 5 4 7-2 5 3-1 4 0 4 7-4 3-7 5-6-2-6-5 0M453 3145l-7 3 0 4-3 5-8-3-4-7-8 1 4 2 3-4 4 0 4-1 4 1-2-7 4-2-1-7 4 2 3 1-7 3-5 5 2 3 4-2 2-4 2 4-6 4-6-6-5-6-2 6 3 2 3-4-2-7-5 5M422 3053l4 2-2-4 4 1 2-3 3-1-7 5 1 7-7 5-5 6 3 5 5 2 3 4 3 5-1-5 4-1-1-5 1-4 3-3-2-4 3-3-3-4-8 1 0 7 0-4-6-3 2 6 4 4 4-2-4 7 4 3M445 3134l3-5-5-6-6-4-7-5-2-6-6-4 4-1-5 6 0-6 1-5-1-6-7-1 4-1-7-2-7 0-4-5 0-5 4-3 2-4 4 3 2 6-6 5-6 4 0 7 3-3 0 6 4 4 3-4-6 4-7 0M274 3116l6-5 1-5 2 6-3 2-3-1-2 5-1 4 4-6 4-6-1-5-1-4 2-5 6-5 7-3 8 0 1-5 6-4 7 5 2 6 2 7 4 6 1 6 1 6 6-3 5-5 4 5 6 3 7-2 5 4 5 4M321 3124l8-1 7 2 7 0-1 5-4 3-5-1-5-1 2 5 6-4 6-4-2-5 4-6 6 3-4 3-5 2 5-5 4 5 0 6-5 2-2 4-3-5 5-5 6 0-4 3-5 0-5 0-4 3 1 6 0 5 6-5M294 3166l-3-3-3 3 1 4-1 3-3-3-3-5 2-7-2-5-2-6-3 0-3 1-2-4 1-7 1 5 9 1-3-1 8 1 8 1 4-7 2-7-2-5-1-5-3 3-2-5 6 5-3-4-3 3 8 2 7 4-4 2M464 3194l-6-7 2-6-2-8-7-5-7-6-6 3-4 4 2 2 2 3-6 3-1 4-5 3-7-5-7 2-6 2-3 3-2-8-6-6-4-7-4 4 3 3-1 4 0 4-5 2-5 1 5-2 6-4 2 3 5-2 5-5M265 3275l3 1 6 1 0 0 3 1 0-11 8-7 8-2 5 1-3-2-4-6 7-7 7 0 6 0 2 2 0 2-4-8-4-5-3-7-1 1-4-4-3-6-3-2 6-8 7-6-1-8 7-5 8-5 1 4-3 3-2 1M380 3106l3-5-6 1-6 1-3-5 5-2 3-5-1 7-5 4-2 6-4 5 1 6-5 2 0 5 5 4 4-5-1-6-3-5 5 3 2 6-6 0-6 0 0-6-6-2-1 6 0-6 3-5-5-1-3-5-3-4-4-3M430 3042l1 8 3 5 0-4 0 7 1 7 2-3 1-4 4 1 2 6-8 2-7-2-6-3 2 6-6-2-6 6-6-3-7 2 2-4-4-3-2-5 4 5 1 7-7 3-3 7 5 3 1-5 5 0 3-4 1 7 2 5M466 3139l-3-7 1-5 3-1 3 0-4 6-9-1-3-7-8-3 2 4-3 6 2 3 4-1 3-2 3 2-5-6-5-6 4 0-5-6-6-5 4 0 0 5-6 5-7 3 2 4 2 4 4-2 4 0 1-6-7-4-6-4M447 3087l3 3-1 7 3-2 1-4 3-2 3 0-7 5-8-1-6 5-8 0-1-5 4-1 3 3 0-5 0-5 4-1 2-3 1-4 3-1 0-5-6-3-7-3-6-2 1-4 0-4-7-1-4-4-8 2-3-4-6-2M412 3135l-7-1-7 2 0-7 2-5 4 3 3 4 2 4 5-3 4 1 3-5-4-6 5-2-2-6-3 6-2 5 1 5-8 0-2 5-4 5-5 4-6-4 5-1 5 1 1-6-7-2-6 3-5-5-4-6-1-6-3-6M464 3047l2-2 3 4 2 5 3 2 3 3 2-1 0-3-6-4 1-2 1-2 3 2 1-3-9-1-8 5-8 4-2 7-6 6 1 7 3 3 2 6 1-3-7 3-5-4-5-5-8 1 2-3-6 5-6 5-7 2 4 3M328 3187l3-8-4-5-4 1-4-1-5-4 6 3 7-5 7-2 3-8 7-1 5 3 3-7 0-7 1-7 6-4 6 2 1 5 0 5-4 3-5 2-3-6 1-7-4-5-4-4-5 1-5 2-4-4-4-4-3-5-5 1M473 3117l-8-4 0-5-5 6-7-3-9-2-3-5-6 4-8-3-7-2-6-4-5 5-7 2 1 6 2-5 1 6 4-3 2 6 5 1 4 2 4 2-4 5-7 2-2 6 2 4-7 0 0-6-4-6 4-4 4-4 2 4M304 3165l1 5-3 1-4-4 2 4 2-8 1-7 5-7 1-7 2-7-1-6-4-2-2-6 8-2 7 1 8-1 4-5 6-4-4 3-5 3-4 3-4 2-2 5-2 5 8-1 5 5 6 2 6 3 6-1-2-6 3-6M355 3098l6 2 5 3 3 6-5-4-6-1 3-5 3-5 6 3 5 4-3 6 3 5 5 2 5-2 4-4 3 5 0 6-6 3-4 4-5 4-7-1-5-4-6 1-4 3 3 5-4 4-4-5 6 1-3 4-5-3-2-7M551 3087l1 1-8-5-10 5-11-1-2 6 1-2-3 7-7 5 1 2-9 5-9 4-6 5-8 4-6 5-8-4-4-7-8-1-8 2-7-3-8 1-2 6-3-7 3-3 3-3 2-4-5-5-7-2-8-1-3 6-3 6M484 3080l-4-5-3-5 2 5-7 6-9 0-9 1-7 4-4-5-3-5-4-5-1 7 0 7-2-5 3-3-4 7-6 5 4 3 3 4-8 1-7-2-8 1-7 1 0 7 3 5 1 5-7 3-5-3-5 4 5-2 3-4M319 3166l2 4 5 3-4 2-4 0 7-2-4-1-4-4-2 3-4-4-4-3 8-3 7-3 3-8-2 4-4 1-4 2-1 4 7-4 6 2 6-4 7 0-1-7-5-3 2-7-5 0-5 1-5 0-4-1 0 5 7-2M367 3151l-3-6 5-5 6-1 1 4-5 2-3-6 1-7 2-6 5-4 3 5 5 2-6 3 2 5-4-5 1-7-5 4-6 0-4-4-1 5 1 5-1 6-4 3-6-2-5-4-4-4 2-6-5 1-3 4-5-2-5-2M452 3073l3 2-8 3 1 7-1-5-8 0-3 6-5 7-7-1-8-1-6-3-1-6 2-4 4-2 5 1-2 7 5 0 3-3 4 0-7-2-6 5-7-2-7 4-5 5 0 6-5-4-1-5-4-4 3-4-2-5 1-4M280 3096l-1 5 5 6 8 0-1-4 5 6 6 4-2 4-4 0-2-5-1-5-2-4-1-5 8 2 8-1 2 6 8-2 0-5 0-6-3 5 1-5 3-6 6-2 4-5 7-2 2-4 6 5-4 4-1 6 6 5 2-5M275 3195l6-7 9-3 3 4-2 1-1 3-2 1-1-7 0-8-3-3-1 3 9 0 6-7 3-7 4-7 5-7 7 2 7 1 2 4 1 5-2 3-2 4 4 4 6 1 6-6 3-7 5-6 6-2 1-8-4-4-5-4M468 3134l-2 5-7 4-4 5-5-7-4-7 3 0 2 3-4 5-7-5-8-2-2 5-6 3-6 3-6 4-6 3 5 1 3 2 4 1 2 4 2 3 3 2-2 5-8-3-7-3-5 3 0 4-7-2 2 3 2 4-1 4M402 2991l4 0 0-2-7 2 4 7-6 5-5 8 5 1-3-2-6 0-2-3-3-3-5 8-2-3 0-3 5 6-4 8-6 6-2-3-4-2 5-2-6 3 5 5 2-3 6 0 5 0 0-3-5-1-6 4-7 3-1-4M431 3097l-2 6 4 1 4 0 3 4-1 6 3 3 3-4-4-5 4 0 3 1-3-6-3 6-3 6-7-4-8-2-5 6-7-1-7 2-7 3-6 1-6 3-6-2-2-6-2-6-5-2-4-5 5 3 6-1 3-4 5 0M294 3176l2-7 8-1 8 0 7-5 7-2 7 0-5 0-4 0-2-6 7-4 3 5 5 3 5-5 5 3-5-2-3-6 7-4 6-2 4 4-6 0-5-1 1-6 3-7-4-4-1-7-1-6 3-5 6-2 6-2 6 2M344 3167l5-5 5 3-1-7-2-7-3-6 5-6 2-6 2-7-4 4-5-4-3 4-4 4 3 5-5 1 1 5 7-3 1 5 6 2 4 3 1 5 5-5 5 3 4-5 5-5 6-1 5-2 1-7 5-1 1-7-7 0M448 3187l0 3 0 3-8-4-7 1-5-7-7 0-3-8 2 3 2 3 4-4 5-3-6-6 4-4 4 0-3-8-7-3-8 0-2-7 3-5 0-7 0-6-3-6 1-6-2-6 0 6-4 5-2 6 5 0-3-6 3-5M424 3209l5-2-3-9 3-6 4-2 4 0 4-2 2-6 0-7-6 2-8-3-3 4-4 3-3 4-8-1-7-1-7-2-7-4 1-8-3-7-7-2-6-1-6-2-3-6 0-7 2-7 6 2 3 4-2 5 1 4-5-3M417 3058l-8 3-7 0 5-1-7 2-7 0-5-2 2-4-5-3 0 8-3-4-6 0-7 1 5-2 5-2 3 7 0 7 5 1 3-4 3-3-3-4 4-2 5 3-3-4 2-4-2-4-3-3 3-3-7 4-1 8-4 6M272 3195l-3-2 0-8-3-3-2-5-2 2 6-7 6-7 9-3 8-1 2-7 0 4-1 4 0-7 4-7 4-7 6-4 4-7 7 4 1 5-1 4 4-6-1-6-5 0-4 2-1 4 4 5-2 4-4 1 7 2 7-4M333 2999l7 6 3 9 6 4 6 0 6 1 6 2 4-2 6 2 2-3 6 3 4 7 5 1-3-3-1-3 5 2 5 2-3 8-6 4-1-4-6 6-1 8-1 8-4 6-2 8 2 7-2-5 6 0 3 5 6 2 5 2M323 3173l-4-3-4 1 4 4 4-7 7-4 2-8 6-5 5 4 2 4-5-3-5 1 1 5-2 3-1 5-2-7 1 5 7-2-1 4 5 3 7 0 6-4 6-4-5 2-4-6-3-6 6 1 3-7 5-5-2 5 6 0M304 3053l-3 6 1-4 8 1 1 7-2 7 2 7 8 2 7 2 4-4-4-1-2-4-4 2-4 4 6-3 7 0 6 4 7 2 4-4 6-1 4-3 3-5-2-4 0-4 3-4-2 7 5 5 6 3-6 3 1 7-2 6M442 3178l-6 3-7 1-7 0-4 4 3-6 0-8-7 1-6-6-3-7 4 2-1-8-6 3-3 4-5 3-7-2-1 4 3-7-6-4-3 4 5 1 5-4 4 2 1 4 5 2-5 2-7 0-4 3-5-5-5-6-2-7M232 3112l7 5 5 6 1 5 4 5 0 4 1-6 6-6 3-7 6-5 3-6 6-6 9 0 8-2 7 3-3 2-2 4 3 6 7 5 1 5-2 5 3 5-2-5 2-7 5-5 8-2 3-6 0 6 3 5 7 1 5 5M473 3165l-9 0-7 3-8-3-8-3-8 0-8-3-7-5 4-4 3-5 3-5 0 5-4 5-6 3 2-6-4 4 4-1 3-4 0 5-7-5-3-7-6-5-4 5-7-2-4-6-6-4 4-4-3 5 2 5-3 5 5 2M403 3051l3 6 5 3-7 4 0-4 4 6 3 5 2-4 3-3 4 5 4 2 3-3-6-3-5 6 4-1 1 6 4 5-7 4-2-5-8 0-6-2-7 0-3-4-3-5 5-1 5 3 5 1-1 7-6 4-7-1-6 2M429 3098l-6 4 3-3 3 3-1 7-3 5-8 0 0 6-4 5 1 5-3 6 3 4 3-5 2-5-7-1-7-3-1-6 4 2 1 6 3 3 3 4 3 3-7 2-1 5 2 4-2-7 4 1 1-7-7-2 2 4 0 5M254 3002l4-2-3-1-6-1-3 5-15-6 8 4-1-13 1-5-15-5 3 2-7 1 6-8-12-2-2-3-16-7 9-1 8 0-16 1 4-4-6-16-10 24-1-13-5-6-10 15-4 1-1-3-6-15-12 17 18-23-5 4-14-8 10 0-12 8-10-3 16-6-15-5-3-1M258 3013l-7-5 7-16-18 10-8-7-5-2 10 5-14-3 8-5-9 3-1 0 3-2-20-8 10-2-12 5 0-5-11-15 7 6-6-2-10-3 2-1-6-4 10-4-8 16-2-11-10 0-7-16-1-1-1-10-6-4 3 1-4-11-3 6 6-6-14-3-5 10-2-16 10-5M251 3013l-11-13 6 13-7-7 13-8-13 9 2-10-5 3 0-11-11 4-1-16-3 11-9-11-3-3-9-6 5 6-9-11 4 2-16 3 10-10-11 6 2-2 2 3-10-16 6-1-13 4-5 5 0-9 1-3-9-12 2 10-6-19-5-2-7 12 6-4-6-9-11 8-5 9M329 2983l-7 11 2-12 6-1-1-4 11-7-3 0-13-3-1-8 2-1 7 3 9-10 7-1-1-9-3 0-6 1 9-11-6-7 14-6-8-4-10 6 5-12 0-3-13-11 2-12 0 3M310 2999l18-10-7-4-2-8 12-2 3-3-1 4 3-16 6-11 7 7-16-7-3 0 1 2 5-12 4 0 9-1-9-17 11 7-6-9-4 7-4-11 0-15-1 1-3 6-4-14 1 1M321 2998l-10-5 23-18-16 5 1 3 6-8-10-12 13 10-1-13 9-9-2-7-2 13 5-12-8-14 2 11-5-13 9-1-1-1 3-7-2-6 8 4-9-21-1 9 2-18 9 10-9-6M484 2984l4 10 1-5-5-3 11-11-7 4 9 2 5-6-4-3 5-10-1-2-2-3 2-16 1 2 1 2 2-7 2-6-2 1 6-9-3-8 10 2 3 3 3-14 1-8-4 10 14-14-5 7 5 4 19-16-12 15 3-2 7-1 1 13 9 4-8 4 2 4 4-10 1 11 18 14-12-7 3 3 11-3-5 6-4 18-10-1 2-11-3 20-8 4-2-1 1 5-8 2M480 2993l-1 1 4-5 12-9 2 4-1 6 9-16-1-11 4-2 1 0 6 0-1 1 2-3-8-8 2-1 0-9-2-1-1-9 15-1 1-4-3-4-9-8 13-8 5-6 2 17 3-17-7 5 2-16 19 6 6 3 6 7-2 0-2 11 11 0-2 3-9-3 9 7-7 5 7-1 1 11 3-4 12 11-5-6-6 22 2-8-5 17-6-8-2 14-10 4 10-2-10-2M477 2991l1-13-3 1 10-1 5 2-8-2 13 2-4-13-5 3 12-5 5-5-2-6 4 3 4-2 4-1 21-10-14-4-4-1 5 3 14-5-1-2 6-8 0-2-12-1 4-11 18-6-4 0 8-3-17 6 0-1-1-9 5 3 9 10-3 3 7-2 2 4 2 1 8 12-2-6 4 4 8 7-9 6 3 12-10-7 0 0 4 5-7-7-4 23-7-10 5-2-4 13M266 3125l-27-1 6 7-9-10 4 0-10 10-7-8 4 16-9 6-13-7 14-7-9 9-3-7-6 3-6 0-5 0-8 6 3 4-7-14-4 14-5-8 2 11-9-5 7 4-2 3-5-7-7-9 0 3-3-13-14 22-1-12 2-11-19 6 3-7-1 3-4-4-2 1 5-9-16 7-7-8 10-7-9 6-7 12-2-5-6-9 2 0-1-3-4 4-10-8-3-17 5 21-11-12 2-6-12 1-4-1-1-8 3 16-3-3 1 0-8-18M259 3127l-9 3 1-3-4 16-9-8-9-5-3-2 3 12-4-2-9 13 0-1-7-8-3 10 6-1-9 1-7-3-8 4-3 2-8-3 1-6-3-6-11 1 6 0 2 1-10-2-5 1-1 4-5-4-5-9-4-9 0 14-17-11 17 6-22 9 5-7-19 6 4-11-2-5-1 13-13-4 0-10-1 12-1-5 2 0-14-5-4 1-6-5-1-4-2-4-5 2-6-2 4 2-8-7-2-7-8 10 2-7-5-2-5-1 8-11-14-5M260 3127l-8-1 3 18-13-1-4-8 5 9-2-2-7 9-12-1 5 2-25-3 22-5-7 6-11 1-8-4-4 7 2-11-16 3 5 10-17-7 13 4-10-11 3 1 4-3-21 4 11-6-9-1-8 2-10-2 4-8-2 2-15 3 9-8-10-1-3 12-5-6 0-17-7 14-7-15 0 11 5 2-16-10 12-3-21 3 0-14 0 10-5 2-13-1 3-1-8 10 5-11-12-11-9 5 2-3 9-6-6 3-19-8 8 1-6-6-2-6M504 3153l-1-3 3 0 9 2-4-3 5 5 13-7 2 4-5-4 6 12 4-5 8 9 4-2 4-10 2 7-2 6 10-1 13 3-4-8-1-8 11-11 5 24-4-6 7 5-7 12 9 1 2 4-5 6 9 2-7 12-7 0 13 7 2-4 11 8-2-2-9 13-1-2 12 6-12 3 5 3 0 5-9-6 17 5-7-4 7 1 12-2-4-3 7 8-1-2 13 18-12-19 19 2 7 0-5-1 13 2-15-8 19 7 3-2 1 1 17 6-4-22 8 6 0-3 8-5-6 8 7-9-1 6 6-7 7-11-6 9-1-13-10-1-1 7 17 6-23-12 19 13-6 9-8-7 2-1 13 23-12 2-6-6 5 8 1 11-12-1 14-2 0 4M500 3162l8-7-4 12-1-9 18 1 3-6 7 0 6 4-5 6 2-8 2 0 12 3 5-3 1 5-1-11 1 10 21-2 1-9 3 3-2-1 4 8 4 5-15 4 14 3 1 4-5 1 1-2-7 13 15 3-8 1 5 2 0 8 8 6-13-3 7 14 13-4-13 0 6 10 0 18 0-9-3 1 17 17-13-10 0-2 14 6 12 10 7-16-3-7 3 6-5 4 15-8 3 6 7-4-2-2 7-3 0-9 10 8 0-4 7 3-2 5 13-13 5-6-8 6 4-15 15 0-3 7-8 1-1-11 18-8 0 5 22 0-13 7 9 5-13 0 4-3-1 5-19 7 3 2 0-9-4 17-6-4 0 1 4 14-8 6 3 0 1 11-5-5M496 3148l4 3 12-6-2 7 9 11-4 4 9-6 6 5-1-2 4-7 9-12 4 4 1 6 7 5 4-1-6 11 8-11-1-2 14-6-1-5 15 17-6 1 0-4 4 6 2 8 2-2-4 8-1 8 3-5 7 6-8 17 10 5-1-11 12 9-5-1 1 13-3-1 8 2-12 3 11 1-6 17-4 1 4-10 4 3 6-3-4-6 8 3 3-7 17 1 3-4 0 0 1 13 7 4 7 2 18-3-13 6 3-10 6 3 5-1 12-9-2 0 5 10-5-5 12-6-7-2 11-2-5-19 9 13 7-10 7-4-14-3 4 0-4 14-2-11-9 11 5-2 0 17 1-10-8 4 3 7 1 2-7 8-2 9 9 7 1 1-5-4-6-1M289 3236l-12-2-7-1 18 6-19-4 9 10-12 16 0-9 4 6-7 6 6-2-3 3-1 6-7 2 1 12-6-6 4 16 3-1-2 3-12-3 7 9-19 4 7 1 1 0-10 7M283 3228l-3 10 3-2 2 10 0-2-9 3 2 13-7-6 9-2-9 14 1 6-11 0 2 2 0 8-6-1-8-6 6 10-2 5-8 5 2 1-7 9 7-7-6 19-16-15-3 2M291 3222l-8 11-2 5 4 6-12 3-7 2 6-6 1-3-6 9-9 13 0-5-2 17 8-1-6-1-1 6-5 2-4 0 1-3 2 13-2 3 2 14-5 1-17 0-1 0 6 3M361 3224l-4 6 3 11 3 8 1-4 11-2-12 6 14 2 0 8 3 8-4 0-9 3 9-1-5 15 5 6-1-7-3 14 4 3-8-2 9 10-2 4-3 10 15-12 4 4 5 8-7 0 8 3 11-1-2 6 1 7 4 0 0 0-5 2M356 3230l-2 4 9 5-5 3 3 8 3 3-13-7 8 13-1 12 12 1-5-9-9 14 0-3 10 3 2 4 5 7 0 4-7 6 0-1 15 15-2-5-5 15 5-4 4 12 4-4 4-1-7 9 8 1-10 6 20-6 2 11 4 3-3 2M351 3230l-4 6 7-4 1 9-1 10 5-2 0 5 13-2-3 8 7-2-8-1 9 19-5-1 19 12-14-2 1 6-11 2 4-2 1 8 9 5-8 1-9 14 3 3 7-9 4 21 18-12-15 13 19-1 0 4-2 1 11 1 1 8 3-6M256 3040l-6 0-10 5-1-16-8 2-5-9 1 7-8-6-9-6 5 9-6 1-4-7-3 1-17-5 18-1-9-9-2 8-6-15 5 4-4-7-3-3-5 4-2-3 1-10M248 3032l-4-7-7 7 0-4 3 0-7 8-9-2-9-1-9-5 2 7 6-15-9-5 3 10-15 1-16 5 8-5-2-5-7-7-3-6-2-10 0-3-5 0-3 7-4-7M247 3042l3-12-1-1-10 9 3-1-3-13-13 9 3-7-13 10-3-5-4-5 0-11-13 14-5-1-10-8 9 13-17-13 9-14-9-3 12 8-19-9 9-3-10-5 6-1M499 3064l-1-1 4-5 0 4 5 12 5 2 9-3 2-4 5 1-10 18 8-4 12-3-14 12 29-6-7-1 2-8-9-7 1-2 0-6-3-1-1-3 0 1-3-15-7 1-4-9M503 3066l-5 3-8 2 22 1-3 2 5-4-2 11 1 3 10-4 3 6-3-3 1 5 17 10 9-25 3-1-13 3 5-6-3 7-3-11-10-8 3 4-3-2-6-7 4 2 4-14M494 3057l3 1 4 19 3-10 7 7 1-2 1-3 0 12 10-4 3 15-1-1-1-5 8 12 15-14 5 2-6-4-2-8-5 5 1-12-14-16 14 5-7 3-4-10 14-10-9-14"/></defs>
<use href="#cl0" fill="none" stroke="#efc4bf" stroke-width="6.8" opacity="0.45" stroke-linejoin="round"/>
<use href="#cl0" fill="none" stroke="#a63b35" stroke-width="2.2" opacity="0.85" stroke-linejoin="round" stroke-dasharray="5 4"/>
<path d="M61.8 747.6 L124.9 747.6 M124.9 747.6 L124.9 808.3 M124.9 808.3 L61.8 808.3 M61.8 808.3 L61.8 747.6 M68.3 754.1 L118.4 754.1 M118.4 754.1 L118.4 801.8 M118.4 801.8 L68.3 801.8 M68.3 801.8 L68.3 754.1 M61.8 747.6 L68.3 754.1 M124.9 747.6 L118.4 754.1 M124.9 808.3 L118.4 801.8 M61.8 808.3 L68.3 801.8" fill="none" stroke="#3c3c3c" stroke-width="0.75"/>
<defs><path id="cl1" transform="scale(0.25)" d="M885 3069l5-4 3 5 0 6-6-1-5 3-5 0-4-4-3 4-3-4-3-4 4 5-4 3 3 6 6-4 7-2 7-2 1 6 6 0-3 4-5-4-2-6 2-6 6 0 3-5 6 0M914 2991l-2-2 0-2-6 2 3-1 5 1 3 9 3 7 5 6-3 9-3 8-5-2-3-3 0-4-4-2 4-1-3 9 0 8 5 2 5 3 5 3 1 7 4 5 0 7-7 3-7 0M900 3037l2 7 6 2-4 6 0-5 2-4 5 3-5 5-6-2-3-4-2-4 6 2 2-4-5-3 0-4-5-1-3 7-4 6-3 6 3 7-4 5-2 6 4 6 5 3 2-6 3-5M890 3111l5-5 6-1 5 2 5-2 5 0 4-6 1-7 4 0 1 5 4 2-8-2-1-7 4-4 4 3-6 4-5 4-7 0-4-6-6 2 5 2 3 4 5-1 4 2 1-7 4-3M945 3078l3 3 4-1 1-5-8 3-7 3-8 2-8-2-7 1-7 1-5 3 6-2 0-6 3-5-6-3 0-6 3 6-6-3-6-2-6 2 0-6-4-3-6 2 2-6-5 1-1 6M922 3059l-4 5-7-1-7 1-6-1-2-5 4 5 3 6 5 1 6 1 2 5-2 6 4-3 3-5-3-5 5-2 4 2 4-2-7 3 2 5 4 3-2 5-6 3-3 6-5 3-7-3M926 3026l-5 7-3 8-5 6 5 1-5-3 4-1 5 3 4 3-6 4-7 4-7 0-1 6-3 6 6 1 5-2 4 4 3-4 2-5-7 1-3 6 1 6-1 5-7 0 1-7-3-5M866 3053l2-5-5 1-4 4-4 3-3 2-1 6 3 6 0 6-1 5-3 2-4 2-2 3-3-3 0 5 3-7-2-4 0-6 9 2 3 5-1 5 2 5-4-3-3 0-4-3-3 0M891 3034l-1-4-6 1-5 1-5 4-2 7 3 7 1 7 2 7-1-5-5 1-4 2-4-3-3-2 4-5 4-4 3-5 1-4 3-4 2 8 1 7-1 7 2 6 6 4 1 6 6-1M906 3099l4 2 5-1 2 4 4 2 4-4 5-1 3 1 4-4 4-3-1 5 1 3-8 0-7-4 4-4 3 1 0 5 3 2-6-6-3 5-8 0-7 0 3 4 5-3 2-6 5-1M891 3061l-5 3-1 6 4 6 3-6 1 6 3 5-3 4 6-1 1-7 4-4 3-5-3-6 6 1 5 1 2-4-6-3-4-4 2-5 4 4 2 6 2 7-3 6 1-6 3-4 2 6M882 3035l2 8 4 6-2 6-6 2-5 0-5 2 4 7 3 6-1 5 0-6 6-3-2-5 6 2 2 6 2 6 6-3 6 0 2-5 1-6-6 2-3 5-5 4-5-1 0-6 7 0M888 3086l4 5 2 5 0 5 2 4-3-7-6 1-5-1-5 1-2 3-5 1 5 3 7-2 6 0 2 5 2 3 4 3-4-6-4 2 2 3 1-8 6-2 4-6 3-6-1-7 1-6M963 2997l-8 8 2 7-1-2 3 3-5 9-8-1 0 8-2-4-7-2-7-1 2 8 4 1-8 1-7-1 0 8-4-4-6-1-4 8-3 6-5-3 0-5 5-1-3-3-7 0-5 4M946 3086l3-4-8-3-6-5 1-5 4 1 2 4 3-2 3 3-5 5 3-3-8 3-8 1-2 6-5-6-1 5-6-3-6 4-6 1-6 2-6-3-4 3-5-4 5-5 5-4 4-5M890 3018l-4-2 4-2-5 2-5 5-5 6-3 6-4 5-2 7-1 6-2 7 4 6-5 0-1-5-3-2 0-5 6-3 5-3-2-4-4 2 7-1-1-4-4-2-3-2-4 4-4 3M897 3098l0 4-3 4-1-7 6-2 6-2-3-7-3-6-5 3 1-7-1-6-3-5-5 4 2 6-5 1-3 5-3-6-2-5-4-4 5 5 5 5 5-4 6 3 5 3 4-5 4 4M867 3095l8-2 0-7 7 1 4 4 4-6-4-5 0-6-2-5-2-6 2-5 0-6-5 1 5-3 5 5 0 7 4 5 1 6 4-4 5-2-2-6 4-3-3-5-5 5 3 6 4 4M819 3125l4 3 7 3 7-8 8-1 8-5 8-5 6-5 8-2 7-1 5 2 6-5 6-3 2-7 4-4 6-2-1 5 5-2 5 1 4-4 5 0 0-6 4-3 4-1 3-2-6 5M922 3066l-7 1-7-1-4-5 4 5-6-3-3-4 2-6-6 3-4 6 5 4-6 0-6 1-1 6-3 4-2-5 0-6-2-5 6-3 7 1 6-2-5-3-4-2-5-1 0-5-1-5M890 3092l-5 2 3 3 7-1-5 2-4 3 3 4-1 4-3-6-2-7 0-7 3-6-1-7-5 0 7-1 3-6 3-5 4 5 5-3-2-6 6-1 5-2 5 1 5 2-7-1-6 4M869 3112l1 4 4 4 0-9-5-2-4-2-5-1-4 0-4-1-3-5 8-2 7-5 6 4 6-5 5-5 2-7-4-4-4-4 1-6-2-4 1 6-5 1 7-3 7 3 6 2 6 1M913 3186l5-3-1 0 4-3-4-1-3 0-7-4-6-3 5-7 5-4 4-9 5-6 0 2 4-7-1-9-8-3-6-2-7-5-6-5-3-7 4-7 4 3-5-6-1 5-2 4 5 1M921 3139l2 1 3 1-5 1 0 3 1 2-5 1-4 1 2 2-7-5-4 1 3 2-5-8-5-7 3-9-6-6 5 2-3 3-1 3 5-1 5 0 6-1 5-1 0 3 4-1 0 4M882 3108l6 2-4 3 6 1 3-8 5 2 5-5 2-7-3-6 0 5 4-6 4-5 4-4 5 0 4-3 3-5 4-3 4-1 3-2 4-2 3 2-1-5-7-2 3-3 3-1-2 7M872 3114l7-5 6-3 2 5 6-1 1 4 5 1 5-5 5 0 1-8 4-5 3-6 5-1 5 0 4 0 4-1 2-6-5-5 0-6-2-6 2 5-6 4-3 6-6 3-4-6-7 0M835 3123l5 3 2 3 5 3 0 2-1-8 8-1 4 3-2 2 6 1-3 0-3-6-4 0-1 2 6 2 7 0 8-2 7-2-4-7 5-6 5-7-1-8-1-6-5 0-4-5-5-3M872 3081l4-6-1-6 7 1 4 5 2 6-3 4-5-1 6-4 6-3 5 3 1 6-5 2-5-3-5 3-5 0-2 5 4 4 5 3 6-3 0 5 4 3-4 3-6-1-3 3-5-5M799 3021l10 6 10 3 6 7 9-1-3 0-1 6 9 4 8-1 6-4 4-4 0-4-1 7 1 7 5-4-1-4 7 4 5 7 6-2 7 0 6-1 3-4-6 1-6-1-4-2 2-4M911 3175l-2-11-7-3-6-5 0 2-6-5 4 0 6-5 3-9-4-8 6-5 2-8 4-5-1-8 6-1-1 5-3-8-7 0-6 0-5-4-6-2-3 4 7-3 6-2 5 1 6 0M895 3052l-3-4 2-5 2-4 3-4-6-1-4 6 0 8 1 7 6 4 1 7-2 6-4 4-6 1-5 2-1 5 6 3 0-7-1 6 5 3-3 4 1 5 3 4 4 4 5 0 0-7M859 3153l8-3 2 2 7-1-5-1-4-6 6 0 7-5 6-1-2-8-1-9 5-6 4-7 4-6 4-6 5-4 5 2 5-2-6 1-2 5 3 3-6 2-6 2 6-4 5-1 3-7M884 3105l-1 4-5-5-5-4 2-7 4-7-5-3-4-1 1-7 8-1 6 3-5 2-5-2 2-6-2-5-4 0-4-2 3-6 6-2 7 3-5 3-5 3-3-4-4-2-4-2 2-5M960 3058l-9 1 0-4 3-2 1-4 2-2 1-3-9-1-7-2 1-3-3-5 3 4-6-2 1-3-8 2-6 5 1 7 4 0-7 3-7 3 2-4-3 7-6 3-5 6-1 6 5 3M908 3137l3 1 2 2-6-4-7-3 4-8-6-5-2-8 6 0 4-7-1-7 6-2 5-3 4 1 0 5-7-1 4-5-3-7-2-6 5-1 2 4-4 5 2 5-5 4 3 4-7-2M1113 2890l6 1-2 8-5 6-5 0-3-2-4-1-4 1 4 8 5 8-1 7 3 7-1 7-4 2 6 4 4 6 6 3-3 5-5 0-4-3 3 5-3 4 3 5 7-1 6-3 6 1M1100 3005l2 4 0 3 7 1 2-9-5-5 1-8 1-8-5-3-4 1 5 4 5 2 2 5-4-5-1-7-3-6-5 1 7 2 7-2 7-2-5-4-5-1-4 2-5 1 1-7 7-4M1078 2918l-2-2-3 3-2 6-2 4 4 7-2 6 5 6-2-3-2-4-3 2-2 4 6 5 3 6 8-2 7 4 6 4 3-7 7-3 7 1-1-6 3-5 1-6 3-4-5 1 1-5M1093 2964l4-6 8-1 0 6 7 1 6-4 6-1 3 5 6 1-4 4-5-4-5-3-5 2 4-5-1-6 4-4-3 5-4 4-4 3-4 4-4-4 1-6-5 2 1-6 0-5 7 2M1114 2952l1 6-2 5-1 6 7 1 0 6-5 2 4 4-3 3-3-6 2-7-4-4-5-2-4 2-3-5 1 6-2 4-4 1 8-1 0 5-3 3 7-1 6-5 6 2 5-5-5 1M1077 2942l6 6 8-1-4 0-2 5 3 6 4 6-4 0 4 6-4-4-1-5 7-4-3 4-1 5-4 0-2 4-1 4 2 5 6 4 8 0 1 5 7 1 7-3 0 5 1 4 5 3M1268 2898l-7 9-5-3-2-1-8-3-9-3-11 5-2-2 0-2 0 1 0-2 1 4-3-3-2-3-5-3-2-2-3-2 0-2-1 9-1 8-6 8-3 8 2 5 2 3 2 0 2 1M1111 2947l1-5-4-3-5 0 1-5 3 7-4 0 1-5 6 4 7-1 0 7-5 3-4 3-5 0-4-3-2 5-4-2-2-4-1-5-3 4-3-1-3 4 1-5-2-4-1-4 6 6M1166 2953l-8 2-2 6 5-2 1-5 4 0 4 0 3 4 3 1 3-4-3-5 3 1-3 6-8 3 3-3-3 5 2 5-7 3-7-3-1-6-7-3-2-6-1-6 4 4 2 6-2 6M1199 2946l-2-6 0-3 0-5-1-4-3-4 1-3-1-4-3 8-7 6-9 0-8 0-5-4 0-4-1-5-4-4-5 7 2 6 1 7-6-3-5-3-6-1-2-4 3-3 5-2 5 1M1030 2994l3-7-1 0 6 4 10 1 10-1 3 4 9-2 9-2 8-5 6-5 7-5-2 4 1 5-2 4-3 2 0-7 8-2 7 0 4 4 1 4 3 4 3 3-4 2 6-4 5-6M1193 2959l2 3-9 3-7-4-8 2-4-5-7-4-7 0-7 2 2 5 2 5 3 4-1-7 3-5 1 6 4-3-4-6 0 6-7 0-7 1-2 5-7-1-5-4 2 5 4 4-3 5M1120 2984l5 3 5 1 5 2 3 4 2 3 4 2 5-3 4-4 5-1 4-2 0 4 0 4-8 0-5 2-5-6 3 3 1-8 2-7 5 0-5 4-4 3-6-5-5-4-4 4-5-5M1155 2952l5-1 4-1 4 0 1-5 4-1-3-5-8-2 3-3 2-3 3 5 1-5-7 5-8 0-7 2-7 3 2 6-2 6 3-4 4-4 0 7 3 4-2 6 1-6-7-3-7 0M1164 2941l-8-1-5 5-7 2 1 6-2 6-6-3-7 1-2 5 0 6 0 5-1 5-1 5 6 1 3 4-4 2-3 4-3-8 5-5 4 3 1 4 2 4-7 0-5 1-3 3-4-6M1167 2912l-7-2-7 0-6-1-6-2-5 6-5-2 6 3-4 7-6 3 2 8 5 4-2-5-3-4-4-3-1-5-5 6-2 6 6 1-2-4-4-4-5 2 3-5 5 6 1 7-5 2M1135 2903l-6 0 6 3 4-2-6-1 6 3 5 1 4-1 0-4 1-2 4 7 4 0-6-1 4-2-5-2-3-3 4 5 5 5-5 7-3 8-6 4-6-2 1-4-6-1 0-4-6 0M1108 2936l-3 6 1 7-3-5-4 4 1-6-4-1 2-5-2 6-4 1-4 0 4-5-1 7 0 6 7-4 7 2-4-4 1 7-3 5-5 1-4 0-3-3-4 2 3-6 1-6 0 6M1092 2941l1 6-3 4 6 5 1 6 6 3 7 0 6 4 0-7 4-6 0-6-5 2-1-5 2-6 4-4-6 1-2-5-3-3-1 7-5 4-5 1-4-1 0-5-4 0-4 1-4-2M1169 2925l-3-5-6-3 1 8-5 7 2 6 4 3 3 4 3-3-8 1-2 7-1 6 4-2-5-5 4 1 4 3 4 1 2-5 4-1 4 0-7-4-7 4-7 4-7-1-1-6 5 1M1114 2948l-1-6-5 2-2-4-2 6-4 4-4 2 7 3 6 4 2 6-5-2 6-4 6-3 5-4 4-4-3-5-6 2 1 6-1-5-1-6-1-5 6 4 5-2 6 2-1 7-2 6M1128 2978l-1-7-4 3 0-7-4 4-3 3 0 5-5-3 6 2 2 4 2 5 6 0-2 4 5 3-5-6 5-6-3 4-5 2 3-7 0-7 4-6 6 0 5-3 4-4-2 6 5 1M1247 2947l-2-5-12 0-7 7-6 6-9 4-10-2-10-1-9-2 2-4 3-2 3-2 2-2-2-5-4-5-7-3-8-3-6 6-4-5-8 3 2 6 5 2 4 3 2 5 1 6 0-6M1028 2944l7 6 9-4 9-3-1-3-2 1-1-2 7-4 0-4 0-3 0-4-2 3 2 7-1-2-3 2-2 3-2 1 8-4 8-2 2 7-2 0-2 4-2-1-1 5 0 5 3 6M1210 2936l1 4-5 7-4-6-5-5-7-4-2 7-6-4-7-4-6-3-1 7-3 7 3 3-5 6 3 3 3 4 2 4 4 1 3-3 2-4-9-1-5-6 4-1-3-6-8-1-2 7M1142 2959l5-3 4-3 2 5-7 2-5 4-2 5-3-6 6 0 1-6-6-3 2 6-3 5 0 6 5 0 5-2-4-6 5-3 4-4 4 3-3-6-7 0-5-5 0-5 0-6-7 1M1087 2969l5 5-1 5 8-2 3-7 4-6 5 4 7-1-1 6 4 4-4 4-5-3 4-6 6-2 5 3 6 2-3 4-6-5-5-1 4 3-3 4-6 0-2 4 3 4 2 4 5 2M1161 2950l2 5 4 0-6-5-7 3-7-2-7-1-5-4-6 1 3 6 0 6 6 3 1 5-5 4-7-1 6 1 5 3 3-6 5 2 5-2 5 0-1 6 0 5-7-3-1 5 4 1M1265 2976l-4-7-7-6-1 1-10 5-11 1-8 5-11 1-3-7-10-2-10 1-6 4-9-1 2-5-4-6 0-6-1 6 3 3-7 4 1 5 3-3 3-4 2 3 1 4 4-3-7-5M1167 3004l4-4-1-8 3-6-6-6-7 1-3 4-7 2 3-6-4-7-7 0-1-7-6-3 4-5-1-6-6 0-6-1-4 5 6 1 1-6-3-5 3-5 4 5 6-1 5-1 5 1M1228 3162l5-2-3-6 0-6 3-2 1 6 3 3 4-2 0-5-6-4 2 6 1 6-2 6 4 2 3 3-1 6-2 5-7-4-8-2 2-6-1-6-7-2-5-5 0 6 5-2 4-3M1183 3151l4 5-3 6-5 0 0 6 2 5 7 0 1-7-6 0 6-3 0-6 1-6 6-2 6 0 4-4 4-3-6-1-1 7 1 7-5 4-5-5 2-5 4-5 6-1-1 7 5 3M1190 3117l3 7 0 8 6 4 3 6 6 2-2 7-7-1-4 5 0 6 1 6-4 5-1 5-6 0 2 5 7-2 3 5-3 4-4 3 2 4 5 2 5 1 5-5 4-6 3-5-4 3M1194 3133l-5-1 2 8-4 5-5 2-4-2 4-4-2-4 4-4-3-3 3-4 4-4 5 6 7 3 0-5 1-4-1-4-3-3 3-3 5 0 4-2 5 1 4 6-7 4-6 0-6 2M1171 3206l7-2 7-2 7-5-5-5 6 2 2 4 1 4 0 4 4-7 2-8 5-5 4 4-6 1-7-2 2 5 0 4-3 3-5 1 6 0-5 0-3 3-1 3 2-8-2 4-1 3M1214 3099l5 5-6-1 5 0-7 3 5 6-1-3 1 8 1 8-7 2 5 4 5 4 4 4 3-3 4-2 3-3 1-4-2-4-7-2-4-3 1-3-6-1-3 9-1-4-5-3-6 5M1165 3204l-5-1 4-8 8 0-1-7-4-4-3-5 1-7 7-3-4 2 5 5 0 5-2 4-5-3-3 3-2-6-3-5 1-6 7-4 6-4 7 1-2-5 4-5 3-6 3-4-1-5M1138 3193l6 3 4-8-2 3-2 1 1 5 5 4-4-3 1-8 5-7 8 2 3-7 0-7 6-5-1-6 8-2 2-5 6 3-3-4 3-5 0-6-3-3 6-4 5 5 6 1 0-5M1222 3176l-5 3-7-2-6-2-3 5 0 5-3-7-2-6-5 0-6 0-3-5-5-2-3 5 3 5-1 5-3 3-1-7 7-3 5 4 1-7 1-6 5-5 5-3 6 2 5-3 4-4M1208 3209l1 3 5 1-7-3 1-8 4-6 4 2 5-1 1-8-4 4-6-3-4-6-5-5-3-6-4 3-2-6 6 2 5-3 2-7-6-1-6-2 4 4 6-2 3-4 6 0 5-2M1233 3218l4-3 1 3-6 1 1-8-6-6 0-9 0-7 4-4 3-5-1-7 1 5 4-3 4 1 3-3-2 5 0 5-3 5 3 2 3-4-8 0 0-7 4-2-4-6 0-6-6-5M1196 3204l2-8 6-2 4-6-2-7 4-5 3-5 3-6-6 4 5-3 0-7 2 6 3-5 5 0-6 3-5 4 1 6 3 4-7 0-7 0-3 4-1 5-3 4 4-6-1-7-5-4M1228 3138l-7-1-7 1-4 6 0 7 5 2-5 4-2 6-6 2 0 6 5 3 5-2 4 3 4 3-6 4 3-6 5 2 4 0 5-1 4-2-6-4-4-6 2 5-5 4-7 1-7 0M1211 3113l-5-1-6 1 3 7-6 6-1 7 4 7 6 2 5-1-3-4 2-5 5-1 5 3 5 2 3 5 1 7-4 6-7-1-1-5 3 5-1 6-1-6-5 5-6 1-2 6-6 2M1216 3192l-2 4-7 0-4 3-5 2 1 4-4 3-5-4-4 2 4-7 5-7 4-5 4-6 3 4-2 5 0 4 6-3 5-3-6-3-6-4 4 3-4 3-6 2-3 4 3-7 5 1M1153 3218l-2-6-3-5-3 6-6 1 2-7-7 1-6-2-5-4 4 5 5 4-6 3-1-6 3-5 0-7 4-4 5 4-4 4 3 6 5-4 2 6-1 6 6 0 6-2 4-5 0-7-7 2-1 6-1 6-4 6-5-4 0 7 3 5 5-4 5 4 5 5 6-3 4-5 6 3 3-5 0-6M1171 3201l3 6 6 1 6-1 4-6 6 1-6 0 6-3-5-3-4 5-4 5-5-2-6 2-3-6-6 1-6 1-3-6-5-2-4-6 3-5 6-3-4 5 1 7-6 0-6 3-6-2-5-5-2-6 6-3 6-3 0-7 0 7-2 6-7-1 1 7-4 5-6 0-6 0-6 3-5 5 1 6M1099 3066l3 6-6-2-3 6 3 6 5 4 2 6-1 6-5 4 4-4 7-1-7 0 2 7 0 6 4 4 7 0 5 3 2 6 5-4 0-6-4-5-2 5-3 6-2-6-5-4-2-6-5-4-5-4-4-5 2 6 6 3-2-6 2-7 6-1 1-6-5 4 2 6 6 2 4-5 5 3-2-6M963 3125l2 6 6 3-4-6-3-5-5-3-5-5 7 0 3 5 6-3-6 2 1 6 5-3 5 4 0 6 3 6 0 7 5 3-6 2-7 0-5 4-5-4-5-4-1-6-2-6 3-6 6-2 7-1 3-5 2-6 1-6 0-7 6 2 5-3 6 2 6 3-3 6-4 4-6-2-6 2-1-6M993 3186l1 6 4 5 2 6 4 6-3-6 5 4 4 5-6 1-5-4-3-5-4-5-7 0-6 1-5 4-3 6-6-1-6-2-1-6-6-1 4 4 6-3-3-6 4-5 3-6-4-5-2-6 6-2 0-6-6 2-5 5-4 4 6 1 6-3 5 3 5 5 1 6 5 4 3 6 2 6 4 5M1147 3170l-2-6 0 7 7 0 1-7 2-6-5-3-2-6-2 6 6 2 2 6 5 4-3 6-1 6-2 6 3-5 4 5-6 0-6-3-2-6-6-2 4-5 2 6 6 2 6 1 0 6 6-3-4-6 6-3 5 4 0 6-6 2-2 6-6-1-4-5 1-6-6 0-4 4 3 6 6 1 2 6M1031 3117l3-6 1-6-3-6-6-1-4 6-5 3 0 6 2 6 6 4-4 5-6 2-6 0 6 2 6-2 0-7 2-6-4 5-3 6-6 2-5 4-5-4-3-6 6-2 3 6 3 5-5 4 4-5 7 0-3-6 3-6 6 3 5-3 0-7-5-4 1-6-5 3-3 6-6-3-1 7-2 6M970 3157l5 4 4 4 1 7-2 6-5 4-4 5-5 4-5-3-3-6 5-5-6-3 5-4-6 0 6 2-2 6 3 6 6-1 7 1-3 6-6-4-1 6-4 5-1 6 7 0 2-6-6-2-3 6 6 1 2 6 2 6-3 5-6 2 3 5-2 6 7 1 2-6 3-6 0-6-5-5 1-6M1042 3231l2-6 6-2 4 5 1-7-5-3-5-4-3-6-1-6 3-6 1-6 5-3-3 5-4-4-1-6-5-4-6 3-6 2 2 6 1 7 0 6-6 3-2-6 1-6 5-5 6-1 3-5 6-3-1 7-6 1-6 3-6 0-2-6 5-5 4 5 2-7 6-1 5 4 4 5 3 6 6 2M975 3087l6-1 6 2 6 2 1-7 0 7-3-6 2-6-2-6-1-6 4-5 6-3 6-1 6-2 0 6 6 2-3 6 1 6 0 7-6 3-5 4 2 6 4 5 3 5 5-3 6-3-2-5-7-2-5-4-4 5-6-4-4-5-4 5 2 6-4 4-1-6 7-1-2-6 6-3-2 6-5-4M1101 3049l-5-4-6 0 4 5-1 6 6 1 3 6-7-1-5-3-6-2-7 0 0-6-6 0 4-5-1-6-4-5 6-1-4-5-6-1-3-6 3-5 5-4 5-4 0-6-1-6-6 0-7 1-4 4-5 5-6-1 4 5 1 7 2 6 6 0 2 6 6 3 6 2 6-3-4 5-6 3-4 5M1070 2998l6 0 5 4 6-1 5-4-1 7-3-6-6-3-6 3-2 6 1 7-2 6-3 5 0-6 6 3 6 2 5-4 6-2 6-3-4-5-4-5 4-5 2 6 1 7 6 2 6 2 5 4 3 5 3-5-2-6-5 4-3 5 5 3 0 6 5 4 5 4-6-3-6 2-6 1-6-1-4-6M980 3008l-4 5-5 4-3-5 4-5 5-4 5-4 0 6-5 4-6 3 5 3-5 4 6 4 4-5 5-3-4-5-3-5-3-6-3 5 6 1 6 0-5-3 5-3-2 6 3 6-7 0-1-6-6-4-1 7-6-1-6 0-4 5-4-4 6-3 2 6 0-6-4-5 6-2 4 5 4 5 6 2M1189 3171l-4 5-3 5-5 4-5 5 7 1 5-4 6 0 0-6 6-2-6-3-4-5-3-6-2-6-1 7 5 3 6 2-6 2-6 2-3-6-6 1 4 5 0-6-6-2-7 0-6-2-6-1-4 5-7 0-6 1-6 0-3 6-6 1-5 4-3-5-1-7 1-6-2-6-3-6-6-1 1-7M1145 3108l5 4 3 6 3 5 6-3 6 3 6 0 6-1 7 0 4-5-2-6-1 6-6-2-2-6 5 4-5-4-1-6-5-4-6-3-3 6 3 6 3 6 6 0 7 1 6-3 5-3-6-2-2-6-5-2-7-2 2-6-7 2-5-4-2-6-3-5-5-4-6-2-6 2-6-3-7 0-5 4M1145 3140l1-7 5-4-2-6 2-6 5-4-6-3-4-4-7-2-4 5-3 6-2-6 5-3 0-7-6-2-3-5 1 6-4 5 6-3 6-2 4 6 5 3-4-4-1-7-3-5-6 0-3 6-3 5-2-6-6-2-5 5-6-2-7 1-2 6 6 2 6-3 3-6 7 1-2 7 2 6 5-4M1135 3182l2 7 5-4 6 1 6 3 1 6-5 3-1-6 4 5 4 5 6-2 5 4 1 7-4 4 0 7 0 6 0-6-1-7 3-6 1-6-6-3 0 7-4 4 4-4-6-2-2-6-6-3-6 2-2-7-6-1-6 2 2 6-4 5-6-2-4-5-6-4-6 0 0 6 6 3-4-5-6 3M1085 3139l3-6 1-6-3-6-5-3 5-4-2 6-1 7 0 6-6 2-1 6 3-6-6-2-7-2-4 4 2 6 2 6 6-3 1 7 6 1 6-1-2-6 6-3-1 7 5 5 5 2-2 6-5-4 2-6-5-4-6 2 0 6-4 5-4 6 5 4-5 4 4-4 7 0 0-7-3-5-7-1M1010 3172l3 6 6 3 1 6-6 2-5 4-5 3-4-5-5-4-5-4-6 1-5-4 3-6 4-5 6 2 3-6-3-6-6 3-5-3 4-5 7-1 6 0 6-1 7-1 1-6-2-6-5-4-6 1-1 6-4 5-6-1-6-3 5 4-3 6 4 4 4-5 3-5 6-4 6 1-6-3 0-6M1026 3116l-5 3 2 6 0 7 5-4 7-1 6-2 6 1 4 5 2-5 7-2 4-5 5 4 4-5 5 4 7-1 5 4 5 4 6 1 0-6-6-4-5 4 0 6 6 3 2 6 6-1 5-4-6-1-5 4-6 0-6-3 0 6 6 2-1-6-7 0-5-3 4-5-4-4 2-6-3-6 6-2M1157 3200l-1-6 1-7 2-6-6-2 0-7-4-5-6-1-6 1 0 7 1-7 6 0 6 2 5 4-2 6-6 1-5 4 2 6 5 4-6 2-1-6 0-7-1-6 2-6 4-5 3-6 3-6-6-2-6-4-3-5-6-1-1 7 1 6-1-6-6-1-7 1 6 3 4 5 2 6 5 5 5 4M978 3103l-2-6-5-3 3-6-2-6-4-5 5-5-5-5-5-3-6-2 0-6-1-6 5 3 4-5 6-3-2-7 0-6-6 0-3-5 1-7-6 2-4-4 6-4 0-6 4-6 1-6-6-2-4 5 6 3 4-5-7 0-3 5 5 5 2-6-5 4 7 0 0-6 4-5 5 3 1 7 2 6M1149 3171l-3-6-3-6 4-5 6 1 2 6-3 6-5-4-4-5 4-5 7 0 5 3 6-3 5-4 1-6 6 3 0-7 2-6-2-6 1-6-4-6-6 1-6 2-6 3-2 6 6 3 1-7-6-3-6 0-6-3-5 4 2 7 3-6-1-6 6 3-2 6 6-1 5-4 6-2 1 6-1 7M954 3180l2-6-1-6 2-6-6-3 6 2 0-6 3-6 3-5 6-1 6-2-4-6 4-5 6-1 6 2-3 5 7 0-2-6 0-7-4 6 1 6-6-1 3 6-3 5-1-6-4-5-6 2 1-6-4-5 5 4-1 6 5-4 6 1-2-6 4-4 1-6 2-7 1-6 5-3 5-4 1 6M1049 3145l-6 1 1 6 1 7 3 6-6 2-5 4 2 6-6 3 6 2 6 3 6 2-3 6 6-1 5-5 5-4-3-6-6-3 4 5 5 4-3 6 4 4 1-6 0 7 6 2 6-1 7-2 1-6 1-6-4-5 4-4 7-2 5-3 7 0 1 6-6 2-5 4-4 6 1 6-6 1-6 2M1162 3211l7 0-4-5-5 3-3-5 1-7 2-6 1-6 4-5 6-2 0-7-6-1-6-2-7 0-6 2-5-3 4 4 2 7-7 1 2 6-7-2-5-3-5-4-6 0 2-6 2-6-3-6 1-6 6 1 1-6 5-4-3-6-6 3-6 0-6-4-6 2-1-7-4-4-5-5-6 0 6 3M999 3082l3-6-4-5-1-6-3-5 4-5 2-6-6-2 4-5 2-6-5 3-6 4-4-4-5 4-2 6-6-1-4-5 6-3 5 3 3-5 5-5-4 5 1 6 2 6-7 1 5 5 6 2 6 0 1-6 2 6 6 3 4-4 1-7 4-4 6 4 5-3 1 6-6-2 2-6 5-5 5-4M1143 3097l3-6 7-2 2-6 3-6 4 5 4 5 6-1 2 6 3 6 6-1 6-1 0 6-1-6 0-7 1-6-6-1-3-6-3-5 3-6 0-7 3-5 4-6 0 7 6-4-4-5-6-2-6-3-6-1-6 3-4-5-5-5-5-3 2-6 0 7 6-1 4 4-6-2 4-5 1 6 6-1M1167 3185l-5-3 1-6-5-5 3-6 6 1 5 3 4 6 5 3-3 5 3-5 4-5 7 1-6 3-6 4-2 5-6 3-5 5-5 4-3-6 1-6-7-1-4-5 4-5 7 2 3-6 0-6 0-6-2 6 6 1-5 5-5 3 1-6 7 0 4-4 6 3 5 4 1 7-5 4 1 6 6 1M1159 3098l-6 4 5 4 0 6 5 3 1 7 4 5-3 5-6-3-6 0-2-6-1-7-6 1 0 7-5 4 5 4 7-1-4-5-2-6-4 4-6 3-6 3-6 0-5-4-6 2-5-4-6 2-6-3-6 1-1-6-3-6-6-3-6-2-3-5-1-7-4-5-3-6-5 4-6 2 2 6-5-3M1150 3054l3-6 5 5 2 5 1 7-3 5-6 3-3-6-6 1-2 6-6 1-4-5-6-2-1-6-3 5 6 3 3-6-7-1 3-6 6-3 2 6 7 0 5-4 5-4 2 6-2 6 6 3 0 6-5 3-6 2-5 4 6 2 1-6-2-6-5-3-4-5 5-3 5-4 6-3 6 0 6-1M1005 3219l4 5-5 3-3 6-2-6-3 5 2-6 5-3 5-4 7 1 6 0 5-4 0-6-3-6 6-1 3 6 0 6 5 4 6 3 0-6 6-1 6-1 4 5 6-2 2-6-4-4-2-7 0-6-4-5-6-2-6 0-5-4-4 5-4 5-6-3-5-4-5 4-5-4 4 5 2 6 6 3M1112 3127l1 7-6 2-5 5-2-6-4 5-3 6 5 3 0 7-1 6 3 6 0 6-6 2-4 5-6 3 0 6 0 6-6-2-6 1-7-1-5-4-4-5 5-4 5-5-5-4-4 5-5 4 1 7 6-3 4-5 6 3 3 5-3-6-5-3-3-6-2-6 0 7-3 5-7 1-4-5 4-5M1022 3233l-1-7-6-2-6 0-6 1-7 0-6-3-2 6 4 4 2-6 6 0 6 2 4 4 5-4-1-7 2 6-6 2 6 0 5-4-5-4 1-7-5-4-1-6 3-5-1-7 4-4 6-3 6 1 6 2-6-1-7 0 0 6 1 7-1 6-5 3-5 4 4 4 3 6 4 5 1-6 3-6M1184 3155l-1 7 6-4 5-3-6-2 1 6 7 0-5-4-6 3-6 0-6-2-5-4-4 5-6-3-6 2-4 5 1 6 3 6 5 3 6 3 6-2 3 6-2-6 1-7 6 1 7 0 4-6-7 1-6-2-6 2-2-6 2-6-5-4 0-6 4-5 1-7 1 7-5-4 3 5 4 5 6-3M1011 3034l6 0-3 5-6 2-3-6 4-6 6-1-3 6-6 2 6 3 5 4-6 3 4 5-6-3-6-2-3-5 3-6-3-6 6 2 5-4 1-6-3-6-1-6-5-3-6 3-4-5-6-2-5 4-6-1-7-1-6 2-6 0 2-6-5 4-1 6 0 7-4 5 5 4-3 6 3-6 6 0M990 2997l-5 5 5 4 6 0-2 6-3-5 3-6 4-4 6 3-1 7 4 4 5 5-3 6 6-3 6-2 5-3 7 0 6 1-6 2 6 4 0 6-3 6-1 6 3 6 1-7-3-5 2-7-4-5-6 0 0-6 5-5 6-2 6 2 6-4 6 2 6-1-5-3-7 0-1-6 5 5 6-1M1060 3022l-2 6-2 6 0 7 0 6 6 3-2-6 2-6 5-3 2-6 3-6 4 5 6 3 6 3-7 1-5 3 1-6 5-3-2-6-7 0-3-5 4 5-6 2-1 6 5 4-1 6-6 3 4-5-1-6-1-7 4-5 5-4-5-4-7 2-4-4-6 2-6 3-4 4 5 4 5 4 2 6M1161 3033l4 6-6 1-1-6-3 5 0 7 3 6 6-3-3 6-4 5 1 6 6-1 5-4 2-6-5-4-6 2 5-5 5-3 0-6 6-2 4 5 3 6 5 3 7 1-4-6 5-4-7 1 6 4-6 1-4-5-6 0-3 6 6-2-6 0 1-7 6 1 6 0-4 5-5 4 5-4 4 4M1197 3140l-5 3-7 1 5-4-4-5-6-3-5 4 1 6-5-4 4 5 3 6 6-2-4-5 6-1 1 6 4 5 4 5-6 2 1-6 1-6 3-6 1-6-6-2-6 4-3 5 0 6 1 7 6-2 3 6 5-5-5-5-1-6 6 0-5-3-6 1 4-5 6 0-6-1-4 4-7-1 5-5M1138 3095l1 6 6 1 6-2 5-4 7 2 3 5 6 1-3 5-3 6 4 5 3 6 6 0-3-5-6 2-5 4-5-5 2 6 6 3 1 6 6 3 6 2 6 3-2 7-2 5-2 7 0-7-5-4-3-5 6-1 7-2-7 1-4 5 0-7 0-6 6-2 4-5 3-5 6 3-6-1-6-4M1033 3073l6 3 4-5 4-5 7-1 6 2 5-3 6-1 6-3 0-6-5 3-6 4-4 5-4 5-4 5-4 5-6-2 4-5 0-7-4-5 0-6 1-6-2-6-3-6-6-2-2-6-5-3 3-6-4-5-5-3 1-7 6-2 6-2 6-1 0 6 7 2-7-1 2-6-2-6-7 0-6-1M1123 2994l5 3-5 4-6 3-5-3 0-6 5 4 6 1 4-5 2 6-6-2-4-5-3 5-7 2-5-3-5-4-4 5-5 4 2 6 5 3 4 5 5 5 1 6 5 4 4 5 3 6 2 6-6 0-2-6 0-7 6-2-6 3 0 6-6-2-4 4 3-5 0-6 2 5-5 4-5-4-2 6M977 3178l-7 0-6-2 1 6-1 6 3 6-2 6-3 6-6 2-1 7 2-7-5-4-2 7 2 6 1 6 4-6-2-6 6 2 2 7-4 5-6 2 0-6 2 5 7-1 5-3 4-5 5-4-4-5-3 6 4-5 0-6-6 4 2 6-3 5 3 6 3 5 2-6 5-3 0-7-1-6 0-7M999 3075l-1-6-4-5-4-5-4 6-2 5 3 6-5 5-2-6 7-1 1 6-5 4-5 4-6 3-3-5-6-3 5-5 4-5-5-5-6 1 2 6-6-2-3-6 2-6 0-6-6 2 1 7-2 6 7 0-1-6 6-3 0-6 7-1 1-6-4-5-6-1 2-6 2 6 0 7-6 3 3 5M1177 3207l-4-5 5-4 6 1 7 1 0-7 3-5-6-2 3-6 2-6 0-6 3-6-4 5-5 4-6 3 1-6 7-2-5-4 5 4-3 6-1 6-3 5-7-1 2-6 5-5-1-6-1-6 6-1-2-6-5 5-5 3-7-1-5 4-2-6 0-6 6-2 6-3 6 2 6-3 1-6-6-2M1138 3033l-5 4 6-1 4 5-5 4-7 2 2-7 5 4 3-5 3 6 5 4 6 1 4-5 3-6 5-3 6-4-1 7-2 6-6-4-1 6 4 5 3 6 4 4-6 0 1 6 6 3 0 7-3 5 1 6 7-1 6 0 6-1 2 7-6-1-2 6-6-2-6 4-1-7-6 0-6-3-2-6M1183 3147l-4 5 2 6 6 3 5 4 5-4-3-6-6 1-6-2-4-5 1-6 5-4 6-3-4 5 5-3 4 5 1 6-6 3-6 2 2 6 6 3 2 6-6-1-2-6-7-1-3 6 4 5 4 5 4-4 0 6 6 4-2 6-4 5-4 5-6 1-2-6-6-3-6 0-2-6-4-5-6 0M1002 3166l-1-8-3-6 7 1 4-7 7-2 5-6-1-7 6-4-3-6-3-5 2-7 4-5 7-1 6 3 6 0 7-1-4-5-6-1-5 0 2 5 2 6 4 4 3 5-1 5 5-4 5-5 3 5 6 1 5-1 6-2M1053 3174l2 3 6-3-5 0-3 3-6-3-6-3-4-5 0-9-5 0-5 0 1-8 0-8 0-7 4-6 0-7 7 0 5 3-2 4 5 3 6 1 2-7-5-2 4-4 5-6-6-2-4 3 0 5 6 0 6 0 2 5M1167 3036l-4 8-9 3-9 2-3 7-4-5-4-4-1-4-7-3-3-4-6-3-7 4-7 4-7 5 4-2 4-3-6-2 2-4 4-1 3-2-3-4 3-3 0-4 4 0 4 2 2 6 3 6 0-5-1-4-7 5-8 2M1098 3068l-2-5 1-4 4 3 5 2-1 7-7 2 4-2-3-5-6-3-6-2-7-1-6 1 0 7-6 2-4 5-3 6-6-1-1 6 6-1 4 5 6 2-3-5 1-6-2-5-6-3 5-3 6-1 6 0 4 5 4-3M1092 3091l-7-1-3 6 3 4-6 3 3-5-5-5-1 6-6 1-4 5-5 3-6-2-3-6 0-6 6 1 3 5-6 2-3 5-5 2-6 1 1-6 2-6 7-1 6 0 5 3 0 6 2 5 5-3 4 4 4-5 3-5M960 3185l-1 2 9 0 8-6 8-5 8-2 3 4 0 3-1 3 8 0 7-3 4-8 7-1 7-5 3 4 4 2 5 2-5-1 4 2-2 2-4 1 6 1 1 3 3 3 3-8 6-5 1 4-6-1 6-5 2-8 5-6M1070 3080l1-6 3 6 4 4 5-1 0-6-5 4-5 5-6-1 5-1 3-5-6-2 2-6 5 3 5-2 3-5-1 7-6 4-2-6 1-5 5 0 5 2 2-5 3 6-7-1-6 2-3-6 2-4 4-4 2-4 5 3M1086 3005l0 9-6 3-6-2-5-1-6 0-3-3-5-1 1-3-3-3-4-1 0-3 5-1 0-3 4-2 6 1-1-3 0-3 6 6-5-2-5 0-3-2 7 3 4-1 4-1-3-2-6 1 3-2-3 8 0 9-6 4M1012 3079l-1 6-5-1 8-2 1-6 6-2 1-5-3-4 4 6-3 4-2-4 4 6 7 0 1 7 4-5 5 5 6-2 2-6-5-3-4 3 1 7-2 5 1 6 4-4 5 3 5 5 4-5 6-1 5 3 3-5 2-6M1098 3166l-7-2-7 0-5-5-4 3 0 4 0 4 3-8-4-7-2 5 5 0 3 3 5-5-3-7 5-4 4 2-4 3-2 5 2 3 5-4-4 3 5-4 4 1-2 4 5 0-2-8-6-6-6 1-5-6 5-4 4 1M994 3114l8 1 1 6 6 3-4-1-4 1-4-3-4 1 5 4 1 5 8-2 3-7 2-7-5-1-4-2-5 0 8 1 3 5 0 5 0 4 2 5-5-1 2 5-2 3 6 3 4 4-3 3-3-5-2 3-5 0-4 0M1174 3114l-8 3-9-3-7-4-8-4-7-4-8-1-3 6-5 5-3 5 2 4-3 5 4 2 4 0 4-3-2 5-3 5-3 5-7 1-4 4 3-6-1-7-2-7-7 1-7-2-2-7-5-5-6 2-7-3-1-6-6-1M1107 3130l-5 4-1 5 2 3 1 4-1 4-4 4 1 3-7-2-5 2-6-5-6-5-3 4 2 3-1 4-4 4-2 3 3 3-6-5-1 4 5-3 6 0-4 4-6-2-1 4 3 3-1 3 5 1 5-2-3-7-6-4M1013 3025l5 7 6 4 1-4-3-2-1 8 1 7 3 7-1 7 7 4 6 4 6 3 1-5 4-3 6-1 4-4 1-5 4-3 6 0 3 6 5-1 4 5-4 6 5 0 5-1 4 4 4 4 0 7 5-1 4-2 5 2M981 3055l-2-3-1 7-2 4-1 6-3 0-3 3-4 1 6 6 0 6 2 6 2 6 9 0 1 5 6 5 8-1 3 6 7-3 2-6 0-6 5-5 7 0 0-6 0-6 7-2 4 6 6-3 5-4 3-5-2-5-4-3M1037 2970l-2 9 2 9 7 1 2 9 0 9 6-1 6 4-5 0-6 0-1 8 7 1 6 3 6 1 5 2 5 6-2 8 0 7 2 7-4-3 0 7-6-2-5-2-6 0 0-5 6 0 6-1-2-5 3-3 0-4-6 0M988 2991l5-2-2-1 7 1 8 2 5-2 5-2-4 0 8 2 6 6 1-3 6 0 6 0-4 6-2-2 1-3-2-3-3-1-5 2 1-3 6 0 5 0-1 8 2 9 3 8 7 3 4-2 5-2-6 4 6 4-5 1M962 3163l5-8 7 3 7-6-1 3 8-1 2 4-4 1 8 0 5 3 8-3 2-8-3-6-3 2 1-8 2-7-5 0-3 2 1 5-2 3 8-3 7-3-5-2-4-1-4 1-4-3 3 5 8 1 7-1 0-7-4 1M929 3130l9 2 9-4 5-7 9 1 9-2 9 1 7 2 9-1 5-6 7 1-1 4-4 2-4 1 0 5 2 5 8-1 5 3 5 4 1 4 7-2-4-6-2-6-4-3 0 5 7 1 3 4-5 2 5-6-3-6-5 0M901 3090l-1-2 9-3 10 1 10 1 8 4 1 6 9 3-3 1 2 5-3-1 6 5 5 5 6 5 3 5-3-1 0 4-1 4-2-4-3 0-1-5 0-6 5 4-2 3 1-7-1 4-3 0 0-6 10-2-1 5 7 3M1051 3024l3-3-1-4 0-4 4-2-1-3-4 7 0 8-5 4-3-3-4 6-1 8-3-4 4-3-1-4 6 2 6 5 6 3 6 1 6 0 0 8 2 7 5 2 5 3 5 4-6 4-5-2-7 0 1 6-6 0-4-4M1105 3108l-1 5 1-6 0 5-1 6-2 5 4 1-4 4-6-6-5-5 3 4-4-6-5-5-7-1-3 5-5 3 3 4 0 5-7 1-2-7-6 0-5-3-4-5-1-7-2-5-6 1-2 5-5-2 1-6-5-2-5-1M1014 3184l7-1 4 2 6-6 0-9-1-8-2-7 6 1 4 4 5 1 6 2 4-7 3-7 6-1 6-2 0 4 1 5 3 2-4-6-2 4 0 4 6-4 3-7 5-5-3-6-2-8-2-7-1-6-5 2 3 4 6 0M1007 3044l7-2 7 1-4 4-4-2 1 7 1 7 7 3 5 5 5-4-1-5 6-3 3-4 5-3 3 7 6-2 6 0 6 3 2 6 4-4 3-4 1-4 4-3 0 7 5 4-6 4 2 7 5-1 3 6-4 6 3 5M1073 3081l-6 3 2 6-4 5-6 3-5-3-2 5 5 3 3 5 1 5 4 4 5-4-3-6-6 0 4 4 0 6-2 4-5 2-3 4-5 2 2 5 5-4 2 4 6-2 5 1 0 5-5 3-3 4-6-2 3-7 1 5M1083 3110l-2 5-1 5 4-4-7-1 5-3-3 5-2 5-5 3 3 5 5-5 2-6 3 4-7-2-4 4-5 3-6-4-4-5-4-5-3-6-5 3-2 5 6 1-5 3 3 4-2 5-1 5-6 0-3 3-4-5-2 4M1239 3050l-9 6-10 4-3 7 0-4 0 4 0 5-4 7-3 6-9-4-10 1-2 6-8 4-8 4-7-5-9 1-4-6-5-6-6 5-5-5 3 0 1 5-1 6-1 6 3-2 3-4 0-5-5-5-8-1-8 3-3-5M993 3228l-3-9 0 2 8-1-1 2-3-1 7-1 5 1 8-5 2 2 6-7-4-5-2-9-3-6-5-2 3-9-4-6-2-8 5-7 0-7 6-6 6-5 7 2 6-5-5-4-2 4 1 5 5 2-3 4-4 1 6 1M1182 3096l-10 2-8-4-6-6-2-6 1-3 3-3-3 6-3 7-2 6-7 3-8 2-8 2-4-6-3-6-6 4-6 4 1 5-1 6-5-6-1-6 3-4 5 2-5 5 4 3 2 5 3 3 4 2 3 3 4-1 4-1M1248 3112l-7-6-4-7-1 3-5 6-11 0-9 4-11 0-6-7-2-6 0 4-6 5-10 0-6-6-4-6-9 0 0 5 1 4-6-5-1-6 1-4 2-4 3-1-8 3-5 6-9 0 1-5 1-5 3 4 3 2 1 5M1074 3033l-1 8 5 3 2-4 2-5 0-4-2-4-4-3-7 3-6 3-4-2-4-2-6 4 3 7-4 5 2-4 5-1 5 5 5 5 4-3 5 2-2 7 5 5 5 1 6 1 4 3-1-5-1-5 3-4 3-3-3 7M1042 3059l0-5-5-1 6 4 6 2 4-4-2 7-1 6 4-3 1-5-5-3 6 4-2-5-6 2 1-5-6 2-5-1 0-5 6-2 5-3 6 0 1-4 1-5-4-2-5 4 3-4 6 1-3 6-2-4-1-4 0 8M941 3157l9 0 4 4 8-6 6-7 6-6 2-8 0-6 7-5 6 4 8 1 3 4-4 1 7 3 7-5 7 1 0 4-4 2-5-1 1-7 4-7-1 5 8 0-4 1-4 2-1-7 1-7 7-3 7-2 7 0 3-6M1058 3173l-1-8 1-8 2 3 3 3 3-7 1 4-5-6 6-1 6 0 5 0 5-1 6-2-1 4-5 3 5 1-1-8 5 0 5-4-1-7-7-4-6 1-5 3-7-2-5 2-5 1-4-6 3-6-4 4-2 4-5 2M1029 3096l4-5 2-6 0-5-2-5-3-4-2-4 2-5 2-5-4 4 6-1 7 0 4-4 0-5-5-2 2 7 7-1 3 7-5 4-4 5-5 2-3-4-5-2 2-6 2-4-4-3-4-2 5-3 6-2 2 7-1 7M1060 2998l-6 3-4 7-5 1-5 5-5 0 3-3 2-4 5-1 0-3-1-4 5 6 7 3 2-3-1-4 6 2 4-2-6 1-6 2-4 6-5 6-1 8 3 8 3 7 6-2 5 0-3-3 2 7-3 7 2 7 4 6M975 3118l6-5 7 3 7 3 7 3 7 2 6 3-2 3-2 4 2 5 1 4 4 4 7-4 3-7-4-5-4-4-4-4 4 4 3 5-2 3-5 1 7 2 6-4-2-6 3-7 1 5-2 4 6-4 6-3 7 1 5-4M1056 2936l-4 1 6 4 5 8 6 6 5 7 5 2 5 3 4 1 1-2 2-2-5 0-2-2-1 10 5 1 2-1-6 3 1 10 1 8 0 9-1 9-2 8 3 7-4 7-6 4-6 2-4 6 1 8 4 5-1 7-6 1M1165 2980l0 8 1 8-9 5-7-1-9 1-6-2-8 3-8 0-6 6 0 8-8 3 0-4-5 7 4 3 4 5-6 7-6 4-6 6-2-4 3-4 4-1-2 7 3 6 2 6-3 7-2 7 2 6-7 0 2-5-7 1M1086 3079l4-4 0-5-5-4-7 1-6 3-5-4-5-2-4 6-6 0 1-6 6 2 6 1 2 6 5 4-6 3 5 4-3 6 1 6 4 4 6 0 3 5 0 5-5-4-6 2-5-5-6-1 1-6 2-6 3 6 4 4M974 3232l-1-9-2-8-2-6-3-2-3-5-3-2 9-2 3 3 1-10 7-7-3-5-3 1-3-1 3-9 1-8-3 1-2 2 8 0 8-2 6 3 4 3 7 0 8-3 4-7 2-8-3-7 2-7 0-8 4-6 7 0M1171 3223l-9-7-6 2-6-10 2-6 1-9 0-8-9-3-8-3-2 3-8-5-4-8-5-7-1-8-3-8-3-8 2-6-2-7-7 2-3-7-1-7 5-1 2-6 4 2-6-5-5 4-2 5 5-1 4-3 5-1 3 3M983 3129l8-3 2-7-4-2-1-5-4-2 0 5 6 4 8-4-1 4 4 5 2 5-3 3-4 1 1 5-1 4 7 1 8-2 7-3 5 3 4 4 6 2 6 1 5 2 7-2 6-1 1-8-3-6-4-6 4-5-4-5M1128 3073l-4-6-2-5 4 0-2-5-7-2-8 1-7 2-3-4 5 1-7 0-7-2-7 1 4 5 4 4 5 4-7 3-6-2 0-5 4-3-3-5-6 5-6 2-3 6 5 2 6 1 3 5-1 7 5 0-4 5-1 6M1188 3056l2 2 0 6 0-3 1-2 1 5 1 4-5 6-7 6-8-3 2-2-3-5-3-6-9 1-9 2-7 5-5 6 3 3-9-1-7-2-4 6-5 5-4 6-8 0 5 0-7 3-1 6-4 4-4 5-7 0-3 5M966 3145l7 3-3 1 7 2 9 0 4 4 2 4 4 3 6 3-1 3 6-7 6 2 7-5 7-3 6 2 3 3 1 4 6 0 1-8 4 3 3 4-4 2-5-4 6-1 1-8-2 4-5 1 6 1 3-7-3-7-5 1M1071 3100l-3-6 3 6 5-2 5 2 4-5 5 1 5 1-5 4 3 4 3-5 1-5 2-6 5 0 4 2 2-5-6-4-6 3-6-4-6 3-7 3-3-5-1-6-3-5 2-5 6 1 4-3 2-4-6 3-6-2 2-4M1096 3139l5-2 5-3-7 2-6-5-7 0-6 2-7 0-5-5 5-3 1-7 5-4 4-4 3-6-7-3-6 1-1 6-2 5-7-1 5 3 0 6-7 0-5-4 1-7 7 0 5-3 5-3 1-6 5 2 2 6 5 0M966 3129l7-6 4-6 8-4 0 5-3 1-2-5-3-4-3-2-2-4-3 0-3-3-2 3 8-3 7 4 6 4-1 5-3 2 1-7-3-4-3-2-2 3-3-2-3 2-3 1-1-5-3 2 9 0 8 2 1-6 8 0M891 3038l0 0 0 5 6 8 2 6 1 6 5 7 10-2 1-4 9 5 3 7 0-4-2 1 0-4 5-5 9 4 5 7 4 6 0 6 9 1 9 1 9-2-3 4 1 5-3-4 9 0 8-3 0-5-4 0-2-3-4 3M1059 3116l3 4 0-6-2-7-2-6-6-1 3-6 6 1 5 2 6 0 3 5 3 5 4-3 2 5 5 2 2-6-4-5-4 4-7 2-6-2 4 4-7-1-3-6 0-6 3 5-4-5 2 6-4 4-4 4 2 5 6-1M934 3038l3-4 8-3-1 6-2 5 4 7-2 3-1-3 2-4-1-4 9-1 9 1 0 7-2 4 5 7 7 4-2 4 0 6 3 7-3-1-3 0 2 6 9 1 8 1 6 4 3 6 5 5 3-6 8 1 6 4 7 1M1094 2998l-7 0-6 5-6 0-6 1-6 2-6 0-4-2-3-2-5-1-5 2-4-1-5 3 1 9 7 3 0 9 4 7 3 7 1 8-4-3-5 3-1-4-5 1-3-4 7 3 0 7-1 7-1-5-5 3-5 4-3 5M1170 3094l0 5 2-3-8 4 0 5 1 5 1 3-4 6-9 0-8 2-3 5-8-1-1-7 1-6-1 5-8 0 2-5-8-2-6 3-6-5-1-6-1-6-5 4-6 3-7-3-4 4-5 4-4 5-5 3-1 5-3-7M948 3075l5-5 1-5-3 3 4 7-1 5-2 3 6 6 2-6 6-4 6-5 8 1-3 1-2-4-3 2-3-1-3 3-2 4 9 1 3 7-4 1-2 4 9-2 2 6-4 0-3-3 4-5-3-3 9 0 8 0-2-4M931 2991l-10-2 4 2 0-19-9 3-8 4 1-9-7 2-4 5-9-9 2-12 7 10-11-14 2 2 0 4-5-7-18-3 12-10 14 7-15 0-7-18-2 9-8-5 9 4 3-14-13-5 3 11-20-11 1 2 4 6-20-10 7 2 7-4-18 2 3 10-8-17-11 12 6-5-7 8-12-1 6-8-14 0 10-5-18 4-6-7 8 10-6-13 1-5-7 4-3-3 4-3-13-3M928 2993l-4-8 9 6-11-4-6-10-4 3-7-3-3-5 3-6 1 8-8-12-1 4 1-16 0-6-14 2 7-8-8-2 1-2-5-3-3 1-8 6 4-9 0-6-7 3-14-2 19-8-7 6-3-5-29 0 8-10 8 6-8 3-2-4-15-3 7 3-9-11-16 8 7-4 1 2-18-6 6-4-7 5-1-2 0-5-10 3-11 16 10-3-15-9 0 4-8 7-7-12-3 14M927 2986l-7 4-9 8 3-3 2-8-4 3-4-15-5-5-8 4 2-12-9 11 1-5 1-7 1-6-2-8 3-4-3 0 1-8-10-6-1-7-1 6-3-8-5 1-1-3-16-7 3 15-1-15-5 6-11-23 2 23 12-13-24-4 10-7-5 11-13-14-2 13-1-1-11 9-1-16 4 1-7-8-10 19 1-13 3 0-10 14-13 1-3-1 3 10-5-9-12-1-2-7-6 10M881 2941l-18 3 1-4 5-3-16 17-3-13 6 8-9 6-15-2 3 4 2 2-6-6-3 9-13 1 12 1-2 2 6 0 5-8-2 1-7 0 3-10 9 0 5-4-12-4 17-7-1-6M870 2937l-5 7 0 6-7-4 8 4-6-8-17 13 1-1-13 5 12-6 5 17-14-1-3 1-15 7 1-2 2-6 7-14 5 4-6-10 3 6 6-17 0 5-3-10-1-2 16 1-8-11M873 2943l2 4 0-5-9 5-10 2-1 9-1-5-12 1-7 5-3-5 5 4 4 8-19-8 4 10-6 2-9-11 6-4 9 3 7-8 0 2 4-6 13 1-15-7 2 1 4-4-4-5M1104 2957l-8 11 6-8 1-7-7-14 4 7 3-3-3-10 0-4-2-8 5-6 11 0-12-2 5-7 2-1 3-13-2 0 0 0 2-7-18-3 6-10-4 4-3-14 3 7 2-6-8-7 9-15-2-5 3 5 20-2-4 6 4-1 5 1 4-6 0 14 0-10 16 5M1109 2961l-8-11-1-3 4 2 1-14-8 5 0 5-8-11 10-12-8 5 9-6 0-1-10-11-1-9 4 1-1-7 2-4 3 15-4-25-5 1 6 1 9-8-3-3 10-9-4 6-2-18-6 9 3 4 7-7 4 15-1-11 5-4 4 4 7-8 4 11 10-6-8 4M1110 2960l7-4-7-3 7-3-9-16-2 6 14-14-7 1 0 0-1-1-10-3 1-4 1 0-7-19 5 4 7-3-4-10-12 5 9-11-3-8 0 1-6 1 5-8 2-2-6-3 7-9 5-9-8-3 13-6 3 8 0 10 2-16 14 4 12 1-10 1 7-3-6 0M1207 3044l3-7 5 5-7-3 18-5-4 3 1-16 10 0-3-7 10 6-1-2 13-5-13-7 25 12-2 3 3-2 1-1 7 12 4 10 4 6-6-10 13-5-4 11 6 2-6 13 13-5 0 0 5 9 2 5-2 5 2-1 16 7-1-10-4 10 8 16-14-5 0 13-3-8-8 4 1 13 3-4-7 1-6 18-7 1 1-9M1208 3051l-12-7 10-13 1 1 16-3-7-4 18 12 1-7 11 4-8-2 12-1 15-5-6 10-7-15 2 3 1 12 2-4 1 7 11 7-3-1 10 13-7-19 11 20-8 8 4 6 7-12-7 8 9 2-6-2 13 11 3-4 9-2 12-3-2 10 10 0-17 12-4 3 8 7-15-9-4 1-1 11-2-1-1 6-12-5 7 14M1210 3047l-2-13 5-5 6 5-9-2 5-10 14-1-1 11 6-12 3-6-8 12 6 5 0-15 25-11 2 16 9 1 0-3 8-4 3 14-6 10 6-11 1 20 0 0-8 0 6 5 11 6 12-7-6 3 6 15 1 4-7-2-4-9 28 16-14 2 0 6 7 3-12-7-2 4 6 10-27-4 8-1 0 3-12 9 0 10 4-5M1087 3249l-8-7 12 4 0 6 18-1-5 15 2 1-6 5 2-14 14 22-11 0 7 2-2-2 14 14-14 10 6 2 0-8M1080 3243l9-3 3 3-11 14 7 3 3 5-8 4-4 3 8 5-2 4 14 3 0 5-5 5 9-3 6 17 2-4-2 7M1096 3233l-3 12 3 0 2 4 5 3-1 7 4-2 2 18 2-2-4-1 11 16-13-10 15 11 3 8-13-6 16-5-10 14M998 3238l5-2 3 9-14 12-13-4 6-4-7 17 5 0 2 8M995 3242l14 7-17 2 7 6-13-8 6 13-5 5 3 5 5 11M1003 3240l-16-4-4 2-4 7 6 2-4 11 0-2-11-7 13 16M865 3064l-6 0-3 3-4 6 0 0 0 19-8-17 3 8-3 6-6 3 9-13-2 12-2 5 12-1-8 4 1 7 4 3 1 2 5 10M866 3061l-10 5-6 0 2-4-4 5-2 7-12 4-5 3 7-8-7 22-5 1 16-8-5 4 5 10 2 0 21-13-6 15-3 7-6-13M849 3065l1 3 3-5 1 16-1-3-14 5 2 1-3 8 3-2 3-15 8 15-5 8-5-4 1-3 7 15-6 8-1 8-2-3 10 7"/></defs>
<use href="#cl1" fill="none" stroke="#efc4bf" stroke-width="6.8" opacity="0.45" stroke-linejoin="round"/>
<use href="#cl1" fill="none" stroke="#a63b35" stroke-width="2.2" opacity="0.85" stroke-linejoin="round" stroke-dasharray="5 4"/>
<path d="M236.1 747.4 L300.3 747.4 M300.3 747.4 L300.3 809.3 M300.3 809.3 L236.1 809.3 M236.1 809.3 L236.1 747.4 M242.6 753.9 L293.8 753.9 M293.8 753.9 L293.8 802.8 M293.8 802.8 L242.6 802.8 M242.6 802.8 L242.6 753.9 M236.1 747.4 L242.6 753.9 M300.3 747.4 L293.8 753.9 M300.3 809.3 L293.8 802.8 M236.1 809.3 L242.6 802.8" fill="none" stroke="#3c3c3c" stroke-width="0.75"/>
<defs><path id="cl2" transform="scale(0.25)" d="M1545 3149l0-7 4-2-6-4-7-4 5 2 1-6-7 2 5 0 5 0-6-4-3-6-5 6-5-3-4 5-3 6 5-4 3-5 2-5 5-2 1 6-6-1-7-2-4 5-5-3-1 7M1551 3084l-8 4 4 6 4 0 4 2-4-3 4 0 2-3 0-3-3-4-3-3-1-3 3-2 1-2-5 8-7 0-3-3-4-3-6 0 5 0-5-2-7 3-5 6-5-1 2-3 5 5M1498 3161l6 1 2 4-5 0-5-4 1-7-5-1-5-3-3 3-2 3-4-3 7-4 2-6 7-1 3 5 6-4 0-6-4 3-2-5-4-4-5-2 2 6 4 5 7 2-5 2 5 3M1421 3114l7 6 0-4 10-2 10 2 6 6 7 5 9 0 0 6 8-3 4 6-4 2-4-2-4 0-1-5 3-6-4 3-3 1-4 0-2-3 5-5 9 2 5 5 7 4 6 4 7-1M1476 3165l8-1 6 3 4 3 7-1 6-5 6-3-3 4-5-1-5-4-4-5-4-5-3-5-4 3 7-4-2-5-1-6-5-1-1 5 3-6 5-5-4 3-1-6 2 7-4 3 8 1M1542 3116l4-3 3-2-6-3-6-3-6 4-4-4-3-4-5-3 1 8 3-4 4-2 6 2 3 6-7-1 0-5-7 3 5-2 1 7 5 4 5 1-7 3-3-4 4-2-3-5-5-2M1484 3098l-4 0 1-4-4-2 8 4 8 3 7 2 4 6-1-4 0-5 3-4-2-3 5-3 6 4 0 8-6 2 3-3 7 1 3-3 4-3 5 0 4-2 1 8-7-1-4 7-1 7M1519 3127l-5-4 5-3 4 4-2-5-1-6-2 7-3 6-3-5-1-6-6 2 1 7-4 4-1-5 1-6 4-4 7 3 4 5 6 2 0 7-5-3-6 2-1-6-5 2 5 4 4 4M1552 3121l-7-2-6-4-1-5 5 1 3 5-1-5-3-4-4-5 4 5 2 6-5 6-7-1-7 1-3-5 4-3 4 5-3-5 5-1 5-1 0-5 0-4 5-2 4 2 4 4-3-4M1496 3215l7-4 0-9 0-10 6-4 6-1 6-5 6-2 3 3 5-5-2-8 5 0 5-4 4-1-5-6 4-5-2-7-4-6-4-6-7 0-2-6 5-3 2-5 4-3 3-4 0 7M1515 3205l5-7 4 0-3 3-1 2 0 2 2-9 5-6 5-1 0-9-3 3-3 3 3 2-1 3 5-4 5-4 3 2-5 3 2 2 4-6 2-8 2 3 0 3-1-9 4-4 4-3M1488 3188l2 3 1 3 1-9 6 0 6 1 7-2 0 3-1 3 1 3 3-8-5-6 2-9 1-7 3 3 2-7-5 0-2 4 4 3 4 3 4-6 5-4 1-7 1-7 0 5 5 1M1517 3106l0 7 0 7 6 0 5 3 3 5 2 6-2 5 2-5-7 0 0 6-2-6-5-4-6 0 6 2 2 6 5 1-6 2-4 4-5 2-4 4 7 1-4 3-6-2 1 5 5 2M1572 3048l-6 0-8 6-1 10-5 9 0 9 4 0 0-3-2 9-5-3-5-3-7 0-5-1 1 8 3 6 2-3 4 0-2-4-4-3-6-1-6-1-3-3 5 6 4-1 4-1 5 4M1526 3178l5-4 4 0 5-2 4 1-6 2-7-2-2-8-4 4-6 0-5 1-6 0-4 2-6-3-4 0 6 1 7-1 5-5 2-7 3-6 3 4 2 4 5-4 0 5 3 4 5-2M1571 3202l-4-9 3-4 1-8-4-8-7-5-8-1-3 4 4-3-8-1-6 1-8-3 5-5 1 4 4-4 4-5 4-2 2-6-7 1-8-1-7-1-6-3-4-5-6 2-6-2-3-4M1508 3085l6 0 6 1-3-3-3-3 1-3-2 8-4 7-3 6 5-2 6 1 5-1 4-3-5-1-6 2-5-1-4-3-1 8-2 7 1 8-5 0 6-1-5 0 1-5 7-1 4 6M1559 3082l2-2-7-1 4 4 0 8-7-1 1-3 3-1 4 1 4 0 2-2 1-2-1-4 1 8-7 6 4 3 1-3-6 6-8 3-8 2-6-1-7 0 1-5 3-3 5-1 5 1M1553 3162l4-1-7-5 0-6 0-7-6 4 0 5-6 4 0 4 2 4-5 3 2-6 5-5-1 5 4 2 3 3 4 0 4 1-7-6-7-3-3-7 2-5 2-6-7-2-4 5-2 5M1572 3187l-3 3 2-7-5-8-1-8-6-6-8-4-4-7 2-5-5 4-5 4-1 5-3 4-4-7 1-7 4-4 1-6-1-7 5-2-2-6 1-5 0 6-3 6-1 6-2 6-6-3M1506 3051l-4 8-4 1 1-3 6 2 6 6 3 9 5 5 4-2 2 8 5 0-4 7-6 0 2-4 5 5 2-3-2-4-5-2 6 1 4-1 5 1 5 1 4 0-5-3-2-3 2-3M1516 3133l-2 6-6 0-5 2-6 0 1 5 4 5 1 5 2 4 5 3 6 1 5-5 6-1 0 5-6-4-7-2-3 4 0 4 1 5-2 4-1 3-5 0-3 3-5 0-4 2 5 2M1481 3205l2-10 3 3-4-3 4-8-1-9 0-8-4-4 0-8 2 5 5 3 5 3 1-7 7 0 3-7 6-5-4-5-5-3 1-6 6-3-6-2-5 0-5 0-4 3-5 1 4-6M1517 3201l-2 3 0 2 4 0 3 2 4 0 2 1-2 2 2 2 5-3 2 1-6-7-1-9-6-7 3 3-3 2 3-8 3-8 2-7-6 1-2 4 1 4 3 3-7-2-2 4 6-4M1533 3108l4 4 5 0 4-2 4 3 3 5 0-5 1-4 4 0-2-5-1 7-7-2-7-1 1 7 1-5 1-4 4-2 3 4 4 0 4 3 3 4-3 7-6 6 4 2-4 6-6 5M1548 3095l4 3 4 2 2-3-1-4 1-3-8 0-4 7-6-2-6 5-7 0 3 6 0 8-6 3-2 7 1 6 5 3 0 6-6-4-1-6-2-6-1 7-6-2 4-5 1 7 0 6M1486 3162l7-1 4-7 7-2 5 3 5-4 6-1 5-4-1-7-5-5-4-4 6-2-6-3-3-5-3-4 3-5-5-2 1 7-2-4-5 4 3 7 3-5 6 2 6 2-4-4-2-5M1600 3098l-8 6-9 4 3 0-4-5-6 7-6 6-3-5-9 1-7-2 1-5 4 0 3-1 3-2-1-4-7 6-7 4-7 2-7 0-1-4 3-3 6 1-8-1-6 1-2-4 6 0M1484 3099l0 7-2-4-3-2-4 0-3 5-3-1 2 8 5 6 5 6-4 3-3-4 6-4 3-5 4-5 2-5 7 2 6 5-2 7-5 3-4 2-5 1 5-5 7-2-1 7 6 4M1510 3117l-4-4-5 4-5 3-4-2-2-4-1-5-1-5 5-3 1-5 7 2 7 3 4-3-5-1 5-1 6 1 0-4-1-4 4-3 3 8-3-4 6 4 0 8 4 5-3-4-6 0M1450 3100l7 6 1 7 7-4 0 7 3 7 7 4-1 5 2 6-3-3-4-1-3 1-3-4 3-6 7 5 6 4 6 4 8 1-2 5 7 0 1 6 6 0 6-4 4 3 5 3 3-6M1512 3109l3 6-4 5-6 2 1 6 4-5 0-5 6 2 4 4-6 0-2 6 1 6 5-4 6 0 3 4-5 3 5 3 0-6 4-4 1-6-5 4-3 6-2 5 5-3 0-7 0-5M1499 3142l7-1 6 1 1-7-6 0 3-6-4-4 5-3 7-1-2 7-3 5-6 0-5 3 2-6 4 5 6 1 2 6 2 5-4 3 5 1 5 3-3 5-6 1-1 5 1-8-2-7M1504 3100l5 5 1 7 6 3-4 5 4 5 6 2-4 5-5-3-6-2 6-2 5 4 5-3-4 5 0 6-6 1 1 6-1-7 4-5-5-3 5 3 6 2-5 5-5-2 5-2 6-1M1591 3120l2 2 1-3-2 6 0-4-3 6 0-4-8-5 0 6 2 2-3-6 1-4 2-1 2-3 0 6-1 6 1-4-8 4-7-4-7-3-8-2-5-4 2 5-1-5 2-4 2 6M1815 2977l-10 4-12-1-9 2 0 3 1-3 1 1 2-3-9-4-7-6-4 6-8-5-4 6-8-3 1-5 2-4 3 2-1 5-8 2-7 3-7 4 3 4 3 2-1 5-7 3-6 2M1702 2967l-6 3-1 6 6 1 3-6 1 6 4 4-5 3 6 1 5 0 5 0-2 5 4 3 5-1 4 2 4-3-4 4 4 0-5 4 4-4-7-3-8-3-1-7-1-6 4-5 4-4M1750 2942l-5-4-1-5-5 8 0 7 4 3-8 3-4-5 3-3 4-2 4 0-5-4-7 2-6-2 0-5-6-2 0-4-6-1-4-3-6 0-1-4-1-3-4-3 2-3 1-3 5-1M1682 3017l7-1 6-3 1 4 4 2-4 2 6-4 0-8-6-1 2-8-3-7 2 5 4 3 3-7-5-4 0-7-1-7 5-4 4-5 4-3 1-6 4-4 2 6 4 4-5-4-7 2M1586 2955l8 6 4 6 5-6 9-4 8-4-1-3 2 7 3 6-2-2 4 7 7 5 6-6 9 3 8 2 7-3 5-5-1 5-2 4 7-2 7-3 1-6 3-5 1 7 4 5 2 6M1836 2996l-7-7-11 3-6 5-9 3-6 4-6 4 0 1 1 1 1 0-7 3-9 1-10-1-8 0-9 0-8-5-6-7-7-5-1-8 2-5 4 1 4 1-1-7 2-5-1-6 4 1M1631 2956l0-3 1-5 6-5 8-2 9 2-3 4-3 3-1 6-3 3-3-1-3-1-1 5 3-5 2-6-1 5 2 7 9-1 1-5-2-4 8-2 1 6 2 7 8 1 7 1 7 3M1707 2965l2-5-5-3-6-1-5 2-4-4 3-4-1 6-4-3 6-2 1-6-5 5-2-4-4 4-4 4-5-2-3 5-4 0-3-3-4 4 3 7 8-2 5 5 5 5 0 6-3 4M1612 2971l7-6 0-4 9-4 9 0 7-4 9 0 2 7 9 0 6 4-4 0-2-5 0-5-1-5 1 7 5 6 7-2 7 1 5 4 6-2-3-5-4 5-4-4-5 3 4-5 5-4M1730 2993l-7-5 2-6-7-3-7 2-5 3-5 3-4 4-5 1-4 3-5 1 4-6-5-4-3-6-3-5-4-3-4 4 7 3-4-4-4 3-4-1-4 2-1 4-4 0 3 5-2 4M1661 2970l-1 6 8 1 2-7 7-2 7 0 1 6-1 6-1 5 5 3 5-5 6-3 5 3 5 2 1 5 5-1-1-7 4 3-4 5-3 4-4 4 1 4-7-1-5 1-3 3 0 4M1661 2969l-1 5-3 2-4 0-4 1-3 1 0 5-3 1-3-1 7-5 9-1 1-7 6-4 7-4 4-5-2 5-5-2-3 4 3-6 5-4 7-2-4-2 1-5 2-5-2-4 6-1M1635 2978l9 2-1 4 2 5 6 4 5 4 7 2 6-5 4-7 1-7-4 1-4 2-2-5 6-5 7 0 5 4-2 5-2 5-2-6-4-3-4 2-5 1-2-5-4 1-3 2-1-5M1767 2996l1 2 2-3 2-1-2 4 0-6-8 2-6-7-8-3-7-5-1-6 1-5 4-2-2-6 2 4-8 0-8-1-3-5-2 6-7 0-5-5-3-5 4-3 5 3 5 1 5 2M1669 2964l3 6 3 6 3-6-3-5 7-2 7 1 4-4-5-2-2-5 2-5-2-4-2-5 7 1-5-2-5 0-3 6-3 6 7 3 3-4-3-4 3-5-1-4-1-4-5-1-5 3M1650 2993l1 4-2 3-2 2-3 0-2-5-2-4 2 4-2 2 3 4 9 0 6 3 7 1-3 1-4-1-3-6 8-4 7 1 4-7-4 2-4-4-4 0-2 3 4 5 6 2-4-4M1701 2962l2 6 5-4 1-6 5 1 4-3 5 1-5 5-7 0-3 5 0 6 1 6 2 5 3 4-6-4-3-6-4 4-6-2 0 5 1 5-3 4-2-6-1-7 1-7 3-6-5-3M1672 2984l6 3 4-7-2-5-5 1 0-6 3-6-1 6-4 0-4-3 4-5 7 1 0 6 1 6 6 0 6 4 4 3 6 2 0 5-4-5 2-7 5-4 5-2 2-6 4 4 2 5M1653 2968l8-3 5-5 1-5 8-1 7 3 6 4 6-3 6-1 5 3 6 0 3 6-3 5 3-4 2 6 5-2 5 0-1-7 0 6-5 5 1 6-5 4 3 4 4 3-7-2-6-4M1620 2986l6-6-2-1 1-6-2-1-2 2 4 6 6-6 10 0 4 5 3 6-1 4 0-7-3-1 0 4 1 5 2 5-3-2 0 4 3 5 9-3 5 4-2-6-2-6 0 4 1-7M1855 3192l-7-1-7-3-6-1-5 1 5-4 2-7 2-6-6-3-3 4 3 5-1 5 1 5 4 2 6 0 4 2 6-2 4 1-7 2-6 0-7-4-3 3 3 4-3 3-4 3-4 2M1841 3126l-2 7-6-1-6 0-5-2 1-4-2-4 5 6 7 2 4 5 6 3 5 1 5-1-2 7 4 4 5 0 0-5 2-4-1 7-1 6 1 6-7-2 5 0 1-6-6-4-1 6M1845 3251l-5 0-5-8-7-4 4-9 5-7-1 3 5-7 1-8 4 2 4 1 5-3-5-7-5 2 0 4-2 3 0 3-6-3 0 4 3 2-1 3 4 1 3 1 5 0 4-1 5-5M1821 3119l1-4-5 0-5 3-4 5-3 6-4-1 6 5 4 7-2 6-2-5 7-2 5 5 6 5 6-1-6 3-5 3-2 5-2-5-4 2 0 7-3 4-5 0 7 2 3 5 0 5M1812 3159l1-6 0-6-4 5-1-6 6-3 6-1 1 7-5 3-4-4-2 5-5-1-5 1 8-1-5 0-1 6-4-2 7 1 2-6-3 5-4 1 5 4 1 6 3 5 1 6-5-3M1821 3200l2-8-5 1 2 4-4-6-3-6-4 1-2-6 4-6 7 2 6 2 6 0 6 0 2 5-1-7-6 1-6-1-6-2-5 0-1-6 2-7-3 5-4 3-1-6 0-6 5-4M1840 3176l1-7 3-5-5-5-4-4-5 4-5-4-5 3-3 5 4 5 5 4 2-6-3-5-5 2-2 6 7 1-3-5-6-1-1-6 1-5 1 6-2 5-5 0-3-5-3 4 6 4M1847 3150l-6 2-5 5-1 6-4 4-4-4-4-5 6 1 7 1 3 5 5 3-4-6 0 6 0 6-3 5 6 1-4 4-6 0-4 4-5-6 7-1 6-1-1-7 2-6-2-7-6 0M1839 3122l-6 2 5-1 6 5 2 7-7 1-2-5 2-4 4 6 3 6 5-1-6-2-5-3-5-2-6 4-6-1 2-4-5 3-4 6 4 6 6 3 5 4-5 3-2 6-5 3-5-2M1808 3176l-5 1-4-1-1-7 1 6 2 5 7-2 6-5 1 6-4 2-3 3 7 0 5 2-4-4-1-7-5 0-4-4-3-4-5 0 1 6 7-3 7-2 3-6 3-6 5-4 6-1M1835 3203l-5-6-1-8 6-2-5-5-1-7 1 5-2 4 4 4 5 2 4-6-2-7-6-4 0 5-1 5 2 5-3 4-6 0-1-8 0-7 2-6 2-7-3 5 6 3-1-6-5-4M1839 3162l4-2-3-6-4 5 6 1-5 4-5 3-5 3 4 4-3 4-5-3-6-2-4 3 0-6 7-3-3 5-5-3-2-6 7 2 5 4 7-1-4 4-2 5-6-1 4-6-1-6M1823 3180l5-5 1-7 3-6 4-4 3-5 0-5-6 2 4 5 5-4 2-4-2-6 2-4 1-5 5 0-6-2-7 4 5 5 3 6 0 7-4-5 4-3-5 5-1 7-1-6 1-5M1806 3192l7-5 2-7 7-4-2-6-5 2-3 4-1-7 6-4 6-1 4 5 5-5 5 1-2-5-5-3-4-4-1-6 5-3 6-1-6 1-2-5-4-4-5 0-1-5-3-3-3 7M1849 3160l2 5 4 1 3 4 0-6 2 5 4-2 5-1-3-6-7 3-4-5 1-6 4-2 5 2-1 6 5 0 3-3 4-2 3 0 0 6 4 2 3 2 2-4 0-5 3 4 1 4M1773 3016l-5 4-6 1-3-5 6-2 6 3-1-6-1-6-6 3-6 1-4-5 5 4 6-2 3 6 6-1 2-6-4 5-6-3-1 7 1 6 3 6 3-6 2-6-3-6-6 0-5 3-6-2-7 1-6 0-5-4-6-2-4 4-4 5-6-2-6-1-7 0-5-3-6-3-6-2 4 4 6 4M1639 3235l-2-6-4 5-2-6 1-7 6-2-6-2-1-7 5-3 0 6 3 6 2 6 6-2-6 1-5 4-6 2-6-2 5 3 3-6 4 5 4-6-1-6-4 5 6 0-2 6-6-2-4 5-5 3-4-5 5-4 4-5 0-6-6 1-7 1-2 6-1 7-4 4-5-3-3-6-6 3 6-2M1651 3044l6 1 3-6 6 4 4 5 6 2 4 5-6 3-4 5 2 6-3 5 6 3 6 2 3 5-6 1 0 7 6 2 1 7 5 4 5 4 6 2-1 7 5-5 6 0 4-5 4-4 6-3-3-5-2-7 2-6 4 5 6 2 7-1 6 0-3 6-3-6-6-1 5 4 6 1-3 6 0 6M1730 3019l0-7 6 1 6-2 5-4-3 6-3 5-2-6 6-2 5 3 6 2 5-5 5-4 5-2 0 6 2 6-3 5-5-4 5 5 6 1 6 1 6-4-2-6-5-3 6-3 6 2 1-6 0 7-4-6 4 5 6-2 6-2 4 5 3 6-6-2-5-4 5-4 5-4-5 3-6-3-6 2M1782 3152l0-7 6-3 6 0 1 7-4 5-4 5-2 6 2 6 3 6 5-3-5-4-3 6 0 6 5 3 6-1 4-5-2-6-6 3-5-4 0 6 2 7 5 2 4 6-4 5 3 5-4 6 5 4 6-2 4-5-5-4-6-2-6-3 3-6 6-1 1 7 6-1-5 4-7 1-4 4 6-3M1652 3160l6 3 3 6 1 6-6 4-6-2-2-6-4-4-6-3-6 2-3 6 3-6 6-2 5-4 1 6 0 7-1 6 6-1 6 1 6 2 5-5 3-5 3-6-7 0 7 2-5 4-4 5-4 5 3 6-4 5-2-6-6 0-2-6 6 2 1-7-6-2-4-5 2-6-3-5 4-5 6 1M1656 3101l-3-5-7 0-6 0-4 4-3-6-5-4-2 6-1 6-6-1-6 3-6 1-5 5 5 4 3 6-6 3 2-6 5 4 5-3 3-6-1-6-2-6-2-6 4-5 6 1 4-5 6 4 5 4 5 3 0 7 0 6-1 6-7 1-5-3-7 1-6 3-2 6-7 0-2-6-5-4 6 1M1577 3206l1-6 6 1 6-2 0-7 3-5 4-5-2-6-3-5-3 5-5 5-6-2-4 5-5 4 4 5 0 7 2 6 2 5 3 6-6-1 0-7-3-6 4-5 0-7-6 1 5-4 6-1 6-4-1-6-6 0-6-2-4-4-2-7 2-6-2-6 4-5-1-6 5-3-3-5 6-2 6 2M1651 3065l6 2-3-5-7 0-1-6-7 1-4 5 6 3 1 7 1 6 3 5 0 7 0 6-6-1-6 1-7-1-6 1 6 0 6 1 7-2 1-6 3-6 3-6-7-1-6 0-5 5-5 4-6-2-6 1-7 0-3-5-5 5 3 6 1-7 2 6 6-1 5-4 6-1 6-3-1-7-6 0M1578 3090l5 4-7-1-5-3 6 0 3 6 6-1 0 6 1 6-1 7-1 6 6-1-4-5 4-5 5-4 4-5 6 3 6-3 5 3-6-2 4 5-6-2-6 0-5 4-4-5-5-3-4-6-6-2-5-3 5 3 6 2 1-6-3-5-3-6-6-2-6 0 3 5 5-3-4-5-5-5 3-6M1701 3211l-1 7 6 3 6-3 6-1 6-1-3 6 0 6-2 6 2-6-3-6-6 1-7 1-6-1-6 0-7-2-6-1-6 3-4-5 5-4-6-3-6-2-6-1-5-4-1-6 4-5 3 5 4 5-1 7-2 6 2-6-5-5 7-2 5-3 2 6 5 5-2 6 0 6-6 3-2 6-6 3M1688 3005l5 3-6 2-2 6-4 5 0-6-5-4-4-5-6 0-6-1-7-1-6 1 6 3 6 2 6-3 7 0 5-4 0 6 2 6 5 4 4-4 0 6-5 4 6 0-2-5 5-4 6 1 7 1 4 4-6 3-4 5 2-6 5 3-4 5-6 2-6 2-6 2-7-1-4-5-6-3-6 2M1780 3027l6-3 5 4 6-2 5 4 5 4 5-5-6-2-5 4 4 5-7 2-4-4 0-6-3-6 7 0 4 4 7 0 3 5-6-2-6-2 1-6-4-5 1 6-4 5 2 6 6-3 3-5 6 2 2 6-6 2-4 5 3 6 6 1-1 7-7 0-2-6 6-3-2-6-5-5 0-6 7 0M1785 3095l-7-1-4-5 3-5 6-1 7 0 1-6 1-7-3-5-7-1-2-6-3-6 2 6 5 3 3 6-6-1-6 0-3 5 6 1 4-5 3-6 6 2 6-1 1 7-7-2 2 6-6 3-1-6 0-6 4-5-4-6-1-6-1-6 2-6 6 1-4 4-6 1-7 1 4-5 1 6-4 5M1613 3084l-6 2-7 0 1 7 5-4 3-5 2 6 6 2 6 0-5 4-4 5-5 4 1 6 3 6 4 5 0 7-5 4 7 0-1 6 1 7 2-6 3 5 5 4 7 0-3-6 7 0-4-5-4-5 2-6 3-5 0-7-2-6-6-2-6 1-6-3 0-6 3-6 6-3 6 1 5 4 4 5M1793 3165l6-3-3-5 6-2 3-6-6-2-1 6-3 6-5 4-2 6 3 5 5 4 4 5-4 5-6-2-2 6 6 1 0-6 6-3-4-6 4-5 4-5 2-6 5-4 2-6-3-5 1 6 1 6-5 4-6 0-4 5 0 6 6 2 2 6-3 5-5-4 6-2-6 3-5 4-2 6 4-5M1743 3188l6-3 6 0 4 6 4 5 6 2 6 0 1 7 4 5 0 6-4 5 6 2-4 5-6 2-6 2-6-2 2-6-6-2-6-3 2-6 6-4 4-4-1-7 3-6 4-4-1-7-6-1-5 3 5 3 6 1 6-1 6 3 6 1 2 7 5 3-6 0-5-4-6 2-5 4 5 3-5 4M1688 3148l1 7 5 3 6-3 7 0 2 6-6-1-1 7-5 3-6-1-7 0 3 5 7 1-1 7 6 2 2 6 6 2 6-4 6 2-6 1 2-6 1-6 6-3 5 2 4 6 3 5-3 6-6-2-3-6 0-6-2-6-6-3-5 4-6 1 1-6-6-2 0 7-6 2-6-1 4 5 6-1M1643 3165l-4 4-3 6-6-1-6 0-7-1-6 1-6 3 1 6-6-2-1 6-5 4 1 6 0 7 5 3 5 5-3 5-4 5-3 6-4 5-6-1-3 5-4-5 6-4 6 3 3 5 5-4-2-6 6 1 7 1 6 0 3 6 2-6-5-5 4-6-1-6-1-6-3-6-6 0-5-5-3 6M1579 3038l1-6-7 1 5 4 6 3 6 1 4-5 7 2 6-1 1 6-5 5-5 3 3 5 7 0 3-5 4 5 3 5-3 6-6 2 3 6 4-5 0-6 3 6 3 5 4 5 7 1-2 7-5 2-5 5-2 6-3 5-2 6-6 4-1-6-2-6 6-2 5 4 5 4 6 3 5-4 6 0M1806 3150l5 4-6 3-2 6-6-3-7 0-4-4 1 6-5-5-4 5-6 0 2-6 1-7 7-1 2 6 0 7 4 5 4 5 3-5 6-1 2 6-6-3-1-6 0-7 5-4 1-6-6 2-5 5-5 3-7 2-1-7 5-4 6 4-4 6 6-3 0 7-4-5-5-4-5-4-2-6-2-6M1589 3008l6 0 4-5-3 5 1 7-6-4-3 6-5 3 0 7 6-2-1 6-2 6-6-3 3-6-2-6-5-4-5-4 6-2 6 1-4 5 2 6 6 4-4 5-3-6-6-3-3-6 5-4 1 7-4 5-6 3 6-3 5 3 6 3 0 6-3 6-6 3-5 3 4-4 3 6 6-3 6 0M1684 3071l4-5 6-2 5-3 5-5 2-6-3-5-5-4-6 1-6 3-3 6-3 5-5 5-4 5-5-5-2-5-5-5 0-6 1 6 6-1 6-3 3-5-2-6-5-3-3-6-6-3-3-5 3-6 3-6 6 0 4-5 6 2-1 7-2 6-5 4 7 0 1-6-5-4-4-4-3 6 0 6M1639 3132l-5 3-4 5 3 6 5 4 0 6-4 5-4 5-1 7-4 4 2 7-6-2-6 3-6 3 6 3 5 3 4 5 2-6-1-6 3-5 5 4 0 6-2 6-2 6-7 1-6 0-5 3 6 1 3-6 4-5 7 0 4-4 5-5 5-4 3-6-5-4-6-2-4-5 3-6-1-6 0 7M1647 3116l6 2 6-2 1 6 6 1 7 0 6 2 5 4-1-7-3-5 4-5-7 1 7-1 6-1 6 2-3 6-3 6-6-2 6 3 6 0 0-6 6-3 5-4 0-6 6-3-7 1-2-6-6-1-5 4 5-4 5 4-4 5-2 6 2 6 0 6-5-3-6 1-4 5 3-6-5 4-3 5M1609 3199l-1 7-4 4 0-6-3-6 0-6 7-1-4-6 0-6-6 0-5 5 6 3 6 1 6 2-4 4-4 6-3 5 2 6 3 6-5-4-6-3-6-2-5 5-6 0-4-5 6-4 1-6-3-6 6-3 5-3 6-3 6 2 5 4 4-5 6 3 5 4-3-6-6-1-6 2 5 4 6-1M1690 3129l5 3-4-5 1-6 5-4 6-1 5-4-5-3-6-2-6-4-4-4-1-7 6-1-4-5-5 4 5 5 5 4 6 1 6 1 6-3 7 1 5-2 7 2 3-6 1-6-5-4-1-6 1-7-2-6-4-5-4-5-2-6-5 3 5-3 5-5 6 1 5 4 6-4 4 5 5-4-6-3M1774 3165l6-2-1-6-5-4-2-6 2-7 5-4 5 3-4 5-5 3-5 5 3 6 6 3-3-6-2-6-3 6 6 3 1 6 0 6 3 6 2 6-5 5 1 6 5-3-6-3 3-6 4-5-5-4 3-6-2-6-6 1-6 3-4 4-3 6-5 4-6-2-6 2-1 7-3 5-4-5 0-6M1635 3057l-2-7-2 6-5 5 2-6 7-1-2-6 7-2 2-6-4-4-5-5-4 5 3 6-5-5 3 6-6 2-1-6-3-5 2-6 1-7 1-6 0-6 6 3-5 4-5 5 1 6 6 3 6-2 0 6-4 6-3-6 2-6 6 3-1-7 7-1-3-5 3-6 5 5 5-5 6 1 7 1M1695 3197l3 6-6 2-5-5-2-6-2 6 5 5 2 6 4-5 2 6-2 6 5 4 4-4 4-6 6 3-6-3-6 0-6 0-5-4-6 1-3-6-4-5-6 0 4-5 3-6-3-6-3-6 2-6 3-5 6-3 5 3 7 0-5-4-6-3 0 6 0 6 1 7 5-4 6-3 5 4-2 6M1593 3106l-5 3-4 5-6-1-6 4-4-5-1 6 2 6 6-2 6-3 3-5 5-5-7-1-3-5-2 6-6 2 6-2 6-3-4 5 0 6-6-3-5-3 6 1-3 6 2 6 4 5 5 4 4 5 6 3 6 0 6 0 6-2 3-5-3-6 3-5 6-4 2-6 6-1 6-1 2 6 5 3M1578 3101l-7 1-5 3 7 1 3-6 3-5 6 2 1-6 5-4-6 0-4-5 0-6 5 4 6 3 4 4 0-6 6-3-1-6 2 6 1 7-5 4 4 5 6 2 6 2 1 6-4 6 2 6-4 5-7 1 1-7 6-2 5 4 6 1 6-2 1 6 5 3 6 3-3 6 4 5 0 7 0 6M1621 3088l6 1 0 6 6-1 4 6 6 2-1-6 3-6 5-4 5 4 2 6-4 5-2 7 7 0 6-2 4-4 4-5 3 5 6 4 4 4 6 3 2 6 6-2 6-1 2 6-2 6-7 0-6 1-4 5 5 4-4 5 5-4 7 0 3-6 6 2 5 2 6 4 3-5 2 6-5 4 5-4M1718 3095l-5-5 1-7-1-6-4-5 5-5 4 5 4-5 4-5-5-4-6-3-3-6-6 2 2-6 5 5 2 6 3 6-3 5-3 6 1 6 5 4-5 3-5 4-2 7 3 5-5 5-5 3-5-4 0-7 7-2 6-1-7-1-2-5-6-3-7 1-2 6-7 1-4 4-4 5 5-4 2-6M1704 3093l-7 2-1-6-1-7 6-1 7 1 6-1 3 5 2-6 6-2 5 4 6-4 4 5 4 5 2 6 4-6 4-4 6-3 2-6-1-7 2-6-3-6-1-6 4-5 5-4 4-4 4-6-6 3 1 7-5 4-5 4 2 6 0 7-6 1-6 1-3 6 1 6 7 0 0 7-6 3-2 6M1731 3237l-3-6-5-3 6-2 2 6 3 5 0-6-6-3-4-4-4-5-3-6-3-6-4 4 2 6 4 5-4 6 3-6-5-4-5 3-5 5-5 4 6-3 5 5-5 4-2-6 7 0-5 4-3-6 0-6-2-6-2-6 5-5 5-3 1 6-4-5 4 5-4 4-4 6 1-7 6 0 5-5M1767 3098l-6-1-4-5-7 2-6 0 2-7-1-6-6-2 5-4 2-6 5-3 7-1-7 1 5-5-2 6 5 4 5 3-6 3 3 6 7-2 6 1 5-4-7 0 2-6 2-6-1-7-6 3-6 1-6 1-4-5-5 5-3 5 2 6 6-2 5-2 5-5-6-1-3-6-4-5-6-1-3 5M1647 3033l0-6-6-1-5-5-6-2-6 0 5 4 4 5 3 5 6 2 2-7-7-1-6-2-4-5-6-1-2 6-5 4-6 1-5-4-3-5 0-6 3-6-4 5 6 2-4 6-5 3-1-7 5-4 5-3 4-5 7-1 0 7 1 6-4 5 0 7 2 6 2 6-3 6-7 0-5-4-6 1M1597 3184l-6 2 2-6 5-4 6-1 7 1 1 6 6 3 2 6 4 4 6-2 1 6 6 4 6 1 6-2 6 2 6 3 2 6 4 5-5 4 0 7-6 2-6 2-2-6-2-6-5 5 6 3 7 1 6 1 6-3 2-6 2-6-3-6-4 5-6 1-4 6-1 6 2-6-2-6 0-7 5-3M1759 3003l5 3-4 5-6 0-3 6-6 1-5-5-6-2 2 6 5-3 2-6 2 6 3 5-6 3 1 6 1 6 6-3 2-6 4-5 0-6 6 0 6 2-1 6-6 2-6-2-6-2-6-3-5-4-4 5-2 6-2 6-5 3-7 0 0-6-6 1 5-4 1-6 1-6-1-7-7-1-3 6M1598 3076l-5-5 6-1 5 3 6 3-6 3-5-2-5-5-2 6 4 5-2 7-3 5 2 6 5-4-1-6 1-7 5 5 7-2 3 5 6 4 5 3 6-3-5-4-5 4 3 6-5-3 1-7 1-6 0-6 4 4-3-6-2-6 5-4 5-4 6-2 5-4 0-6-3 5 3-5 5 2 1 7M1807 3089l-5-4-5-4-4 5-6 2 3 5 6 2 6-2 1-6-5-3-6-2 3-6-1-6 2 6 5-4-1 7-1 6 4-5 6-2-5-4-3-6-4-5-6-1-7-1-4-4-5 4-5 4-6 2 2 6-6-2-3-5-4-5 4 5 5 4-3-5 1-7-3-5-6-2-3 6-5 2-6-2M1634 3053l-6 1-3-6 6-1 6-3-2 6-5-4-4-6-5-3 4-4-6-2-7-1-4 4 0 7-7 0 3 6-1 7-6-4-5 3 0 6-3-5-1 6-1 6-3 6 5 4 3 6 6-2 4-6 4-4 4-5 6 2-2 6-6-2 5 3 7 0 5-3 7 0 0-7-6 1-1-6-6 3M1789 3237l5-5 4-4 5-4 2 5-1 7 6-3-6 0-6-1-2-6 0 7 5 4 5-4-1-6 5 4-3 5 1-6-7 1-5-4 1 6 0-6 2 6 0-7-6-1-5 3-5-5-6 2-2-6-1-7-1-6-3-6-7 1 7 1-1 6 3 6 6 3 5-4-2-6-6-3 5 4 7 1M1568 3086l3-5-2-6 6-1 6 3 6-1-1-6 4-5 3-6 3-5-4-5-5-5 3-5 4-5 6-3 6-2 6-2-6 0-5-5 3-5 2-6 7-2 5-3 4 5 4-5 5-3 4 5-4 5-6-3-3-5-6-3-4 4-7 0-6 2-6 0-1 6-1 6 6 1 1-6 2-6 5 3M1661 3115l-6 3-4 5-4 5-5-3 3-5 6-3 6 1-5 4-6 2-2 6 2 6 7-2-5-5-6-2-5-3-5-4 0-7-1-6 6 3 5-3 5-4-1 6-6 0-6 2 6 0 0 6 6 4 6 0 2 6 7-1 1 6-5 4-5 4 4-5-4-5-6 2-3-5-7 1 1-7-5-4M1802 3233l-3-6-6-1-7-1 6 3 6 1 6-2 5-4-2-6-5-3-1-6-4-5-6-3 3 6 5 4 5 3-2 6-6-4 0-6-1-6 6-3 3 6 6 2-5-4-1-6 1-7 2-6 1-6-6-2-6-1-6 3-4 5 0 6-5-4 2-6 5 4 5 4-6 2-6 2-5 4-4-5M1657 3037l-5-3 3-5 2-6 5-5-2-6-5-3 3-5-3 6-5-3-7 0-2 6-2 7-4 4-7-2-4 6-4 4-5-4-5 4-5 4 0-7 6 0 1-7-3-5-7-1 1-7-5 4-5 5-6-2-6 2-6-2-6 0 3 5 4-5 1-6 3-6 5 4 6 3 5 3 6 3 0-7M1728 3134l4-3 4 1-4 5-8 2-5-5 5-1-5-6-7-3-6-3-5-5-3 6 3 5 4-4 4 3-5 5 4 3 4-3 3-5 4-4-4 6-6 4 4 4-2 5-4 5-2-7-5-5 1 5 4 3-1-6 2-6M1532 3099l6-5 1-5 9-3 9-1 9 4 1 7 4 7 9 3 8 3 1 7 6 5-2 4 6 4 8 1 8-3-3-5 2 6 0-6 4 6 0 5 2 5 3 6-3-5-2 5 4 4 0-6 3-7-1 5 0 5-3 4M1690 3101l-1-5-5-3-6-3-5-2-5-2-3-4-4-3 3-5-3-3-2-4 4-3 4 6 2 8 6 3 5 3 6 2 5-1 2 7 5-1 4 5-6 4 0 7-4-5-4 5-7 3-6 0-2-5 6 0 5 2 1-6M1818 3111l1 4-10 4-8-4-6 6-4 6-8 4 1 3 2 3 2-2 2 2 0 5-2-7-9 2-8-3-8 3-8-3-4-6-1 5-6-5 3 2 4 1-2-7-2-6 3-2 4 1 2 3 3-1 4-1 3-1 2-3M1665 3080l-6 2-3-4 2-5 4-3-4-3-4-3 6 5 3-3 2-4 4 5-2 7-3 7 2 6 5 5 6 3-4 6 3 6 5 3-5 4 0 6-4 5 3 5-5-4-3-5-4-4-2 6 4 5 3-5-1-6-6-1M1614 3098l0-5-3-2-4 0 8 2-3 4-4 1-4-1-2 6 5 6 7 3-3 4-4 1 0 6 3 6 1 5 8 1-2 5-3-4 3-6 6-5 7-3 5-4 3 5-5-1 2 6 2 6-5-2-5 0-4 0 3 5M1810 3133l-9-2-8-6 3 1 2-1-9-4-9-2-6-5-1-6 1-4 3 1 3-1 1 5-9 0-8 4-8-3-1-5-7-4-3-5-6-4-5 6 4-1-1 7-3-5-5-5-8 2-7-1-7 3-6 4-7 1-1 7M1655 3223l-5-1-2-8-6-3 5-8 3-8 6 0-6-2-3 2 0 4-5 0-5-3 6 1 3 3-2 2-6-3-3 2 1 3 5 3 7-3 5-7 6-1 6-6 5-5 6 0 6-3 5-3 6-2 3-6 3-6-6-4M1629 3004l-2 9 7 0 6 1 5-2 5 0 5-2 4 8-1 9 6 2 4 7 6 0 2-3 4-2 2-2-6 5 5 6 5 5-2 8-1 8-4 6-2 7-1 8-1 7 5 3 1 7 4 5-3 6 0 6 3 6 2 5M1688 3112l-2-6 2-5 3-4-2-5-2-5 2-4 5-1-2 7-3 7 5 3-3 6-2 6-6 4 0 6-4 4 5 1 6 1 5 3 4-3 5-3 4-4 2-5-7-2 4 4 1 5 4 3 5 1-2 6-6-3-3-6M1643 3189l-5-1 6 1 7-2 4-8 2-7 1-8 2-7 4-6 4-6 5-2 6-1-1 5-4 4-4 4 4-6 5 0 5 3 5 2 5-4 4-4 2-6-6 2-4 4-4 4-6 0-6-4-6-2-5-1-5 2-6-3M1703 3125l1-5 0-6-7-1 2 5 2 5-3 6-5-5 0-6 1-6 2-5 0 6 2-5 5-2 4 4 5-1-5 6-6 2-7 0-7 1 4 3 3 5 5 2-5-5-6 2-2-6 6 1 4-4 5-2 4 3 2 5M1732 3064l-7 5-6 5 0 7-6 5-6 5 4 4 3 5 3 5 3 4-1-5-7-3-6-3-7 2-4-4 1 7 5-3-2-5 3-4 4 4 3-4 4 5-7-3-7 1-6 2-2-5 1-5-3-5-6 4 5-1 6-1M1551 3098l7 6-3-1-2 3 1 6 1-5 8-4-3-1-2 0 7-3 1-5-3 0 7 5 9-2 8-1 6-5 2-5 5-4 5-5 7 0 7-3-5 2-3-3 0-4-4 0-3 5 0-4 6-3 7-1 4-4-4-2M1665 3107l-5-1-1-6 6 2-5-3-5-1-4-3 3-5 6 2 5 5-4 5 4 5 6 2 4 5 6 0 5-3-2 6-3 5-3 5 3-5 2 6-3 5-4 5-5 2-6-1-5-4-5 2 5 3 5 3-1 6 3 4M1587 3159l0-6 1-7 5-6 2-7-1-6-3-2-3 0 5 6 8 1 8 3 3-6 6-5-1 5-3 3-4 2-3 4-1 4-1 4 0 5-3 3-2 3-4-2-2-5-4-3-1-6 8-2 3 5-2 4-1 4 3 5M1612 3133l6-4-4 2-3-4-4 3-3-2-1-5-1-6 4-5 4-6 5-4 8 3 0 6 7 1 6-3 0-6 5 5 2 6 5 4 3 6 3-5 5-4 3 5 7 1-6-1-5-3 4 4-5 3-5-1-5-2 1-6M1533 3060l10 0 10 2 3-4 2-4 10 3 3-4 9 3 8 3 7-3-4 3 1-4 0-3 5-4 0 8 1 8 2 8-1 6-4 0-3-2 2-4 5-4 4-4 5-4-2 6-2 6 1-4-3 3-4 0 8 3 7-1M1774 3105l-2 6-9 0-9-1-7-3-8-2-8-2-1-5 4 1 3-1 2 5 4 3 1-4 4 2-5 6-6 5 0-6-7-1-8-1-7 1-6 5 0-6 4-3 0-6-1-5 4-2 3-4 4 0 4 0 3-3 5 2M1608 3143l8-4-5-1 2 6-3 2 0-7-3-5 1 6-4 0-1-6 7-3 3 5 1 6 0 5-4 0-3 3-2 4 8 1 2-7-4-3-2-5-1-6 2-6-3-4 5-6-1-5 2-5 7 4 0-6-3-4 6-4M1571 3104l7-4-2-4 1 7 2 6 2 6-1 5 4 6 3 6 8 2 7-4-1-6 7-4 7 2 7-3 1-6 6 5-1 6-5 1 5 5 1 6 6-5 4-5-1-6-5-2 7 3-5 0 6-2 2-6-4 4 4 6M1692 3142l0-6-6 0-1 5-1 6 5 2 1-7 2-6 2-6 3 5 5 0 1-6 2-6 2-5-5-4-2-6-6-1-6 4-3 5 5-1 4-4-5-4-6 0-6 3-4 5-6 2-4-3-2-6-3 6-6 0-4 4M1693 3081l-3-4-7 2-5 4-5-4 3-4 6 0 3 7 4 4 1 7 0 7 4 4 4-4 5 1-1 6 4-1 2 5-3 6 5 2 4-3 5-1-3-5 5-2-4-5-6 5-7 1-3-6-2-5 5-1 1 6 5 0M1657 3041l-3-3-5 0-2-3 7 5 3 7-4 7 0-4 1-4 2-4 7 1 2-3 3-3 0 8-3 7-3 8-1 7 5 6-1 7 5 5 6 4-1 7 6-1 4-3 5 3 5-3-7 0-1-6-2-4-5-4-4 6M1698 3092l5-3 2 6-6-1-7 2 1 6 2 6 5 3 4-4 4-2 5 2-4-5-7 1-1-6-1-5-6-1-4-5 0-5-6 5-6 1-6-1 0 7-5 4-3 6-4 4-4 4-5 3 5 5 0 6 4-5 6-2M1724 3164l-4 4 4-3-7 1-5-6 1-7-6-4-5-5-7 1 0 5 6-1 5 0 1 5 0 4 5-2-4 4 4 3-4-7 2-6-2-7 4-5 4 0 5-1 2 5-3 5-3 5 1 4 4 1 1 4-4 5 4 1M1742 3072l3-3-1-4 4 0 3-2 3 4 3 5 2 4 3-1-3-5 1-3-8 3-6-3-5-4-7 4 3 0 3 5 4-1 0-4-3 7 0 8-8-1-8 2-6 5-7-3 4-2 0 7 2 6 1 6 4 4 3-3M1726 3123l-7 3 4 1-7-1-7 2-3 5-3-5-4-6-5-4 2 6-7-1 0-6 1-6-2-5 5-2 4-4 5 3 3 4 3-4 4 4-4 6 4-3-4-6-5-3-3 6-4 5-4-5 0-5-6-3 5-2 5 0M1759 3104l-7 5-6 4-5-5-6 5-2-6 2-4 0-5 1-5-8 0-7-1-4-5-3-5 3-3-1 7 5 2-1 7-6 4-6 5-6 3-7 2-6-2 5 2-3-5 2-5 1-5 3 5 0 7-1 6 2 5 0 7M1624 3140l0 5 6 3-4 1-5-1-4-2-4-2-2-5-3-5-4-2 0-6-3 3-4-1-3 3 2 5 1-6 1-6 7-4 7 4 6 4 6 4 5-5 2-6-1-6-3-4 2-6 6-3 6 4-2-5 0-6 0-5M1697 3215l-6-6-1-8-3-8 5-5 6 0 4 0 3 3-2 4-7-1-4 2-6 1-6 1 6-1 1-8-2-8 2-8-4-6-6-4-4-5-5 3 4 4 3-7 5-3 5 3 4 2 4-6-6-3-6 1-7-1 5-5M1679 3050l-6 2-6 5 5 5 5 0 3-4-1-4-2 7-5 6-3 6 0 8-5 4 1 7 6 3 2 6-6 0 1 7 4 5 1 6 1 6 0 6 2 5 6 2-6 1-6 2 3-6-5 2-5 3-6 0 5 3 4 4M1715 3136l2-6 4-4 4-1 2-5 4 1-2 6 4 2 1-6-3-6-1-6-3 6-5-5-7 0-4 6-7-3-5 3-1 6 5 2-7-1-5 4 3 4-1 6 3 3 2 5 4-4 0-7 2 5-6-4 2-5 5-1M1765 3105l-5-5 1-4 0-5-6-4 3 3 4 1 3 2-5-5-8 1-7-4 2-3 1 6 1 6 3 4 3-2 1-4 2 4-3 7-8 3-8 1-4 6-7-4 4 3-1 6 4 3-3 6 0 6 4-2 4-3-1 6M1706 3236l-7-4-6-7-5 2-6-1-4 2-4-8 5-5 3-9 1-8 4-6 4-7 1-7 0-8-1-8 5-1 5 0 5 0-7-1-6-3-4 4-2 5-4 3-6-1-1-7-6 0 1 5 5-4 5-4-5-4-4 4M1664 3101l3 6 4 4-3 5-6 3-5-1-6 1-4 4-3 5 0 5 4-5 5 4 0-6 5-4-4-4 0 6-3 5-3-6-5 1-2-6 7-1-4-4-5-2-4 3-2-5 6-4 1-5-4-4 5-4-2-5-3-3M1712 3116l2-5-1-6-6-3-4-5-6-2-6-1-2-5-6-2-6 3-5 5-3 5-6-1-4 5-5 3-5 1-2 6-5-1 4 5-5 2-4 4-3-4-3-4 5 4 3-6 2-5 7-2 4 5-1 6-5-1-4-3M1728 3171l-7-5-7 2-6 0 5-2-5 4-1-8-7 0-6-2-6-5 6-1 0-7-1-7-4-6 1-6-4-5-7 0-1 5 2 6 4-4-5-4-6-3-3-5 6 3 3 4 4 5 5-3 1-7 5 1 4 4 4 4M1816 3149l1-3 1-3 0 3 0 3-10 1-10-2-4 5-1-6 2 1 1-6 1-3-7 4-5 5-8-4-8 3-7 3-8 3-7 2-4 5 3-4-2-7-7 3-7 0-7-5-7 0 0-7 1-6-7-2 0 5 1 6M1714 3120l-5 4-6 5 2 5 0-6 2-6-5-4-7-2-6 2-7 2 3 5 4-4-6-3 3-5-1-6 3-5 5 0 5-1 5 2 5 1 0-6 0-5-1-5-5-4 5 0 2-5-6-3-4 6-1 7 4 5-3 7M1571 3022l-3 1-3 3 1 8 0-2-3 1 7-2 9 3 4-3-1-3-3 3 1-3 7-2-1-2 8 2 7-1 6-1 8 5 6 0 5-3 5 8 3 8-5 3-4 4-5 3 1-4 6-1 7 5 0 7-5 0-3 5M1812 3195l-10-1-9 0-10-2-9-3-9-1-4-8-3-8-7-6-8-1-7 1-7 3-3 4-3 5-3 4-3 4-5-7-5 3-6 1 4 2 0 4-7-1-1 4-7-1-5 2-4-6-5-6-6-2-6-4-5 1-5 0M1637 3051l2 8-3 7 5-3 6 0-1 7-5 1-4 5 6-2 0-5-4-3 0 8-4 5-2-3-1-5-2-3 0-4 5 6 7 4 6-1 5 6-1 7-3 6-4-4 6-2 6-1 0 7-3 6-5 2 4 6-3 6M1803 3243l-5 2-10-3-4 3-9-5 1-7 0-9-5 2-5 3-6 2-8 0-6 1-7 0-5 2-4-9-2-9-2-9 5-2 2 1-5 2-6 2 4 1-6 1-2 3-1 3 4 1 3 0 5-4 2-7-4-8-6-7M1680 3100l-5-3-1-5-5-3 0-5-5-2 2-5 5-2-4-2 3-4 4-3 2 7-2 8 2-5 0-5 3 7 0 7-3-5 1 7 4-3 5-1-1-5-1-5-3 7 1 7 6 0-5-3-4-4 5-3 1-4-4-3M1793 3165l-1 5-8 3 1 3-6 4 2-4 0-7 2 1 3 0-8-6-4-7-6-6-5-7-2-7-2-6-1-6-6-5 1-5 3 1 1 6-2-6-6-4-6-5-6-4-6-5-7 0-5 6 2 5-3 6 1 6-7 2M1682 3110l0 6 4-4-6-1 1 6 0 6-2 6 0-6-6 0-2-6-2-6-4 5 1 6 5 3 1-6-3-5-3-5 5-4-3 6 6 3 5 3 5 3-5 3 2 5 3 6 5 2 4 2 5 3 4 3-5 4-6-4M1697 3295l-4 0-1 1 2 0-1-11-7-4-6-7-6-5 5-7 6-2 5-2 3 1 5-4 3 0 2 1 1 2 4-1-7-3-3 1 4 0 1 2 2 1 0 2 1 1-7-5-7-4-7-3-3 1-6-3-6-4-4-8M1839 3121l-9 4-3 6-8 4-7-5-8-5-10-3 3 1-9 4 1 4 0-6 1-4 2 1-1 6-9 2-7-6-7-5-8 2 1 5-6 5-8-3-5 5-8 2-1-6-3-7-3-6-7 1-8 0-6-2-6-4 3-4M1797 3075l-3 7-9 5-7 5-4 7-4 6-8-3-7 5-3 6-6 6-6-5-6 5-1 6 4 2 3-4-8-1-8-1 4 1-7-2-7-3-5-5-6-2-2-5 2-5 5-1 0-5 5 1 5-1-8 0-5-3-4-4M1840 3010l-11 2-8-2-10 4-10 6-3 9-2 8-9 5-7 7-4 8-6 7-8 4-7-3-7 6-8 1-8-1-6 5-6-2-5 6-7 3-1 8-6 4 2-5-2-5-2-5-2-4-5 5-7 0-3-4 5-2-2-4M1677 3159l6-2 4 4 5-3 4 2 4-4-1 5-2 5-2-7-6-5-5 3-6 0-6-2-5-4 5 2 1 5 5-5 5 3 5 1 1-6 6-1-1-7-3 5 3 4-3 5-2 4 5 1 6-2 2-6 2 4 3-5M1702 3151l-5 3 4-4 1 5 5 0 4-4 4 2-6 4 4 3-4-7-5-5-7 1-3 5-6 1-1 5 2 4 3 4 4 2-3 4 3-6-5-6-1-8 3-6 5-1 5 2 4-3 5 0 4-5 3-4 4 3-2-7M1585 3250l9-5 8-2-4-5-4-2 0 2 8-1-3-7-4-3-3-2-4-3-2-6 6 2-1 2 4-9 2-8 3-9 5-7 7 1 4 4 6-6-4-5 2-8 2-7-2-6-4-3 7-3 6 3 2 5-5-2-4 2M1781 3198l-6 4-3-9-2-8 1-6 3-5 2-5-3-7-2 4-1 4-2 5-2 4 1 3 0 3 0 4-1 3-1-8-6-6-3-8-1-7 1-7-1-7-1-6 3-3 2-5 3-2 3-3-8-2-9-1-6-5-4-5M1558 3002l13-15 1-10-12 1 8 2 8-21-9 3-12 2 6-3 9 0-12-10-6-5-3 0-4-12-8 13-2-10-1-3-5 8 2-5 2 0-13-6 12-4-20-5 6 6 0 1-12-15-2 11-8-15-7-7 10 9-1 4-19-9 1-4 8 1-3-9-14 11 0-6-12-1 4-2-2-5-3 13-3-7-2 0-15 0 4-4-18 9 13 0-19-12 2 6-1-1-6-4-4 11-9-18 5-4-12 0-7 7-9-10 4 7-3 10 4-5-17-6-11-7-1-3 9 13-5-7M1560 2998l-6-10 4-2-1-3-11 8 2-14-2 3 1-2 0-13-4-7-1-2 6-7-5-6-8 5-1-12 2-2 6-2-7-6-1-3-9 5 1 0-10 2 7-9-7-3-7-3 1 4 3-14-4 2-8-4-7-9 2 7-12 4 5-6-12 2 0-13-7 12-5 1-1-3 8-11-6-1-16 8-6-12 6 5-7-5-1-3-4 6-13 8-5-8 10-6-7 4-16-20-3 20 5 5-12-8 11 4-13 4 2-2-14-5 0 2-9-16-5 2 4-10-15 14 8-6-3-8M1566 2993l-4 1-6-4-7-3 4-17-6-8-5 4 10 6-2-11 5-3-7-4-7 3 1-14 0 4-15-16 0 8 1-4 11-5-8 10-1-6 6-9-15-8-10 6-1-1 16-2-10-18-5 3 3 9 2-12-20-10 6 1-11-1 5-2-11-3-9 0 6 1-17-1 6-3-6 0-10 6 3-11-8-9-2 11-3 0-11 6 2-7-10 3-4 8 1-13 2 1-1-7-12-2-1 10-10-1-8-5-7-10-1 7-1 0-3 4-2-9-1 4-10 2-4-2-2-11-2 6M1655 2993l2-10 0 3 5-15-7 4 4-3 4-4 1-3-2 2 0-6-5-6 5-9-6-3 12-11-13 0 2-16 14 6 7 8 6-9-6 14 1-3 4-1 13 9M1648 2995l12-1 1-6 3-3 0-15-2 0-6-10 12 5-16-4 14-4-2 3-7-15 1-1 0 0 6-17-6-2 2 0 17 5-1-7-1 11 21 1-12 7-3 1M1642 2988l10 7 4-5 5-8-7-8 12-5 1-8-7-4 8-2-9-5 7-2 4 7-9-14 4 3 7-12-11 0 6 8-3 8 7-8 2 6 15 1 3-4-12 3M1787 2995l9-9-16-3 13-6-1-2-4-11 1 3 6 2-3-6-6-12-3-8-1-2 0 7-2-17 10 13-6-5-8-13 4-11-18 16 0-11-3-1M1795 2986l-3 3-8-11 6-9-7 3 0 5 1-15 5-2 1-1-8 2-3-15 13-3 4 2-9-4 9 4-15-16-4 2-5-10-9-1-8-2 5-1M1782 2998l8-3 2-12-11-11 13 5 1-9 8-7-20-5 6 5 14 0-16-13-4 1-3-9 22-8-20 5 5-17-9 10-3-15-6 4-3-7 0-13M1823 3104l7-7 4 5 12-7-9 6 7 4-6-3 1-3 13-4-6-3 17 3 1-5-2 2 11-4 8 0-2 0 12-7-8 2 11 0 8-6M1815 3101l10-9 1 0 5 6 9-8 1 15-6 3 9-8 14-12 7-7-10 7 6 7 5-10-5-2 14-5 6-4-3-1 1 3 19 10-6-3M1819 3093l-1-1 12 4 5-6 1-14-2 9 10 1 0 3-2-6 5 0 10-8 0-5-3 7 5-7 8 0 10 0 7 13-4-8 5-5 7-3M1815 3157l13 2 3-11-2-4 1 10 8 0 5-3 1 3 12 8 5 1-11 4 9 2 8 9-4-1 18-2 2-5-1 9 3-2-6 1 21 3-2-2-6 8 15 0-6 6 6 0 1 4 3-9 6-2 7 9 3-7 5 1 10 10 0 3-2 8 10-3-5 7M1821 3156l6 4 3-10 1 10-9 0 22-8 0 0-1 3 19 1-4 6 15 1-17-6 12 15 4-3 13-9-13 16 14 9-2-13-1 19 12-19-6 13 10-9-2-4 10 9 5 4-2-2-4 2 15 1 6 9 2-7 4 12-1-9 4 16 10-10 0 12 8-7M1823 3152l-1-3 13 9 3 7-8 0 2 2 14-5-7 12 13-4-7-2 13 13-4-10 4 15 2-9 12 3 5-2 3-6 6 3 2 0 0 4 4-8 9 7-1 8 12 5-2-9 5 8 5 1-3-2 11-3 0 14 10 6-3 1 5-3 1 9 0-10 15 4M1617 3243l-5 4 6-6 1 11-7 14 4-3 8 3-6 7-3 2 10 2-5 13-4-16 1-1 2 9 5 17-4-2 13-10 2 21 6-2-2-7 10 7 0 9-3 3 6-10-2 13 5 8M1619 3242l7 14-1-16-1 13-3 6-6 1 3-6-15 17 25 5-5 3-10 5 4-10 1 5-2 4 2 11 11 8 3-10 2 11 0-3 6-1 0 8 3 4 10-2-5 13 3 9 1-12M1617 3242l1 5-10 2 5 0 7 10-7 3 1-1-9 5 14 2 0 10-6-1-4 6 4 4 0 12-4-8 14 5-8 14 9-11 10-3 0 8 8 0-1 2 6 0 2-6 6 22-7-2M1786 3239l-3 1 13 0 12 10-3 5-2 4 10 3 1 3-3 1 11 10 0 4 4-7-9 7 8 9-2-12 2-4 7 6 2 4 13-13-3 13 6 2-8 2 14-2 4-6-1 8 15-3-9 2M1775 3243l21 6-8-1 16 11-4-2-3 6-6 1 11 3 3 0-3 7 8 3 11 5-6 0 1 0 4 8 17-8-6 12 3-6 3-3 8 6 6 3 9 2-4-2 3 13 11 0-5-7 6-2M1783 3243l11 3 3 3-2 2-4 0 10 11-5 7 2-4 17 4-3 4 4-5-1 13-3 5 10-4-4 0 11-9 8 2 1 8 12 3-8-3 9 7 11-4-14-6 7 3 5 1 1-7 7 14M1512 3227l-8-8-1 9 0 11-5 2 9 1-1-3-7 3-7 2M1513 3219l-1-1-1 5-16 4-5 1 9 0-2-9-1 14-16 11M1516 3218l-10-7-3 15-7-6-5 16 5-2-3 5-5 6-7-6M1353 2863l5 1 9 7 6-2-3 9 3-5 0 8 2 2 4-3 10 1 7 6-4-6 9 4 9 3-12 7 5 0 2 7 5-7 3 14 3 2 5 2 9 4 2 2M1345 2875l16-10-3 13 6-1 5-4-4 9 14 8-9 1 2-11 0 14 17-5 10 16-7-20-1 21 19 3-1 13-2-15 1-2 10 3 0 8 2 9 4-4 11-1M1355 2865l2 0 5 13-6-6 14 3-1 4-7-2 15 7 4-3 6 0 3-2 11 14 0-6-6 10 6-7 18 2-10 6-1-3 7 5 10 10 5-3-8 12 12 1"/></defs>
<use href="#cl2" fill="none" stroke="#efc4bf" stroke-width="6.8" opacity="0.45" stroke-linejoin="round"/>
<use href="#cl2" fill="none" stroke="#a63b35" stroke-width="2.2" opacity="0.85" stroke-linejoin="round" stroke-dasharray="5 4"/>
<path d="M390.5 749.4 L454.3 749.4 M454.3 749.4 L454.3 810.4 M454.3 810.4 L390.5 810.4 M390.5 810.4 L390.5 749.4 M397 755.9 L447.8 755.9 M447.8 755.9 L447.8 803.9 M447.8 803.9 L397 803.9 M397 803.9 L397 755.9 M390.5 749.4 L397 755.9 M454.3 749.4 L447.8 755.9 M454.3 810.4 L447.8 803.9 M390.5 810.4 L397 803.9" fill="none" stroke="#3c3c3c" stroke-width="0.75"/>
<defs><path id="cl3" transform="scale(0.25)" d="M2139 3017l-4 7-6 3-3 7-5 3 2 6 0-5 6 2-3 6 5 2-2 6-5-4-5 2-6 1-5-2-4-4-5-2-2-5 7-1-3 4 7 1 0-6-1-5-5-1-2-5-5 1M2197 3038l-10 1-7-3-7-4-5-5 0-4 0-5 4 3 2-2 4 4 2-1-3-4 2-3 1-3 3 1-9 2-8 1-6 6-8 0-5 6-6 5 0-5 5 0-3-4-7 3-7 0M2106 3070l5 3 1 5 5 3-4 3 1-8-5-3-5-5 4-6-3-5-3-5 4-6 1-6-2-5 7 2 7-1 3-5 4-3-3 6-4 6-5 1-5-1-4 4 1 7-5 0-4-3M2157 3047l4-2-4 5-6 4-4 5-6 3-6 3-6-2-7-1-1 5 2 5-6-2-6-2-3 4-2 4-5 1-4-2-1-7 7-4 7-1 6 1 5-5-6 0 1-6-4-5-4-3M2113 3058l5-5 0-6-5 2-5 4-5-2-4 3 2 6 2 5-5-2 6-5 7-2 5-4 6-1 6-3 5 3 6 0 1-5 4 3 4-2 4-4 1-5 1-5-4-4 4-2 4 3M2067 3066l1 4 0 5 8 2 6 3 8-1 5 3-4-3 7-4 7 1 0 5 0 4 4 3 2 4 6-1-5-3 5-7-4 3 0 4-4-6 6-4-1-7 6-1 4 3 4 3-6-3M2138 3035l-5-4 0-5-1-5 3-3 5 3 0-5 4-2 4-1 1 8-2 7-7 3-6 1 5 2 3 5-7 0-5-4-6 2-3-5-4 6 7 1 3 6 4 5 3 4-2 5 4 4M2181 3129l-1 2 3-3 1 1-8 0-4 1-5 2 3-8 3-5 3-1 3 0 3-3-7-8-5 3-9-2-6-7-8-2-4 3-5-7-4 3-6 0 2 3 5 1 4-6-1 4-3-8M2104 3101l2 3-4 0 6-6 7 0 5-7 2-8-5 2-2 4 3 3-1 4-2 3 5-6 3-8 6 1 6-2 1 4 2 3 0 4-3 3-2 4 5-6 1 3 4 1 5-1 5-5M2132 3071l-3-6 5-2-5-5 1-6-2-6-6-3 4-4-6-1-6 0 7-2 2-5-5-3-5 1 6-1 2 7-6 1-4 5-5 3-5 0-5 0-2 5 5 4 2 6-2 5 5 4M2110 3074l0 5 7-2 6-1 0-8-5-4-5-2-5-4 6 2 2-7 6 3 1 5-2 6 0 5-2 4-5 1 3 4-4 3-2 4-3 3-3-7-3-5-1-8-5-1 6 3 4 4M2121 3110l0-9 4-7 5 2-6 0-5 1 1 4 5 1-4 2 4 1 6-5 5-5-1-9 1-7 1-8-3 5 5-3 3-6 5 2 2-6 2 4 4 0-1-7 3-5 4-3 4 1M2079 3066l-4-1-3-2 4-7 8-3-4 1 0-6-3-2-3-3-3 2 3 6 1 6 2 5 8-3 5 5-2-6-3-3-4-3 5-6 6-4 7-2-4-2 4 6 6-3 6-3 3 6M2115 3053l3 6 2 5 3 4-4 3-6 1-1-7-6-2-3 3-5-3-1-6-2-6-3-4-1-5-2-5-1 6-3-5 8 0 5 5 5 5 4 5-2 5-2 5-1-7 0-6 3-6M2109 2977l-5 1-1-2 5 8 2 9 4 8 6 0 7 1-1-3 1-4-3-3-4-1 4-2 3-2 0-3-3-2-5 0 0-3-4-1-5 5 1-3 6 6 6 5 3 9-2 8-3 7M2133 3040l5-3 4-2 5 0 5 1 5-1 4 0-2-5 3-2 3-3 4-1-3-5 1 7 0-5 3-1-1-4 0-4-7-3-5-3-5 8 4-1 4-2 4 3 1 6-3 8-1 7M2115 3055l-5-3-5-1 2 6-3-5 0-6 6-3 6-3 4 5 4 5 2 6-3 5 3 4 6 0-5 4-6-3-6 0-5 0 3-6-5-3 5 4-3 5-5 0-5 1 0 5-1-7M2142 3058l4-4 4-4 4-3 5 2 2-5-7-3 1-6 4 3 4-1-1 7-1 6 3 3-8-1 4-2 4 3 3 2 3 2-2 6 2 3 4 0-2-7-4-6 3-2 3-3-3-6M2124 3086l-1 4 6-1 2-7 3-7-1 4 1 4 6-3 5-3-4 4-7-2-5 2 0 4-2 4 1 4-2 3 1 4-3 2-1 3 6-2 6-1-2 3-2 3 6-2 5-5-3 3M2083 3059l-4-2 0-6 3-6 4-6 2-5 0-5-4 0-4 1-3-2-2-3-2 5-2-2 1 6-4 2-2 4 1 6 7-4 7-3 7 4 6 4 8 0 6-3 3-6-5-2-1-5M2135 3119l4-8-7-5 4-7 5-5 2-8-6-5 2-7 3 3-2 5 5-3 2 4 0 4 5-5 2-6 4-5 1-6-7 3-2 5 4 2-3 4 0 4-3-7-7-3-1-7 3-6M2083 3008l6-2 8 0-2-3-3-2-2 7-3 5-1 8 5 6-1 6 1 7 6-4 7 2 4-4-2-5-1-5-4 3-5 2 6-2-1-5 5 6 2 7-1 6 0 6 0 6 6 2M2119 2969l1 10-2 8-3 9 2 8 4 7 4-2 6 4 2 7 1 7 5-1 3 6 5-1 3-2 0-5 1-5 3-3-4-4 5 2-1-4 3-1 1-4-5-3-1-3 2-3 4 4M2093 3036l0-5-2-4 3-5 8 0 7 2-1-5-3 6 4 7 0 7-3 4 7 2-1 6 0 6 3 5 6 2 0 5 2 5 4 3 4 3-1 4 1 4 2-8 2 4 2-7 6-3M2150 3092l3 2 1 3 1 3 4 1 4-5-7 2 1 3-1-9-4 4-2 3 2 3-4-9-6 1-1 4 5-5 1-8 4-5-2 5 3 2 4 1 4-4 2-6-3 4 4 0-7 1M2125 3039l0-6-6 1-5 0-5 3 5-4-4-4-4-2 3-4 6 2-4 5-5 3 7 2 5 5-4 4-5-1 0 6 5 4 5-4 3-5 6 2 4 3 0 6 3 5-2 5 5 3M2146 3016l1-4-7 1-7 3-6 0-5 6 0 7 4 6 5-2 3-4-5 4-6-1-5 5-5 1-4-3-5 3 3 7-2 5 1 6-1 5-2 5 2-7-4-4-3-5-5-1 5-5M2056 2982l8 0 8 6-3 2-3 2-2 0-2 6 9 4 7 7 8 4-4-1 5-4 4-3-1 7-4 5-3-2 6-3-4 3 8 4 6 5 6-2 7 3 3 7 7 1 1 7-6 1M2132 3028l-6 3-5 4-5-3-5-3-1 7-5 2-4 3-2 6-4-1-3-3-5 0-3-3-4 1-1-5-2 4-1-4-1 5-1 5 7 3 8 3 6-4 3-6-4-3-3-3-4-1M2096 2995l6-1 5 7-2 8 5 7-6 3 6-2 4-4 5-2 4-2-2 7 5 4 3 6 0 8 2-5 5 3 4-2-1-6 5 1-6-1-6 3-1 7-5-3 1-5 6 2 2-4M2341 2941l3-1-2-5-4-4-8 0-6-2 5 3-2-4-6-3-1-4-4 7 0-4-6 0 0-4 5 3 0 8 2-3 2-4 5 2-3-4-7 0-4-2-4-3-6 0-4-2-1 8M2332 2969l-8-1-5-5-2 6-6 3-2 5-6-3-4-5 4-5 4 5 4-5 3-4 4 4-6 2-3-6-1-6 1-5 5 2 5-2-2 7-2 6 6 2 3-5 2 6 2 5-1 5M2212 3013l-2-3-1 0 0 1 0 2-2-2 1 2 10 1 10-3 2-8 8-6-2-5-3-2-2 1 6 4-1 3-2 1 1 4-3-2-2-4-2-2-2-3 0 3-2-2-2 0 4 4M2398 2954l-2 6-1 5-11-2-10 1-9 1-1 6 2 1 2-2 0-6 2-1 2 3-4 6-4 5-1-6 3-2-3 6-2 5 1-5-3-6 2-4-3-6 3 1-2 7 0 5 1 4M2371 2952l-9 4-5 6-5 6 0 5 2-4 3-4-2-6-8-2-2-5-7-4 2-4 2-4 3 1 4 3 3-1 4 0 1 5 1-4 3 1-4-5-4-5-9 2-4-4-2-5 1-3M2412 2939l-7-4-9 6-10-2-4-5 2 1-2-4-3-4-9 5-9 5 3 3 2-2 2 3 3-1-10-1-9 0 3 3 1 6-4 6-1 7-6 4-8 2-8 0-7-3-7-2-7 0M2301 2945l3 7-6-1-3 6 5-2-5 4-4 4-4 4 4 4 3 6 1 5 1 5 5-4 6-3-1-6-6 0 3 5 5 2 3 4 0 5-6-2-5 4-3-7-5-5-2 5-5 1M2406 2957l0 3 0 3 0-4-11 1-11 2-9 3 1-3-9-3-9 2-9 0-8 1-1 6 3-3 1 5 2-4 2-4-2-6-1-6-1-5 4-1 3 0-2-5-7-4-8 2-2-4M2402 2980l1-2-1-4-9-5-3-6-3-6 1-3-8-4-1-4-1-4-9-2-8 5-8 4-5 7-5 5-3 6 4-1-3-6-6-5-4-5-5 6-3 6 5-1-1-6-5-4-3-5M2370 2994l-1-7 3-2-7-6 3-1-8-5-9-1-8 3-6-4-8-1-7 1-7-3-6 1-3-6-7 1 0-6 0-6-2-5 0-5 4-4 5-2 5 3 5 3-6 0-5-3 0-5M2208 2941l11 1 6 7-1-3 9 4 9 0 8-2 6-4 7-2-2 5-1 6 4 6 6 4 7 3 7-2 0-6-6 0 0-6-3 6-1-5 5 5 7 0 5-3 5-4 3 7-4 5M2366 2939l2 5-6 6 1 6-5 6-4 6 0 5-1 5 1 5 2 2 3-1 0-6-9-1-8 2 4 1 3 0 0-7 1-5 4 1 3-2 2 4 0-5-4 5-7 4 1-6-9 1M2408 2952l1 0-12 2-7 6 1 2-8 5 2 1 1 0-9-2-9-4 2 0 3 1 2 2 1-3-6-6-9-2-8 4-6-5 1-4-5-5-8 0-5 6-5 5 2 6 4-3 2 5M2285 2978l6-4-2 5-4 3 3-6 7-1 4-5 6-1 6 1 5-1-4-6 1-5-5-5-3-4-6 0-6 1 1 7-4-5-3-3-1-5 3-4-1-5-5 2-4 5 6 4 7 1M2291 2984l-5-2-4-5 0-6 4-6 7 1-3 5-5 1-2 5 0 5 3 5-5-4-5-1-1 5-4 1-1-6 8 0 7-3-2-6 0-7 7-3 6 2-5 3-5-1 0-6 7-2M2301 2952l-4 5 1 7 5 2-1-6 0-6 1-5-4 5-1 6 5 3 4 5 5 3 2-6 4-4-1-6 4-2 5 1 3-4 4 3 1 6 1 6 4-3-3-6 0-6 3-3-6-4M2363 2978l-8 2-3 5-3 5-6-6-8 0-6-6-7 2 3 4 4-3 2-6-3 5 2 5 3 2 4-4-5 4-8-2-5-6-6-4-2 5-3-6-6 1-5-3-6-2 4-5 3-5M2280 2952l7-2 3-4 6 2 4 5 5 5 6 0 5-2 4-1 5-3-5-4 5 1 5-1 3 4-3 6-7-2-4-5-7 2-4 5 2 6 4-4 5 0 5-2-6 3-7 3-5-4M2136 2915l9-4 3-1 12 7 3 8 4 7 12 4 0-1 2 5 0 2 7 7 2 6 1-4 8-5 0-2 0 5 0-4 0 4-1-1 3 7 2 5 7-5 11 0 10 1 6-5 8-3M2261 2952l3-6-4 2 6-4 3-4-1-4-1-4 3 7 4-4 3-4-1-4-5 4-3-2-1-4-3 5 6-1 6 6 6 5-2 6 5-3 1 7 2 6 5 4-2 5-4 4 5 3M2442 2923l-14 1-4-3-2-2-11 0-4-4-1-2 0 2-9-2 1 2-1 7 1 2 1-1-11 2-10-1-2 8-5 7-10 2 1 6 3-2 0-3 2 5 2 2 2 4 2-3-7-4M2227 2979l-1 3 0-6 8 3 9-2 4-7 8 2-2 3-1-6 2 6 3 5 7 3-2 4 1-7-4-3-3-4 1-6 1-6 0-5-1-5 8-1 5-4 4 6 0 7 5 5 7 2M2298 2947l-6 0-2-4-4-3 5-4 3-3 6 4 5-2-1-4-4-3 6 3 6 1 3 6-6-1 0-5 3-3-6-1 1-4-6 0-5 6-5 4-1 7-2-4-5 3-5 1-4-1M2414 2983l-8 5-11-3 0-5-8-6-10 2-10 2-6-5-6-6-4 5-5 5 3 0 4 1-9 0-7 3-6-5-4-7-7-2 4-3 0-6-1-6 4-3 0-5 2-4-4 7 1 7M2258 2977l1 5 7-4 6 3 8-2 6-4-4-4 5 3 7 2 4 3 3-6 2-6-2-6 6 0-2-5-5-4 6 2 6 3 4-2 6 1 3-3-5 4-7 1 1-5 1-5-3 6M2405 3057l-2 8 1 7 4 7 5 6 2 7-1 6 2-6 0-6 6 0 0-5 4-4-2-5 3-4 6 0 3-4-6 0 5-1 1-4-3-4-3-3-5 1-5 6 1-4-1-4-3-2M2427 3069l-5 2-5 5-4 4 0-5 6-2 2-4 4-4 5-1 6-1 3-3 5 4-4 7 4-2 5 0 5-1 5 0-2 8-4-4-5-4-3-3-5 6 2 7-5 4-2 7 2 6M2404 3056l-3-2-4 1 5 7-2 7-3 5-3 5-2-3 3-5-2-3-1-4 4 8 0 7 4 7-5 1-2-4-3-2 5-5-5 2-3 3-2-3 6 6-4-2-3 3-1 5-3 4M2449 3080l5 4 0 6-4 6-7-1-7 0-5-4-5 2-5 4 1-6 6-2 4 5 5-2 4 5-3 6 2 6-6-3 6 1 5-1 1-6-3-5-1-6-5 4 5-1 1 6 5-3M2422 3122l-5 0-6-2-2-6-4 2-3 4-3-5 5-5 6-5 6-4-1-6 1-5 4-5-6 0-3-4 4-4 3 6 5 6 0 7 2 6 6-1-4 4 5 4-3 4-5-4-2-6M2407 3024l-1 9 0-2-5 2-1-2 1 9-2 7-5 1-1 8-2 7 1-4-4 0 3-3 7-1-3-1-2-2-4 4-4 3-2 6 0 7-2 6 6 6 8-1 3-5 7 4 5 6M2411 3082l-4-2-4-1 6-3 6-1 0-5-5 2-5 1-4 3-2 6 6 5 1-5-3-4 7 3 4 7 6 3 7-1-6 2-5 2-5 2-5 0-5 1-4-1-3-4-3-1-1 6M2424 3188l5-8 2 1 5-7 6-4 2-9 0-9 1-9 5-5 1-7-7 0 0-7-5-5-6-4-5 2-6-2-3 5 5 3 5 3-1 5-4 3-1 4-2 3-5-4 1-8-5-3M2456 3141l-7-1-7 0-6-3-6-1 5 1 5 2 4 1 3-6 3-7-1-8-2-6-7-1-3-6 2-6 6-1 3-4 5 0 1 6 2-5 2-5 5 0 0 6 2 5 3 4 3-4M2437 3167l-3-8 0-9 4 2-7-2-6-2-5-5-3 2 1 4-3 3-4 0-4 1 4 3-1-8 7-3 5 1 7-1 4-6 5 2 0 4-6-1-6-2-3-7 6 0 6-3-1-7M2451 3126l-7-1 3-5 5-5 4 3 4-4-7 2-5 3-4 4-5 3-1 5-4 3-6 1-5-3 6-1 4-6 0-7 5-3 6-2 5-1 5-3 5 1-4-5 2-6-7 2-6 3M2460 3166l-5-8-5 2-7-2-3 3-4-8-4-7 5-5 4-6-6-5 2-7 2 4 3 4 4-4 4 2 4-6 1-6-2 5-5-6-4-6-1-6-1-6 5-3 3 5 5 2 1 5M2459 3122l-6 2-3-7-1-7 5 0 3-5 5 1 0 6 1-6-3-6 1-6 3-4 1-5-7 3-5-5 2-4-7 3 6 0 4-1 5-1 1-4 3-3-8 0-7-2-6 4-6 4M2432 3154l6-4-5 2-2-8-1-8-4-6-1 4-3 4 5 2 5-5-1-7-5-6-5 0 0-7-4-5 0-7-1-6 0-5-2-5-4 4 1 7-4 3 1 6-5-1-1 5 7 2M2451 3166l1-9 5-5-3 3 4-6-7-2-7-4-1 4-7-2 6-4 5-1 0 4 6-2 4-4 5-3 1-7 4-4 4-2-1-7-2-7-7-4 4-2-1 6-7 2 0 5 3-5M2278 3153l-6 1-5-4-4-5 1 6-1 6-2-6 4-5 6 2 5-3 6-3-6-4-2-6-5 5-2-6-6-4 7-1-2-6-4-5-4-5-5 5 1-7-2-6 5-2-1-6 5-4-6 1 4 4 6 3 0 6 0 7 2-6 4-6 1 7 1 6 4 5 1 6 7 0-4-5-3 5-6 1M2221 3120l-3 5-2 6-5-3 0 6 6 1 6 4-6 3-6 0-6-3-1 7-2 6 4-5-4-5-5-4-2-6 2-6 0-7 5-4-3-6-6 1 3 5-2 6 2-6 1-6 4-6 5-4 2-6 2-6 1-6-3-6-5-5-2-6 7-1 6-2 6-1 5 4-2-6-5-4-5 5 2 6M2170 3064l7-1 4 5 1-7 5-3 6 1 6 4 3 5-4 5-5 4-3-6-1-6-6 3-6 2 0 7-4 5 1 6 1 6 2-6 3-6 3-5 6-2 0-7 6 1 5 5-2 6-1 6 1 7 2 6-4 5 0 6-6 2-5 5-1 6-5 4-4-5-6 2 5-3 6 3-4 5 0 7M2320 3007l-2-6 5-4 3 5 4 5 4 5 2 6 6 2-1-6-2-6 2-6 5-4-3 6-6 2-6 2-3-6-5-3-5 4-6-3 4-5 2 6 6-1 5-5 5 5 2 6 4 5 6 1-6-2-6-3-4 5 1 6 0 7-6 3-2 6-6 0 5-4 6 2-1 7 4 4 5 4 7 1M2384 2993l-1 6 1 6-6-1-3 5 5 4 1 6 2 6-7-1-6-1 4-5 5-5 4-4-6 0-6 0-5 4-5 3-4 6 1 6 5 3 0 7-4 5 4 5 6-3 5-4-3-5 1-7-4-5 0-7 1-6 4-4-4-5-6 2-2-6-6-3 5 4-2 6-6 3 5-5 4 5 5-5M2343 3221l5-5-2-6-6 0-4-6-5-3-4-5-3 5 0 7 5 4 1 6-6 1-7 0 3-6-6-1-6-2-3 6-6 0-2-6 3-5 2 6 3 6-4 4-2-6-4-5 4-5 6-2 6 1 4 5-4 5-5-3 0 6-5-4-5 4-3 6-3-6 6-2 6 2 4 5 3-5 2-6M2289 3089l-5 4-4 5 2 6-2 6 2 6-3 6-4 5-6-3-6 0 6 0 3 5 3-5 2-6-4 5 5-4 7 0 5 4 6 0 1-7 6 3 6 2 6-2-4-5-4-5-5-5-4-4 5-3 1-6 0 6-3-6 2-6-6-3-5 4-3 6-3 5 6 1 6-1 6-4 6 0 0 7M2323 3027l-6 2-6 3-6 1 0 6-1 7-6 0 6 1 4-5 3 6 2 6-5 4 3 6 4 5 6 1 4 5-1 7 1 6-4 5-5 4-5 4 2 6-5 4 6-2-1-6-2-6 3-6-5 3-6 4-4 4 2 7 2 6 3 5 6-3 1-6 3-5-2-6 0-6-1-7 0-6 1-6M2249 3137l6-2 6 1-5 4-4 4-6-3-5-3-4 5-3-5 2-6-1-7 6-1-1 6 4 5-1 6-7 1-4 4-4 5-1 7-6-3 0-7 3-5-1-7 5-3 7-2 4 5 4-5-3-6 1-6 0-6 3-6-2-6-6-2-1-7-4-4-2 6 1 6 7 1 4-4 7-2 3-5M2278 3105l-7 0-4-5 6-2 2 6-5 4-4-5 2-6 7 0-4 5 5 4 6 3 5-4 6-1 4 5-5 5-6-2 0-6 6-3 6-1-5-4-2 6-4-5-6 3 0 7 7 2 6 2 2-7 1-6-5-3-5-4 5-4-4 5 6 2-4 4-6 3-6-2-6 3-2 6-6 4 0 6M2339 3121l-3 6-5 4-6 1-6-2-6-1-1 7-5-3 6 2 4-5 6-1-1-6-6-2 4 5-3 6-1 6-4 5-5-4-7 1-5-3 0-7 6 2 6 3 6-2 7 0 5-3 7 2-1 6 6-1-1-7-3-5-6-3-5-4-5-4-6 2 0 6 6-2 2 6 0 6-1 7 3 5M2316 3117l6-2 7-1 1-7-3-5 0-7 0-6-3-6-3-5-6-2-6 1-3 6-4 4 4 5 0-7 5 4 2 6 2-6 6-2 7 0 6 0 4-5 6 2 5 5-4 5 3 6 4 4 4 6 5 3 3 6 7 1 6-3 6-1 5 3 6 3 6 2 6 2 5 4-6 3-6-3-4-5M2330 3160l2-6 1-7 0-6-5-3 3-5 6-3-5-3 6-1 4-5-3-6-5 4 0-6-5 4 5-4 6 0 5 3 6-3 5-4 4-5 2-6-1-6-6 2-1 6 6 2-1-6-1 6 1 6 2 6 1 6-3 5-3 6-7 0-4 5-6-2-6-1 2-6-4-5-6-2-6 1-6-3M2269 3086l1 6-2 6 2 6 4 5 2 6-5 5-6 0-6-2 6-3 1 6-6 3 0 6 2 6-4 5 1 7-6 3 4-6-3-6 4-5 0-6 5-4-5-4 5-4 6 0 6-2 1-6 0-7-5-4-6-3 2-6-5 4-3 5 0 6-5-3-2-6-1-6-5 2-5 4-6 4-1-7M2200 3088l-5 4 5 4-2-6 5-4 6-2-6-1-7-1-1 6 6-3-3 6-2-6-3-5-4-5 1-7-6 1-4-5-4-5 0-6 5-5 0-6-6-4-6 3 6 2 5 5-7 0-3-6 6-3 3-6 5 5-6 3 4 6 4 5-2 5 0 7 6-2 1-7-6 3 4 4-1 7-4 5M2281 3214l3 6-2-6-5-4 2-6-1-6-4-5 5-5 3-5 6 0-3 6 6-2-5 3 5-3 5-4-1-6-2-6 2-6 5 3-3 6 7-1 6 2 6 0 6 3 3 5 5 4 6-2 6 3-7 1-6 0-6 3-2 6-6-3-4 5 0-7 2-6-4 5-6-4-5 2 3 6 3-6M2317 3086l-4 6 7-1 4-5 2 6 3 5 5 5 4-4 4-6 4-5 5 4 3 5 5 3-2 6 5 4-4 5 3-5 4 5 6 0-1-6-6 1-6-1-6-3-6 0-5-4 4-5 5-4 6 1 0 7-3 6 2 6-4 5 1 6-6 3-1 6-6 3 3 6 6-2 5-4-6 1-6 0M2190 3049l6 1-7 0-3 5 5-3 6-3 1 6 5-5 4-5 6 1 6-1 7-1 6-1 6 3-3 6 0 6 0 6 3-5 1-6-2-6-7-1 2-6 6-3 6-2 5-4 3-5-3-5-6-4 4-5 6 1-5 5-2 5 3 6-4 4-7-1-6 3-5 4-1 6 4 5 0 6-3 6M2375 3004l0 7-2 6-2-6 7 0 3 5-4 5-6 3 6 3 2-7 5-3 2-6 2-6 7-1 5 3 3-6 6 4 5 4-3-6-5 4 2 6-6 3-6 0-6-1-6-4 2-6-1-6-5-4 3 6 4 4 4 6-5 4 5-5 4-5 0-6 6 2-1 7 5 3 4-5-6 1-3 6M2239 3178l6 2-5-4-4-4-5 5-6-3 7-1 3-5 7 1 6 2 6 3 3 5 6-2 2-6-6 4 1 6 4 5 6-2-3-6 3 6 6-1 6-1 5-5 3-5 6 1 5-4-2-7 2 7 1 6 4 5-2 6 7-1-4-5 7-2 2 6-3 6-4 5-5 3-7 1-2-7 3-6M2245 3148l-1-6-5-4-6-2-6-2-4 5-6 1-6 2 5-4 3-5 4-5 1-6-3-6-6 0-5 3-5 5-7 0-2 6 0 7-6 3 5-4-1 6-2 6 5 5-3 6-6 2-6 0-6 3-6-4 7 1 6 2-6 3-4 5-4 5 6-2 5 4-6-1-6 3 6 2 6 1-3-5M2271 3156l-5 4 4-5-3-6-2-6-2-6 4-4 6-4-3-5-1 6-5 3 1-6 5 4 5-5 3-5 1 6-3 6 6 3 4 5 3 6-5 3 0 7-2 6-6 3-6-1-5 3-1 7-7-1 2-6 6-2 4 5 5-4 3 5 6 3 6-2 2-6-6 4-5-3-5-5-6 3-6 0M2317 3156l5 4 3-6 6 0 6-3 6 0-4-5 0-6 7-1-2-6 0-7 5-4 6 1 6-4-7-1-6 2 2 6 6-2 6-3 2-6-4-5-6 1-7 0 0-7 5-4 5 3 6 2 0-7-4-5-5 4-4 4-7-1-2-6 6-2 4-5 1 6 5 4 6-3 2 6 3 5-3 6M2359 3155l4 6 5-4 5-4 6-3 4 4 5 5 3 5 3 6 4-5 6-3 3-6-1-6 0-6 0-7 1-6 5-4 2-6 1-6-6-4-3 6-7-1 0 6 4 5-1-6-3-5 1-7 6-2 2-6 6-1-6 2 2-6 0-7 1-6-6-2-6-1-4-6-1-6 4-5 6 2-2 7M2295 3217l-6 0-6 2-3-6 1-6 6-3 4-5 6-3 1 7 1 6 1-6-3-6 5-4-1-6 1-7 6 3 6-2 5-4 4-5 2-6-5-4 2-6 4-5-6-3-4-6 0 7-4 5 1 6 6 3 6-1 0-6-1-6-2-7-5-2-1-7-6-2-5-4-6 2-6 2 5 4-5 4M2356 3032l-7 2 0 6-2 6-2 7 6 2 0 6 0 7 0 6-3 6 0 6-2 6 5 3 3-6-5-4-6-1-2-6-3 5-6 0-5-3 0-7-2-6 6-3 5-4 4-4-2-6 6-4-6-3-3 5 3 6 7 1 3-5 5-4 5-4-4-4 3-6-5-3 5-4 6-2-3 6-4 5M2198 3173l6 3 6 3 5 4 4 4 7 0 3 5 6 2 7 0 2 6-1 6-4 5-6 3-2-6-2 7-5 4-6 2-6-1 2-6 4-5 7 2 6-1 3-5 5-4 7 1 3 6-6 3-6-1-7 1-6 2 0 7-3-6-5-5-6 1 0 6 7 2 6 1 6 1 3-6 4-5 3-6M2373 3153l-1 6 7-1 6 1-4-5-3-6-6-1-5-4-5-4-3-6 7 0-2 6 6-3 6 0 4-5 4-5 6 0 7 1 6 3-4 5 4 5-1 6-1 6-6 2 5 4 0 6 4 5 4 5 0 7 6 1-6-1-1 6 3 6 0 6 0 6-2 6-4 5 4 5-1-6-3-6-1-6M2324 3168l-4 5 3 6-3 6 6-3-4-5-5 3-3 6-6 2-5 4-6 1 2-6-2-6-1-6 1-7 5-3-1 6-6-2 1-7 6 0 6 1 6 4 5 3 7 1 6 0-3 6 1 6-4-5-6 1-3-6-4-4 4 5 4 5-6-3-2-6-7-1 6-3 5 2-2 6 4 5 6 2M2206 3071l5 3 4-5 6 3 6-2 6 2 6 2 6 1 7 1-6-3-3-5-6-3 5-4-7 1-6 0-6 2-6 0-6-2-6-3 5-5 1-6 4-5 6 0 6 2 5 4 3 6 6 2 6-3 5-4 4 5 4 5 6 3 0-7-2-6-7 1-1 7 6 2 6 2 3-5-6-1-5 4M2280 3037l-5 4 5 3 2 6 0-6 2-6 2-7 1-6 5 4 0 6-6 3-4 5 4 5 6-2 1-6-1-6-6-2 6-3 6 0 6 2 0 6-4-5 3-5 6-3 1-6-3-6-7-1 6-3-6 1 5-4 6-3 6 0 6 2 6 3 4 5-6 3-5 3-2 7 1 6 5 4 3-6M2209 3198l6 3-4 5-6 0 5-4-2 6-6-1-6-1-5 5-6-2-2 6-6-2 4-5-3-6-6 2-3 6 6 1-6-1 5-4 5 3 7-1 0-6 1-6 5 3 6-1 4 5 7 1 1-7 5-4 2-6 0-6-1-6 3-6 4 4 7 0 6 3 6 0 3-6 6-2 5-3 5 5M2388 3070l-3 6 6 2 2 6 1 7-6 2-3 6 1 6 1-6 6-3 6 1 4 5 2 6 6 2-7-1-3-6-6 2-7 1-6 2-6 0-6-3-5-3 4-5 0-6-2-6-6-1-1-6 6-1-4-5 5-4-5-4-6 0-6 2-5-4-6-3-1 7-6 1-6 3 4 5 6 3-1 6M2277 3032l-2 6 4 5 3 6 5 2 5 5 6 1 7-2 4 5-2 6-5 5-6-1-6 3-6 2 1 6 6-3 5-5-4-5-5-4-1 6-6 3 1-7-1-6-2-6 6-4 3-6 5-3-1-6 3-6-6-3 0 6-3 6-4 5-5 4 5 4-6 3-6 2 0 6 6 3 2 6 6 3M2189 3064l6-2 3-6 6-2 5 4 5 3-4 5 0 6 0 6 3 6-6-1-6-3-3-6 5-5-2-6 4 6 6-2 6 2-5 4 2-6-1-6-6-3-6 3 6 2-2-6 7 2 5-3 6 2-3-5-3-6-7-1-2-6-5-4-2-6 4 5-6 2-5-4 0-6-1-6-6 1-4-4M2405 3126l2-6 5-4-6 2 3 5-6 0-6 1-2 7-7-1 3-6-4 5-5 5 0 6-4-5 5-5 6 2-3-6-1 7-6-1 1-6 3-6 0-6 2-6-4-6-6 3-3-6 0-6 5-4 7 0 2 6 1 7 2 6-2-6 7-2 5-4-1-6 6-2 6 2 0 7 3 6 0 6M2280 3167l1-6-3-6 0-7-7-1 2 6 4-5 6-3-4-5-4-5-3-6 0-6-7-1-6 2-6 0-5 4-5 4 7 0-7-1-6-1-2-6 6 3-2-6-7-1-4 5-2 6 4 5 6-3 6 3 5 3 2 7-5 3-6 3-6 1-6-2-6-3-1-6 0-7-6 3 3-6-4-5M2177 3090l-6-3 6 2 6 3 5 4 5-3 7 2 6 1 3 6-4 4-6 2-5 4-5 4-6 2 0-7-6 4-6 2 7 1 3-5 6 1 6 4 1-7 2-6-3 6 5-4 6-2 5-3 2 6 4 5 5 4 3 6-3 5 0 7 2 6-7 0-1 6 3 6 6 0 6-2 6 3 0 7M2217 3126l-1-7-4-4-6 2-6 3 2-6 5-4 3-6 6 1 2-6-2-6-6-3-6 2-6 3-2-6-5-4-5-4-2 6 6 4-2 6-5 4 2 6 1 7-5 4 6 2 5 4-2 6-4-6 4-4 1-6-5-5-4-5-4 5 3 6-1 7 7 0-4 6-6 2-1-7-3-5-6 2M2169 3131l2 6 4 5 6 2 5 4-1 6 7 0-7 0-5-4-5-4-3-5 4-5 6 1 5-5-3-5-6-4-5-3-1-6 1-7 6 1 5 5 5 3 6 3 6-3 0-6-5-4-5 4 0 7 3 5-5 4-5 3 1-6 1 6 0 7 7-2 6 1 6 3 6 1 6 3 6-2 6-1M2255 3135l-5 3-2-6-5-3-4 5-6 4-1 6 3 5 1-6 0-6 6-3 0 7-3 5-2 6-4 5-2 6-5 5 5 4-3 6-2 6 5 4 2 6-6 1-7-2-4-5-2-6 3-5 7-1 6 0 3 6 2 6 6 2 1-6 6-2 1-7-4-4-3-6 6-1 3 6-1 7-7-2M2251 3034l2 6-4 5-2 6 5 3 3 6 6 1 6-3 5 5 6 3 0-7 6-3 2 6 4-5 6-1 4-5-4-6 5 4 2 6-4 6 0 6 7 0 6 1 6-3 4-5 6 0 6-3 1-6 1 6 4 5-1 6 3 6-6-1-3 6-6 1-6 3-6 1-1 7-2 6 1 6-5 4M2363 3097l4-5 4-5-1-6-6-3-6 2 2-6 6-2 7 0 2-6-2-6 4-5-5-3-1-7-3-5-2-6 3-6 2-6-5-4 6 0-3 5-1-6-3-6-5-3 2-6-6-2-2-6 4 5 0 6-2 6 0 7-4-5-2-6 3-6-5-4 0 6-7 1-6 3 0 6-6 3-4 5M2295 3136l3 5-6 2-7 0-5 5-4 4 0 7 3 5-4 6-3 5-3 6-6 2-1-7-1-6-3-6-6 2-6 0-6-4-6-2-4 5 1 6-6 2 4 4-4 5-6 1-2 6-6 3 4-5 4 5-1 7 6 2-6 2-6 1 6-3 6 3 4 4 5 5 6 1 7 1 1-6 1-7M2269 3162l-2-6 6-1-4 5-6 1 6-3 0 6 4 5 1 7 6-4-6-1-5-5-1-6-7-2-2 6 5 5 2 6-1 6-2 6 3 5-3 6-5-5-4 5-6 2-6 0-6 3-6 2-2 6 2 6 3 6 6-2 2-6-4-5-6-1-7-2-1 6-6 3 4 4-6 1 0-6 2 6M2347 3039l3-5 5 3 6 2 5-4-1 6-6 3-6 3-6 2-3 6-7 0-6-2-3 6 5 3 2 6 1 6 4 5 6-3 4-6 6-1-5-4 5 4 5-3-2 6-2 6-4-5-6-3-4 5-1 6 2 6 2 7-6 2 1 7-3 5-7-2-5-3-6 2-2-6 7-1 3 5 1 6M2315 3211l-1-6 7 0-2-6 4-6 0 7 4 5 2-6-6-4-1-6 6-1-1-6 6-3 2-6-6-1-7 1-5 3-4 5-4-4 6 2 6 1 6-1-5-4 1-6-3-6-5-3 0-6-6-1-6 2 6 2 4 5 0 6 1 6 3 6 6-3-1-6 3 6 5-5 1-6-6-2 3 5M2238 3221l5-4 2 6 0-6 0-6-4-5-1-6-5-4 7-2 0-6 4-5 5-4 3-6 0-6 6-2 4 5 5 5 4 5 6-2 3-6 2-6-3-6-4 6-2 6-4-5 2-6 0-6 7-1 5-4 6-2 4-5-6-1-7-1-5-3 4-5 1-6 6-3 3-6 6-1 5-4 4 5M2247 3141l-3 3 4 4 7-2 1-7 5 2 7-2 7 0-1 5 6-1 6 0 6 0 6 0 6 1 2 4-6 1-3 4-3 4-6 0-4 2 0 5-6-1 0-8 3-7 4-6 4-6 6 0 4-5 2-7 6-1 5-2M2171 3135l-1 3-2 1 0-6-3-1 2-6-1-5 0 4 4 5 6 5 3 5-3 0 8 2 9-2 3-7 6 4 7 3 5 4-1 4-2 2-1-6-2 2-3-4 7-5 7 2 5 4 3-7 7 3-4 0-4-3 6 4M2287 3017l1 9-5 2 1 8 1 8 5 4 5-3 6 0-6 5-3 7 5-3 1 8 3 6 5-2 0-5-7 1 2-5 3-3 5-1 1 7-7 4 0-5-5-2-6 2-1 8 1 7 1 6-3-4 3-4 4-3 6 0M2276 3162l6-3-5-3-6-1-5-2-3 3-2 4-5 0-2-6-2-7-2 4-1 4 4 4 6 2 2 4-1 4-4 2-4-6-3-6 4-7-5 0 8-2-2 4-5-2 7 2-1 4 0 4-5 0 4 4 7-3 5 2M2249 3029l-4 4 6 6 4 7 6 6-2 7 2 7 0 7 1 7 4 6 5 5-1 6-3 5 2 6 4 5 5 3 7 0 5 3 6 1 4-5 5 1-1 6 5 2 3 4 6-1 1 5 2-7-7 2-4-6 4-4 4 3M2218 3091l6 4 8 0 2-5-3-3 1-5 3 6 8-1 7 2 6 4 7 0 6-2 7 3 1 6 4 5 2 6 4-5 2-6-5 4-3 5-1 5 0 6 4 4 6-4-4-5-1-6-6-2-4-4 4-6 2 6-2-5M2305 3124l-2 6-6-1-6-3-3-5-6 0-5 2-1-6 4 5 4 4 6-1 5 4 6 0 5 0 4-5 4-5 3-5-1-6-3-5-3 5 0 6 6 0 4-3-6-2-6-4-6 2-5 4 5 3 6 1 0 6 3 4M2221 3028l-4 5 3-4 6-3 8 4 6-2 5 7 6 7 3 7 5 6-1 8-4 4 2 8 2 6 0 7-2 5-2 6-3-5 5-4-4-3-1-5-3-3-4 3-2-4 3-5 6 4 4 6-4 3-5 2-1-5 2-5M2352 3147l-4-7-8 0-4 5 4-5 1-6 1 4 4 1-7 0-7-3-3-7 1-6-6 3 3 4 4 3 4 2-3 4 1-6 5-1 3 3 4 1 3-4-1-7 2-6 4 2 4-2 1-6-1-6-8-2-6 3 2 5M2130 3191l10-1 6-9 0-6-1 0-1-5-2-2-1-1-2-3-1-2-1 0 1 3 6-8 9-5 10-3 5-7 10-1 8 3 5 5-2 1-3-3 6-6 9 1 8-1 9 1 7 2 8-2 8 0-5 1-3-4-2-6M2402 3016l-7-2 0-3-9 2-2-3-6-3-8 1 1 8-8 3-8 4-2-4 4 4-4 7-6 8-7 4 2-4 0-3 1-3 2-3 4 4 1 7-6-2-7 1-8 2-1 8 0 7-7 2-2 7-6 3 0 7 2 7M2110 3102l-1-2 10 5 11-3 7 5 6 6 10 0 4-7 1-5 10 3 3-6 9 1 6 6 8-3 2-6 1-6 0 6-3-1 2 6-4 0 9 3 2 5 5 5 5 6-2 4 8 2 8-1 8-2-2 4-1-6-1-7M2319 3060l-6-2-4-3 2 6 5-1 3 6 5 2 3 6 5 1 5 1-7-2 2 6 5-1 4-1-4-4 5-1 4 0 1-4-8 1 4 5 0 6-7 0-6-3 4-1-6-3-3-5-4 6-7 3-4 5 5-1 2 6M2228 3120l6 4 5 5-1 5-3-5 3 5 2 6-4-1-5 1 7 3 7-1 7-3 7-3-2-6-3-6 2-7 2-6-4-2 7-2 0 6 3-6-2-5 6-2-1-5 4-5 6 1-5-2 1-6 7 0 2-5 0-5M2229 3086l-3-1-3 4 4 6 6 5 2-6 1-5-1-5-4 3-4 0-3 4 5 6 7-1 7 3 6 4 7 3-2 5 7 0-3 4-3 4-5-3-4 3 1 5-4-1-2-6-3-5 3-6-4-2 4 6 4 5-1 6M2286 3095l-6 1 1-6-4-4-6 1-2 6-2 6-5 1 2-6-3-5-3-3 5-4 2 6 4 5 5 5-4 5 7-2 3-5 7 1 6 0 1-5-5-2 3-5 6 1 5 1-1 6-4 5-5-4 3-4 6-1-3-5M2295 3183l0-9 2-7-6-2-6 1-3-6-6-3 2 5 7-2 6 0-4 2-3-6-3 3-4-6 7-1 3 4-1 5 6-1-5-5 4 3-5 1-3 3 3-7 5 2 1 5-5-5-2-7-6-1-5 1-5 1-3 3M2334 3084l4 4 0 7-4 6 0-6-7-2-7-1-7 2-6 3-6-2-6-1 0-6 6-1-4 5-5 4 4 4-2 6 6 1-2 6-6 2-2 6-4 4-5 0 6 1 1 5-5 3-3-6-5 2-5 1-4-5-4-3M2301 2923l5 3 2 0 6 4 3 9-1-1-5 1-5 0-6 7-4 10 4 9 3 9 2 10 3 8 5 1 4 7 5 2 0-3 3 0-5-1-7 4-6 5-6 6-6 1-5 1-6 4 0 8-4 6 6 2 4-3 3-3M2344 3109l-3 5-2 6 3 4-1 5-5 5 4 2-3-7-7-2-7-1-6 1-2 5-1 5-3 5-6-4-2 4-3 4-3 4-5 3-6-1-4-5 6 0-3-6-2-7 0 5 1 5-1 5-5 2-5-1-4-6-5 0M2241 3194l4-7 2-9 5-7-1-8 1-8 5-5 2-8-5-1-5-1 0-7-2-6-3-5 1 5-2 5-4 0-1 5-4-2 8-1 0-7-5-1 2-7-1-6 6 4 6 3-1 5 5 4 8-1-5 1-4 3-4-3M2275 3058l2 7-3 6-1 7 6 1-2-5-5 4-5-2-5 1-4 4-2 6 2 6 5 4-3 4 7-1 6 2 0 6 1 5 4 5 2 5 4 5 4-6 0-7 6-1 0-6 4 4-2 5 2 6 6-1-5 3-4 5M2230 3127l5-6 0-7 0-5 7-3 5-4-3-5 1-5-2-5 3-6-4 3-5 2 3-6 0-5 2-5 3-4 8 1 7 1 6-1 1-5-3 6 6 3-1 7 3 6-4 4-1 6-4-3 7 0 5 5-2 5 6 0M2233 3186l-5-3-3-4-3-6 0-8 2-7 1-8-3 1 6 4 4 4-4-4-3-4-4-2-2 3 1 5-3-4 5 3 3-7-1-7 0 5-3-5 0-6 0 4 8-1 8 0 3-7-3 3-4 2-4 0 7 2 5 4M2204 3019l8-1 1-3 5-2 7-1 5-3-3-2 1-3 3-3 8 2 6 7-3-2 6-1 3-2-4 3 4 8-5 3-4 0-4 4-4 1-4 0 0-3 5 7 0-3 6 6 3 8-2-3-5 1 5-3-3-1-2-3M2245 2980l-1 9-2 8-1 9 0 8-2 8-5 0-4 2 4-4 3-3-1-3 4-2 0-3 1-4 2-3 3-2 7 0 6 0 5 7 4-3 3-2-5 6 1 9-4 5-6 2-4 1-4 6 8 2 6 1 2 8-3 6M2251 2965l1 10 6 7 3 9-4 6-4 7-1 9-4 0-2-3 2-3-2-2-3-1 7 1 4-2 2-3 0 9-4 5-5 1 7 0 7 1 6 0 3 8 1 9-2 7 4 7 5 6 4 6-2-4 2-4-6 0-4-2M2237 3156l7-4 5 3-2 4-3-6-5-2-3-5 6-5-4-3-3 3 2-7 4-7 4-6 7 1 4 5 7 2 1 5 3-7-5 0-1-6-5-4 1-6-5 0-3 4-4 2-3 4 0 6 0 5 0-7 4-6-2-5M2353 3033l-6 7 4 3 3-2 2-3 2-3 2 6 2 7 2 6 3 0 4-1-2-4-8 3-2-4 4 2 4 2-4 8-8 3-7 0 0-4-7-3-3-4-7 0-7 0-3 7 4 5 3 6 5 0-4-4-3 7 2 6M2210 3062l-2-2-1-4-2-2-2-2-1 7 4 7 3 7 5 7 7 3 1 7-2 5-3-3-2 5-4 0-1-5 8 0 7-4 8 2 2 6 2 6 4 6-5 1-3-3-3-3-2-5-4-1 4-5 4-6 1-5 8-2M2454 3052l2 2-2-4 1 0-6-4-1-3-5-4 1 0-4-4 1-1 1 1-1-3-3-4-10 5-1-3 0-2-9 4-9-1 2 4-3-4 1-1 0 6-1 8 3 2 1 5-5 7-3 8 3 2 0 5 2 4 2-1M2255 2987l7 2 6 6 4-2 2-2-4-1-5 7-5 4-4 1-1-3-4 1 6 0 6-1 5-1 7 3 6 2 3-3 3 8-4 7-5 1 5 6 4 7-2 8 0 8 2-4-4-3-2-3-4 6 0-4-2-3-4-3M2392 3064l-9-1 0-4-1-4 3 3 3 1-2 7-1 7-6 6 0 7-2-6-8 4 1 6 0 6-2 6 2-4 3-2 0-6 1-4 0 6-6 5-8 2-4 6 4 1 0-6-8 0-7 4-5 4 0 6 4 2 4 2M2246 3137l-4 0-5-1 5 4-3 3 1 5 7 2 1-8-1-6 6-4 3 4-5-2-4 2-3 2-4 3 7-3 7 1 6 2 3 5 2 5-3 2-4 3-5 0-2-7 2-7-1-7 7-2 6 2 0 6 1 4-2 5M2045 3132l3-4 9-7 13-1 3-6 1-2 1-3 2-4 3-5 7-5 11-3 7-6 0 3 0 1 5 6 0 1 2-5 9-4 6 6 8 6 2 5 8 4 10 3 10-2 10 1 3 6 3 5-1-4 7-6 3-6 6-5M2239 3019l-3 6-2 7-4 0-3-1 1-4-3-2-2-1-1 8-1 7-2-3 2-4 5-3-1 8 3 8 1 8 0 7 8 3 8 0 4-4-1-4 6 4 0 7 5 6-1 7 2-6 0-4 5-4 6 3 0 7 7 2M2415 3103l-5-6-3-6 2 0 1 5 0-5 2 0 2-3 1 4-7 6-7-5-9 1-7 5-6 5-3 6-8 2-7 3-6-6-8-1-2-7 0-5 2 4 5 1 0 6 0 6-8 0-8-1-4-5 2-5-3 5 0 6M2331 3092l-7 0-2-5-5-5-5-3 5 4 1 6 0 6-4-4-3-5 2-5 0-5-5 5 1 7-6 3-6 2 1 6 0-5 0-6-6-2 2-5 2-5-3-5 2-5-5-2 4-4 1-4 3-4-6 1 1-4-6-1M2365 3055l-6-3 3-1 1 7 3-1-1 8 4-1 3 0-2 7 3 1 3 4-4-5-9 0 0-5 3 0 1-5 3 0 2-3 3-2 0-4 3 1-8 0-1 7 4 4 0 6 1-5 3 1-7 5-9 2-8 1-4 7M2321 3096l2 5 0 6-4 5-7 0-4 4 5 1-1 5 5 2 5 2 3 4 0 5-3 5-3 4-5 3-2 4-5 4-1 4-2-7 5 1 5 0 5 1 5 1 3-6 1-7-2-7-6-5 5-2 4-3 5 0-7-1M2320 3220l-1 2-3 3 3 0 1 2 5-1 4-7 5-4 4-6-1-9-7-1 2 2 5-2-7-1-7-3-7-1-3-9 4 1 3 3-7-2-6 1-3-8-4-7 6-3 5-1 6-2-4 4 1 4 0 3-4 3-3-8M2266 3162l-5-3-4 2-4 2 1-8 7-2 6-4 1-7 0 4-5-1 2 4 2 5-3-6 7-2 0-7 4 4-4 3 6 2 5-5 6-2-4 3-4-5-5-4-1-6-6 0-3 3-5-1-5-1-3-5-5-1 4-6M2310 3201l3 3 0 3 2 1 5 0 5-1 1 3 1 2 0 3-4 1 5-1 4-1 5-3-6-7-2-9 2-8 3 1 5 0-3-9-6-6 1-8 4-5 2-6 4 0 4 2-2-7-3 4-6 3-1 4-1 5-7-1M2414 3224l-6-9-5 2-6 2 1-8 2-6-6-9-8-6-5-9-7 2-5 3 0 3 4-5 2 2 3-3 3-4 4-2-7 2-9-4-1-8 2-6 3-4 2 3-3-7 2-6 3-2 4-3-2-7 1-5-8 0 0-6M2375 3069l-9 3-2-5 4 2 3-2 4 1 3-1 3 2 3 1 3-2 1 5 1 5 1-3 0-5-8-2-4 7-6 6-8 4-8 1 1 6-7 3-6-4-1 6-4 6-7 2-7-3 5 0-3 6 5 2 0 6-3-6M2267 3149l7-2 6-1-5-2-6-1-3 3-6-3 2-7-5-4 4-6 1-7-5 2-3 4-4 3 0-6 2-7 7 2 4-6 6 1 6-4 2 6 5-5 6-1 6 1 5-3 1 6-6 1-6-1-6 1 5-4 1-6M2371 3111l4-2-1-6-9-1-6-4 1-4 4-2 0 6-8-1 2-5 1-5 4-1 4 0-5-5 3-3 0 6-2-5 0-5 2-4 3-2-6 7-5 6 4 1 4 1 2 5 0 6 3 2-5 5 3-3 3-2-9 0M2360 3109l-1-6-6-5-4-5 1-5 2 5-6-4-2-6-8 1-7 1-1-5 4-1-2 6-7 1-5-3-1-6 3-3-3-5 5 3 4-2 1-5 1-4-5-3-5-3-6 5-6 4-6 3-4 5-6 0-4-4-6 1M2188 3163l-2-5-2-1-1-7 8-5 7-5 0-6-3-4-2 2 2-6 7-5-3 2-1 4-3-2-2-3-3-2 4-7 8-3 7-4 5-6 0-5 0-5-1-5-2-4-2 6-3 2-1-5-2-3-3-1 4 6 8 1M2218 3057l-1-4-2-3 7 6 6 6 5-4 4-4-4 3 4 7-4 1-3-3-3 5-3 5-4 1 2-5 0-5 8-1 6-3 3-4-4-2 4-4 4-4-4 3 3-4 4-4 4 8 5 6 0 7 5 5 7 0 6-2M2285 3194l-2-8 2-8 3-8 6-3-5-6-6-1-5 0-4 2-6-3 0-8-1-7 2-7 6 3 6-1 6-4 5-5 1-7 2 5 6-1 2-6 6 0-1 6-6-4-4 4 2 5 4 3 5-4 2-6 5-4-7-2M2413 3105l1-4-8-4-9 0-8 3-8 3-6 5-7-4-7 3-8 0-7-4-6-4 2-4 4-2 3-4 3-4 3 4-3-6-8 1-6 5-7 1-4 6 4-1 2 5-6 4-6-4-3-6-7 1-5 4 4 4 1-6M2459 3215l-11-2-10-3-10-5-6-9-5-9-3-8-1-8-10 0-8-5-5-7-4-8 3-1 3 1-1-7-9 1-2 4-7 3-1 5 3 2 3-3-2-8 1-6-3-7 2 2-4-7-4-6 2-4-5-6-4 5-4-6M2324 3152l-5 3-3 4 5-3-4 3-6-4-6-4 0-7 6 0 4-5-3-6-5-5 1 5 5 3 0-7-4-6 3-6 5 1 1-6-6 1-6 3-2 5-4 5 4-5-1-7-1 6-4-6 4-4 5-3-2-6-2-6M2373 3015l-7 7 2 7 1 7 1 7 1 7 1-4-3-4-4-4-7-1-7 4-8 1 4 3 2 7 4 4-6 6-2-5-1-4-2-5 3-2-2-5-7-1-3-4-1-4 5 2 3 7 0 7 2-3 4 5-2 7-5-3M2166 3069l3-10-9 3-11 8-10 0-2-6 8 6-15-21 2 2 0 3-6 1-16 6 5 12-2 1-2 1-9-6-1-1-19 1 3-2 0-4-6-18-3 20 0-8-5-19-4 7-5 7-13-18 6 7-6-2-5 7 4-11-16-3 3 1-6 9 3 8-2-1-6 3 0-4-14 3 0 3-5 1-7 2 5 0-15 2 3-4-7 5M2168 3051l-12 17-4-5 8 1-11 4 17-7-15-1-18-10-3 1-10 11 3-7-11 4 3 12-7-4-8-2 1 4 0-1-11 3-1-2-3-1-10-2-2-7-3 0-2-12 10 9-24-3-4 0 4 3-9-12 5-3-23 1 11 6-7-2 7-5-7 16-1-16-17 13-7-20-2 0-6 7 6-9-9 7-13 15 6 0 4-3-17-7M2159 3079l4-9-18 0 1-11 9 0-17-3 6 2-3-6-16 2 4 5-5 6 2-7-7 3-16-1 10-6-9 0-6 8 0-2-14-7 5 12-9-20-1 6-7 4 1-12-6 6-3 9-6-10-4 9-2-2-6-12-5 5-2-12-7 16 3 0-6-3-5 2-16-1 12-2-7 4-2-2-4 4 1 0-6 8-13 11 2-14-2-9M2107 2996l0-8-3-3-7-1-2 2-1-12 1-5 6-3-9-5 4-2 1-3-6-13-2 10-11-11-9-1 2 2 3-6-3-5 8-6-11-22 9 11 6-2-1 7 10-7 2-1 3 4 12 0 8-1-11-8 22 14-4-13 1 1 2 2 16-7-6 4 12-9 1 4 3 5-1-2 6 11 3-17 2-2 0 13 3 4 20-1-14 4 18-11 7 8-4-8 11 3-3 7-14 2 14-14 11 0-5-1 17 6-1-5 5 1 0 5 4-16 9-3 5-3-3-8M2111 2996l-2-16 2 1-11 0 5-3-4-1-12-2 1-1-1-6-4-7-7 0-6-7 10-2-8-10-11-6 16 5 0-3-4-15 0-7 6 7-2 12 5-19 10-1-5 9 6-13 2 11 8-8 10 4-9-3 12 5-1-11 0 0 4 5 9 2 1-3 12 6 4 3 1-9 2 18 1-9 5 9 0-4 13-3-4 5 5 4 7-9 13 6 4-12 7 10 0-1-3-4 14-5-2 5 0-5 6 0 11-6 2 10 1-15 14 12-1-11-4 3-1-4 18 0M2108 2994l1-7 0-5-4-2-5-1 5-7 1-13 2 4-13 2 2-6-6-5-3-6 1-6-4-2-8 0 4-4-2-7-1-10 8 9-12-17 3-1 10 1 2-7-8 3 3 7 14 1 5 2 5-1 5-8 2 12 4-6-2 2 11-7-3 0 12 8 11-7-4 5 3 4 5-3 4 5-9-12 18 5-4 4 11-1 14-10-7 8-2-3 5 13 19 4-8-4 7-7 7 3 10 5-7-10 6 0 2-2 10-6-2 11 20-4-4-2 4 6 2-14-4 3M2419 2994l-1-14-7 3 11-7-11-9 7 1 6-8-12 5 8-7 2-3-7 6 13-12 0 2 9-7-5-13-1 8 15 0-19-14 10-6 9-8-16-3 11-1-1-3 6-13 1 2-4-2-2 11 18-21 1 1 5-3 1 7 0-7 11 7-3-6 7 11 3 1 14 6 5-8 4-4-11 6 12-14 8 11-1-1M2410 2996l8-10-4-2 2-3 2-8-2 11 1-17 12-3 8-3-5-3 10 3-2-14-2 8 3-7 12-10-8-2 1-6 0-3 7-4-3 1-1 1-4-8 5-11 11 5-1-10 2-1-10-6-3-5 5 3 8-1-2 0 20-4-15-8 11 5 7 4 4-2 2 6 6-2 6-4 4 4 1 2 5 4 1 7M2421 2983l6 11 0 3-10-14 17-7-8 4 3-10-3-12 7-4-1 12 4-9 1-8-13-2 2-16-2 6 7 7 1-9-4-12 15-4-3-7-7 8 12-18-1 7 2-15-10 3 7-3 8-1-5-16 9-1 21 8-4-11 2-3-4 17-1-9 8 14 6-10 3 2 5 3 0 0 5 0 8 1 4 14-2-18M2258 2979l-8 0 12-6 2-3-4-5 15 8 3-2 5 1 7-3-9-10 6 13 9-9-6 3 20 0-9-15 5 15 9-1-2-2 7 0 2-3 10-1 2-7-5 10 8 1 9-2 8-10-1 5 0 4 9-4 0 9 12-12-5-3 4 2 15 3M2244 2971l18 1 0 5 0-7 7-5 1 7 11-2-6 10 3-12 4-10 9 10-2-2 3-4 8-7 12-7-10 9 11-5 12-13-15 5 10 8 11 6-2-2 5 4 4 8 8-5-1-8 1 5 6-2 7 10 6-3 4-2-1-2 6 3 1-5M2256 2980l2-6 5-2-6-7 7-2 1-7 7 1 8 1-8-6 14 8-5-9 5 4 14-3 8-7-3 3 5-4-2-6 10 2-7 5 14 4 5-6 7 9-9-7 3 5 11-2 13 4-3-10 4 4 8 11-4-9-6 11 18 5 3 3 4 0M2422 3083l-4 9 6-16 15 2-1 0 4-4 0 2 1-4 15-9 3 1 9 11-7-1-6-13 21 21 2-11 1-6 3 13 7-2 8 0M2420 3075l10 3-4 5 3-3-6 4 18-16 7 8 10 2-8-4 15-1 3 1-6 5 14-3 3 9-1-9 7 13 3-8 11-18-6 9M2426 3078l-4 14 5-16 2 0 3 11 8-17 14 12-18 1 18-6 6-2 3 11 6-10-5-8 14 2 3 2 0 0 1-7-5 15 12-7M2374 3238l16-2-7-2 11 10-14 3 10 7 1 6 6-1 4 3-5 5-3 1 10 8 3 6 7-14 8-2-2 12-4 7 9 1-1 6 17 5-5 11-11-10M2378 3242l9-7 10 1-6 11-3 5-3 10 7-5-1 1 21 1-16 14-1-4 16 3 2 5 0 7-7 7 8-12 7 14-9 3 5 0 4-3 14 6-2 4M2381 3239l10-14-3 20-5-10 16 15-5-2 5 6-5 4 13 6-15-14 14 16 3-7 5 20-8-5-3 8 16-3 2 6 7-5-4 7 8 2-4 9-1 3M2233 3234l-8-3 7 9-1 8 3 1-3 5-3-2-2 13 8-11-5 14 1 2M2233 3228l-7 8 0 1 1 9 0 10-1-8 9 10-3 1 3 6-3-1 3 9M2221 3225l9 14 6 3 8 4-10 4 8-5-8 13 10 0 2 1-12 3 21 9"/></defs>
<use href="#cl3" fill="none" stroke="#efc4bf" stroke-width="6.8" opacity="0.45" stroke-linejoin="round"/>
<use href="#cl3" fill="none" stroke="#a63b35" stroke-width="2.2" opacity="0.85" stroke-linejoin="round" stroke-dasharray="5 4"/>
<path d="M540.5 747.2 L604.8 747.2 M604.8 747.2 L604.8 807.1 M604.8 807.1 L540.5 807.1 M540.5 807.1 L540.5 747.2 M547 753.7 L598.3 753.7 M598.3 753.7 L598.3 800.6 M598.3 800.6 L547 800.6 M547 800.6 L547 753.7 M540.5 747.2 L547 753.7 M604.8 747.2 L598.3 753.7 M604.8 807.1 L598.3 800.6 M540.5 807.1 L547 800.6" fill="none" stroke="#3c3c3c" stroke-width="0.75"/>
<text x="93.25" y="854" font-size="12.6" fill="#9dc2d9" text-anchor="middle">POAM-1</text>
<text x="267.58" y="854" font-size="12.6" fill="#3a7fa8" text-anchor="middle">PAOM-2</text>
<text x="420.08" y="854" font-size="12.6" fill="#e8aa9b" text-anchor="middle">PAOM-3</text>
<text x="570.58" y="854" font-size="12.6" fill="#c45a43" text-anchor="middle">PAOM-4</text>
</svg>
</body></html>
